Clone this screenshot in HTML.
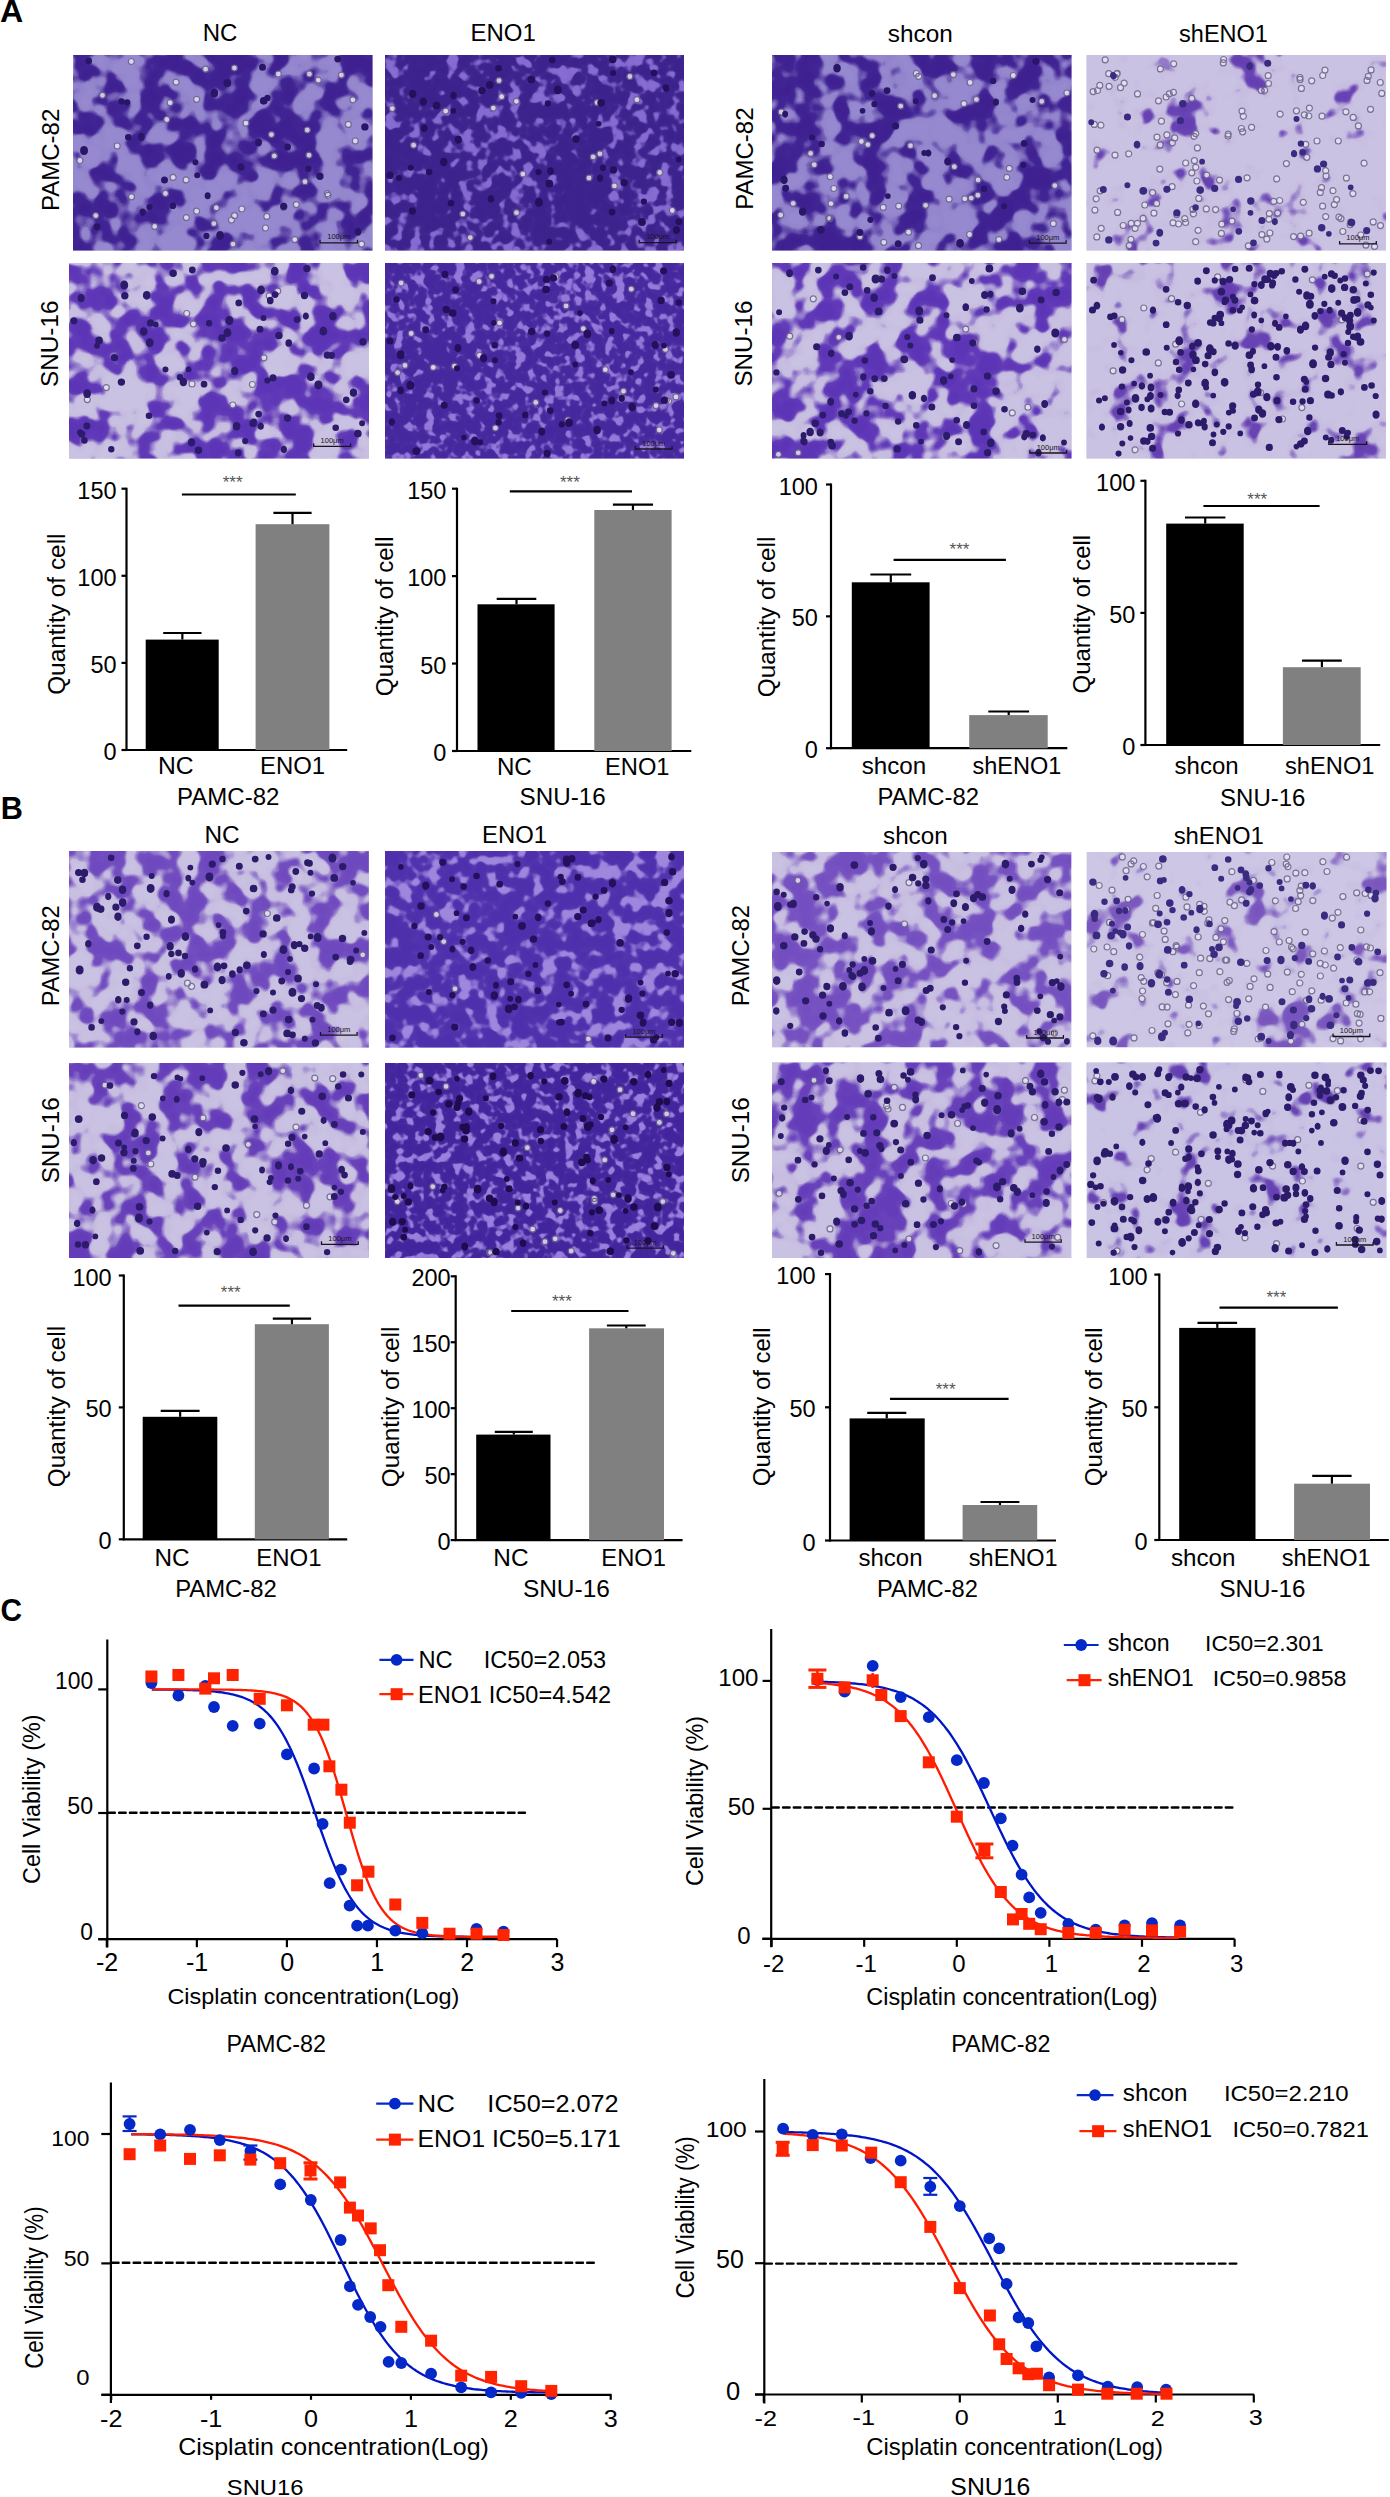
<!DOCTYPE html>
<html><head><meta charset="utf-8"><style>
html,body{margin:0;padding:0;background:#fff;}
svg{display:block;font-family:"Liberation Sans",sans-serif;}
</style></head><body>
<svg width="1390" height="2497" viewBox="0 0 1390 2497">
<rect width="1390" height="2497" fill="#fff"/>
<text transform="translate(-0.10,22.01) scale(1.0061,1)" font-size="32.00" font-weight="bold" fill="#000">A</text>
<text transform="translate(0.65,818.56) scale(0.9582,1)" font-size="32.00" font-weight="bold" fill="#000">B</text>
<text transform="translate(0.48,1620.77) scale(0.9320,1)" font-size="32.00" font-weight="bold" fill="#000">C</text>
<text transform="translate(202.72,40.86)" font-size="24.00" fill="#000">NC</text>
<text transform="translate(470.53,40.86)" font-size="24.00" fill="#000">ENO1</text>
<text transform="translate(887.82,41.53) scale(1.0143,1)" font-size="24.00" fill="#000">shcon</text>
<text transform="translate(1179.05,41.53) scale(0.9802,1)" font-size="24.00" fill="#000">shENO1</text>
<text transform="translate(204.50,843.11) scale(1.0163,1)" font-size="24.00" fill="#000">NC</text>
<text transform="translate(482.04,843.11) scale(0.9933,1)" font-size="24.00" fill="#000">ENO1</text>
<text transform="translate(883.03,844.13) scale(1.0094,1)" font-size="24.00" fill="#000">shcon</text>
<text transform="translate(1173.64,844.13) scale(0.9948,1)" font-size="24.00" fill="#000">shENO1</text>
<text transform="translate(58.81,210.97) rotate(-90)" font-size="24.00" fill="#000">PAMC-82</text>
<text transform="translate(58.41,386.90) rotate(-90) scale(1.0118,1)" font-size="24.00" fill="#000">SNU-16</text>
<text transform="translate(752.51,209.76) rotate(-90)" font-size="24.00" fill="#000">PAMC-82</text>
<text transform="translate(752.36,386.50) rotate(-90) scale(1.0070,1)" font-size="24.00" fill="#000">SNU-16</text>
<text transform="translate(58.81,1006.35) rotate(-90) scale(0.9886,1)" font-size="24.00" fill="#000">PAMC-82</text>
<text transform="translate(58.81,1183.30) rotate(-90) scale(1.0082,1)" font-size="24.00" fill="#000">SNU-16</text>
<text transform="translate(748.66,1006.35) rotate(-90) scale(0.9916,1)" font-size="24.00" fill="#000">PAMC-82</text>
<text transform="translate(748.56,1183.30) rotate(-90) scale(1.0082,1)" font-size="24.00" fill="#000">SNU-16</text>
<defs><filter id="bl" x="0" y="0" width="100%" height="100%" color-interpolation-filters="sRGB"><feGaussianBlur stdDeviation="7" edgeMode="duplicate"/></filter></defs>
<svg x="73.00" y="55.00" width="299.50" height="195.50" viewBox="0 0 299.50 195.50" preserveAspectRatio="none"><rect width="299.50" height="195.50" fill="#6b56b1"/><filter id="oA1" filterUnits="userSpaceOnUse" x="-30" y="-30" width="359.5" height="255.5" color-interpolation-filters="sRGB"><feGaussianBlur in="SourceGraphic" stdDeviation="7" edgeMode="duplicate" result="c"/><feTurbulence type="fractalNoise" baseFrequency="0.045" numOctaves="2" seed="114"/><feColorMatrix type="matrix" values="-1.600 0 0 0 1.300 -1.600 0 0 0 1.300 -1.600 0 0 0 1.300 0 0 0 0 1" result="n"/><feComposite in="c" in2="n" operator="arithmetic" k2="1" k3="1" k4="-0.5" result="s"/><feComponentTransfer in="s"><feFuncR type="table" tableValues="0 0 0.05 0.95 1 1"/><feFuncG type="table" tableValues="0 0 0.05 0.95 1 1"/><feFuncB type="table" tableValues="0 0 0.05 0.95 1 1"/></feComponentTransfer><feColorMatrix type="matrix" values="-0.3451 0 0 0 0.5882 -0.4118 0 0 0 0.5373 -0.2431 0 0 0 0.8118 0 0 0 0 1"/></filter><g filter="url(#oA1)"><rect x="-30.3" y="-30.3" width="55.6" height="55.0" fill="#808080"/><rect x="24.7" y="-30.3" width="25.6" height="55.0" fill="#808080"/><rect x="49.6" y="-30.3" width="25.6" height="55.0" fill="#808080"/><rect x="74.6" y="-30.3" width="25.6" height="55.0" fill="#808080"/><rect x="99.5" y="-30.3" width="25.6" height="55.0" fill="#808080"/><rect x="124.5" y="-30.3" width="25.6" height="55.0" fill="#b2b2b2"/><rect x="149.4" y="-30.3" width="25.6" height="55.0" fill="#b2b2b2"/><rect x="174.4" y="-30.3" width="25.6" height="55.0" fill="#808080"/><rect x="199.4" y="-30.3" width="25.6" height="55.0" fill="#808080"/><rect x="224.3" y="-30.3" width="25.6" height="55.0" fill="#808080"/><rect x="249.3" y="-30.3" width="25.6" height="55.0" fill="#808080"/><rect x="274.2" y="-30.3" width="55.6" height="55.0" fill="#b2b2b2"/><rect x="-30.3" y="24.1" width="55.6" height="25.0" fill="#808080"/><rect x="24.7" y="24.1" width="25.6" height="25.0" fill="#808080"/><rect x="49.6" y="24.1" width="25.6" height="25.0" fill="#414141"/><rect x="74.6" y="24.1" width="25.6" height="25.0" fill="#b2b2b2"/><rect x="99.5" y="24.1" width="25.6" height="25.0" fill="#414141"/><rect x="124.5" y="24.1" width="25.6" height="25.0" fill="#b2b2b2"/><rect x="149.4" y="24.1" width="25.6" height="25.0" fill="#b2b2b2"/><rect x="174.4" y="24.1" width="25.6" height="25.0" fill="#808080"/><rect x="199.4" y="24.1" width="25.6" height="25.0" fill="#808080"/><rect x="224.3" y="24.1" width="25.6" height="25.0" fill="#414141"/><rect x="249.3" y="24.1" width="25.6" height="25.0" fill="#808080"/><rect x="274.2" y="24.1" width="55.6" height="25.0" fill="#414141"/><rect x="-30.3" y="48.6" width="55.6" height="25.0" fill="#b2b2b2"/><rect x="24.7" y="48.6" width="25.6" height="25.0" fill="#b2b2b2"/><rect x="49.6" y="48.6" width="25.6" height="25.0" fill="#b2b2b2"/><rect x="74.6" y="48.6" width="25.6" height="25.0" fill="#808080"/><rect x="99.5" y="48.6" width="25.6" height="25.0" fill="#b2b2b2"/><rect x="124.5" y="48.6" width="25.6" height="25.0" fill="#808080"/><rect x="149.4" y="48.6" width="25.6" height="25.0" fill="#808080"/><rect x="174.4" y="48.6" width="25.6" height="25.0" fill="#b2b2b2"/><rect x="199.4" y="48.6" width="25.6" height="25.0" fill="#b2b2b2"/><rect x="224.3" y="48.6" width="25.6" height="25.0" fill="#b2b2b2"/><rect x="249.3" y="48.6" width="25.6" height="25.0" fill="#808080"/><rect x="274.2" y="48.6" width="55.6" height="25.0" fill="#414141"/><rect x="-30.3" y="73.0" width="55.6" height="25.0" fill="#414141"/><rect x="24.7" y="73.0" width="25.6" height="25.0" fill="#414141"/><rect x="49.6" y="73.0" width="25.6" height="25.0" fill="#b2b2b2"/><rect x="74.6" y="73.0" width="25.6" height="25.0" fill="#808080"/><rect x="99.5" y="73.0" width="25.6" height="25.0" fill="#b2b2b2"/><rect x="124.5" y="73.0" width="25.6" height="25.0" fill="#808080"/><rect x="149.4" y="73.0" width="25.6" height="25.0" fill="#808080"/><rect x="174.4" y="73.0" width="25.6" height="25.0" fill="#b2b2b2"/><rect x="199.4" y="73.0" width="25.6" height="25.0" fill="#b2b2b2"/><rect x="224.3" y="73.0" width="25.6" height="25.0" fill="#808080"/><rect x="249.3" y="73.0" width="25.6" height="25.0" fill="#414141"/><rect x="274.2" y="73.0" width="55.6" height="25.0" fill="#414141"/><rect x="-30.3" y="97.5" width="55.6" height="25.0" fill="#414141"/><rect x="24.7" y="97.5" width="25.6" height="25.0" fill="#808080"/><rect x="49.6" y="97.5" width="25.6" height="25.0" fill="#414141"/><rect x="74.6" y="97.5" width="25.6" height="25.0" fill="#414141"/><rect x="99.5" y="97.5" width="25.6" height="25.0" fill="#b2b2b2"/><rect x="124.5" y="97.5" width="25.6" height="25.0" fill="#b2b2b2"/><rect x="149.4" y="97.5" width="25.6" height="25.0" fill="#808080"/><rect x="174.4" y="97.5" width="25.6" height="25.0" fill="#b2b2b2"/><rect x="199.4" y="97.5" width="25.6" height="25.0" fill="#b2b2b2"/><rect x="224.3" y="97.5" width="25.6" height="25.0" fill="#b2b2b2"/><rect x="249.3" y="97.5" width="25.6" height="25.0" fill="#808080"/><rect x="274.2" y="97.5" width="55.6" height="25.0" fill="#808080"/><rect x="-30.3" y="121.9" width="55.6" height="25.0" fill="#414141"/><rect x="24.7" y="121.9" width="25.6" height="25.0" fill="#808080"/><rect x="49.6" y="121.9" width="25.6" height="25.0" fill="#414141"/><rect x="74.6" y="121.9" width="25.6" height="25.0" fill="#808080"/><rect x="99.5" y="121.9" width="25.6" height="25.0" fill="#414141"/><rect x="124.5" y="121.9" width="25.6" height="25.0" fill="#414141"/><rect x="149.4" y="121.9" width="25.6" height="25.0" fill="#414141"/><rect x="174.4" y="121.9" width="25.6" height="25.0" fill="#414141"/><rect x="199.4" y="121.9" width="25.6" height="25.0" fill="#808080"/><rect x="224.3" y="121.9" width="25.6" height="25.0" fill="#808080"/><rect x="249.3" y="121.9" width="25.6" height="25.0" fill="#414141"/><rect x="274.2" y="121.9" width="55.6" height="25.0" fill="#808080"/><rect x="-30.3" y="146.3" width="55.6" height="25.0" fill="#b2b2b2"/><rect x="24.7" y="146.3" width="25.6" height="25.0" fill="#b2b2b2"/><rect x="49.6" y="146.3" width="25.6" height="25.0" fill="#808080"/><rect x="74.6" y="146.3" width="25.6" height="25.0" fill="#b2b2b2"/><rect x="99.5" y="146.3" width="25.6" height="25.0" fill="#414141"/><rect x="124.5" y="146.3" width="25.6" height="25.0" fill="#414141"/><rect x="149.4" y="146.3" width="25.6" height="25.0" fill="#414141"/><rect x="174.4" y="146.3" width="25.6" height="25.0" fill="#414141"/><rect x="199.4" y="146.3" width="25.6" height="25.0" fill="#414141"/><rect x="224.3" y="146.3" width="25.6" height="25.0" fill="#808080"/><rect x="249.3" y="146.3" width="25.6" height="25.0" fill="#808080"/><rect x="274.2" y="146.3" width="55.6" height="25.0" fill="#808080"/><rect x="-30.3" y="170.8" width="55.6" height="55.0" fill="#b2b2b2"/><rect x="24.7" y="170.8" width="25.6" height="55.0" fill="#808080"/><rect x="49.6" y="170.8" width="25.6" height="55.0" fill="#414141"/><rect x="74.6" y="170.8" width="25.6" height="55.0" fill="#808080"/><rect x="99.5" y="170.8" width="25.6" height="55.0" fill="#414141"/><rect x="124.5" y="170.8" width="25.6" height="55.0" fill="#808080"/><rect x="149.4" y="170.8" width="25.6" height="55.0" fill="#808080"/><rect x="174.4" y="170.8" width="25.6" height="55.0" fill="#414141"/><rect x="199.4" y="170.8" width="25.6" height="55.0" fill="#414141"/><rect x="224.3" y="170.8" width="25.6" height="55.0" fill="#808080"/><rect x="249.3" y="170.8" width="25.6" height="55.0" fill="#808080"/><rect x="274.2" y="170.8" width="55.6" height="55.0" fill="#808080"/></g><path d="M22.8 160.6m-3.0 0a3.0 3.0 0 1 0 6.0 0a3.0 3.0 0 1 0 -6.0 0M205.3 19.0m-3.0 0a3.0 3.0 0 1 0 6.0 0a3.0 3.0 0 1 0 -6.0 0M44.2 91.0m-3.0 0a3.0 3.0 0 1 0 6.0 0a3.0 3.0 0 1 0 -6.0 0M245.3 25.1m-3.0 0a3.0 3.0 0 1 0 6.0 0a3.0 3.0 0 1 0 -6.0 0M123.6 44.3m-3.0 0a3.0 3.0 0 1 0 6.0 0a3.0 3.0 0 1 0 -6.0 0M279.9 44.8m-3.0 0a3.0 3.0 0 1 0 6.0 0a3.0 3.0 0 1 0 -6.0 0M234.3 75.0m-3.0 0a3.0 3.0 0 1 0 6.0 0a3.0 3.0 0 1 0 -6.0 0M254.4 138.7m-3.0 0a3.0 3.0 0 1 0 6.0 0a3.0 3.0 0 1 0 -6.0 0M140.9 168.6m-3.0 0a3.0 3.0 0 1 0 6.0 0a3.0 3.0 0 1 0 -6.0 0M161.4 13.0m-3.0 0a3.0 3.0 0 1 0 6.0 0a3.0 3.0 0 1 0 -6.0 0M198.4 79.6m-3.0 0a3.0 3.0 0 1 0 6.0 0a3.0 3.0 0 1 0 -6.0 0M100.1 122.4m-3.0 0a3.0 3.0 0 1 0 6.0 0a3.0 3.0 0 1 0 -6.0 0M282.3 86.0m-3.0 0a3.0 3.0 0 1 0 6.0 0a3.0 3.0 0 1 0 -6.0 0M58.3 6.5m-3.0 0a3.0 3.0 0 1 0 6.0 0a3.0 3.0 0 1 0 -6.0 0M221.8 184.6m-3.0 0a3.0 3.0 0 1 0 6.0 0a3.0 3.0 0 1 0 -6.0 0M29.5 40.3m-3.0 0a3.0 3.0 0 1 0 6.0 0a3.0 3.0 0 1 0 -6.0 0M236.4 19.0m-3.0 0a3.0 3.0 0 1 0 6.0 0a3.0 3.0 0 1 0 -6.0 0M143.3 152.7m-3.0 0a3.0 3.0 0 1 0 6.0 0a3.0 3.0 0 1 0 -6.0 0M123.6 156.2m-3.0 0a3.0 3.0 0 1 0 6.0 0a3.0 3.0 0 1 0 -6.0 0M161.5 160.7m-3.0 0a3.0 3.0 0 1 0 6.0 0a3.0 3.0 0 1 0 -6.0 0M232.0 126.7m-3.0 0a3.0 3.0 0 1 0 6.0 0a3.0 3.0 0 1 0 -6.0 0M288.6 189.1m-3.0 0a3.0 3.0 0 1 0 6.0 0a3.0 3.0 0 1 0 -6.0 0M113.3 162.6m-3.0 0a3.0 3.0 0 1 0 6.0 0a3.0 3.0 0 1 0 -6.0 0M210.8 152.4m-3.0 0a3.0 3.0 0 1 0 6.0 0a3.0 3.0 0 1 0 -6.0 0M193.8 161.4m-3.0 0a3.0 3.0 0 1 0 6.0 0a3.0 3.0 0 1 0 -6.0 0M160.0 189.1m-3.0 0a3.0 3.0 0 1 0 6.0 0a3.0 3.0 0 1 0 -6.0 0M103.1 27.1m-3.0 0a3.0 3.0 0 1 0 6.0 0a3.0 3.0 0 1 0 -6.0 0M168.8 154.0m-3.0 0a3.0 3.0 0 1 0 6.0 0a3.0 3.0 0 1 0 -6.0 0M92.5 138.5m-3.0 0a3.0 3.0 0 1 0 6.0 0a3.0 3.0 0 1 0 -6.0 0M113.1 124.9m-3.0 0a3.0 3.0 0 1 0 6.0 0a3.0 3.0 0 1 0 -6.0 0M192.5 173.0m-3.0 0a3.0 3.0 0 1 0 6.0 0a3.0 3.0 0 1 0 -6.0 0M97.1 47.7m-3.0 0a3.0 3.0 0 1 0 6.0 0a3.0 3.0 0 1 0 -6.0 0M93.8 64.5m-3.0 0a3.0 3.0 0 1 0 6.0 0a3.0 3.0 0 1 0 -6.0 0M6.9 105.5m-3.0 0a3.0 3.0 0 1 0 6.0 0a3.0 3.0 0 1 0 -6.0 0M223.3 149.6m-3.0 0a3.0 3.0 0 1 0 6.0 0a3.0 3.0 0 1 0 -6.0 0M236.0 100.2m-3.0 0a3.0 3.0 0 1 0 6.0 0a3.0 3.0 0 1 0 -6.0 0M158.5 165.0m-3.0 0a3.0 3.0 0 1 0 6.0 0a3.0 3.0 0 1 0 -6.0 0M81.7 171.4m-3.0 0a3.0 3.0 0 1 0 6.0 0a3.0 3.0 0 1 0 -6.0 0M275.3 69.4m-3.0 0a3.0 3.0 0 1 0 6.0 0a3.0 3.0 0 1 0 -6.0 0M255.1 140.3m-3.0 0a3.0 3.0 0 1 0 6.0 0a3.0 3.0 0 1 0 -6.0 0M58.5 141.8m-3.0 0a3.0 3.0 0 1 0 6.0 0a3.0 3.0 0 1 0 -6.0 0M132.6 14.2m-3.0 0a3.0 3.0 0 1 0 6.0 0a3.0 3.0 0 1 0 -6.0 0M268.4 20.1m-3.0 0a3.0 3.0 0 1 0 6.0 0a3.0 3.0 0 1 0 -6.0 0M173.0 68.2m-3.0 0a3.0 3.0 0 1 0 6.0 0a3.0 3.0 0 1 0 -6.0 0M201.3 100.9m-3.0 0a3.0 3.0 0 1 0 6.0 0a3.0 3.0 0 1 0 -6.0 0" fill="#e8e2f4" stroke="#6a6488" stroke-width="1.2" opacity="0.85"/><path d="M11.1 95.5m-3.9 0a3.9 3.9 0 1 0 7.7 0a3.9 3.9 0 1 0 -7.7 0M68.4 81.9m-3.4 0a3.4 3.4 0 1 0 6.7 0a3.4 3.4 0 1 0 -6.7 0M285.1 176.8m-3.3 0a3.3 3.3 0 1 0 6.5 0a3.3 3.3 0 1 0 -6.5 0M91.5 125.1m-3.5 0a3.5 3.5 0 1 0 7.0 0a3.5 3.5 0 1 0 -7.0 0M194.5 42.9m-3.2 0a3.2 3.2 0 1 0 6.4 0a3.2 3.2 0 1 0 -6.4 0M55.3 82.2m-3.3 0a3.3 3.3 0 1 0 6.6 0a3.3 3.3 0 1 0 -6.6 0M15.7 5.9m-3.3 0a3.3 3.3 0 1 0 6.6 0a3.3 3.3 0 1 0 -6.6 0M210.7 151.3m-3.6 0a3.6 3.6 0 1 0 7.2 0a3.6 3.6 0 1 0 -7.2 0M69.7 157.2m-3.2 0a3.2 3.2 0 1 0 6.3 0a3.2 3.2 0 1 0 -6.3 0M190.7 45.8m-3.8 0a3.8 3.8 0 1 0 7.7 0a3.8 3.8 0 1 0 -7.7 0M24.0 171.8m-3.5 0a3.5 3.5 0 1 0 7.0 0a3.5 3.5 0 1 0 -7.0 0M264.7 4.1m-3.4 0a3.4 3.4 0 1 0 6.9 0a3.4 3.4 0 1 0 -6.9 0M76.5 152.1m-3.1 0a3.1 3.1 0 1 0 6.2 0a3.1 3.1 0 1 0 -6.2 0M147.1 180.4m-3.8 0a3.8 3.8 0 1 0 7.5 0a3.8 3.8 0 1 0 -7.5 0M122.4 107.2m-3.0 0a3.0 3.0 0 1 0 6.0 0a3.0 3.0 0 1 0 -6.0 0M141.3 38.1m-3.9 0a3.9 3.9 0 1 0 7.7 0a3.9 3.9 0 1 0 -7.7 0M134.7 140.7m-3.0 0a3.0 3.0 0 1 0 5.9 0a3.0 3.0 0 1 0 -5.9 0M291.9 71.9m-3.7 0a3.7 3.7 0 1 0 7.4 0a3.7 3.7 0 1 0 -7.4 0M99.8 150.7m-3.3 0a3.3 3.3 0 1 0 6.7 0a3.3 3.3 0 1 0 -6.7 0M167.8 111.9m-3.5 0a3.5 3.5 0 1 0 7.1 0a3.5 3.5 0 1 0 -7.1 0M133.4 180.9m-3.1 0a3.1 3.1 0 1 0 6.2 0a3.1 3.1 0 1 0 -6.2 0M185.6 87.4m-3.4 0a3.4 3.4 0 1 0 6.7 0a3.4 3.4 0 1 0 -6.7 0M246.9 121.2m-3.7 0a3.7 3.7 0 1 0 7.4 0a3.7 3.7 0 1 0 -7.4 0M54.2 47.3m-3.1 0a3.1 3.1 0 1 0 6.3 0a3.1 3.1 0 1 0 -6.3 0M124.2 120.2m-3.0 0a3.0 3.0 0 1 0 6.1 0a3.0 3.0 0 1 0 -6.1 0M214.6 92.0m-3.4 0a3.4 3.4 0 1 0 6.8 0a3.4 3.4 0 1 0 -6.8 0M189.5 12.2m-3.5 0a3.5 3.5 0 1 0 7.0 0a3.5 3.5 0 1 0 -7.0 0M154.3 28.0m-3.9 0a3.9 3.9 0 1 0 7.8 0a3.9 3.9 0 1 0 -7.8 0M235.4 113.7m-3.1 0a3.1 3.1 0 1 0 6.2 0a3.1 3.1 0 1 0 -6.2 0M48.4 46.4m-3.1 0a3.1 3.1 0 1 0 6.3 0a3.1 3.1 0 1 0 -6.3 0" fill="#2a1668"/></svg>
<svg x="385.00" y="55.00" width="299.00" height="195.50" viewBox="0 0 299.00 195.50" preserveAspectRatio="none"><rect width="299.00" height="195.50" fill="#4a3298"/><filter id="oA2" filterUnits="userSpaceOnUse" x="-30" y="-30" width="359.0" height="255.5" color-interpolation-filters="sRGB"><feGaussianBlur in="SourceGraphic" stdDeviation="7" edgeMode="duplicate" result="c"/><feTurbulence type="fractalNoise" baseFrequency="0.080" numOctaves="2" seed="115"/><feColorMatrix type="matrix" values="-1.600 0 0 0 1.300 -1.600 0 0 0 1.300 -1.600 0 0 0 1.300 0 0 0 0 1" result="n"/><feComposite in="c" in2="n" operator="arithmetic" k2="1" k3="1" k4="-0.5" result="s"/><feComponentTransfer in="s"><feFuncR type="table" tableValues="0 0 0.05 0.95 1 1"/><feFuncG type="table" tableValues="0 0 0.05 0.95 1 1"/><feFuncB type="table" tableValues="0 0 0.05 0.95 1 1"/></feComponentTransfer><feColorMatrix type="matrix" values="-0.2941 0 0 0 0.5294 -0.2902 0 0 0 0.4235 -0.2745 0 0 0 0.8235 0 0 0 0 1"/></filter><g filter="url(#oA2)"><rect x="-30.3" y="-30.3" width="55.5" height="55.0" fill="#888888"/><rect x="24.6" y="-30.3" width="25.5" height="55.0" fill="#dbdbdb"/><rect x="49.5" y="-30.3" width="25.5" height="55.0" fill="#a3a3a3"/><rect x="74.5" y="-30.3" width="25.5" height="55.0" fill="#a3a3a3"/><rect x="99.4" y="-30.3" width="25.5" height="55.0" fill="#dbdbdb"/><rect x="124.3" y="-30.3" width="25.5" height="55.0" fill="#a3a3a3"/><rect x="149.2" y="-30.3" width="25.5" height="55.0" fill="#a3a3a3"/><rect x="174.1" y="-30.3" width="25.5" height="55.0" fill="#888888"/><rect x="199.0" y="-30.3" width="25.5" height="55.0" fill="#a3a3a3"/><rect x="223.9" y="-30.3" width="25.5" height="55.0" fill="#888888"/><rect x="248.9" y="-30.3" width="25.5" height="55.0" fill="#a3a3a3"/><rect x="273.8" y="-30.3" width="55.5" height="55.0" fill="#a3a3a3"/><rect x="-30.3" y="24.1" width="55.5" height="25.0" fill="#dbdbdb"/><rect x="24.6" y="24.1" width="25.5" height="25.0" fill="#dbdbdb"/><rect x="49.5" y="24.1" width="25.5" height="25.0" fill="#dbdbdb"/><rect x="74.5" y="24.1" width="25.5" height="25.0" fill="#dbdbdb"/><rect x="99.4" y="24.1" width="25.5" height="25.0" fill="#a3a3a3"/><rect x="124.3" y="24.1" width="25.5" height="25.0" fill="#888888"/><rect x="149.2" y="24.1" width="25.5" height="25.0" fill="#a3a3a3"/><rect x="174.1" y="24.1" width="25.5" height="25.0" fill="#888888"/><rect x="199.0" y="24.1" width="25.5" height="25.0" fill="#dbdbdb"/><rect x="223.9" y="24.1" width="25.5" height="25.0" fill="#a3a3a3"/><rect x="248.9" y="24.1" width="25.5" height="25.0" fill="#a3a3a3"/><rect x="273.8" y="24.1" width="55.5" height="25.0" fill="#a3a3a3"/><rect x="-30.3" y="48.6" width="55.5" height="25.0" fill="#a3a3a3"/><rect x="24.6" y="48.6" width="25.5" height="25.0" fill="#a3a3a3"/><rect x="49.5" y="48.6" width="25.5" height="25.0" fill="#a3a3a3"/><rect x="74.5" y="48.6" width="25.5" height="25.0" fill="#a3a3a3"/><rect x="99.4" y="48.6" width="25.5" height="25.0" fill="#888888"/><rect x="124.3" y="48.6" width="25.5" height="25.0" fill="#dbdbdb"/><rect x="149.2" y="48.6" width="25.5" height="25.0" fill="#dbdbdb"/><rect x="174.1" y="48.6" width="25.5" height="25.0" fill="#a3a3a3"/><rect x="199.0" y="48.6" width="25.5" height="25.0" fill="#a3a3a3"/><rect x="223.9" y="48.6" width="25.5" height="25.0" fill="#a3a3a3"/><rect x="248.9" y="48.6" width="25.5" height="25.0" fill="#888888"/><rect x="273.8" y="48.6" width="55.5" height="25.0" fill="#a3a3a3"/><rect x="-30.3" y="73.0" width="55.5" height="25.0" fill="#dbdbdb"/><rect x="24.6" y="73.0" width="25.5" height="25.0" fill="#a3a3a3"/><rect x="49.5" y="73.0" width="25.5" height="25.0" fill="#a3a3a3"/><rect x="74.5" y="73.0" width="25.5" height="25.0" fill="#888888"/><rect x="99.4" y="73.0" width="25.5" height="25.0" fill="#a3a3a3"/><rect x="124.3" y="73.0" width="25.5" height="25.0" fill="#a3a3a3"/><rect x="149.2" y="73.0" width="25.5" height="25.0" fill="#a3a3a3"/><rect x="174.1" y="73.0" width="25.5" height="25.0" fill="#a3a3a3"/><rect x="199.0" y="73.0" width="25.5" height="25.0" fill="#dbdbdb"/><rect x="223.9" y="73.0" width="25.5" height="25.0" fill="#a3a3a3"/><rect x="248.9" y="73.0" width="25.5" height="25.0" fill="#a3a3a3"/><rect x="273.8" y="73.0" width="55.5" height="25.0" fill="#a3a3a3"/><rect x="-30.3" y="97.5" width="55.5" height="25.0" fill="#dbdbdb"/><rect x="24.6" y="97.5" width="25.5" height="25.0" fill="#a3a3a3"/><rect x="49.5" y="97.5" width="25.5" height="25.0" fill="#dbdbdb"/><rect x="74.5" y="97.5" width="25.5" height="25.0" fill="#888888"/><rect x="99.4" y="97.5" width="25.5" height="25.0" fill="#a3a3a3"/><rect x="124.3" y="97.5" width="25.5" height="25.0" fill="#a3a3a3"/><rect x="149.2" y="97.5" width="25.5" height="25.0" fill="#a3a3a3"/><rect x="174.1" y="97.5" width="25.5" height="25.0" fill="#dbdbdb"/><rect x="199.0" y="97.5" width="25.5" height="25.0" fill="#dbdbdb"/><rect x="223.9" y="97.5" width="25.5" height="25.0" fill="#a3a3a3"/><rect x="248.9" y="97.5" width="25.5" height="25.0" fill="#a3a3a3"/><rect x="273.8" y="97.5" width="55.5" height="25.0" fill="#a3a3a3"/><rect x="-30.3" y="121.9" width="55.5" height="25.0" fill="#a3a3a3"/><rect x="24.6" y="121.9" width="25.5" height="25.0" fill="#dbdbdb"/><rect x="49.5" y="121.9" width="25.5" height="25.0" fill="#dbdbdb"/><rect x="74.5" y="121.9" width="25.5" height="25.0" fill="#888888"/><rect x="99.4" y="121.9" width="25.5" height="25.0" fill="#dbdbdb"/><rect x="124.3" y="121.9" width="25.5" height="25.0" fill="#888888"/><rect x="149.2" y="121.9" width="25.5" height="25.0" fill="#a3a3a3"/><rect x="174.1" y="121.9" width="25.5" height="25.0" fill="#dbdbdb"/><rect x="199.0" y="121.9" width="25.5" height="25.0" fill="#dbdbdb"/><rect x="223.9" y="121.9" width="25.5" height="25.0" fill="#a3a3a3"/><rect x="248.9" y="121.9" width="25.5" height="25.0" fill="#888888"/><rect x="273.8" y="121.9" width="55.5" height="25.0" fill="#888888"/><rect x="-30.3" y="146.3" width="55.5" height="25.0" fill="#a3a3a3"/><rect x="24.6" y="146.3" width="25.5" height="25.0" fill="#dbdbdb"/><rect x="49.5" y="146.3" width="25.5" height="25.0" fill="#dbdbdb"/><rect x="74.5" y="146.3" width="25.5" height="25.0" fill="#a3a3a3"/><rect x="99.4" y="146.3" width="25.5" height="25.0" fill="#dbdbdb"/><rect x="124.3" y="146.3" width="25.5" height="25.0" fill="#888888"/><rect x="149.2" y="146.3" width="25.5" height="25.0" fill="#dbdbdb"/><rect x="174.1" y="146.3" width="25.5" height="25.0" fill="#dbdbdb"/><rect x="199.0" y="146.3" width="25.5" height="25.0" fill="#dbdbdb"/><rect x="223.9" y="146.3" width="25.5" height="25.0" fill="#a3a3a3"/><rect x="248.9" y="146.3" width="25.5" height="25.0" fill="#a3a3a3"/><rect x="273.8" y="146.3" width="55.5" height="25.0" fill="#a3a3a3"/><rect x="-30.3" y="170.8" width="55.5" height="55.0" fill="#a3a3a3"/><rect x="24.6" y="170.8" width="25.5" height="55.0" fill="#a3a3a3"/><rect x="49.5" y="170.8" width="25.5" height="55.0" fill="#a3a3a3"/><rect x="74.5" y="170.8" width="25.5" height="55.0" fill="#a3a3a3"/><rect x="99.4" y="170.8" width="25.5" height="55.0" fill="#888888"/><rect x="124.3" y="170.8" width="25.5" height="55.0" fill="#a3a3a3"/><rect x="149.2" y="170.8" width="25.5" height="55.0" fill="#dbdbdb"/><rect x="174.1" y="170.8" width="25.5" height="55.0" fill="#a3a3a3"/><rect x="199.0" y="170.8" width="25.5" height="55.0" fill="#a3a3a3"/><rect x="223.9" y="170.8" width="25.5" height="55.0" fill="#a3a3a3"/><rect x="248.9" y="170.8" width="25.5" height="55.0" fill="#a3a3a3"/><rect x="273.8" y="170.8" width="55.5" height="55.0" fill="#a3a3a3"/></g><path d="M208.2 101.9m-3.0 0a3.0 3.0 0 1 0 6.0 0a3.0 3.0 0 1 0 -6.0 0M116.6 41.7m-3.0 0a3.0 3.0 0 1 0 6.0 0a3.0 3.0 0 1 0 -6.0 0M244.9 21.5m-3.0 0a3.0 3.0 0 1 0 6.0 0a3.0 3.0 0 1 0 -6.0 0M287.3 155.5m-3.0 0a3.0 3.0 0 1 0 6.0 0a3.0 3.0 0 1 0 -6.0 0M229.4 130.9m-3.0 0a3.0 3.0 0 1 0 6.0 0a3.0 3.0 0 1 0 -6.0 0M251.9 44.7m-3.0 0a3.0 3.0 0 1 0 6.0 0a3.0 3.0 0 1 0 -6.0 0M7.3 53.6m-3.0 0a3.0 3.0 0 1 0 6.0 0a3.0 3.0 0 1 0 -6.0 0M131.5 157.7m-3.0 0a3.0 3.0 0 1 0 6.0 0a3.0 3.0 0 1 0 -6.0 0M212.1 47.6m-3.0 0a3.0 3.0 0 1 0 6.0 0a3.0 3.0 0 1 0 -6.0 0M108.3 53.1m-3.0 0a3.0 3.0 0 1 0 6.0 0a3.0 3.0 0 1 0 -6.0 0M114.0 25.6m-3.0 0a3.0 3.0 0 1 0 6.0 0a3.0 3.0 0 1 0 -6.0 0M204.0 123.0m-3.0 0a3.0 3.0 0 1 0 6.0 0a3.0 3.0 0 1 0 -6.0 0M274.7 117.5m-3.0 0a3.0 3.0 0 1 0 6.0 0a3.0 3.0 0 1 0 -6.0 0M28.6 90.2m-3.0 0a3.0 3.0 0 1 0 6.0 0a3.0 3.0 0 1 0 -6.0 0M214.9 98.8m-3.0 0a3.0 3.0 0 1 0 6.0 0a3.0 3.0 0 1 0 -6.0 0M85.3 182.6m-3.0 0a3.0 3.0 0 1 0 6.0 0a3.0 3.0 0 1 0 -6.0 0M131.4 46.3m-3.0 0a3.0 3.0 0 1 0 6.0 0a3.0 3.0 0 1 0 -6.0 0M137.8 119.0m-3.0 0a3.0 3.0 0 1 0 6.0 0a3.0 3.0 0 1 0 -6.0 0M60.7 56.1m-3.0 0a3.0 3.0 0 1 0 6.0 0a3.0 3.0 0 1 0 -6.0 0M77.8 159.0m-3.0 0a3.0 3.0 0 1 0 6.0 0a3.0 3.0 0 1 0 -6.0 0" fill="#e8e2f4" stroke="#6a6488" stroke-width="1.2" opacity="0.85"/><path d="M44.1 117.1m-3.2 0a3.2 3.2 0 1 0 6.5 0a3.2 3.2 0 1 0 -6.5 0M39.2 73.2m-3.3 0a3.3 3.3 0 1 0 6.5 0a3.3 3.3 0 1 0 -6.5 0M164.1 186.7m-3.0 0a3.0 3.0 0 1 0 6.1 0a3.0 3.0 0 1 0 -6.1 0M154.0 147.3m-3.9 0a3.9 3.9 0 1 0 7.7 0a3.9 3.9 0 1 0 -7.7 0M293.6 104.6m-2.8 0a2.8 2.8 0 1 0 5.6 0a2.8 2.8 0 1 0 -5.6 0M172.9 34.9m-3.8 0a3.8 3.8 0 1 0 7.5 0a3.8 3.8 0 1 0 -7.5 0M162.8 48.4m-3.0 0a3.0 3.0 0 1 0 6.1 0a3.0 3.0 0 1 0 -6.1 0M191.0 84.0m-3.7 0a3.7 3.7 0 1 0 7.4 0a3.7 3.7 0 1 0 -7.4 0M27.7 38.9m-3.6 0a3.6 3.6 0 1 0 7.1 0a3.6 3.6 0 1 0 -7.1 0M281.3 33.8m-3.0 0a3.0 3.0 0 1 0 6.0 0a3.0 3.0 0 1 0 -6.0 0M228.5 114.9m-3.6 0a3.6 3.6 0 1 0 7.2 0a3.6 3.6 0 1 0 -7.2 0M25.8 112.7m-3.0 0a3.0 3.0 0 1 0 6.0 0a3.0 3.0 0 1 0 -6.0 0M38.3 46.7m-3.5 0a3.5 3.5 0 1 0 6.9 0a3.5 3.5 0 1 0 -6.9 0M291.5 175.0m-3.5 0a3.5 3.5 0 1 0 6.9 0a3.5 3.5 0 1 0 -6.9 0M228.1 18.0m-3.0 0a3.0 3.0 0 1 0 6.0 0a3.0 3.0 0 1 0 -6.0 0M165.6 116.0m-3.3 0a3.3 3.3 0 1 0 6.5 0a3.3 3.3 0 1 0 -6.5 0M66.0 148.2m-3.3 0a3.3 3.3 0 1 0 6.6 0a3.3 3.3 0 1 0 -6.6 0M73.4 84.6m-3.5 0a3.5 3.5 0 1 0 6.9 0a3.5 3.5 0 1 0 -6.9 0M14.0 122.9m-3.0 0a3.0 3.0 0 1 0 6.0 0a3.0 3.0 0 1 0 -6.0 0M167.3 5.1m-3.3 0a3.3 3.3 0 1 0 6.6 0a3.3 3.3 0 1 0 -6.6 0M218.0 112.8m-3.1 0a3.1 3.1 0 1 0 6.2 0a3.1 3.1 0 1 0 -6.2 0M27.4 156.1m-3.6 0a3.6 3.6 0 1 0 7.2 0a3.6 3.6 0 1 0 -7.2 0M68.3 55.9m-2.8 0a2.8 2.8 0 1 0 5.6 0a2.8 2.8 0 1 0 -5.6 0M227.6 4.3m-3.9 0a3.9 3.9 0 1 0 7.8 0a3.9 3.9 0 1 0 -7.8 0M216.1 47.8m-3.8 0a3.8 3.8 0 1 0 7.6 0a3.8 3.8 0 1 0 -7.6 0M257.0 167.0m-3.9 0a3.9 3.9 0 1 0 7.8 0a3.9 3.9 0 1 0 -7.8 0M164.3 128.7m-3.8 0a3.8 3.8 0 1 0 7.7 0a3.8 3.8 0 1 0 -7.7 0M215.1 123.2m-3.1 0a3.1 3.1 0 1 0 6.1 0a3.1 3.1 0 1 0 -6.1 0M68.6 40.5m-3.2 0a3.2 3.2 0 1 0 6.3 0a3.2 3.2 0 1 0 -6.3 0M227.1 157.1m-3.4 0a3.4 3.4 0 1 0 6.8 0a3.4 3.4 0 1 0 -6.8 0M96.9 35.6m-3.7 0a3.7 3.7 0 1 0 7.4 0a3.7 3.7 0 1 0 -7.4 0M51.5 50.6m-3.9 0a3.9 3.9 0 1 0 7.8 0a3.9 3.9 0 1 0 -7.8 0M213.7 68.8m-2.8 0a2.8 2.8 0 1 0 5.6 0a2.8 2.8 0 1 0 -5.6 0M106.0 143.9m-3.2 0a3.2 3.2 0 1 0 6.3 0a3.2 3.2 0 1 0 -6.3 0M58.8 107.0m-3.6 0a3.6 3.6 0 1 0 7.1 0a3.6 3.6 0 1 0 -7.1 0M113.5 13.2m-3.3 0a3.3 3.3 0 1 0 6.6 0a3.3 3.3 0 1 0 -6.6 0M5.0 120.2m-3.7 0a3.7 3.7 0 1 0 7.5 0a3.7 3.7 0 1 0 -7.5 0M280.8 32.4m-3.1 0a3.1 3.1 0 1 0 6.2 0a3.1 3.1 0 1 0 -6.2 0M146.1 24.5m-3.8 0a3.8 3.8 0 1 0 7.7 0a3.8 3.8 0 1 0 -7.7 0M239.1 127.8m-3.7 0a3.7 3.7 0 1 0 7.4 0a3.7 3.7 0 1 0 -7.4 0M153.5 117.1m-3.1 0a3.1 3.1 0 1 0 6.2 0a3.1 3.1 0 1 0 -6.2 0M268.9 17.8m-3.4 0a3.4 3.4 0 1 0 6.8 0a3.4 3.4 0 1 0 -6.8 0M104.8 29.9m-3.8 0a3.8 3.8 0 1 0 7.6 0a3.8 3.8 0 1 0 -7.6 0M258.9 146.6m-3.1 0a3.1 3.1 0 1 0 6.2 0a3.1 3.1 0 1 0 -6.2 0M293.9 166.7m-3.4 0a3.4 3.4 0 1 0 6.8 0a3.4 3.4 0 1 0 -6.8 0" fill="#24105c"/></svg>
<svg x="69.00" y="263.00" width="300.00" height="195.50" viewBox="0 0 300.00 195.50" preserveAspectRatio="none"><rect width="300.00" height="195.50" fill="#9078cb"/><filter id="oA3" filterUnits="userSpaceOnUse" x="-30" y="-30" width="360.0" height="255.5" color-interpolation-filters="sRGB"><feGaussianBlur in="SourceGraphic" stdDeviation="7" edgeMode="duplicate" result="c"/><feTurbulence type="fractalNoise" baseFrequency="0.045" numOctaves="2" seed="116"/><feColorMatrix type="matrix" values="-1.600 0 0 0 1.300 -1.600 0 0 0 1.300 -1.600 0 0 0 1.300 0 0 0 0 1" result="n"/><feComposite in="c" in2="n" operator="arithmetic" k2="1" k3="1" k4="-0.5" result="s"/><feComponentTransfer in="s"><feFuncR type="table" tableValues="0 0 0.05 0.95 1 1"/><feFuncG type="table" tableValues="0 0 0.05 0.95 1 1"/><feFuncB type="table" tableValues="0 0 0.05 0.95 1 1"/></feComponentTransfer><feColorMatrix type="matrix" values="-0.4314 0 0 0 0.7922 -0.5569 0 0 0 0.7608 -0.1725 0 0 0 0.8863 0 0 0 0 1"/></filter><g filter="url(#oA3)"><rect x="-30.3" y="-30.3" width="55.6" height="55.0" fill="#5a5a5a"/><rect x="24.7" y="-30.3" width="25.6" height="55.0" fill="#868686"/><rect x="49.7" y="-30.3" width="25.6" height="55.0" fill="#5a5a5a"/><rect x="74.7" y="-30.3" width="25.6" height="55.0" fill="#868686"/><rect x="99.7" y="-30.3" width="25.6" height="55.0" fill="#868686"/><rect x="124.7" y="-30.3" width="25.6" height="55.0" fill="#868686"/><rect x="149.7" y="-30.3" width="25.6" height="55.0" fill="#b2b2b2"/><rect x="174.7" y="-30.3" width="25.6" height="55.0" fill="#868686"/><rect x="199.7" y="-30.3" width="25.6" height="55.0" fill="#868686"/><rect x="224.7" y="-30.3" width="25.6" height="55.0" fill="#b2b2b2"/><rect x="249.7" y="-30.3" width="25.6" height="55.0" fill="#020202"/><rect x="274.7" y="-30.3" width="55.6" height="55.0" fill="#868686"/><rect x="-30.3" y="24.1" width="55.6" height="25.0" fill="#868686"/><rect x="24.7" y="24.1" width="25.6" height="25.0" fill="#b2b2b2"/><rect x="49.7" y="24.1" width="25.6" height="25.0" fill="#5a5a5a"/><rect x="74.7" y="24.1" width="25.6" height="25.0" fill="#b2b2b2"/><rect x="99.7" y="24.1" width="25.6" height="25.0" fill="#5a5a5a"/><rect x="124.7" y="24.1" width="25.6" height="25.0" fill="#5a5a5a"/><rect x="149.7" y="24.1" width="25.6" height="25.0" fill="#868686"/><rect x="174.7" y="24.1" width="25.6" height="25.0" fill="#868686"/><rect x="199.7" y="24.1" width="25.6" height="25.0" fill="#5a5a5a"/><rect x="224.7" y="24.1" width="25.6" height="25.0" fill="#5a5a5a"/><rect x="249.7" y="24.1" width="25.6" height="25.0" fill="#5a5a5a"/><rect x="274.7" y="24.1" width="55.6" height="25.0" fill="#868686"/><rect x="-30.3" y="48.6" width="55.6" height="25.0" fill="#868686"/><rect x="24.7" y="48.6" width="25.6" height="25.0" fill="#868686"/><rect x="49.7" y="48.6" width="25.6" height="25.0" fill="#868686"/><rect x="74.7" y="48.6" width="25.6" height="25.0" fill="#b2b2b2"/><rect x="99.7" y="48.6" width="25.6" height="25.0" fill="#5a5a5a"/><rect x="124.7" y="48.6" width="25.6" height="25.0" fill="#b2b2b2"/><rect x="149.7" y="48.6" width="25.6" height="25.0" fill="#b2b2b2"/><rect x="174.7" y="48.6" width="25.6" height="25.0" fill="#b2b2b2"/><rect x="199.7" y="48.6" width="25.6" height="25.0" fill="#5a5a5a"/><rect x="224.7" y="48.6" width="25.6" height="25.0" fill="#b2b2b2"/><rect x="249.7" y="48.6" width="25.6" height="25.0" fill="#b2b2b2"/><rect x="274.7" y="48.6" width="55.6" height="25.0" fill="#868686"/><rect x="-30.3" y="73.0" width="55.6" height="25.0" fill="#b2b2b2"/><rect x="24.7" y="73.0" width="25.6" height="25.0" fill="#b2b2b2"/><rect x="49.7" y="73.0" width="25.6" height="25.0" fill="#5a5a5a"/><rect x="74.7" y="73.0" width="25.6" height="25.0" fill="#b2b2b2"/><rect x="99.7" y="73.0" width="25.6" height="25.0" fill="#868686"/><rect x="124.7" y="73.0" width="25.6" height="25.0" fill="#868686"/><rect x="149.7" y="73.0" width="25.6" height="25.0" fill="#b2b2b2"/><rect x="174.7" y="73.0" width="25.6" height="25.0" fill="#868686"/><rect x="199.7" y="73.0" width="25.6" height="25.0" fill="#868686"/><rect x="224.7" y="73.0" width="25.6" height="25.0" fill="#868686"/><rect x="249.7" y="73.0" width="25.6" height="25.0" fill="#b2b2b2"/><rect x="274.7" y="73.0" width="55.6" height="25.0" fill="#5a5a5a"/><rect x="-30.3" y="97.5" width="55.6" height="25.0" fill="#5a5a5a"/><rect x="24.7" y="97.5" width="25.6" height="25.0" fill="#868686"/><rect x="49.7" y="97.5" width="25.6" height="25.0" fill="#5a5a5a"/><rect x="74.7" y="97.5" width="25.6" height="25.0" fill="#b2b2b2"/><rect x="99.7" y="97.5" width="25.6" height="25.0" fill="#868686"/><rect x="124.7" y="97.5" width="25.6" height="25.0" fill="#868686"/><rect x="149.7" y="97.5" width="25.6" height="25.0" fill="#868686"/><rect x="174.7" y="97.5" width="25.6" height="25.0" fill="#868686"/><rect x="199.7" y="97.5" width="25.6" height="25.0" fill="#5a5a5a"/><rect x="224.7" y="97.5" width="25.6" height="25.0" fill="#868686"/><rect x="249.7" y="97.5" width="25.6" height="25.0" fill="#868686"/><rect x="274.7" y="97.5" width="55.6" height="25.0" fill="#5a5a5a"/><rect x="-30.3" y="121.9" width="55.6" height="25.0" fill="#868686"/><rect x="24.7" y="121.9" width="25.6" height="25.0" fill="#020202"/><rect x="49.7" y="121.9" width="25.6" height="25.0" fill="#020202"/><rect x="74.7" y="121.9" width="25.6" height="25.0" fill="#868686"/><rect x="99.7" y="121.9" width="25.6" height="25.0" fill="#020202"/><rect x="124.7" y="121.9" width="25.6" height="25.0" fill="#868686"/><rect x="149.7" y="121.9" width="25.6" height="25.0" fill="#868686"/><rect x="174.7" y="121.9" width="25.6" height="25.0" fill="#868686"/><rect x="199.7" y="121.9" width="25.6" height="25.0" fill="#b2b2b2"/><rect x="224.7" y="121.9" width="25.6" height="25.0" fill="#b2b2b2"/><rect x="249.7" y="121.9" width="25.6" height="25.0" fill="#868686"/><rect x="274.7" y="121.9" width="55.6" height="25.0" fill="#868686"/><rect x="-30.3" y="146.3" width="55.6" height="25.0" fill="#868686"/><rect x="24.7" y="146.3" width="25.6" height="25.0" fill="#5a5a5a"/><rect x="49.7" y="146.3" width="25.6" height="25.0" fill="#5a5a5a"/><rect x="74.7" y="146.3" width="25.6" height="25.0" fill="#868686"/><rect x="99.7" y="146.3" width="25.6" height="25.0" fill="#868686"/><rect x="124.7" y="146.3" width="25.6" height="25.0" fill="#b2b2b2"/><rect x="149.7" y="146.3" width="25.6" height="25.0" fill="#868686"/><rect x="174.7" y="146.3" width="25.6" height="25.0" fill="#868686"/><rect x="199.7" y="146.3" width="25.6" height="25.0" fill="#b2b2b2"/><rect x="224.7" y="146.3" width="25.6" height="25.0" fill="#868686"/><rect x="249.7" y="146.3" width="25.6" height="25.0" fill="#5a5a5a"/><rect x="274.7" y="146.3" width="55.6" height="25.0" fill="#868686"/><rect x="-30.3" y="170.8" width="55.6" height="55.0" fill="#868686"/><rect x="24.7" y="170.8" width="25.6" height="55.0" fill="#868686"/><rect x="49.7" y="170.8" width="25.6" height="55.0" fill="#868686"/><rect x="74.7" y="170.8" width="25.6" height="55.0" fill="#868686"/><rect x="99.7" y="170.8" width="25.6" height="55.0" fill="#5a5a5a"/><rect x="124.7" y="170.8" width="25.6" height="55.0" fill="#868686"/><rect x="149.7" y="170.8" width="25.6" height="55.0" fill="#868686"/><rect x="174.7" y="170.8" width="25.6" height="55.0" fill="#b2b2b2"/><rect x="199.7" y="170.8" width="25.6" height="55.0" fill="#868686"/><rect x="224.7" y="170.8" width="25.6" height="55.0" fill="#868686"/><rect x="249.7" y="170.8" width="25.6" height="55.0" fill="#5a5a5a"/><rect x="274.7" y="170.8" width="55.6" height="55.0" fill="#868686"/></g><path d="M124.4 61.0m-3.0 0a3.0 3.0 0 1 0 6.0 0a3.0 3.0 0 1 0 -6.0 0M200.2 32.8m-3.0 0a3.0 3.0 0 1 0 6.0 0a3.0 3.0 0 1 0 -6.0 0M123.0 121.0m-3.0 0a3.0 3.0 0 1 0 6.0 0a3.0 3.0 0 1 0 -6.0 0M183.4 121.5m-3.0 0a3.0 3.0 0 1 0 6.0 0a3.0 3.0 0 1 0 -6.0 0M37.3 124.6m-3.0 0a3.0 3.0 0 1 0 6.0 0a3.0 3.0 0 1 0 -6.0 0M208.7 28.1m-3.0 0a3.0 3.0 0 1 0 6.0 0a3.0 3.0 0 1 0 -6.0 0M117.7 50.5m-3.0 0a3.0 3.0 0 1 0 6.0 0a3.0 3.0 0 1 0 -6.0 0M163.8 142.0m-3.0 0a3.0 3.0 0 1 0 6.0 0a3.0 3.0 0 1 0 -6.0 0M194.9 94.8m-3.0 0a3.0 3.0 0 1 0 6.0 0a3.0 3.0 0 1 0 -6.0 0M18.3 136.6m-3.0 0a3.0 3.0 0 1 0 6.0 0a3.0 3.0 0 1 0 -6.0 0" fill="#e8e2f4" stroke="#6a6488" stroke-width="1.2" opacity="0.85"/><path d="M11.0 169.2m-3.0 0a3.0 3.0 0 1 0 6.0 0a3.0 3.0 0 1 0 -6.0 0M55.8 32.7m-3.7 0a3.7 3.7 0 1 0 7.4 0a3.7 3.7 0 1 0 -7.4 0M123.3 7.0m-3.4 0a3.4 3.4 0 1 0 6.8 0a3.4 3.4 0 1 0 -6.8 0M284.5 129.6m-3.6 0a3.6 3.6 0 1 0 7.1 0a3.6 3.6 0 1 0 -7.1 0M12.7 171.0m-3.5 0a3.5 3.5 0 1 0 7.1 0a3.5 3.5 0 1 0 -7.1 0M236.9 53.1m-3.0 0a3.0 3.0 0 1 0 5.9 0a3.0 3.0 0 1 0 -5.9 0M152.9 74.9m-3.7 0a3.7 3.7 0 1 0 7.5 0a3.7 3.7 0 1 0 -7.5 0M140.1 60.3m-3.2 0a3.2 3.2 0 1 0 6.4 0a3.2 3.2 0 1 0 -6.4 0M218.6 155.1m-3.7 0a3.7 3.7 0 1 0 7.4 0a3.7 3.7 0 1 0 -7.4 0M293.1 160.3m-3.0 0a3.0 3.0 0 1 0 6.0 0a3.0 3.0 0 1 0 -6.0 0M294.0 78.8m-3.7 0a3.7 3.7 0 1 0 7.4 0a3.7 3.7 0 1 0 -7.4 0M219.8 80.0m-3.3 0a3.3 3.3 0 1 0 6.5 0a3.3 3.3 0 1 0 -6.5 0M74.8 68.5m-3.7 0a3.7 3.7 0 1 0 7.3 0a3.7 3.7 0 1 0 -7.3 0M169.7 39.9m-3.3 0a3.3 3.3 0 1 0 6.7 0a3.3 3.3 0 1 0 -6.7 0M45.5 94.6m-3.7 0a3.7 3.7 0 1 0 7.4 0a3.7 3.7 0 1 0 -7.4 0M18.2 130.6m-3.8 0a3.8 3.8 0 1 0 7.5 0a3.8 3.8 0 1 0 -7.5 0M12.2 35.1m-3.5 0a3.5 3.5 0 1 0 6.9 0a3.5 3.5 0 1 0 -6.9 0M206.1 31.6m-3.3 0a3.3 3.3 0 1 0 6.7 0a3.3 3.3 0 1 0 -6.7 0M258.3 92.2m-3.6 0a3.6 3.6 0 1 0 7.2 0a3.6 3.6 0 1 0 -7.2 0M228.1 56.6m-3.4 0a3.4 3.4 0 1 0 6.9 0a3.4 3.4 0 1 0 -6.9 0M80.8 79.6m-3.8 0a3.8 3.8 0 1 0 7.5 0a3.8 3.8 0 1 0 -7.5 0M17.8 163.0m-3.4 0a3.4 3.4 0 1 0 6.9 0a3.4 3.4 0 1 0 -6.9 0M205.8 8.2m-3.8 0a3.8 3.8 0 1 0 7.5 0a3.8 3.8 0 1 0 -7.5 0M184.9 158.5m-3.1 0a3.1 3.1 0 1 0 6.2 0a3.1 3.1 0 1 0 -6.2 0M288.8 170.6m-3.8 0a3.8 3.8 0 1 0 7.7 0a3.8 3.8 0 1 0 -7.7 0M167.7 163.2m-3.7 0a3.7 3.7 0 1 0 7.3 0a3.7 3.7 0 1 0 -7.3 0M135.0 121.2m-3.3 0a3.3 3.3 0 1 0 6.7 0a3.3 3.3 0 1 0 -6.7 0M96.4 106.5m-3.0 0a3.0 3.0 0 1 0 6.1 0a3.0 3.0 0 1 0 -6.1 0M28.0 82.8m-2.9 0a2.9 2.9 0 1 0 5.9 0a2.9 2.9 0 1 0 -5.9 0M264.0 53.2m-3.7 0a3.7 3.7 0 1 0 7.3 0a3.7 3.7 0 1 0 -7.3 0M158.5 69.7m-3.8 0a3.8 3.8 0 1 0 7.5 0a3.8 3.8 0 1 0 -7.5 0M266.7 164.8m-3.3 0a3.3 3.3 0 1 0 6.6 0a3.3 3.3 0 1 0 -6.6 0M204.0 114.9m-3.5 0a3.5 3.5 0 1 0 7.1 0a3.5 3.5 0 1 0 -7.1 0M160.4 57.5m-3.9 0a3.9 3.9 0 1 0 7.7 0a3.9 3.9 0 1 0 -7.7 0M55.3 22.1m-3.9 0a3.9 3.9 0 1 0 7.7 0a3.9 3.9 0 1 0 -7.7 0M277.2 136.8m-3.3 0a3.3 3.3 0 1 0 6.7 0a3.3 3.3 0 1 0 -6.7 0M86.8 61.4m-2.9 0a2.9 2.9 0 1 0 5.8 0a2.9 2.9 0 1 0 -5.8 0M52.4 119.1m-3.7 0a3.7 3.7 0 1 0 7.4 0a3.7 3.7 0 1 0 -7.4 0M184.1 160.3m-3.8 0a3.8 3.8 0 1 0 7.6 0a3.8 3.8 0 1 0 -7.6 0M194.5 54.9m-3.0 0a3.0 3.0 0 1 0 6.0 0a3.0 3.0 0 1 0 -6.0 0M122.6 179.4m-3.6 0a3.6 3.6 0 1 0 7.1 0a3.6 3.6 0 1 0 -7.1 0M77.8 32.3m-3.8 0a3.8 3.8 0 1 0 7.5 0a3.8 3.8 0 1 0 -7.5 0M191.8 163.2m-3.1 0a3.1 3.1 0 1 0 6.1 0a3.1 3.1 0 1 0 -6.1 0M15.4 177.4m-3.3 0a3.3 3.3 0 1 0 6.6 0a3.3 3.3 0 1 0 -6.6 0M237.9 5.6m-3.7 0a3.7 3.7 0 1 0 7.4 0a3.7 3.7 0 1 0 -7.4 0M201.3 37.5m-3.3 0a3.3 3.3 0 1 0 6.5 0a3.3 3.3 0 1 0 -6.5 0M114.4 118.9m-3.7 0a3.7 3.7 0 1 0 7.3 0a3.7 3.7 0 1 0 -7.3 0M241.9 113.7m-3.8 0a3.8 3.8 0 1 0 7.5 0a3.8 3.8 0 1 0 -7.5 0M30.1 77.4m-3.8 0a3.8 3.8 0 1 0 7.6 0a3.8 3.8 0 1 0 -7.6 0M189.7 151.1m-3.4 0a3.4 3.4 0 1 0 6.8 0a3.4 3.4 0 1 0 -6.8 0M129.4 187.3m-3.7 0a3.7 3.7 0 1 0 7.5 0a3.7 3.7 0 1 0 -7.5 0M119.6 106.4m-2.9 0a2.9 2.9 0 1 0 5.8 0a2.9 2.9 0 1 0 -5.8 0M209.9 72.5m-3.8 0a3.8 3.8 0 1 0 7.6 0a3.8 3.8 0 1 0 -7.6 0M81.4 59.9m-3.6 0a3.6 3.6 0 1 0 7.3 0a3.6 3.6 0 1 0 -7.3 0M214.9 186.5m-3.1 0a3.1 3.1 0 1 0 6.1 0a3.1 3.1 0 1 0 -6.1 0M249.4 121.9m-3.9 0a3.9 3.9 0 1 0 7.7 0a3.9 3.9 0 1 0 -7.7 0M192.1 27.0m-3.8 0a3.8 3.8 0 1 0 7.5 0a3.8 3.8 0 1 0 -7.5 0M111.0 114.2m-3.3 0a3.3 3.3 0 1 0 6.6 0a3.3 3.3 0 1 0 -6.6 0M254.4 68.2m-3.8 0a3.8 3.8 0 1 0 7.5 0a3.8 3.8 0 1 0 -7.5 0M198.4 117.5m-3.1 0a3.1 3.1 0 1 0 6.2 0a3.1 3.1 0 1 0 -6.2 0M104.1 10.3m-3.7 0a3.7 3.7 0 1 0 7.5 0a3.7 3.7 0 1 0 -7.5 0M191.0 66.2m-3.5 0a3.5 3.5 0 1 0 7.0 0a3.5 3.5 0 1 0 -7.0 0M4.8 57.8m-3.6 0a3.6 3.6 0 1 0 7.2 0a3.6 3.6 0 1 0 -7.2 0M80.0 152.7m-3.3 0a3.3 3.3 0 1 0 6.6 0a3.3 3.3 0 1 0 -6.6 0M176.2 178.1m-3.1 0a3.1 3.1 0 1 0 6.2 0a3.1 3.1 0 1 0 -6.2 0M235.4 32.5m-3.6 0a3.6 3.6 0 1 0 7.3 0a3.6 3.6 0 1 0 -7.3 0M169.2 190.0m-3.4 0a3.4 3.4 0 1 0 6.8 0a3.4 3.4 0 1 0 -6.8 0M165.8 108.0m-3.6 0a3.6 3.6 0 1 0 7.1 0a3.6 3.6 0 1 0 -7.1 0M262.6 92.5m-3.4 0a3.4 3.4 0 1 0 6.8 0a3.4 3.4 0 1 0 -6.8 0M42.3 186.3m-3.2 0a3.2 3.2 0 1 0 6.4 0a3.2 3.2 0 1 0 -6.4 0" fill="#2c1a6a"/></svg>
<svg x="385.00" y="263.00" width="299.00" height="195.50" viewBox="0 0 299.00 195.50" preserveAspectRatio="none"><rect width="299.00" height="195.50" fill="#5236a7"/><filter id="oA4" filterUnits="userSpaceOnUse" x="-30" y="-30" width="359.0" height="255.5" color-interpolation-filters="sRGB"><feGaussianBlur in="SourceGraphic" stdDeviation="7" edgeMode="duplicate" result="c"/><feTurbulence type="fractalNoise" baseFrequency="0.100" numOctaves="2" seed="117"/><feColorMatrix type="matrix" values="-1.600 0 0 0 1.300 -1.600 0 0 0 1.300 -1.600 0 0 0 1.300 0 0 0 0 1" result="n"/><feComposite in="c" in2="n" operator="arithmetic" k2="1" k3="1" k4="-0.5" result="s"/><feComponentTransfer in="s"><feFuncR type="table" tableValues="0 0 0.05 0.95 1 1"/><feFuncG type="table" tableValues="0 0 0.05 0.95 1 1"/><feFuncB type="table" tableValues="0 0 0.05 0.95 1 1"/></feComponentTransfer><feColorMatrix type="matrix" values="-0.3137 0 0 0 0.5882 -0.3216 0 0 0 0.4784 -0.2353 0 0 0 0.8549 0 0 0 0 1"/></filter><g filter="url(#oA4)"><rect x="-30.3" y="-30.3" width="55.5" height="55.0" fill="#a7a7a7"/><rect x="24.6" y="-30.3" width="25.5" height="55.0" fill="#a7a7a7"/><rect x="49.5" y="-30.3" width="25.5" height="55.0" fill="#a7a7a7"/><rect x="74.5" y="-30.3" width="25.5" height="55.0" fill="#8b8b8b"/><rect x="99.4" y="-30.3" width="25.5" height="55.0" fill="#a7a7a7"/><rect x="124.3" y="-30.3" width="25.5" height="55.0" fill="#a7a7a7"/><rect x="149.2" y="-30.3" width="25.5" height="55.0" fill="#a7a7a7"/><rect x="174.1" y="-30.3" width="25.5" height="55.0" fill="#8b8b8b"/><rect x="199.0" y="-30.3" width="25.5" height="55.0" fill="#8b8b8b"/><rect x="223.9" y="-30.3" width="25.5" height="55.0" fill="#a7a7a7"/><rect x="248.9" y="-30.3" width="25.5" height="55.0" fill="#a7a7a7"/><rect x="273.8" y="-30.3" width="55.5" height="55.0" fill="#a7a7a7"/><rect x="-30.3" y="24.1" width="55.5" height="25.0" fill="#a7a7a7"/><rect x="24.6" y="24.1" width="25.5" height="25.0" fill="#a7a7a7"/><rect x="49.5" y="24.1" width="25.5" height="25.0" fill="#dadada"/><rect x="74.5" y="24.1" width="25.5" height="25.0" fill="#dadada"/><rect x="99.4" y="24.1" width="25.5" height="25.0" fill="#a7a7a7"/><rect x="124.3" y="24.1" width="25.5" height="25.0" fill="#a7a7a7"/><rect x="149.2" y="24.1" width="25.5" height="25.0" fill="#a7a7a7"/><rect x="174.1" y="24.1" width="25.5" height="25.0" fill="#8b8b8b"/><rect x="199.0" y="24.1" width="25.5" height="25.0" fill="#a7a7a7"/><rect x="223.9" y="24.1" width="25.5" height="25.0" fill="#a7a7a7"/><rect x="248.9" y="24.1" width="25.5" height="25.0" fill="#a7a7a7"/><rect x="273.8" y="24.1" width="55.5" height="25.0" fill="#a7a7a7"/><rect x="-30.3" y="48.6" width="55.5" height="25.0" fill="#a7a7a7"/><rect x="24.6" y="48.6" width="25.5" height="25.0" fill="#a7a7a7"/><rect x="49.5" y="48.6" width="25.5" height="25.0" fill="#a7a7a7"/><rect x="74.5" y="48.6" width="25.5" height="25.0" fill="#a7a7a7"/><rect x="99.4" y="48.6" width="25.5" height="25.0" fill="#a7a7a7"/><rect x="124.3" y="48.6" width="25.5" height="25.0" fill="#a7a7a7"/><rect x="149.2" y="48.6" width="25.5" height="25.0" fill="#a7a7a7"/><rect x="174.1" y="48.6" width="25.5" height="25.0" fill="#a7a7a7"/><rect x="199.0" y="48.6" width="25.5" height="25.0" fill="#a7a7a7"/><rect x="223.9" y="48.6" width="25.5" height="25.0" fill="#a7a7a7"/><rect x="248.9" y="48.6" width="25.5" height="25.0" fill="#a7a7a7"/><rect x="273.8" y="48.6" width="55.5" height="25.0" fill="#a7a7a7"/><rect x="-30.3" y="73.0" width="55.5" height="25.0" fill="#a7a7a7"/><rect x="24.6" y="73.0" width="25.5" height="25.0" fill="#dadada"/><rect x="49.5" y="73.0" width="25.5" height="25.0" fill="#dadada"/><rect x="74.5" y="73.0" width="25.5" height="25.0" fill="#a7a7a7"/><rect x="99.4" y="73.0" width="25.5" height="25.0" fill="#a7a7a7"/><rect x="124.3" y="73.0" width="25.5" height="25.0" fill="#a7a7a7"/><rect x="149.2" y="73.0" width="25.5" height="25.0" fill="#a7a7a7"/><rect x="174.1" y="73.0" width="25.5" height="25.0" fill="#a7a7a7"/><rect x="199.0" y="73.0" width="25.5" height="25.0" fill="#a7a7a7"/><rect x="223.9" y="73.0" width="25.5" height="25.0" fill="#a7a7a7"/><rect x="248.9" y="73.0" width="25.5" height="25.0" fill="#a7a7a7"/><rect x="273.8" y="73.0" width="55.5" height="25.0" fill="#a7a7a7"/><rect x="-30.3" y="97.5" width="55.5" height="25.0" fill="#a7a7a7"/><rect x="24.6" y="97.5" width="25.5" height="25.0" fill="#a7a7a7"/><rect x="49.5" y="97.5" width="25.5" height="25.0" fill="#dadada"/><rect x="74.5" y="97.5" width="25.5" height="25.0" fill="#dadada"/><rect x="99.4" y="97.5" width="25.5" height="25.0" fill="#a7a7a7"/><rect x="124.3" y="97.5" width="25.5" height="25.0" fill="#a7a7a7"/><rect x="149.2" y="97.5" width="25.5" height="25.0" fill="#a7a7a7"/><rect x="174.1" y="97.5" width="25.5" height="25.0" fill="#a7a7a7"/><rect x="199.0" y="97.5" width="25.5" height="25.0" fill="#a7a7a7"/><rect x="223.9" y="97.5" width="25.5" height="25.0" fill="#a7a7a7"/><rect x="248.9" y="97.5" width="25.5" height="25.0" fill="#a7a7a7"/><rect x="273.8" y="97.5" width="55.5" height="25.0" fill="#a7a7a7"/><rect x="-30.3" y="121.9" width="55.5" height="25.0" fill="#a7a7a7"/><rect x="24.6" y="121.9" width="25.5" height="25.0" fill="#dadada"/><rect x="49.5" y="121.9" width="25.5" height="25.0" fill="#a7a7a7"/><rect x="74.5" y="121.9" width="25.5" height="25.0" fill="#8b8b8b"/><rect x="99.4" y="121.9" width="25.5" height="25.0" fill="#a7a7a7"/><rect x="124.3" y="121.9" width="25.5" height="25.0" fill="#a7a7a7"/><rect x="149.2" y="121.9" width="25.5" height="25.0" fill="#a7a7a7"/><rect x="174.1" y="121.9" width="25.5" height="25.0" fill="#a7a7a7"/><rect x="199.0" y="121.9" width="25.5" height="25.0" fill="#a7a7a7"/><rect x="223.9" y="121.9" width="25.5" height="25.0" fill="#a7a7a7"/><rect x="248.9" y="121.9" width="25.5" height="25.0" fill="#a7a7a7"/><rect x="273.8" y="121.9" width="55.5" height="25.0" fill="#8b8b8b"/><rect x="-30.3" y="146.3" width="55.5" height="25.0" fill="#dadada"/><rect x="24.6" y="146.3" width="25.5" height="25.0" fill="#a7a7a7"/><rect x="49.5" y="146.3" width="25.5" height="25.0" fill="#a7a7a7"/><rect x="74.5" y="146.3" width="25.5" height="25.0" fill="#dadada"/><rect x="99.4" y="146.3" width="25.5" height="25.0" fill="#dadada"/><rect x="124.3" y="146.3" width="25.5" height="25.0" fill="#a7a7a7"/><rect x="149.2" y="146.3" width="25.5" height="25.0" fill="#a7a7a7"/><rect x="174.1" y="146.3" width="25.5" height="25.0" fill="#dadada"/><rect x="199.0" y="146.3" width="25.5" height="25.0" fill="#a7a7a7"/><rect x="223.9" y="146.3" width="25.5" height="25.0" fill="#a7a7a7"/><rect x="248.9" y="146.3" width="25.5" height="25.0" fill="#a7a7a7"/><rect x="273.8" y="146.3" width="55.5" height="25.0" fill="#a7a7a7"/><rect x="-30.3" y="170.8" width="55.5" height="55.0" fill="#a7a7a7"/><rect x="24.6" y="170.8" width="25.5" height="55.0" fill="#a7a7a7"/><rect x="49.5" y="170.8" width="25.5" height="55.0" fill="#a7a7a7"/><rect x="74.5" y="170.8" width="25.5" height="55.0" fill="#a7a7a7"/><rect x="99.4" y="170.8" width="25.5" height="55.0" fill="#a7a7a7"/><rect x="124.3" y="170.8" width="25.5" height="55.0" fill="#a7a7a7"/><rect x="149.2" y="170.8" width="25.5" height="55.0" fill="#a7a7a7"/><rect x="174.1" y="170.8" width="25.5" height="55.0" fill="#a7a7a7"/><rect x="199.0" y="170.8" width="25.5" height="55.0" fill="#a7a7a7"/><rect x="223.9" y="170.8" width="25.5" height="55.0" fill="#a7a7a7"/><rect x="248.9" y="170.8" width="25.5" height="55.0" fill="#a7a7a7"/><rect x="273.8" y="170.8" width="55.5" height="55.0" fill="#a7a7a7"/></g><path d="M26.2 70.5m-3.0 0a3.0 3.0 0 1 0 6.0 0a3.0 3.0 0 1 0 -6.0 0M20.0 102.4m-3.0 0a3.0 3.0 0 1 0 6.0 0a3.0 3.0 0 1 0 -6.0 0M283.6 138.2m-3.0 0a3.0 3.0 0 1 0 6.0 0a3.0 3.0 0 1 0 -6.0 0M12.6 109.6m-3.0 0a3.0 3.0 0 1 0 6.0 0a3.0 3.0 0 1 0 -6.0 0M110.4 165.0m-3.0 0a3.0 3.0 0 1 0 6.0 0a3.0 3.0 0 1 0 -6.0 0M238.5 128.2m-3.0 0a3.0 3.0 0 1 0 6.0 0a3.0 3.0 0 1 0 -6.0 0M94.5 92.4m-3.0 0a3.0 3.0 0 1 0 6.0 0a3.0 3.0 0 1 0 -6.0 0M246.3 26.1m-3.0 0a3.0 3.0 0 1 0 6.0 0a3.0 3.0 0 1 0 -6.0 0M281.2 137.3m-3.0 0a3.0 3.0 0 1 0 6.0 0a3.0 3.0 0 1 0 -6.0 0M181.1 42.9m-3.0 0a3.0 3.0 0 1 0 6.0 0a3.0 3.0 0 1 0 -6.0 0M150.8 139.4m-3.0 0a3.0 3.0 0 1 0 6.0 0a3.0 3.0 0 1 0 -6.0 0M198.3 65.7m-3.0 0a3.0 3.0 0 1 0 6.0 0a3.0 3.0 0 1 0 -6.0 0M16.2 20.0m-3.0 0a3.0 3.0 0 1 0 6.0 0a3.0 3.0 0 1 0 -6.0 0M220.3 106.7m-3.0 0a3.0 3.0 0 1 0 6.0 0a3.0 3.0 0 1 0 -6.0 0M274.2 167.0m-3.0 0a3.0 3.0 0 1 0 6.0 0a3.0 3.0 0 1 0 -6.0 0M114.6 59.9m-3.0 0a3.0 3.0 0 1 0 6.0 0a3.0 3.0 0 1 0 -6.0 0M271.0 142.6m-3.0 0a3.0 3.0 0 1 0 6.0 0a3.0 3.0 0 1 0 -6.0 0M183.0 157.0m-3.0 0a3.0 3.0 0 1 0 6.0 0a3.0 3.0 0 1 0 -6.0 0M106.6 13.3m-3.0 0a3.0 3.0 0 1 0 6.0 0a3.0 3.0 0 1 0 -6.0 0M69.5 103.2m-3.0 0a3.0 3.0 0 1 0 6.0 0a3.0 3.0 0 1 0 -6.0 0M48.3 104.4m-3.0 0a3.0 3.0 0 1 0 6.0 0a3.0 3.0 0 1 0 -6.0 0M291.0 133.9m-3.0 0a3.0 3.0 0 1 0 6.0 0a3.0 3.0 0 1 0 -6.0 0M280.4 86.4m-3.0 0a3.0 3.0 0 1 0 6.0 0a3.0 3.0 0 1 0 -6.0 0M170.5 13.7m-3.0 0a3.0 3.0 0 1 0 6.0 0a3.0 3.0 0 1 0 -6.0 0M94.1 18.5m-3.0 0a3.0 3.0 0 1 0 6.0 0a3.0 3.0 0 1 0 -6.0 0" fill="#e8e2f4" stroke="#6a6488" stroke-width="1.2" opacity="0.85"/><path d="M161.3 16.4m-3.5 0a3.5 3.5 0 1 0 7.1 0a3.5 3.5 0 1 0 -7.1 0M194.9 50.1m-2.8 0a2.8 2.8 0 1 0 5.6 0a2.8 2.8 0 1 0 -5.6 0M162.2 190.4m-3.6 0a3.6 3.6 0 1 0 7.2 0a3.6 3.6 0 1 0 -7.2 0M89.9 178.0m-3.8 0a3.8 3.8 0 1 0 7.5 0a3.8 3.8 0 1 0 -7.5 0M278.9 82.6m-2.9 0a2.9 2.9 0 1 0 5.8 0a2.9 2.9 0 1 0 -5.8 0M190.3 81.9m-3.9 0a3.9 3.9 0 1 0 7.8 0a3.9 3.9 0 1 0 -7.8 0M168.5 14.9m-3.6 0a3.6 3.6 0 1 0 7.2 0a3.6 3.6 0 1 0 -7.2 0M165.2 147.6m-3.3 0a3.3 3.3 0 1 0 6.7 0a3.3 3.3 0 1 0 -6.7 0M226.8 68.2m-2.9 0a2.9 2.9 0 1 0 5.7 0a2.9 2.9 0 1 0 -5.7 0M108.7 59.8m-2.8 0a2.8 2.8 0 1 0 5.7 0a2.8 2.8 0 1 0 -5.7 0M247.3 144.1m-3.7 0a3.7 3.7 0 1 0 7.3 0a3.7 3.7 0 1 0 -7.3 0M278.5 7.9m-3.5 0a3.5 3.5 0 1 0 7.1 0a3.5 3.5 0 1 0 -7.1 0M73.0 85.0m-3.5 0a3.5 3.5 0 1 0 6.9 0a3.5 3.5 0 1 0 -6.9 0M236.8 135.4m-3.1 0a3.1 3.1 0 1 0 6.1 0a3.1 3.1 0 1 0 -6.1 0M78.9 174.6m-2.8 0a2.8 2.8 0 1 0 5.6 0a2.8 2.8 0 1 0 -5.6 0M190.2 101.5m-2.9 0a2.9 2.9 0 1 0 5.8 0a2.9 2.9 0 1 0 -5.8 0M184.2 159.7m-3.8 0a3.8 3.8 0 1 0 7.5 0a3.8 3.8 0 1 0 -7.5 0M70.5 26.8m-3.4 0a3.4 3.4 0 1 0 6.9 0a3.4 3.4 0 1 0 -6.9 0M161.0 26.6m-3.9 0a3.9 3.9 0 1 0 7.8 0a3.9 3.9 0 1 0 -7.8 0M146.7 68.4m-3.7 0a3.7 3.7 0 1 0 7.5 0a3.7 3.7 0 1 0 -7.5 0M67.6 50.1m-3.8 0a3.8 3.8 0 1 0 7.7 0a3.8 3.8 0 1 0 -7.7 0M114.1 152.6m-3.4 0a3.4 3.4 0 1 0 6.8 0a3.4 3.4 0 1 0 -6.8 0M72.0 105.2m-3.0 0a3.0 3.0 0 1 0 6.1 0a3.0 3.0 0 1 0 -6.1 0M60.0 11.3m-3.6 0a3.6 3.6 0 1 0 7.2 0a3.6 3.6 0 1 0 -7.2 0M6.9 159.0m-3.1 0a3.1 3.1 0 1 0 6.1 0a3.1 3.1 0 1 0 -6.1 0M224.3 20.1m-3.5 0a3.5 3.5 0 1 0 7.1 0a3.5 3.5 0 1 0 -7.1 0M61.2 46.5m-3.7 0a3.7 3.7 0 1 0 7.4 0a3.7 3.7 0 1 0 -7.4 0M270.8 126.6m-3.1 0a3.1 3.1 0 1 0 6.2 0a3.1 3.1 0 1 0 -6.2 0M4.9 77.9m-3.5 0a3.5 3.5 0 1 0 7.0 0a3.5 3.5 0 1 0 -7.0 0M245.9 109.1m-2.9 0a2.9 2.9 0 1 0 5.8 0a2.9 2.9 0 1 0 -5.8 0M156.8 168.6m-3.5 0a3.5 3.5 0 1 0 6.9 0a3.5 3.5 0 1 0 -6.9 0M219.3 140.5m-2.9 0a2.9 2.9 0 1 0 5.9 0a2.9 2.9 0 1 0 -5.9 0M31.3 188.1m-3.9 0a3.9 3.9 0 1 0 7.8 0a3.9 3.9 0 1 0 -7.8 0M226.9 137.4m-3.4 0a3.4 3.4 0 1 0 6.7 0a3.4 3.4 0 1 0 -6.7 0M286.2 111.9m-3.8 0a3.8 3.8 0 1 0 7.6 0a3.8 3.8 0 1 0 -7.6 0M276.1 37.5m-3.7 0a3.7 3.7 0 1 0 7.4 0a3.7 3.7 0 1 0 -7.4 0M159.9 129.6m-3.1 0a3.1 3.1 0 1 0 6.3 0a3.1 3.1 0 1 0 -6.3 0M162.2 70.7m-3.1 0a3.1 3.1 0 1 0 6.2 0a3.1 3.1 0 1 0 -6.2 0M98.7 95.2m-3.6 0a3.6 3.6 0 1 0 7.1 0a3.6 3.6 0 1 0 -7.1 0M95.2 179.3m-2.9 0a2.9 2.9 0 1 0 5.9 0a2.9 2.9 0 1 0 -5.9 0M15.7 127.4m-3.3 0a3.3 3.3 0 1 0 6.5 0a3.3 3.3 0 1 0 -6.5 0M15.8 91.8m-3.9 0a3.9 3.9 0 1 0 7.7 0a3.9 3.9 0 1 0 -7.7 0M227.9 6.2m-3.3 0a3.3 3.3 0 1 0 6.5 0a3.3 3.3 0 1 0 -6.5 0M291.3 69.5m-3.7 0a3.7 3.7 0 1 0 7.3 0a3.7 3.7 0 1 0 -7.3 0M25.4 122.3m-3.9 0a3.9 3.9 0 1 0 7.7 0a3.9 3.9 0 1 0 -7.7 0M109.6 82.2m-3.2 0a3.2 3.2 0 1 0 6.5 0a3.2 3.2 0 1 0 -6.5 0M202.4 70.9m-3.8 0a3.8 3.8 0 1 0 7.5 0a3.8 3.8 0 1 0 -7.5 0M91.7 137.5m-3.2 0a3.2 3.2 0 1 0 6.4 0a3.2 3.2 0 1 0 -6.4 0M176.7 161.4m-3.0 0a3.0 3.0 0 1 0 6.1 0a3.0 3.0 0 1 0 -6.1 0M11.5 36.6m-3.2 0a3.2 3.2 0 1 0 6.5 0a3.2 3.2 0 1 0 -6.5 0M108.5 38.3m-3.0 0a3.0 3.0 0 1 0 6.0 0a3.0 3.0 0 1 0 -6.0 0M212.2 167.0m-3.7 0a3.7 3.7 0 1 0 7.3 0a3.7 3.7 0 1 0 -7.3 0M113.6 159.2m-3.2 0a3.2 3.2 0 1 0 6.5 0a3.2 3.2 0 1 0 -6.5 0M279.3 137.2m-3.6 0a3.6 3.6 0 1 0 7.3 0a3.6 3.6 0 1 0 -7.3 0M40.6 66.8m-3.4 0a3.4 3.4 0 1 0 6.9 0a3.4 3.4 0 1 0 -6.9 0M59.2 142.3m-3.5 0a3.5 3.5 0 1 0 7.0 0a3.5 3.5 0 1 0 -7.0 0M270.2 82.2m-3.5 0a3.5 3.5 0 1 0 6.9 0a3.5 3.5 0 1 0 -6.9 0M109.9 97.3m-3.0 0a3.0 3.0 0 1 0 6.1 0a3.0 3.0 0 1 0 -6.1 0M293.8 39.5m-3.3 0a3.3 3.3 0 1 0 6.6 0a3.3 3.3 0 1 0 -6.6 0M140.3 151.9m-3.3 0a3.3 3.3 0 1 0 6.6 0a3.3 3.3 0 1 0 -6.6 0" fill="#24105c"/></svg>
<svg x="772.00" y="55.00" width="299.50" height="195.50" viewBox="0 0 299.50 195.50" preserveAspectRatio="none"><rect width="299.50" height="195.50" fill="#6b55b0"/><filter id="oA5" filterUnits="userSpaceOnUse" x="-30" y="-30" width="359.5" height="255.5" color-interpolation-filters="sRGB"><feGaussianBlur in="SourceGraphic" stdDeviation="7" edgeMode="duplicate" result="c"/><feTurbulence type="fractalNoise" baseFrequency="0.045" numOctaves="2" seed="118"/><feColorMatrix type="matrix" values="-1.600 0 0 0 1.300 -1.600 0 0 0 1.300 -1.600 0 0 0 1.300 0 0 0 0 1" result="n"/><feComposite in="c" in2="n" operator="arithmetic" k2="1" k3="1" k4="-0.5" result="s"/><feComponentTransfer in="s"><feFuncR type="table" tableValues="0 0 0.05 0.95 1 1"/><feFuncG type="table" tableValues="0 0 0.05 0.95 1 1"/><feFuncB type="table" tableValues="0 0 0.05 0.95 1 1"/></feComponentTransfer><feColorMatrix type="matrix" values="-0.3451 0 0 0 0.5882 -0.4118 0 0 0 0.5373 -0.2431 0 0 0 0.8118 0 0 0 0 1"/></filter><g filter="url(#oA5)"><rect x="-30.3" y="-30.3" width="55.6" height="55.0" fill="#808080"/><rect x="24.7" y="-30.3" width="25.6" height="55.0" fill="#b2b2b2"/><rect x="49.6" y="-30.3" width="25.6" height="55.0" fill="#808080"/><rect x="74.6" y="-30.3" width="25.6" height="55.0" fill="#808080"/><rect x="99.5" y="-30.3" width="25.6" height="55.0" fill="#414141"/><rect x="124.5" y="-30.3" width="25.6" height="55.0" fill="#414141"/><rect x="149.4" y="-30.3" width="25.6" height="55.0" fill="#b2b2b2"/><rect x="174.4" y="-30.3" width="25.6" height="55.0" fill="#808080"/><rect x="199.4" y="-30.3" width="25.6" height="55.0" fill="#b2b2b2"/><rect x="224.3" y="-30.3" width="25.6" height="55.0" fill="#808080"/><rect x="249.3" y="-30.3" width="25.6" height="55.0" fill="#b2b2b2"/><rect x="274.2" y="-30.3" width="55.6" height="55.0" fill="#808080"/><rect x="-30.3" y="24.1" width="55.6" height="25.0" fill="#b2b2b2"/><rect x="24.7" y="24.1" width="25.6" height="25.0" fill="#808080"/><rect x="49.6" y="24.1" width="25.6" height="25.0" fill="#b2b2b2"/><rect x="74.6" y="24.1" width="25.6" height="25.0" fill="#808080"/><rect x="99.5" y="24.1" width="25.6" height="25.0" fill="#b2b2b2"/><rect x="124.5" y="24.1" width="25.6" height="25.0" fill="#808080"/><rect x="149.4" y="24.1" width="25.6" height="25.0" fill="#808080"/><rect x="174.4" y="24.1" width="25.6" height="25.0" fill="#414141"/><rect x="199.4" y="24.1" width="25.6" height="25.0" fill="#808080"/><rect x="224.3" y="24.1" width="25.6" height="25.0" fill="#808080"/><rect x="249.3" y="24.1" width="25.6" height="25.0" fill="#808080"/><rect x="274.2" y="24.1" width="55.6" height="25.0" fill="#808080"/><rect x="-30.3" y="48.6" width="55.6" height="25.0" fill="#808080"/><rect x="24.7" y="48.6" width="25.6" height="25.0" fill="#808080"/><rect x="49.6" y="48.6" width="25.6" height="25.0" fill="#808080"/><rect x="74.6" y="48.6" width="25.6" height="25.0" fill="#808080"/><rect x="99.5" y="48.6" width="25.6" height="25.0" fill="#b2b2b2"/><rect x="124.5" y="48.6" width="25.6" height="25.0" fill="#414141"/><rect x="149.4" y="48.6" width="25.6" height="25.0" fill="#414141"/><rect x="174.4" y="48.6" width="25.6" height="25.0" fill="#808080"/><rect x="199.4" y="48.6" width="25.6" height="25.0" fill="#b2b2b2"/><rect x="224.3" y="48.6" width="25.6" height="25.0" fill="#808080"/><rect x="249.3" y="48.6" width="25.6" height="25.0" fill="#808080"/><rect x="274.2" y="48.6" width="55.6" height="25.0" fill="#808080"/><rect x="-30.3" y="73.0" width="55.6" height="25.0" fill="#808080"/><rect x="24.7" y="73.0" width="25.6" height="25.0" fill="#b2b2b2"/><rect x="49.6" y="73.0" width="25.6" height="25.0" fill="#808080"/><rect x="74.6" y="73.0" width="25.6" height="25.0" fill="#808080"/><rect x="99.5" y="73.0" width="25.6" height="25.0" fill="#808080"/><rect x="124.5" y="73.0" width="25.6" height="25.0" fill="#808080"/><rect x="149.4" y="73.0" width="25.6" height="25.0" fill="#414141"/><rect x="174.4" y="73.0" width="25.6" height="25.0" fill="#414141"/><rect x="199.4" y="73.0" width="25.6" height="25.0" fill="#414141"/><rect x="224.3" y="73.0" width="25.6" height="25.0" fill="#808080"/><rect x="249.3" y="73.0" width="25.6" height="25.0" fill="#808080"/><rect x="274.2" y="73.0" width="55.6" height="25.0" fill="#808080"/><rect x="-30.3" y="97.5" width="55.6" height="25.0" fill="#b2b2b2"/><rect x="24.7" y="97.5" width="25.6" height="25.0" fill="#b2b2b2"/><rect x="49.6" y="97.5" width="25.6" height="25.0" fill="#414141"/><rect x="74.6" y="97.5" width="25.6" height="25.0" fill="#808080"/><rect x="99.5" y="97.5" width="25.6" height="25.0" fill="#b2b2b2"/><rect x="124.5" y="97.5" width="25.6" height="25.0" fill="#414141"/><rect x="149.4" y="97.5" width="25.6" height="25.0" fill="#808080"/><rect x="174.4" y="97.5" width="25.6" height="25.0" fill="#808080"/><rect x="199.4" y="97.5" width="25.6" height="25.0" fill="#808080"/><rect x="224.3" y="97.5" width="25.6" height="25.0" fill="#414141"/><rect x="249.3" y="97.5" width="25.6" height="25.0" fill="#b2b2b2"/><rect x="274.2" y="97.5" width="55.6" height="25.0" fill="#808080"/><rect x="-30.3" y="121.9" width="55.6" height="25.0" fill="#414141"/><rect x="24.7" y="121.9" width="25.6" height="25.0" fill="#808080"/><rect x="49.6" y="121.9" width="25.6" height="25.0" fill="#808080"/><rect x="74.6" y="121.9" width="25.6" height="25.0" fill="#414141"/><rect x="99.5" y="121.9" width="25.6" height="25.0" fill="#b2b2b2"/><rect x="124.5" y="121.9" width="25.6" height="25.0" fill="#808080"/><rect x="149.4" y="121.9" width="25.6" height="25.0" fill="#414141"/><rect x="174.4" y="121.9" width="25.6" height="25.0" fill="#414141"/><rect x="199.4" y="121.9" width="25.6" height="25.0" fill="#808080"/><rect x="224.3" y="121.9" width="25.6" height="25.0" fill="#414141"/><rect x="249.3" y="121.9" width="25.6" height="25.0" fill="#b2b2b2"/><rect x="274.2" y="121.9" width="55.6" height="25.0" fill="#808080"/><rect x="-30.3" y="146.3" width="55.6" height="25.0" fill="#414141"/><rect x="24.7" y="146.3" width="25.6" height="25.0" fill="#b2b2b2"/><rect x="49.6" y="146.3" width="25.6" height="25.0" fill="#414141"/><rect x="74.6" y="146.3" width="25.6" height="25.0" fill="#b2b2b2"/><rect x="99.5" y="146.3" width="25.6" height="25.0" fill="#414141"/><rect x="124.5" y="146.3" width="25.6" height="25.0" fill="#808080"/><rect x="149.4" y="146.3" width="25.6" height="25.0" fill="#808080"/><rect x="174.4" y="146.3" width="25.6" height="25.0" fill="#414141"/><rect x="199.4" y="146.3" width="25.6" height="25.0" fill="#808080"/><rect x="224.3" y="146.3" width="25.6" height="25.0" fill="#b2b2b2"/><rect x="249.3" y="146.3" width="25.6" height="25.0" fill="#808080"/><rect x="274.2" y="146.3" width="55.6" height="25.0" fill="#808080"/><rect x="-30.3" y="170.8" width="55.6" height="55.0" fill="#808080"/><rect x="24.7" y="170.8" width="25.6" height="55.0" fill="#b2b2b2"/><rect x="49.6" y="170.8" width="25.6" height="55.0" fill="#b2b2b2"/><rect x="74.6" y="170.8" width="25.6" height="55.0" fill="#808080"/><rect x="99.5" y="170.8" width="25.6" height="55.0" fill="#808080"/><rect x="124.5" y="170.8" width="25.6" height="55.0" fill="#808080"/><rect x="149.4" y="170.8" width="25.6" height="55.0" fill="#414141"/><rect x="174.4" y="170.8" width="25.6" height="55.0" fill="#808080"/><rect x="199.4" y="170.8" width="25.6" height="55.0" fill="#808080"/><rect x="224.3" y="170.8" width="25.6" height="55.0" fill="#808080"/><rect x="249.3" y="170.8" width="25.6" height="55.0" fill="#808080"/><rect x="274.2" y="170.8" width="55.6" height="55.0" fill="#414141"/></g><path d="M89.4 86.5m-3.0 0a3.0 3.0 0 1 0 6.0 0a3.0 3.0 0 1 0 -6.0 0M58.2 121.7m-3.0 0a3.0 3.0 0 1 0 6.0 0a3.0 3.0 0 1 0 -6.0 0M198.1 27.5m-3.0 0a3.0 3.0 0 1 0 6.0 0a3.0 3.0 0 1 0 -6.0 0M128.7 51.1m-3.0 0a3.0 3.0 0 1 0 6.0 0a3.0 3.0 0 1 0 -6.0 0M9.2 57.0m-3.0 0a3.0 3.0 0 1 0 6.0 0a3.0 3.0 0 1 0 -6.0 0M74.2 141.4m-3.0 0a3.0 3.0 0 1 0 6.0 0a3.0 3.0 0 1 0 -6.0 0M59.0 148.6m-3.0 0a3.0 3.0 0 1 0 6.0 0a3.0 3.0 0 1 0 -6.0 0M153.6 150.3m-3.0 0a3.0 3.0 0 1 0 6.0 0a3.0 3.0 0 1 0 -6.0 0M282.8 130.6m-3.0 0a3.0 3.0 0 1 0 6.0 0a3.0 3.0 0 1 0 -6.0 0M95.9 89.6m-3.0 0a3.0 3.0 0 1 0 6.0 0a3.0 3.0 0 1 0 -6.0 0M146.7 21.4m-3.0 0a3.0 3.0 0 1 0 6.0 0a3.0 3.0 0 1 0 -6.0 0M38.6 98.4m-3.0 0a3.0 3.0 0 1 0 6.0 0a3.0 3.0 0 1 0 -6.0 0M111.8 187.3m-3.0 0a3.0 3.0 0 1 0 6.0 0a3.0 3.0 0 1 0 -6.0 0M8.7 160.0m-3.0 0a3.0 3.0 0 1 0 6.0 0a3.0 3.0 0 1 0 -6.0 0M181.3 19.6m-3.0 0a3.0 3.0 0 1 0 6.0 0a3.0 3.0 0 1 0 -6.0 0M177.1 144.2m-3.0 0a3.0 3.0 0 1 0 6.0 0a3.0 3.0 0 1 0 -6.0 0M56.5 163.1m-3.0 0a3.0 3.0 0 1 0 6.0 0a3.0 3.0 0 1 0 -6.0 0M204.4 44.4m-3.0 0a3.0 3.0 0 1 0 6.0 0a3.0 3.0 0 1 0 -6.0 0M88.0 181.8m-3.0 0a3.0 3.0 0 1 0 6.0 0a3.0 3.0 0 1 0 -6.0 0M138.5 90.7m-3.0 0a3.0 3.0 0 1 0 6.0 0a3.0 3.0 0 1 0 -6.0 0M226.9 184.6m-3.0 0a3.0 3.0 0 1 0 6.0 0a3.0 3.0 0 1 0 -6.0 0M61.8 133.5m-3.0 0a3.0 3.0 0 1 0 6.0 0a3.0 3.0 0 1 0 -6.0 0M100.2 80.7m-3.0 0a3.0 3.0 0 1 0 6.0 0a3.0 3.0 0 1 0 -6.0 0M205.8 140.2m-3.0 0a3.0 3.0 0 1 0 6.0 0a3.0 3.0 0 1 0 -6.0 0M269.7 46.4m-3.0 0a3.0 3.0 0 1 0 6.0 0a3.0 3.0 0 1 0 -6.0 0M146.5 190.7m-3.0 0a3.0 3.0 0 1 0 6.0 0a3.0 3.0 0 1 0 -6.0 0M21.2 148.4m-3.0 0a3.0 3.0 0 1 0 6.0 0a3.0 3.0 0 1 0 -6.0 0M162.6 40.7m-3.0 0a3.0 3.0 0 1 0 6.0 0a3.0 3.0 0 1 0 -6.0 0M206.1 124.9m-3.0 0a3.0 3.0 0 1 0 6.0 0a3.0 3.0 0 1 0 -6.0 0M197.6 179.5m-3.0 0a3.0 3.0 0 1 0 6.0 0a3.0 3.0 0 1 0 -6.0 0M144.3 18.5m-3.0 0a3.0 3.0 0 1 0 6.0 0a3.0 3.0 0 1 0 -6.0 0M42.2 109.7m-3.0 0a3.0 3.0 0 1 0 6.0 0a3.0 3.0 0 1 0 -6.0 0M111.2 152.4m-3.0 0a3.0 3.0 0 1 0 6.0 0a3.0 3.0 0 1 0 -6.0 0M234.8 122.3m-3.0 0a3.0 3.0 0 1 0 6.0 0a3.0 3.0 0 1 0 -6.0 0M294.9 38.0m-3.0 0a3.0 3.0 0 1 0 6.0 0a3.0 3.0 0 1 0 -6.0 0M182.3 111.7m-3.0 0a3.0 3.0 0 1 0 6.0 0a3.0 3.0 0 1 0 -6.0 0M237.3 113.4m-3.0 0a3.0 3.0 0 1 0 6.0 0a3.0 3.0 0 1 0 -6.0 0M126.7 151.1m-3.0 0a3.0 3.0 0 1 0 6.0 0a3.0 3.0 0 1 0 -6.0 0M136.5 177.2m-3.0 0a3.0 3.0 0 1 0 6.0 0a3.0 3.0 0 1 0 -6.0 0M199.2 143.1m-3.0 0a3.0 3.0 0 1 0 6.0 0a3.0 3.0 0 1 0 -6.0 0M241.3 20.5m-3.0 0a3.0 3.0 0 1 0 6.0 0a3.0 3.0 0 1 0 -6.0 0M191.9 48.7m-3.0 0a3.0 3.0 0 1 0 6.0 0a3.0 3.0 0 1 0 -6.0 0M57.7 163.4m-3.0 0a3.0 3.0 0 1 0 6.0 0a3.0 3.0 0 1 0 -6.0 0M192.8 143.8m-3.0 0a3.0 3.0 0 1 0 6.0 0a3.0 3.0 0 1 0 -6.0 0M281.3 168.7m-3.0 0a3.0 3.0 0 1 0 6.0 0a3.0 3.0 0 1 0 -6.0 0" fill="#e8e2f4" stroke="#6a6488" stroke-width="1.2" opacity="0.85"/><path d="M232.1 151.3m-3.0 0a3.0 3.0 0 1 0 6.0 0a3.0 3.0 0 1 0 -6.0 0M100.0 38.5m-3.4 0a3.4 3.4 0 1 0 6.8 0a3.4 3.4 0 1 0 -6.8 0M212.1 133.8m-3.3 0a3.3 3.3 0 1 0 6.6 0a3.3 3.3 0 1 0 -6.6 0M252.2 88.4m-3.4 0a3.4 3.4 0 1 0 6.8 0a3.4 3.4 0 1 0 -6.8 0M123.6 71.0m-3.6 0a3.6 3.6 0 1 0 7.2 0a3.6 3.6 0 1 0 -7.2 0M143.8 46.2m-3.0 0a3.0 3.0 0 1 0 6.0 0a3.0 3.0 0 1 0 -6.0 0M13.6 133.3m-3.4 0a3.4 3.4 0 1 0 6.9 0a3.4 3.4 0 1 0 -6.9 0M13.2 59.2m-2.9 0a2.9 2.9 0 1 0 5.7 0a2.9 2.9 0 1 0 -5.7 0M152.2 98.0m-2.9 0a2.9 2.9 0 1 0 5.8 0a2.9 2.9 0 1 0 -5.8 0M223.9 47.1m-3.1 0a3.1 3.1 0 1 0 6.1 0a3.1 3.1 0 1 0 -6.1 0M49.6 89.0m-3.3 0a3.3 3.3 0 1 0 6.6 0a3.3 3.3 0 1 0 -6.6 0M90.5 55.8m-2.8 0a2.8 2.8 0 1 0 5.7 0a2.8 2.8 0 1 0 -5.7 0M115.8 141.1m-2.8 0a2.8 2.8 0 1 0 5.7 0a2.8 2.8 0 1 0 -5.7 0M188.1 188.3m-3.8 0a3.8 3.8 0 1 0 7.5 0a3.8 3.8 0 1 0 -7.5 0M40.0 82.5m-3.0 0a3.0 3.0 0 1 0 6.1 0a3.0 3.0 0 1 0 -6.1 0M260.5 45.0m-3.0 0a3.0 3.0 0 1 0 6.1 0a3.0 3.0 0 1 0 -6.1 0M175.8 106.5m-3.5 0a3.5 3.5 0 1 0 6.9 0a3.5 3.5 0 1 0 -6.9 0M115.1 35.6m-3.4 0a3.4 3.4 0 1 0 6.8 0a3.4 3.4 0 1 0 -6.8 0M88.0 177.5m-3.4 0a3.4 3.4 0 1 0 6.8 0a3.4 3.4 0 1 0 -6.8 0M126.2 188.8m-3.5 0a3.5 3.5 0 1 0 7.0 0a3.5 3.5 0 1 0 -7.0 0M251.3 109.8m-3.1 0a3.1 3.1 0 1 0 6.2 0a3.1 3.1 0 1 0 -6.2 0M263.9 6.3m-3.6 0a3.6 3.6 0 1 0 7.3 0a3.6 3.6 0 1 0 -7.3 0M30.6 156.6m-3.6 0a3.6 3.6 0 1 0 7.1 0a3.6 3.6 0 1 0 -7.1 0M48.8 174.8m-3.8 0a3.8 3.8 0 1 0 7.7 0a3.8 3.8 0 1 0 -7.7 0M102.4 49.2m-3.1 0a3.1 3.1 0 1 0 6.2 0a3.1 3.1 0 1 0 -6.2 0M221.1 25.9m-3.1 0a3.1 3.1 0 1 0 6.2 0a3.1 3.1 0 1 0 -6.2 0M65.1 13.3m-3.7 0a3.7 3.7 0 1 0 7.3 0a3.7 3.7 0 1 0 -7.3 0M98.4 164.8m-3.1 0a3.1 3.1 0 1 0 6.2 0a3.1 3.1 0 1 0 -6.2 0M156.4 98.1m-3.0 0a3.0 3.0 0 1 0 5.9 0a3.0 3.0 0 1 0 -5.9 0M12.1 124.8m-3.6 0a3.6 3.6 0 1 0 7.1 0a3.6 3.6 0 1 0 -7.1 0" fill="#2a1668"/></svg>
<svg x="1086.50" y="55.00" width="299.50" height="195.50" viewBox="0 0 299.50 195.50" preserveAspectRatio="none"><rect width="299.50" height="195.50" fill="#c0b5dd"/><filter id="oA6" filterUnits="userSpaceOnUse" x="-30" y="-30" width="359.5" height="255.5" color-interpolation-filters="sRGB"><feGaussianBlur in="SourceGraphic" stdDeviation="7" edgeMode="duplicate" result="c"/><feTurbulence type="fractalNoise" baseFrequency="0.045" numOctaves="2" seed="119"/><feColorMatrix type="matrix" values="-1.600 0 0 0 1.300 -1.600 0 0 0 1.300 -1.600 0 0 0 1.300 0 0 0 0 1" result="n"/><feComposite in="c" in2="n" operator="arithmetic" k2="1" k3="1" k4="-0.5" result="s"/><feComponentTransfer in="s"><feFuncR type="table" tableValues="0 0 0.05 0.95 1 1"/><feFuncG type="table" tableValues="0 0 0.05 0.95 1 1"/><feFuncB type="table" tableValues="0 0 0.05 0.95 1 1"/></feComponentTransfer><feColorMatrix type="matrix" values="-0.4000 0 0 0 0.7922 -0.5176 0 0 0 0.7608 -0.1882 0 0 0 0.8863 0 0 0 0 1"/></filter><g filter="url(#oA6)"><rect x="-30.3" y="-30.3" width="55.6" height="55.0" fill="#020202"/><rect x="24.7" y="-30.3" width="25.6" height="55.0" fill="#020202"/><rect x="49.6" y="-30.3" width="25.6" height="55.0" fill="#020202"/><rect x="74.6" y="-30.3" width="25.6" height="55.0" fill="#020202"/><rect x="99.5" y="-30.3" width="25.6" height="55.0" fill="#020202"/><rect x="124.5" y="-30.3" width="25.6" height="55.0" fill="#242424"/><rect x="149.4" y="-30.3" width="25.6" height="55.0" fill="#929292"/><rect x="174.4" y="-30.3" width="25.6" height="55.0" fill="#6d6d6d"/><rect x="199.4" y="-30.3" width="25.6" height="55.0" fill="#020202"/><rect x="224.3" y="-30.3" width="25.6" height="55.0" fill="#020202"/><rect x="249.3" y="-30.3" width="25.6" height="55.0" fill="#020202"/><rect x="274.2" y="-30.3" width="55.6" height="55.0" fill="#020202"/><rect x="-30.3" y="24.1" width="55.6" height="25.0" fill="#020202"/><rect x="24.7" y="24.1" width="25.6" height="25.0" fill="#020202"/><rect x="49.6" y="24.1" width="25.6" height="25.0" fill="#242424"/><rect x="74.6" y="24.1" width="25.6" height="25.0" fill="#6d6d6d"/><rect x="99.5" y="24.1" width="25.6" height="25.0" fill="#6d6d6d"/><rect x="124.5" y="24.1" width="25.6" height="25.0" fill="#242424"/><rect x="149.4" y="24.1" width="25.6" height="25.0" fill="#6d6d6d"/><rect x="174.4" y="24.1" width="25.6" height="25.0" fill="#242424"/><rect x="199.4" y="24.1" width="25.6" height="25.0" fill="#020202"/><rect x="224.3" y="24.1" width="25.6" height="25.0" fill="#242424"/><rect x="249.3" y="24.1" width="25.6" height="25.0" fill="#6d6d6d"/><rect x="274.2" y="24.1" width="55.6" height="25.0" fill="#020202"/><rect x="-30.3" y="48.6" width="55.6" height="25.0" fill="#020202"/><rect x="24.7" y="48.6" width="25.6" height="25.0" fill="#242424"/><rect x="49.6" y="48.6" width="25.6" height="25.0" fill="#6d6d6d"/><rect x="74.6" y="48.6" width="25.6" height="25.0" fill="#929292"/><rect x="99.5" y="48.6" width="25.6" height="25.0" fill="#6d6d6d"/><rect x="124.5" y="48.6" width="25.6" height="25.0" fill="#242424"/><rect x="149.4" y="48.6" width="25.6" height="25.0" fill="#020202"/><rect x="174.4" y="48.6" width="25.6" height="25.0" fill="#020202"/><rect x="199.4" y="48.6" width="25.6" height="25.0" fill="#020202"/><rect x="224.3" y="48.6" width="25.6" height="25.0" fill="#242424"/><rect x="249.3" y="48.6" width="25.6" height="25.0" fill="#6d6d6d"/><rect x="274.2" y="48.6" width="55.6" height="25.0" fill="#020202"/><rect x="-30.3" y="73.0" width="55.6" height="25.0" fill="#242424"/><rect x="24.7" y="73.0" width="25.6" height="25.0" fill="#020202"/><rect x="49.6" y="73.0" width="25.6" height="25.0" fill="#242424"/><rect x="74.6" y="73.0" width="25.6" height="25.0" fill="#6d6d6d"/><rect x="99.5" y="73.0" width="25.6" height="25.0" fill="#242424"/><rect x="124.5" y="73.0" width="25.6" height="25.0" fill="#242424"/><rect x="149.4" y="73.0" width="25.6" height="25.0" fill="#020202"/><rect x="174.4" y="73.0" width="25.6" height="25.0" fill="#242424"/><rect x="199.4" y="73.0" width="25.6" height="25.0" fill="#242424"/><rect x="224.3" y="73.0" width="25.6" height="25.0" fill="#242424"/><rect x="249.3" y="73.0" width="25.6" height="25.0" fill="#242424"/><rect x="274.2" y="73.0" width="55.6" height="25.0" fill="#020202"/><rect x="-30.3" y="97.5" width="55.6" height="25.0" fill="#242424"/><rect x="24.7" y="97.5" width="25.6" height="25.0" fill="#020202"/><rect x="49.6" y="97.5" width="25.6" height="25.0" fill="#020202"/><rect x="74.6" y="97.5" width="25.6" height="25.0" fill="#242424"/><rect x="99.5" y="97.5" width="25.6" height="25.0" fill="#242424"/><rect x="124.5" y="97.5" width="25.6" height="25.0" fill="#020202"/><rect x="149.4" y="97.5" width="25.6" height="25.0" fill="#020202"/><rect x="174.4" y="97.5" width="25.6" height="25.0" fill="#242424"/><rect x="199.4" y="97.5" width="25.6" height="25.0" fill="#242424"/><rect x="224.3" y="97.5" width="25.6" height="25.0" fill="#242424"/><rect x="249.3" y="97.5" width="25.6" height="25.0" fill="#020202"/><rect x="274.2" y="97.5" width="55.6" height="25.0" fill="#020202"/><rect x="-30.3" y="121.9" width="55.6" height="25.0" fill="#242424"/><rect x="24.7" y="121.9" width="25.6" height="25.0" fill="#242424"/><rect x="49.6" y="121.9" width="25.6" height="25.0" fill="#6d6d6d"/><rect x="74.6" y="121.9" width="25.6" height="25.0" fill="#242424"/><rect x="99.5" y="121.9" width="25.6" height="25.0" fill="#242424"/><rect x="124.5" y="121.9" width="25.6" height="25.0" fill="#6d6d6d"/><rect x="149.4" y="121.9" width="25.6" height="25.0" fill="#020202"/><rect x="174.4" y="121.9" width="25.6" height="25.0" fill="#242424"/><rect x="199.4" y="121.9" width="25.6" height="25.0" fill="#242424"/><rect x="224.3" y="121.9" width="25.6" height="25.0" fill="#242424"/><rect x="249.3" y="121.9" width="25.6" height="25.0" fill="#020202"/><rect x="274.2" y="121.9" width="55.6" height="25.0" fill="#020202"/><rect x="-30.3" y="146.3" width="55.6" height="25.0" fill="#020202"/><rect x="24.7" y="146.3" width="25.6" height="25.0" fill="#020202"/><rect x="49.6" y="146.3" width="25.6" height="25.0" fill="#242424"/><rect x="74.6" y="146.3" width="25.6" height="25.0" fill="#020202"/><rect x="99.5" y="146.3" width="25.6" height="25.0" fill="#6d6d6d"/><rect x="124.5" y="146.3" width="25.6" height="25.0" fill="#6d6d6d"/><rect x="149.4" y="146.3" width="25.6" height="25.0" fill="#6d6d6d"/><rect x="174.4" y="146.3" width="25.6" height="25.0" fill="#6d6d6d"/><rect x="199.4" y="146.3" width="25.6" height="25.0" fill="#6d6d6d"/><rect x="224.3" y="146.3" width="25.6" height="25.0" fill="#242424"/><rect x="249.3" y="146.3" width="25.6" height="25.0" fill="#020202"/><rect x="274.2" y="146.3" width="55.6" height="25.0" fill="#242424"/><rect x="-30.3" y="170.8" width="55.6" height="55.0" fill="#020202"/><rect x="24.7" y="170.8" width="25.6" height="55.0" fill="#6d6d6d"/><rect x="49.6" y="170.8" width="25.6" height="55.0" fill="#929292"/><rect x="74.6" y="170.8" width="25.6" height="55.0" fill="#020202"/><rect x="99.5" y="170.8" width="25.6" height="55.0" fill="#242424"/><rect x="124.5" y="170.8" width="25.6" height="55.0" fill="#242424"/><rect x="149.4" y="170.8" width="25.6" height="55.0" fill="#242424"/><rect x="174.4" y="170.8" width="25.6" height="55.0" fill="#242424"/><rect x="199.4" y="170.8" width="25.6" height="55.0" fill="#242424"/><rect x="224.3" y="170.8" width="25.6" height="55.0" fill="#242424"/><rect x="249.3" y="170.8" width="25.6" height="55.0" fill="#020202"/><rect x="274.2" y="170.8" width="55.6" height="55.0" fill="#242424"/></g><path d="M73.7 89.9m-3.0 0a3.0 3.0 0 1 0 6.0 0a3.0 3.0 0 1 0 -6.0 0M239.2 115.7m-3.0 0a3.0 3.0 0 1 0 6.0 0a3.0 3.0 0 1 0 -6.0 0M141.5 81.0m-3.0 0a3.0 3.0 0 1 0 6.0 0a3.0 3.0 0 1 0 -6.0 0M187.2 146.4m-3.0 0a3.0 3.0 0 1 0 6.0 0a3.0 3.0 0 1 0 -6.0 0M236.1 151.2m-3.0 0a3.0 3.0 0 1 0 6.0 0a3.0 3.0 0 1 0 -6.0 0M182.0 28.5m-3.0 0a3.0 3.0 0 1 0 6.0 0a3.0 3.0 0 1 0 -6.0 0M165.1 72.3m-3.0 0a3.0 3.0 0 1 0 6.0 0a3.0 3.0 0 1 0 -6.0 0M161.9 190.9m-3.0 0a3.0 3.0 0 1 0 6.0 0a3.0 3.0 0 1 0 -6.0 0M11.0 35.5m-3.0 0a3.0 3.0 0 1 0 6.0 0a3.0 3.0 0 1 0 -6.0 0M219.2 89.3m-3.0 0a3.0 3.0 0 1 0 6.0 0a3.0 3.0 0 1 0 -6.0 0M207.1 181.6m-3.0 0a3.0 3.0 0 1 0 6.0 0a3.0 3.0 0 1 0 -6.0 0M225.2 25.8m-3.0 0a3.0 3.0 0 1 0 6.0 0a3.0 3.0 0 1 0 -6.0 0M180.3 184.1m-3.0 0a3.0 3.0 0 1 0 6.0 0a3.0 3.0 0 1 0 -6.0 0M136.8 7.9m-3.0 0a3.0 3.0 0 1 0 6.0 0a3.0 3.0 0 1 0 -6.0 0M191.1 158.1m-3.0 0a3.0 3.0 0 1 0 6.0 0a3.0 3.0 0 1 0 -6.0 0M44.4 184.4m-3.0 0a3.0 3.0 0 1 0 6.0 0a3.0 3.0 0 1 0 -6.0 0M135.3 169.2m-3.0 0a3.0 3.0 0 1 0 6.0 0a3.0 3.0 0 1 0 -6.0 0M222.9 53.1m-3.0 0a3.0 3.0 0 1 0 6.0 0a3.0 3.0 0 1 0 -6.0 0M86.9 37.3m-3.0 0a3.0 3.0 0 1 0 6.0 0a3.0 3.0 0 1 0 -6.0 0M280.5 25.4m-3.0 0a3.0 3.0 0 1 0 6.0 0a3.0 3.0 0 1 0 -6.0 0M230.5 86.0m-3.0 0a3.0 3.0 0 1 0 6.0 0a3.0 3.0 0 1 0 -6.0 0M48.6 173.4m-3.0 0a3.0 3.0 0 1 0 6.0 0a3.0 3.0 0 1 0 -6.0 0M36.7 170.5m-3.0 0a3.0 3.0 0 1 0 6.0 0a3.0 3.0 0 1 0 -6.0 0M66.1 137.7m-3.0 0a3.0 3.0 0 1 0 6.0 0a3.0 3.0 0 1 0 -6.0 0M56.6 163.4m-3.0 0a3.0 3.0 0 1 0 6.0 0a3.0 3.0 0 1 0 -6.0 0M294.0 170.6m-3.0 0a3.0 3.0 0 1 0 6.0 0a3.0 3.0 0 1 0 -6.0 0M109.2 186.7m-3.0 0a3.0 3.0 0 1 0 6.0 0a3.0 3.0 0 1 0 -6.0 0M134.9 178.4m-3.0 0a3.0 3.0 0 1 0 6.0 0a3.0 3.0 0 1 0 -6.0 0M111.6 175.3m-3.0 0a3.0 3.0 0 1 0 6.0 0a3.0 3.0 0 1 0 -6.0 0M216.8 147.3m-3.0 0a3.0 3.0 0 1 0 6.0 0a3.0 3.0 0 1 0 -6.0 0M133.0 125.1m-3.0 0a3.0 3.0 0 1 0 6.0 0a3.0 3.0 0 1 0 -6.0 0M85.8 87.8m-3.0 0a3.0 3.0 0 1 0 6.0 0a3.0 3.0 0 1 0 -6.0 0M109.2 112.3m-3.0 0a3.0 3.0 0 1 0 6.0 0a3.0 3.0 0 1 0 -6.0 0M6.7 36.6m-3.0 0a3.0 3.0 0 1 0 6.0 0a3.0 3.0 0 1 0 -6.0 0M129.1 154.6m-3.0 0a3.0 3.0 0 1 0 6.0 0a3.0 3.0 0 1 0 -6.0 0M209.9 55.8m-3.0 0a3.0 3.0 0 1 0 6.0 0a3.0 3.0 0 1 0 -6.0 0M107.6 81.3m-3.0 0a3.0 3.0 0 1 0 6.0 0a3.0 3.0 0 1 0 -6.0 0M193.2 145.5m-3.0 0a3.0 3.0 0 1 0 6.0 0a3.0 3.0 0 1 0 -6.0 0M239.2 161.6m-3.0 0a3.0 3.0 0 1 0 6.0 0a3.0 3.0 0 1 0 -6.0 0M175.4 179.6m-3.0 0a3.0 3.0 0 1 0 6.0 0a3.0 3.0 0 1 0 -6.0 0M58.3 150.0m-3.0 0a3.0 3.0 0 1 0 6.0 0a3.0 3.0 0 1 0 -6.0 0M295.3 38.4m-3.0 0a3.0 3.0 0 1 0 6.0 0a3.0 3.0 0 1 0 -6.0 0M193.6 59.1m-3.0 0a3.0 3.0 0 1 0 6.0 0a3.0 3.0 0 1 0 -6.0 0M284.6 14.9m-3.0 0a3.0 3.0 0 1 0 6.0 0a3.0 3.0 0 1 0 -6.0 0M266.4 138.6m-3.0 0a3.0 3.0 0 1 0 6.0 0a3.0 3.0 0 1 0 -6.0 0M160.6 122.8m-3.0 0a3.0 3.0 0 1 0 6.0 0a3.0 3.0 0 1 0 -6.0 0M105.3 43.4m-3.0 0a3.0 3.0 0 1 0 6.0 0a3.0 3.0 0 1 0 -6.0 0M222.3 61.0m-3.0 0a3.0 3.0 0 1 0 6.0 0a3.0 3.0 0 1 0 -6.0 0M252.4 162.1m-3.0 0a3.0 3.0 0 1 0 6.0 0a3.0 3.0 0 1 0 -6.0 0M10.6 95.2m-3.0 0a3.0 3.0 0 1 0 6.0 0a3.0 3.0 0 1 0 -6.0 0M50.9 168.3m-3.0 0a3.0 3.0 0 1 0 6.0 0a3.0 3.0 0 1 0 -6.0 0M99.1 167.5m-3.0 0a3.0 3.0 0 1 0 6.0 0a3.0 3.0 0 1 0 -6.0 0M109.2 78.6m-3.0 0a3.0 3.0 0 1 0 6.0 0a3.0 3.0 0 1 0 -6.0 0M119.8 153.9m-3.0 0a3.0 3.0 0 1 0 6.0 0a3.0 3.0 0 1 0 -6.0 0M44.7 168.4m-3.0 0a3.0 3.0 0 1 0 6.0 0a3.0 3.0 0 1 0 -6.0 0M110.4 126.0m-3.0 0a3.0 3.0 0 1 0 6.0 0a3.0 3.0 0 1 0 -6.0 0M156.8 61.3m-3.0 0a3.0 3.0 0 1 0 6.0 0a3.0 3.0 0 1 0 -6.0 0M256.3 176.5m-3.0 0a3.0 3.0 0 1 0 6.0 0a3.0 3.0 0 1 0 -6.0 0M106.9 158.8m-3.0 0a3.0 3.0 0 1 0 6.0 0a3.0 3.0 0 1 0 -6.0 0M28.5 100.1m-3.0 0a3.0 3.0 0 1 0 6.0 0a3.0 3.0 0 1 0 -6.0 0M42.2 98.8m-3.0 0a3.0 3.0 0 1 0 6.0 0a3.0 3.0 0 1 0 -6.0 0M70.1 148.4m-3.0 0a3.0 3.0 0 1 0 6.0 0a3.0 3.0 0 1 0 -6.0 0M30.7 18.4m-3.0 0a3.0 3.0 0 1 0 6.0 0a3.0 3.0 0 1 0 -6.0 0M199.9 108.6m-3.0 0a3.0 3.0 0 1 0 6.0 0a3.0 3.0 0 1 0 -6.0 0M13.3 30.4m-3.0 0a3.0 3.0 0 1 0 6.0 0a3.0 3.0 0 1 0 -6.0 0M247.8 149.6m-3.0 0a3.0 3.0 0 1 0 6.0 0a3.0 3.0 0 1 0 -6.0 0M213.4 22.5m-3.0 0a3.0 3.0 0 1 0 6.0 0a3.0 3.0 0 1 0 -6.0 0M85.6 131.7m-3.0 0a3.0 3.0 0 1 0 6.0 0a3.0 3.0 0 1 0 -6.0 0M73.3 114.1m-3.0 0a3.0 3.0 0 1 0 6.0 0a3.0 3.0 0 1 0 -6.0 0M259.4 56.8m-3.0 0a3.0 3.0 0 1 0 6.0 0a3.0 3.0 0 1 0 -6.0 0M110.9 92.9m-3.0 0a3.0 3.0 0 1 0 6.0 0a3.0 3.0 0 1 0 -6.0 0M259.9 123.1m-3.0 0a3.0 3.0 0 1 0 6.0 0a3.0 3.0 0 1 0 -6.0 0M281.8 21.3m-3.0 0a3.0 3.0 0 1 0 6.0 0a3.0 3.0 0 1 0 -6.0 0M42.8 190.6m-3.0 0a3.0 3.0 0 1 0 6.0 0a3.0 3.0 0 1 0 -6.0 0M284.0 54.3m-3.0 0a3.0 3.0 0 1 0 6.0 0a3.0 3.0 0 1 0 -6.0 0M288.1 191.4m-3.0 0a3.0 3.0 0 1 0 6.0 0a3.0 3.0 0 1 0 -6.0 0M22.2 18.7m-3.0 0a3.0 3.0 0 1 0 6.0 0a3.0 3.0 0 1 0 -6.0 0M86.5 167.8m-3.0 0a3.0 3.0 0 1 0 6.0 0a3.0 3.0 0 1 0 -6.0 0M154.9 73.5m-3.0 0a3.0 3.0 0 1 0 6.0 0a3.0 3.0 0 1 0 -6.0 0M178.2 35.2m-3.0 0a3.0 3.0 0 1 0 6.0 0a3.0 3.0 0 1 0 -6.0 0M10.3 181.9m-3.0 0a3.0 3.0 0 1 0 6.0 0a3.0 3.0 0 1 0 -6.0 0M28.8 22.3m-3.0 0a3.0 3.0 0 1 0 6.0 0a3.0 3.0 0 1 0 -6.0 0M190.2 123.9m-3.0 0a3.0 3.0 0 1 0 6.0 0a3.0 3.0 0 1 0 -6.0 0M263.7 169.7m-3.0 0a3.0 3.0 0 1 0 6.0 0a3.0 3.0 0 1 0 -6.0 0M264.3 167.1m-3.0 0a3.0 3.0 0 1 0 6.0 0a3.0 3.0 0 1 0 -6.0 0M37.7 28.1m-3.0 0a3.0 3.0 0 1 0 6.0 0a3.0 3.0 0 1 0 -6.0 0M155.5 56.1m-3.0 0a3.0 3.0 0 1 0 6.0 0a3.0 3.0 0 1 0 -6.0 0M214.9 33.4m-3.0 0a3.0 3.0 0 1 0 6.0 0a3.0 3.0 0 1 0 -6.0 0M73.9 13.9m-3.0 0a3.0 3.0 0 1 0 6.0 0a3.0 3.0 0 1 0 -6.0 0M18.7 4.8m-3.0 0a3.0 3.0 0 1 0 6.0 0a3.0 3.0 0 1 0 -6.0 0M286.7 166.9m-3.0 0a3.0 3.0 0 1 0 6.0 0a3.0 3.0 0 1 0 -6.0 0M98.3 163.7m-3.0 0a3.0 3.0 0 1 0 6.0 0a3.0 3.0 0 1 0 -6.0 0M31.1 157.4m-3.0 0a3.0 3.0 0 1 0 6.0 0a3.0 3.0 0 1 0 -6.0 0M217.9 59.8m-3.0 0a3.0 3.0 0 1 0 6.0 0a3.0 3.0 0 1 0 -6.0 0M213.6 24.4m-3.0 0a3.0 3.0 0 1 0 6.0 0a3.0 3.0 0 1 0 -6.0 0M8.4 155.1m-3.0 0a3.0 3.0 0 1 0 6.0 0a3.0 3.0 0 1 0 -6.0 0M112.3 143.4m-3.0 0a3.0 3.0 0 1 0 6.0 0a3.0 3.0 0 1 0 -6.0 0M137.1 4.5m-3.0 0a3.0 3.0 0 1 0 6.0 0a3.0 3.0 0 1 0 -6.0 0M14.7 173.4m-3.0 0a3.0 3.0 0 1 0 6.0 0a3.0 3.0 0 1 0 -6.0 0M99.2 108.0m-3.0 0a3.0 3.0 0 1 0 6.0 0a3.0 3.0 0 1 0 -6.0 0M174.7 35.5m-3.0 0a3.0 3.0 0 1 0 6.0 0a3.0 3.0 0 1 0 -6.0 0M30.3 19.0m-3.0 0a3.0 3.0 0 1 0 6.0 0a3.0 3.0 0 1 0 -6.0 0M233.8 137.4m-3.0 0a3.0 3.0 0 1 0 6.0 0a3.0 3.0 0 1 0 -6.0 0M141.8 79.1m-3.0 0a3.0 3.0 0 1 0 6.0 0a3.0 3.0 0 1 0 -6.0 0M293.8 27.5m-3.0 0a3.0 3.0 0 1 0 6.0 0a3.0 3.0 0 1 0 -6.0 0M90.2 159.6m-3.0 0a3.0 3.0 0 1 0 6.0 0a3.0 3.0 0 1 0 -6.0 0M9.7 143.8m-3.0 0a3.0 3.0 0 1 0 6.0 0a3.0 3.0 0 1 0 -6.0 0M181.7 20.7m-3.0 0a3.0 3.0 0 1 0 6.0 0a3.0 3.0 0 1 0 -6.0 0M74.9 66.2m-3.0 0a3.0 3.0 0 1 0 6.0 0a3.0 3.0 0 1 0 -6.0 0M251.8 86.0m-3.0 0a3.0 3.0 0 1 0 6.0 0a3.0 3.0 0 1 0 -6.0 0M107.9 105.7m-3.0 0a3.0 3.0 0 1 0 6.0 0a3.0 3.0 0 1 0 -6.0 0M13.7 135.8m-3.0 0a3.0 3.0 0 1 0 6.0 0a3.0 3.0 0 1 0 -6.0 0M182.8 158.6m-3.0 0a3.0 3.0 0 1 0 6.0 0a3.0 3.0 0 1 0 -6.0 0M80.4 79.9m-3.0 0a3.0 3.0 0 1 0 6.0 0a3.0 3.0 0 1 0 -6.0 0M182.5 164.2m-3.0 0a3.0 3.0 0 1 0 6.0 0a3.0 3.0 0 1 0 -6.0 0M92.1 169.0m-3.0 0a3.0 3.0 0 1 0 6.0 0a3.0 3.0 0 1 0 -6.0 0M235.0 132.7m-3.0 0a3.0 3.0 0 1 0 6.0 0a3.0 3.0 0 1 0 -6.0 0M145.5 166.2m-3.0 0a3.0 3.0 0 1 0 6.0 0a3.0 3.0 0 1 0 -6.0 0M279.4 190.1m-3.0 0a3.0 3.0 0 1 0 6.0 0a3.0 3.0 0 1 0 -6.0 0M67.4 158.2m-3.0 0a3.0 3.0 0 1 0 6.0 0a3.0 3.0 0 1 0 -6.0 0M14.4 70.2m-3.0 0a3.0 3.0 0 1 0 6.0 0a3.0 3.0 0 1 0 -6.0 0M250.1 144.6m-3.0 0a3.0 3.0 0 1 0 6.0 0a3.0 3.0 0 1 0 -6.0 0M7.8 69.4m-3.0 0a3.0 3.0 0 1 0 6.0 0a3.0 3.0 0 1 0 -6.0 0M51.0 38.9m-3.0 0a3.0 3.0 0 1 0 6.0 0a3.0 3.0 0 1 0 -6.0 0M88.2 82.9m-3.0 0a3.0 3.0 0 1 0 6.0 0a3.0 3.0 0 1 0 -6.0 0M236.2 20.5m-3.0 0a3.0 3.0 0 1 0 6.0 0a3.0 3.0 0 1 0 -6.0 0M222.6 178.2m-3.0 0a3.0 3.0 0 1 0 6.0 0a3.0 3.0 0 1 0 -6.0 0M120.2 120.1m-3.0 0a3.0 3.0 0 1 0 6.0 0a3.0 3.0 0 1 0 -6.0 0M156.1 76.8m-3.0 0a3.0 3.0 0 1 0 6.0 0a3.0 3.0 0 1 0 -6.0 0M106.4 154.3m-3.0 0a3.0 3.0 0 1 0 6.0 0a3.0 3.0 0 1 0 -6.0 0M70.5 82.2m-3.0 0a3.0 3.0 0 1 0 6.0 0a3.0 3.0 0 1 0 -6.0 0M22.6 31.4m-3.0 0a3.0 3.0 0 1 0 6.0 0a3.0 3.0 0 1 0 -6.0 0M79.7 42.0m-3.0 0a3.0 3.0 0 1 0 6.0 0a3.0 3.0 0 1 0 -6.0 0M72.0 45.8m-3.0 0a3.0 3.0 0 1 0 6.0 0a3.0 3.0 0 1 0 -6.0 0M82.8 38.8m-3.0 0a3.0 3.0 0 1 0 6.0 0a3.0 3.0 0 1 0 -6.0 0M271.9 70.9m-3.0 0a3.0 3.0 0 1 0 6.0 0a3.0 3.0 0 1 0 -6.0 0M239.6 121.0m-3.0 0a3.0 3.0 0 1 0 6.0 0a3.0 3.0 0 1 0 -6.0 0M235.5 61.2m-3.0 0a3.0 3.0 0 1 0 6.0 0a3.0 3.0 0 1 0 -6.0 0M274.3 180.0m-3.0 0a3.0 3.0 0 1 0 6.0 0a3.0 3.0 0 1 0 -6.0 0M105.3 117.8m-3.0 0a3.0 3.0 0 1 0 6.0 0a3.0 3.0 0 1 0 -6.0 0M254.5 163.6m-3.0 0a3.0 3.0 0 1 0 6.0 0a3.0 3.0 0 1 0 -6.0 0M277.6 108.2m-3.0 0a3.0 3.0 0 1 0 6.0 0a3.0 3.0 0 1 0 -6.0 0M220.3 102.3m-3.0 0a3.0 3.0 0 1 0 6.0 0a3.0 3.0 0 1 0 -6.0 0M183.4 178.0m-3.0 0a3.0 3.0 0 1 0 6.0 0a3.0 3.0 0 1 0 -6.0 0M87.2 8.8m-3.0 0a3.0 3.0 0 1 0 6.0 0a3.0 3.0 0 1 0 -6.0 0M266.7 62.4m-3.0 0a3.0 3.0 0 1 0 6.0 0a3.0 3.0 0 1 0 -6.0 0M214.1 181.2m-3.0 0a3.0 3.0 0 1 0 6.0 0a3.0 3.0 0 1 0 -6.0 0M246.5 135.7m-3.0 0a3.0 3.0 0 1 0 6.0 0a3.0 3.0 0 1 0 -6.0 0M238.5 15.1m-3.0 0a3.0 3.0 0 1 0 6.0 0a3.0 3.0 0 1 0 -6.0 0M34.0 32.7m-3.0 0a3.0 3.0 0 1 0 6.0 0a3.0 3.0 0 1 0 -6.0 0" fill="#e8e2f4" stroke="#6a6488" stroke-width="1.2" opacity="0.85"/><path d="M4.7 67.3m-2.9 0a2.9 2.9 0 1 0 5.9 0a2.9 2.9 0 1 0 -5.9 0M280.2 175.6m-3.6 0a3.6 3.6 0 1 0 7.2 0a3.6 3.6 0 1 0 -7.2 0M264.9 167.6m-3.8 0a3.8 3.8 0 1 0 7.7 0a3.8 3.8 0 1 0 -7.7 0M90.4 157.8m-3.6 0a3.6 3.6 0 1 0 7.2 0a3.6 3.6 0 1 0 -7.2 0M26.6 20.4m-2.9 0a2.9 2.9 0 1 0 5.7 0a2.9 2.9 0 1 0 -5.7 0M235.2 172.7m-3.7 0a3.7 3.7 0 1 0 7.4 0a3.7 3.7 0 1 0 -7.4 0M69.5 188.1m-3.4 0a3.4 3.4 0 1 0 6.9 0a3.4 3.4 0 1 0 -6.9 0M22.3 184.9m-3.7 0a3.7 3.7 0 1 0 7.4 0a3.7 3.7 0 1 0 -7.4 0M164.3 146.0m-3.7 0a3.7 3.7 0 1 0 7.4 0a3.7 3.7 0 1 0 -7.4 0M152.3 176.3m-3.4 0a3.4 3.4 0 1 0 6.8 0a3.4 3.4 0 1 0 -6.8 0M113.7 135.1m-3.8 0a3.8 3.8 0 1 0 7.6 0a3.8 3.8 0 1 0 -7.6 0M50.6 89.6m-3.3 0a3.3 3.3 0 1 0 6.5 0a3.3 3.3 0 1 0 -6.5 0M73.3 177.8m-3.4 0a3.4 3.4 0 1 0 6.7 0a3.4 3.4 0 1 0 -6.7 0M93.9 65.7m-3.6 0a3.6 3.6 0 1 0 7.2 0a3.6 3.6 0 1 0 -7.2 0M146.6 154.3m-2.8 0a2.8 2.8 0 1 0 5.6 0a2.8 2.8 0 1 0 -5.6 0M188.4 166.6m-3.0 0a3.0 3.0 0 1 0 5.9 0a3.0 3.0 0 1 0 -5.9 0M230.9 113.9m-3.6 0a3.6 3.6 0 1 0 7.3 0a3.6 3.6 0 1 0 -7.3 0M163.3 11.1m-3.3 0a3.3 3.3 0 1 0 6.5 0a3.3 3.3 0 1 0 -6.5 0M80.4 134.3m-3.6 0a3.6 3.6 0 1 0 7.2 0a3.6 3.6 0 1 0 -7.2 0M181.2 8.3m-3.5 0a3.5 3.5 0 1 0 7.1 0a3.5 3.5 0 1 0 -7.1 0M207.6 98.7m-3.1 0a3.1 3.1 0 1 0 6.1 0a3.1 3.1 0 1 0 -6.1 0M237.1 109.0m-3.6 0a3.6 3.6 0 1 0 7.2 0a3.6 3.6 0 1 0 -7.2 0M164.0 157.8m-2.9 0a2.9 2.9 0 1 0 5.8 0a2.9 2.9 0 1 0 -5.8 0M214.4 88.6m-3.2 0a3.2 3.2 0 1 0 6.4 0a3.2 3.2 0 1 0 -6.4 0M109.0 152.4m-3.2 0a3.2 3.2 0 1 0 6.5 0a3.2 3.2 0 1 0 -6.5 0M40.9 62.0m-3.5 0a3.5 3.5 0 1 0 7.1 0a3.5 3.5 0 1 0 -7.1 0M264.2 132.3m-2.9 0a2.9 2.9 0 1 0 5.8 0a2.9 2.9 0 1 0 -5.8 0M56.8 135.8m-3.9 0a3.9 3.9 0 1 0 7.8 0a3.9 3.9 0 1 0 -7.8 0M167.0 187.9m-3.3 0a3.3 3.3 0 1 0 6.6 0a3.3 3.3 0 1 0 -6.6 0M210.0 64.0m-3.0 0a3.0 3.0 0 1 0 6.0 0a3.0 3.0 0 1 0 -6.0 0M40.9 130.2m-3.0 0a3.0 3.0 0 1 0 6.0 0a3.0 3.0 0 1 0 -6.0 0M96.3 48.8m-3.7 0a3.7 3.7 0 1 0 7.5 0a3.7 3.7 0 1 0 -7.5 0M16.8 134.5m-3.5 0a3.5 3.5 0 1 0 7.0 0a3.5 3.5 0 1 0 -7.0 0M216.1 97.3m-3.3 0a3.3 3.3 0 1 0 6.6 0a3.3 3.3 0 1 0 -6.6 0M115.6 106.7m-2.9 0a2.9 2.9 0 1 0 5.8 0a2.9 2.9 0 1 0 -5.8 0M242.3 178.8m-2.8 0a2.8 2.8 0 1 0 5.7 0a2.8 2.8 0 1 0 -5.7 0M128.2 133.4m-3.6 0a3.6 3.6 0 1 0 7.2 0a3.6 3.6 0 1 0 -7.2 0M175.4 165.5m-3.5 0a3.5 3.5 0 1 0 7.1 0a3.5 3.5 0 1 0 -7.1 0M27.1 21.2m-3.0 0a3.0 3.0 0 1 0 6.0 0a3.0 3.0 0 1 0 -6.0 0M152.0 124.4m-3.5 0a3.5 3.5 0 1 0 7.1 0a3.5 3.5 0 1 0 -7.1 0" fill="#3a2a80"/></svg>
<svg x="772.00" y="263.00" width="299.50" height="195.50" viewBox="0 0 299.50 195.50" preserveAspectRatio="none"><rect width="299.50" height="195.50" fill="#9982ce"/><filter id="oA7" filterUnits="userSpaceOnUse" x="-30" y="-30" width="359.5" height="255.5" color-interpolation-filters="sRGB"><feGaussianBlur in="SourceGraphic" stdDeviation="7" edgeMode="duplicate" result="c"/><feTurbulence type="fractalNoise" baseFrequency="0.045" numOctaves="2" seed="120"/><feColorMatrix type="matrix" values="-1.600 0 0 0 1.300 -1.600 0 0 0 1.300 -1.600 0 0 0 1.300 0 0 0 0 1" result="n"/><feComposite in="c" in2="n" operator="arithmetic" k2="1" k3="1" k4="-0.5" result="s"/><feComponentTransfer in="s"><feFuncR type="table" tableValues="0 0 0.05 0.95 1 1"/><feFuncG type="table" tableValues="0 0 0.05 0.95 1 1"/><feFuncB type="table" tableValues="0 0 0.05 0.95 1 1"/></feComponentTransfer><feColorMatrix type="matrix" values="-0.4314 0 0 0 0.7922 -0.5569 0 0 0 0.7608 -0.1725 0 0 0 0.8863 0 0 0 0 1"/></filter><g filter="url(#oA7)"><rect x="-30.3" y="-30.3" width="55.6" height="55.0" fill="#828282"/><rect x="24.7" y="-30.3" width="25.6" height="55.0" fill="#4d4d4d"/><rect x="49.6" y="-30.3" width="25.6" height="55.0" fill="#828282"/><rect x="74.6" y="-30.3" width="25.6" height="55.0" fill="#acacac"/><rect x="99.5" y="-30.3" width="25.6" height="55.0" fill="#828282"/><rect x="124.5" y="-30.3" width="25.6" height="55.0" fill="#4d4d4d"/><rect x="149.4" y="-30.3" width="25.6" height="55.0" fill="#828282"/><rect x="174.4" y="-30.3" width="25.6" height="55.0" fill="#4d4d4d"/><rect x="199.4" y="-30.3" width="25.6" height="55.0" fill="#828282"/><rect x="224.3" y="-30.3" width="25.6" height="55.0" fill="#828282"/><rect x="249.3" y="-30.3" width="25.6" height="55.0" fill="#828282"/><rect x="274.2" y="-30.3" width="55.6" height="55.0" fill="#828282"/><rect x="-30.3" y="24.1" width="55.6" height="25.0" fill="#4d4d4d"/><rect x="24.7" y="24.1" width="25.6" height="25.0" fill="#828282"/><rect x="49.6" y="24.1" width="25.6" height="25.0" fill="#acacac"/><rect x="74.6" y="24.1" width="25.6" height="25.0" fill="#828282"/><rect x="99.5" y="24.1" width="25.6" height="25.0" fill="#acacac"/><rect x="124.5" y="24.1" width="25.6" height="25.0" fill="#4d4d4d"/><rect x="149.4" y="24.1" width="25.6" height="25.0" fill="#acacac"/><rect x="174.4" y="24.1" width="25.6" height="25.0" fill="#4d4d4d"/><rect x="199.4" y="24.1" width="25.6" height="25.0" fill="#828282"/><rect x="224.3" y="24.1" width="25.6" height="25.0" fill="#828282"/><rect x="249.3" y="24.1" width="25.6" height="25.0" fill="#acacac"/><rect x="274.2" y="24.1" width="55.6" height="25.0" fill="#828282"/><rect x="-30.3" y="48.6" width="55.6" height="25.0" fill="#828282"/><rect x="24.7" y="48.6" width="25.6" height="25.0" fill="#4d4d4d"/><rect x="49.6" y="48.6" width="25.6" height="25.0" fill="#acacac"/><rect x="74.6" y="48.6" width="25.6" height="25.0" fill="#4d4d4d"/><rect x="99.5" y="48.6" width="25.6" height="25.0" fill="#4d4d4d"/><rect x="124.5" y="48.6" width="25.6" height="25.0" fill="#828282"/><rect x="149.4" y="48.6" width="25.6" height="25.0" fill="#4d4d4d"/><rect x="174.4" y="48.6" width="25.6" height="25.0" fill="#4d4d4d"/><rect x="199.4" y="48.6" width="25.6" height="25.0" fill="#4d4d4d"/><rect x="224.3" y="48.6" width="25.6" height="25.0" fill="#4d4d4d"/><rect x="249.3" y="48.6" width="25.6" height="25.0" fill="#acacac"/><rect x="274.2" y="48.6" width="55.6" height="25.0" fill="#828282"/><rect x="-30.3" y="73.0" width="55.6" height="25.0" fill="#828282"/><rect x="24.7" y="73.0" width="25.6" height="25.0" fill="#4d4d4d"/><rect x="49.6" y="73.0" width="25.6" height="25.0" fill="#828282"/><rect x="74.6" y="73.0" width="25.6" height="25.0" fill="#4d4d4d"/><rect x="99.5" y="73.0" width="25.6" height="25.0" fill="#828282"/><rect x="124.5" y="73.0" width="25.6" height="25.0" fill="#acacac"/><rect x="149.4" y="73.0" width="25.6" height="25.0" fill="#acacac"/><rect x="174.4" y="73.0" width="25.6" height="25.0" fill="#acacac"/><rect x="199.4" y="73.0" width="25.6" height="25.0" fill="#828282"/><rect x="224.3" y="73.0" width="25.6" height="25.0" fill="#4d4d4d"/><rect x="249.3" y="73.0" width="25.6" height="25.0" fill="#4d4d4d"/><rect x="274.2" y="73.0" width="55.6" height="25.0" fill="#4d4d4d"/><rect x="-30.3" y="97.5" width="55.6" height="25.0" fill="#828282"/><rect x="24.7" y="97.5" width="25.6" height="25.0" fill="#828282"/><rect x="49.6" y="97.5" width="25.6" height="25.0" fill="#828282"/><rect x="74.6" y="97.5" width="25.6" height="25.0" fill="#828282"/><rect x="99.5" y="97.5" width="25.6" height="25.0" fill="#acacac"/><rect x="124.5" y="97.5" width="25.6" height="25.0" fill="#4d4d4d"/><rect x="149.4" y="97.5" width="25.6" height="25.0" fill="#828282"/><rect x="174.4" y="97.5" width="25.6" height="25.0" fill="#acacac"/><rect x="199.4" y="97.5" width="25.6" height="25.0" fill="#acacac"/><rect x="224.3" y="97.5" width="25.6" height="25.0" fill="#828282"/><rect x="249.3" y="97.5" width="25.6" height="25.0" fill="#4d4d4d"/><rect x="274.2" y="97.5" width="55.6" height="25.0" fill="#4d4d4d"/><rect x="-30.3" y="121.9" width="55.6" height="25.0" fill="#828282"/><rect x="24.7" y="121.9" width="25.6" height="25.0" fill="#4d4d4d"/><rect x="49.6" y="121.9" width="25.6" height="25.0" fill="#acacac"/><rect x="74.6" y="121.9" width="25.6" height="25.0" fill="#acacac"/><rect x="99.5" y="121.9" width="25.6" height="25.0" fill="#4d4d4d"/><rect x="124.5" y="121.9" width="25.6" height="25.0" fill="#4d4d4d"/><rect x="149.4" y="121.9" width="25.6" height="25.0" fill="#828282"/><rect x="174.4" y="121.9" width="25.6" height="25.0" fill="#acacac"/><rect x="199.4" y="121.9" width="25.6" height="25.0" fill="#acacac"/><rect x="224.3" y="121.9" width="25.6" height="25.0" fill="#4d4d4d"/><rect x="249.3" y="121.9" width="25.6" height="25.0" fill="#4d4d4d"/><rect x="274.2" y="121.9" width="55.6" height="25.0" fill="#4d4d4d"/><rect x="-30.3" y="146.3" width="55.6" height="25.0" fill="#828282"/><rect x="24.7" y="146.3" width="25.6" height="25.0" fill="#acacac"/><rect x="49.6" y="146.3" width="25.6" height="25.0" fill="#828282"/><rect x="74.6" y="146.3" width="25.6" height="25.0" fill="#acacac"/><rect x="99.5" y="146.3" width="25.6" height="25.0" fill="#828282"/><rect x="124.5" y="146.3" width="25.6" height="25.0" fill="#828282"/><rect x="149.4" y="146.3" width="25.6" height="25.0" fill="#4d4d4d"/><rect x="174.4" y="146.3" width="25.6" height="25.0" fill="#828282"/><rect x="199.4" y="146.3" width="25.6" height="25.0" fill="#acacac"/><rect x="224.3" y="146.3" width="25.6" height="25.0" fill="#4d4d4d"/><rect x="249.3" y="146.3" width="25.6" height="25.0" fill="#4d4d4d"/><rect x="274.2" y="146.3" width="55.6" height="25.0" fill="#4d4d4d"/><rect x="-30.3" y="170.8" width="55.6" height="55.0" fill="#828282"/><rect x="24.7" y="170.8" width="25.6" height="55.0" fill="#828282"/><rect x="49.6" y="170.8" width="25.6" height="55.0" fill="#828282"/><rect x="74.6" y="170.8" width="25.6" height="55.0" fill="#4d4d4d"/><rect x="99.5" y="170.8" width="25.6" height="55.0" fill="#828282"/><rect x="124.5" y="170.8" width="25.6" height="55.0" fill="#828282"/><rect x="149.4" y="170.8" width="25.6" height="55.0" fill="#828282"/><rect x="174.4" y="170.8" width="25.6" height="55.0" fill="#4d4d4d"/><rect x="199.4" y="170.8" width="25.6" height="55.0" fill="#acacac"/><rect x="224.3" y="170.8" width="25.6" height="55.0" fill="#4d4d4d"/><rect x="249.3" y="170.8" width="25.6" height="55.0" fill="#4d4d4d"/><rect x="274.2" y="170.8" width="55.6" height="55.0" fill="#4d4d4d"/></g><path d="M193.7 66.2m-3.0 0a3.0 3.0 0 1 0 6.0 0a3.0 3.0 0 1 0 -6.0 0M41.3 35.8m-3.0 0a3.0 3.0 0 1 0 6.0 0a3.0 3.0 0 1 0 -6.0 0M66.8 74.3m-3.0 0a3.0 3.0 0 1 0 6.0 0a3.0 3.0 0 1 0 -6.0 0M26.2 189.8m-3.0 0a3.0 3.0 0 1 0 6.0 0a3.0 3.0 0 1 0 -6.0 0M202.6 79.5m-3.0 0a3.0 3.0 0 1 0 6.0 0a3.0 3.0 0 1 0 -6.0 0M255.9 144.2m-3.0 0a3.0 3.0 0 1 0 6.0 0a3.0 3.0 0 1 0 -6.0 0M292.4 76.4m-3.0 0a3.0 3.0 0 1 0 6.0 0a3.0 3.0 0 1 0 -6.0 0M6.4 191.4m-3.0 0a3.0 3.0 0 1 0 6.0 0a3.0 3.0 0 1 0 -6.0 0M240.3 149.9m-3.0 0a3.0 3.0 0 1 0 6.0 0a3.0 3.0 0 1 0 -6.0 0M107.7 15.0m-3.0 0a3.0 3.0 0 1 0 6.0 0a3.0 3.0 0 1 0 -6.0 0M173.1 173.7m-3.0 0a3.0 3.0 0 1 0 6.0 0a3.0 3.0 0 1 0 -6.0 0M17.7 73.2m-3.0 0a3.0 3.0 0 1 0 6.0 0a3.0 3.0 0 1 0 -6.0 0" fill="#e8e2f4" stroke="#6a6488" stroke-width="1.2" opacity="0.85"/><path d="M92.8 97.5m-3.3 0a3.3 3.3 0 1 0 6.6 0a3.3 3.3 0 1 0 -6.6 0M254.4 170.7m-3.7 0a3.7 3.7 0 1 0 7.4 0a3.7 3.7 0 1 0 -7.4 0M43.3 160.2m-3.8 0a3.8 3.8 0 1 0 7.6 0a3.8 3.8 0 1 0 -7.6 0M103.6 16.0m-3.9 0a3.9 3.9 0 1 0 7.7 0a3.9 3.9 0 1 0 -7.7 0M69.5 150.6m-3.4 0a3.4 3.4 0 1 0 6.8 0a3.4 3.4 0 1 0 -6.8 0M95.2 27.4m-3.3 0a3.3 3.3 0 1 0 6.6 0a3.3 3.3 0 1 0 -6.6 0M200.9 79.8m-3.6 0a3.6 3.6 0 1 0 7.2 0a3.6 3.6 0 1 0 -7.2 0M17.6 10.3m-3.4 0a3.4 3.4 0 1 0 6.7 0a3.4 3.4 0 1 0 -6.7 0M266.5 189.8m-3.2 0a3.2 3.2 0 1 0 6.3 0a3.2 3.2 0 1 0 -6.3 0M224.0 128.2m-3.7 0a3.7 3.7 0 1 0 7.5 0a3.7 3.7 0 1 0 -7.5 0M232.5 146.3m-3.3 0a3.3 3.3 0 1 0 6.6 0a3.3 3.3 0 1 0 -6.6 0M270.9 174.9m-3.0 0a3.0 3.0 0 1 0 5.9 0a3.0 3.0 0 1 0 -5.9 0M72.9 29.6m-3.4 0a3.4 3.4 0 1 0 6.8 0a3.4 3.4 0 1 0 -6.8 0M212.7 32.0m-3.5 0a3.5 3.5 0 1 0 6.9 0a3.5 3.5 0 1 0 -6.9 0M109.5 16.1m-3.7 0a3.7 3.7 0 1 0 7.4 0a3.7 3.7 0 1 0 -7.4 0M184.7 157.2m-3.3 0a3.3 3.3 0 1 0 6.6 0a3.3 3.3 0 1 0 -6.6 0M60.1 182.8m-3.7 0a3.7 3.7 0 1 0 7.5 0a3.7 3.7 0 1 0 -7.5 0M159.8 144.0m-3.5 0a3.5 3.5 0 1 0 7.0 0a3.5 3.5 0 1 0 -7.0 0M115.4 7.2m-3.2 0a3.2 3.2 0 1 0 6.3 0a3.2 3.2 0 1 0 -6.3 0M211.7 168.9m-3.3 0a3.3 3.3 0 1 0 6.6 0a3.3 3.3 0 1 0 -6.6 0M48.2 169.5m-3.5 0a3.5 3.5 0 1 0 6.9 0a3.5 3.5 0 1 0 -6.9 0M160.5 14.7m-3.4 0a3.4 3.4 0 1 0 6.8 0a3.4 3.4 0 1 0 -6.8 0M135.3 74.0m-3.1 0a3.1 3.1 0 1 0 6.2 0a3.1 3.1 0 1 0 -6.2 0M174.5 52.3m-2.9 0a2.9 2.9 0 1 0 5.9 0a2.9 2.9 0 1 0 -5.9 0M194.6 162.0m-3.5 0a3.5 3.5 0 1 0 6.9 0a3.5 3.5 0 1 0 -6.9 0M202.0 142.7m-3.3 0a3.3 3.3 0 1 0 6.6 0a3.3 3.3 0 1 0 -6.6 0M102.2 34.7m-3.7 0a3.7 3.7 0 1 0 7.3 0a3.7 3.7 0 1 0 -7.3 0M73.9 152.8m-2.9 0a2.9 2.9 0 1 0 5.8 0a2.9 2.9 0 1 0 -5.8 0M147.9 57.2m-3.5 0a3.5 3.5 0 1 0 7.1 0a3.5 3.5 0 1 0 -7.1 0M132.2 96.3m-3.9 0a3.9 3.9 0 1 0 7.8 0a3.9 3.9 0 1 0 -7.8 0M265.4 86.2m-3.2 0a3.2 3.2 0 1 0 6.3 0a3.2 3.2 0 1 0 -6.3 0M98.3 128.2m-3.3 0a3.3 3.3 0 1 0 6.6 0a3.3 3.3 0 1 0 -6.6 0M126.2 158.5m-3.2 0a3.2 3.2 0 1 0 6.4 0a3.2 3.2 0 1 0 -6.4 0M171.7 117.6m-3.7 0a3.7 3.7 0 1 0 7.3 0a3.7 3.7 0 1 0 -7.3 0M64.1 13.6m-3.0 0a3.0 3.0 0 1 0 6.0 0a3.0 3.0 0 1 0 -6.0 0M38.2 169.0m-3.7 0a3.7 3.7 0 1 0 7.3 0a3.7 3.7 0 1 0 -7.3 0M193.8 44.2m-3.3 0a3.3 3.3 0 1 0 6.5 0a3.3 3.3 0 1 0 -6.5 0M140.4 132.3m-3.7 0a3.7 3.7 0 1 0 7.3 0a3.7 3.7 0 1 0 -7.3 0M112.3 115.6m-3.4 0a3.4 3.4 0 1 0 6.8 0a3.4 3.4 0 1 0 -6.8 0M91.4 113.9m-3.2 0a3.2 3.2 0 1 0 6.3 0a3.2 3.2 0 1 0 -6.3 0M178.8 113.3m-2.9 0a2.9 2.9 0 1 0 5.8 0a2.9 2.9 0 1 0 -5.8 0M77.8 23.7m-3.5 0a3.5 3.5 0 1 0 7.0 0a3.5 3.5 0 1 0 -7.0 0M94.5 150.4m-3.1 0a3.1 3.1 0 1 0 6.2 0a3.1 3.1 0 1 0 -6.2 0M113.5 143.0m-3.2 0a3.2 3.2 0 1 0 6.4 0a3.2 3.2 0 1 0 -6.4 0M283.3 70.0m-3.9 0a3.9 3.9 0 1 0 7.7 0a3.9 3.9 0 1 0 -7.7 0M77.1 73.1m-3.8 0a3.8 3.8 0 1 0 7.5 0a3.8 3.8 0 1 0 -7.5 0M106.6 48.4m-3.8 0a3.8 3.8 0 1 0 7.7 0a3.8 3.8 0 1 0 -7.7 0M217.4 5.5m-3.9 0a3.9 3.9 0 1 0 7.8 0a3.9 3.9 0 1 0 -7.8 0M58.8 138.7m-3.4 0a3.4 3.4 0 1 0 6.7 0a3.4 3.4 0 1 0 -6.7 0M250.3 28.3m-3.8 0a3.8 3.8 0 1 0 7.7 0a3.8 3.8 0 1 0 -7.7 0M152.0 135.5m-3.1 0a3.1 3.1 0 1 0 6.1 0a3.1 3.1 0 1 0 -6.1 0M76.6 148.8m-3.4 0a3.4 3.4 0 1 0 6.8 0a3.4 3.4 0 1 0 -6.8 0M83.8 131.6m-2.9 0a2.9 2.9 0 1 0 5.8 0a2.9 2.9 0 1 0 -5.8 0M50.8 152.1m-3.4 0a3.4 3.4 0 1 0 6.8 0a3.4 3.4 0 1 0 -6.8 0M260.9 172.0m-3.3 0a3.3 3.3 0 1 0 6.6 0a3.3 3.3 0 1 0 -6.6 0M4.4 109.4m-3.2 0a3.2 3.2 0 1 0 6.4 0a3.2 3.2 0 1 0 -6.4 0M252.3 173.9m-3.0 0a3.0 3.0 0 1 0 5.9 0a3.0 3.0 0 1 0 -5.9 0M138.3 82.5m-3.0 0a3.0 3.0 0 1 0 6.0 0a3.0 3.0 0 1 0 -6.0 0M272.7 140.9m-3.4 0a3.4 3.4 0 1 0 6.7 0a3.4 3.4 0 1 0 -6.7 0M199.8 18.0m-2.9 0a2.9 2.9 0 1 0 5.8 0a2.9 2.9 0 1 0 -5.8 0M174.6 172.9m-3.5 0a3.5 3.5 0 1 0 6.9 0a3.5 3.5 0 1 0 -6.9 0M218.6 31.2m-2.9 0a2.9 2.9 0 1 0 5.7 0a2.9 2.9 0 1 0 -5.7 0M58.7 179.1m-3.2 0a3.2 3.2 0 1 0 6.5 0a3.2 3.2 0 1 0 -6.5 0M284.1 29.5m-3.8 0a3.8 3.8 0 1 0 7.6 0a3.8 3.8 0 1 0 -7.6 0M215.5 113.1m-3.7 0a3.7 3.7 0 1 0 7.4 0a3.7 3.7 0 1 0 -7.4 0M292.0 179.5m-2.9 0a2.9 2.9 0 1 0 5.8 0a2.9 2.9 0 1 0 -5.8 0M214.6 46.5m-3.2 0a3.2 3.2 0 1 0 6.4 0a3.2 3.2 0 1 0 -6.4 0M144.3 162.4m-3.3 0a3.3 3.3 0 1 0 6.6 0a3.3 3.3 0 1 0 -6.6 0M44.6 83.7m-3.5 0a3.5 3.5 0 1 0 7.1 0a3.5 3.5 0 1 0 -7.1 0M269.1 36.9m-3.4 0a3.4 3.4 0 1 0 6.9 0a3.4 3.4 0 1 0 -6.9 0M186.6 178.8m-3.5 0a3.5 3.5 0 1 0 7.0 0a3.5 3.5 0 1 0 -7.0 0M184.8 74.5m-3.8 0a3.8 3.8 0 1 0 7.7 0a3.8 3.8 0 1 0 -7.7 0M147.3 47.9m-3.9 0a3.9 3.9 0 1 0 7.7 0a3.9 3.9 0 1 0 -7.7 0M82.5 157.7m-3.1 0a3.1 3.1 0 1 0 6.3 0a3.1 3.1 0 1 0 -6.3 0M7.1 49.3m-3.0 0a3.0 3.0 0 1 0 6.0 0a3.0 3.0 0 1 0 -6.0 0M125.2 185.9m-3.7 0a3.7 3.7 0 1 0 7.4 0a3.7 3.7 0 1 0 -7.4 0M91.2 4.5m-3.3 0a3.3 3.3 0 1 0 6.6 0a3.3 3.3 0 1 0 -6.6 0M32.5 178.9m-3.1 0a3.1 3.1 0 1 0 6.1 0a3.1 3.1 0 1 0 -6.1 0M59.2 90.4m-3.2 0a3.2 3.2 0 1 0 6.3 0a3.2 3.2 0 1 0 -6.3 0M215.6 189.7m-3.6 0a3.6 3.6 0 1 0 7.2 0a3.6 3.6 0 1 0 -7.2 0M180.1 97.1m-2.8 0a2.8 2.8 0 1 0 5.6 0a2.8 2.8 0 1 0 -5.6 0M46.3 7.1m-3.3 0a3.3 3.3 0 1 0 6.7 0a3.3 3.3 0 1 0 -6.7 0M247.9 45.1m-3.8 0a3.8 3.8 0 1 0 7.5 0a3.8 3.8 0 1 0 -7.5 0M201.9 125.9m-3.5 0a3.5 3.5 0 1 0 7.1 0a3.5 3.5 0 1 0 -7.1 0M31.5 178.1m-3.1 0a3.1 3.1 0 1 0 6.1 0a3.1 3.1 0 1 0 -6.1 0M31.6 172.5m-2.9 0a2.9 2.9 0 1 0 5.7 0a2.9 2.9 0 1 0 -5.7 0M122.4 13.0m-3.0 0a3.0 3.0 0 1 0 6.0 0a3.0 3.0 0 1 0 -6.0 0M218.8 179.9m-3.7 0a3.7 3.7 0 1 0 7.3 0a3.7 3.7 0 1 0 -7.3 0M102.6 115.7m-3.4 0a3.4 3.4 0 1 0 6.9 0a3.4 3.4 0 1 0 -6.9 0M149.0 178.5m-2.8 0a2.8 2.8 0 1 0 5.7 0a2.8 2.8 0 1 0 -5.7 0" fill="#2c1a6a"/></svg>
<svg x="1086.50" y="263.00" width="299.50" height="195.50" viewBox="0 0 299.50 195.50" preserveAspectRatio="none"><rect width="299.50" height="195.50" fill="#baaedb"/><filter id="oA8" filterUnits="userSpaceOnUse" x="-30" y="-30" width="359.5" height="255.5" color-interpolation-filters="sRGB"><feGaussianBlur in="SourceGraphic" stdDeviation="7" edgeMode="duplicate" result="c"/><feTurbulence type="fractalNoise" baseFrequency="0.045" numOctaves="2" seed="121"/><feColorMatrix type="matrix" values="-1.600 0 0 0 1.300 -1.600 0 0 0 1.300 -1.600 0 0 0 1.300 0 0 0 0 1" result="n"/><feComposite in="c" in2="n" operator="arithmetic" k2="1" k3="1" k4="-0.5" result="s"/><feComponentTransfer in="s"><feFuncR type="table" tableValues="0 0 0.05 0.95 1 1"/><feFuncG type="table" tableValues="0 0 0.05 0.95 1 1"/><feFuncB type="table" tableValues="0 0 0.05 0.95 1 1"/></feComponentTransfer><feColorMatrix type="matrix" values="-0.4000 0 0 0 0.7922 -0.5176 0 0 0 0.7608 -0.1882 0 0 0 0.8863 0 0 0 0 1"/></filter><g filter="url(#oA8)"><rect x="-30.3" y="-30.3" width="55.6" height="55.0" fill="#6d6d6d"/><rect x="24.7" y="-30.3" width="25.6" height="55.0" fill="#242424"/><rect x="49.6" y="-30.3" width="25.6" height="55.0" fill="#6d6d6d"/><rect x="74.6" y="-30.3" width="25.6" height="55.0" fill="#6d6d6d"/><rect x="99.5" y="-30.3" width="25.6" height="55.0" fill="#242424"/><rect x="124.5" y="-30.3" width="25.6" height="55.0" fill="#6d6d6d"/><rect x="149.4" y="-30.3" width="25.6" height="55.0" fill="#6d6d6d"/><rect x="174.4" y="-30.3" width="25.6" height="55.0" fill="#6d6d6d"/><rect x="199.4" y="-30.3" width="25.6" height="55.0" fill="#242424"/><rect x="224.3" y="-30.3" width="25.6" height="55.0" fill="#6d6d6d"/><rect x="249.3" y="-30.3" width="25.6" height="55.0" fill="#6d6d6d"/><rect x="274.2" y="-30.3" width="55.6" height="55.0" fill="#242424"/><rect x="-30.3" y="24.1" width="55.6" height="25.0" fill="#242424"/><rect x="24.7" y="24.1" width="25.6" height="25.0" fill="#242424"/><rect x="49.6" y="24.1" width="25.6" height="25.0" fill="#242424"/><rect x="74.6" y="24.1" width="25.6" height="25.0" fill="#242424"/><rect x="99.5" y="24.1" width="25.6" height="25.0" fill="#242424"/><rect x="124.5" y="24.1" width="25.6" height="25.0" fill="#8c8c8c"/><rect x="149.4" y="24.1" width="25.6" height="25.0" fill="#6d6d6d"/><rect x="174.4" y="24.1" width="25.6" height="25.0" fill="#242424"/><rect x="199.4" y="24.1" width="25.6" height="25.0" fill="#242424"/><rect x="224.3" y="24.1" width="25.6" height="25.0" fill="#242424"/><rect x="249.3" y="24.1" width="25.6" height="25.0" fill="#6d6d6d"/><rect x="274.2" y="24.1" width="55.6" height="25.0" fill="#242424"/><rect x="-30.3" y="48.6" width="55.6" height="25.0" fill="#242424"/><rect x="24.7" y="48.6" width="25.6" height="25.0" fill="#242424"/><rect x="49.6" y="48.6" width="25.6" height="25.0" fill="#242424"/><rect x="74.6" y="48.6" width="25.6" height="25.0" fill="#242424"/><rect x="99.5" y="48.6" width="25.6" height="25.0" fill="#242424"/><rect x="124.5" y="48.6" width="25.6" height="25.0" fill="#242424"/><rect x="149.4" y="48.6" width="25.6" height="25.0" fill="#242424"/><rect x="174.4" y="48.6" width="25.6" height="25.0" fill="#8c8c8c"/><rect x="199.4" y="48.6" width="25.6" height="25.0" fill="#242424"/><rect x="224.3" y="48.6" width="25.6" height="25.0" fill="#6d6d6d"/><rect x="249.3" y="48.6" width="25.6" height="25.0" fill="#6d6d6d"/><rect x="274.2" y="48.6" width="55.6" height="25.0" fill="#242424"/><rect x="-30.3" y="73.0" width="55.6" height="25.0" fill="#242424"/><rect x="24.7" y="73.0" width="25.6" height="25.0" fill="#6d6d6d"/><rect x="49.6" y="73.0" width="25.6" height="25.0" fill="#242424"/><rect x="74.6" y="73.0" width="25.6" height="25.0" fill="#6d6d6d"/><rect x="99.5" y="73.0" width="25.6" height="25.0" fill="#6d6d6d"/><rect x="124.5" y="73.0" width="25.6" height="25.0" fill="#242424"/><rect x="149.4" y="73.0" width="25.6" height="25.0" fill="#242424"/><rect x="174.4" y="73.0" width="25.6" height="25.0" fill="#6d6d6d"/><rect x="199.4" y="73.0" width="25.6" height="25.0" fill="#242424"/><rect x="224.3" y="73.0" width="25.6" height="25.0" fill="#6d6d6d"/><rect x="249.3" y="73.0" width="25.6" height="25.0" fill="#8c8c8c"/><rect x="274.2" y="73.0" width="55.6" height="25.0" fill="#242424"/><rect x="-30.3" y="97.5" width="55.6" height="25.0" fill="#242424"/><rect x="24.7" y="97.5" width="25.6" height="25.0" fill="#242424"/><rect x="49.6" y="97.5" width="25.6" height="25.0" fill="#242424"/><rect x="74.6" y="97.5" width="25.6" height="25.0" fill="#6d6d6d"/><rect x="99.5" y="97.5" width="25.6" height="25.0" fill="#6d6d6d"/><rect x="124.5" y="97.5" width="25.6" height="25.0" fill="#242424"/><rect x="149.4" y="97.5" width="25.6" height="25.0" fill="#242424"/><rect x="174.4" y="97.5" width="25.6" height="25.0" fill="#242424"/><rect x="199.4" y="97.5" width="25.6" height="25.0" fill="#242424"/><rect x="224.3" y="97.5" width="25.6" height="25.0" fill="#242424"/><rect x="249.3" y="97.5" width="25.6" height="25.0" fill="#6d6d6d"/><rect x="274.2" y="97.5" width="55.6" height="25.0" fill="#242424"/><rect x="-30.3" y="121.9" width="55.6" height="25.0" fill="#242424"/><rect x="24.7" y="121.9" width="25.6" height="25.0" fill="#6d6d6d"/><rect x="49.6" y="121.9" width="25.6" height="25.0" fill="#6d6d6d"/><rect x="74.6" y="121.9" width="25.6" height="25.0" fill="#242424"/><rect x="99.5" y="121.9" width="25.6" height="25.0" fill="#242424"/><rect x="124.5" y="121.9" width="25.6" height="25.0" fill="#242424"/><rect x="149.4" y="121.9" width="25.6" height="25.0" fill="#242424"/><rect x="174.4" y="121.9" width="25.6" height="25.0" fill="#6d6d6d"/><rect x="199.4" y="121.9" width="25.6" height="25.0" fill="#6d6d6d"/><rect x="224.3" y="121.9" width="25.6" height="25.0" fill="#242424"/><rect x="249.3" y="121.9" width="25.6" height="25.0" fill="#242424"/><rect x="274.2" y="121.9" width="55.6" height="25.0" fill="#242424"/><rect x="-30.3" y="146.3" width="55.6" height="25.0" fill="#242424"/><rect x="24.7" y="146.3" width="25.6" height="25.0" fill="#6d6d6d"/><rect x="49.6" y="146.3" width="25.6" height="25.0" fill="#242424"/><rect x="74.6" y="146.3" width="25.6" height="25.0" fill="#6d6d6d"/><rect x="99.5" y="146.3" width="25.6" height="25.0" fill="#242424"/><rect x="124.5" y="146.3" width="25.6" height="25.0" fill="#6d6d6d"/><rect x="149.4" y="146.3" width="25.6" height="25.0" fill="#242424"/><rect x="174.4" y="146.3" width="25.6" height="25.0" fill="#242424"/><rect x="199.4" y="146.3" width="25.6" height="25.0" fill="#242424"/><rect x="224.3" y="146.3" width="25.6" height="25.0" fill="#242424"/><rect x="249.3" y="146.3" width="25.6" height="25.0" fill="#242424"/><rect x="274.2" y="146.3" width="55.6" height="25.0" fill="#242424"/><rect x="-30.3" y="170.8" width="55.6" height="55.0" fill="#242424"/><rect x="24.7" y="170.8" width="25.6" height="55.0" fill="#242424"/><rect x="49.6" y="170.8" width="25.6" height="55.0" fill="#6d6d6d"/><rect x="74.6" y="170.8" width="25.6" height="55.0" fill="#242424"/><rect x="99.5" y="170.8" width="25.6" height="55.0" fill="#242424"/><rect x="124.5" y="170.8" width="25.6" height="55.0" fill="#242424"/><rect x="149.4" y="170.8" width="25.6" height="55.0" fill="#242424"/><rect x="174.4" y="170.8" width="25.6" height="55.0" fill="#242424"/><rect x="199.4" y="170.8" width="25.6" height="55.0" fill="#242424"/><rect x="224.3" y="170.8" width="25.6" height="55.0" fill="#242424"/><rect x="249.3" y="170.8" width="25.6" height="55.0" fill="#6d6d6d"/><rect x="274.2" y="170.8" width="55.6" height="55.0" fill="#6d6d6d"/></g><path d="M35.5 56.7m-3.0 0a3.0 3.0 0 1 0 6.0 0a3.0 3.0 0 1 0 -6.0 0M26.6 107.8m-3.0 0a3.0 3.0 0 1 0 6.0 0a3.0 3.0 0 1 0 -6.0 0M255.3 56.9m-3.0 0a3.0 3.0 0 1 0 6.0 0a3.0 3.0 0 1 0 -6.0 0M95.1 141.0m-3.0 0a3.0 3.0 0 1 0 6.0 0a3.0 3.0 0 1 0 -6.0 0M174.1 129.6m-3.0 0a3.0 3.0 0 1 0 6.0 0a3.0 3.0 0 1 0 -6.0 0M225.9 16.8m-3.0 0a3.0 3.0 0 1 0 6.0 0a3.0 3.0 0 1 0 -6.0 0M215.4 144.6m-3.0 0a3.0 3.0 0 1 0 6.0 0a3.0 3.0 0 1 0 -6.0 0M280.8 10.9m-3.0 0a3.0 3.0 0 1 0 6.0 0a3.0 3.0 0 1 0 -6.0 0M85.0 35.7m-3.0 0a3.0 3.0 0 1 0 6.0 0a3.0 3.0 0 1 0 -6.0 0M131.1 13.9m-3.0 0a3.0 3.0 0 1 0 6.0 0a3.0 3.0 0 1 0 -6.0 0M57.3 45.0m-3.0 0a3.0 3.0 0 1 0 6.0 0a3.0 3.0 0 1 0 -6.0 0M71.8 99.9m-3.0 0a3.0 3.0 0 1 0 6.0 0a3.0 3.0 0 1 0 -6.0 0M48.6 186.8m-3.0 0a3.0 3.0 0 1 0 6.0 0a3.0 3.0 0 1 0 -6.0 0M89.2 81.2m-3.0 0a3.0 3.0 0 1 0 6.0 0a3.0 3.0 0 1 0 -6.0 0M196.0 156.0m-3.0 0a3.0 3.0 0 1 0 6.0 0a3.0 3.0 0 1 0 -6.0 0" fill="#e8e2f4" stroke="#6a6488" stroke-width="1.2" opacity="0.85"/><path d="M214.0 66.6m-3.5 0a3.5 3.5 0 1 0 6.9 0a3.5 3.5 0 1 0 -6.9 0M34.0 148.4m-3.7 0a3.7 3.7 0 1 0 7.5 0a3.7 3.7 0 1 0 -7.5 0M195.2 8.3m-3.3 0a3.3 3.3 0 1 0 6.6 0a3.3 3.3 0 1 0 -6.6 0M258.4 54.7m-3.1 0a3.1 3.1 0 1 0 6.1 0a3.1 3.1 0 1 0 -6.1 0M162.7 5.3m-3.5 0a3.5 3.5 0 1 0 7.0 0a3.5 3.5 0 1 0 -7.0 0M208.9 16.5m-3.2 0a3.2 3.2 0 1 0 6.4 0a3.2 3.2 0 1 0 -6.4 0M123.7 59.5m-3.3 0a3.3 3.3 0 1 0 6.7 0a3.3 3.3 0 1 0 -6.7 0M186.2 20.3m-3.4 0a3.4 3.4 0 1 0 6.7 0a3.4 3.4 0 1 0 -6.7 0M248.1 12.8m-3.2 0a3.2 3.2 0 1 0 6.5 0a3.2 3.2 0 1 0 -6.5 0M258.4 15.6m-3.2 0a3.2 3.2 0 1 0 6.5 0a3.2 3.2 0 1 0 -6.5 0M174.9 21.9m-3.4 0a3.4 3.4 0 1 0 6.7 0a3.4 3.4 0 1 0 -6.7 0M287.3 57.6m-3.0 0a3.0 3.0 0 1 0 6.0 0a3.0 3.0 0 1 0 -6.0 0M95.0 157.0m-3.3 0a3.3 3.3 0 1 0 6.5 0a3.3 3.3 0 1 0 -6.5 0M106.5 91.7m-3.7 0a3.7 3.7 0 1 0 7.3 0a3.7 3.7 0 1 0 -7.3 0M83.1 149.2m-3.5 0a3.5 3.5 0 1 0 7.0 0a3.5 3.5 0 1 0 -7.0 0M44.0 175.1m-2.8 0a2.8 2.8 0 1 0 5.6 0a2.8 2.8 0 1 0 -5.6 0M15.5 164.1m-3.0 0a3.0 3.0 0 1 0 5.9 0a3.0 3.0 0 1 0 -5.9 0M12.5 137.5m-3.0 0a3.0 3.0 0 1 0 6.1 0a3.0 3.0 0 1 0 -6.1 0M146.6 147.8m-2.9 0a2.9 2.9 0 1 0 5.8 0a2.9 2.9 0 1 0 -5.8 0M133.1 56.1m-3.2 0a3.2 3.2 0 1 0 6.5 0a3.2 3.2 0 1 0 -6.5 0M55.4 123.0m-3.2 0a3.2 3.2 0 1 0 6.3 0a3.2 3.2 0 1 0 -6.3 0M74.0 132.0m-3.0 0a3.0 3.0 0 1 0 6.0 0a3.0 3.0 0 1 0 -6.0 0M239.0 115.5m-3.7 0a3.7 3.7 0 1 0 7.5 0a3.7 3.7 0 1 0 -7.5 0M216.0 138.4m-3.1 0a3.1 3.1 0 1 0 6.3 0a3.1 3.1 0 1 0 -6.3 0M274.0 78.8m-3.9 0a3.9 3.9 0 1 0 7.8 0a3.9 3.9 0 1 0 -7.8 0M284.3 44.5m-2.8 0a2.8 2.8 0 1 0 5.7 0a2.8 2.8 0 1 0 -5.7 0M228.5 84.6m-3.1 0a3.1 3.1 0 1 0 6.3 0a3.1 3.1 0 1 0 -6.3 0M237.8 40.9m-3.0 0a3.0 3.0 0 1 0 6.1 0a3.0 3.0 0 1 0 -6.1 0M59.7 89.0m-3.8 0a3.8 3.8 0 1 0 7.7 0a3.8 3.8 0 1 0 -7.7 0M243.8 89.6m-3.7 0a3.7 3.7 0 1 0 7.3 0a3.7 3.7 0 1 0 -7.3 0M261.4 169.8m-3.1 0a3.1 3.1 0 1 0 6.2 0a3.1 3.1 0 1 0 -6.2 0M220.4 32.5m-3.6 0a3.6 3.6 0 1 0 7.1 0a3.6 3.6 0 1 0 -7.1 0M7.1 17.2m-3.4 0a3.4 3.4 0 1 0 6.8 0a3.4 3.4 0 1 0 -6.8 0M146.2 142.8m-3.6 0a3.6 3.6 0 1 0 7.2 0a3.6 3.6 0 1 0 -7.2 0M209.9 183.6m-2.8 0a2.8 2.8 0 1 0 5.6 0a2.8 2.8 0 1 0 -5.6 0M24.0 53.8m-3.4 0a3.4 3.4 0 1 0 6.8 0a3.4 3.4 0 1 0 -6.8 0M212.6 28.8m-3.0 0a3.0 3.0 0 1 0 6.1 0a3.0 3.0 0 1 0 -6.1 0M223.4 41.3m-3.9 0a3.9 3.9 0 1 0 7.7 0a3.9 3.9 0 1 0 -7.7 0M153.3 47.5m-3.1 0a3.1 3.1 0 1 0 6.2 0a3.1 3.1 0 1 0 -6.2 0M244.4 101.4m-3.6 0a3.6 3.6 0 1 0 7.2 0a3.6 3.6 0 1 0 -7.2 0M174.8 57.4m-2.8 0a2.8 2.8 0 1 0 5.6 0a2.8 2.8 0 1 0 -5.6 0M60.9 136.2m-3.0 0a3.0 3.0 0 1 0 6.0 0a3.0 3.0 0 1 0 -6.0 0M199.4 53.4m-2.8 0a2.8 2.8 0 1 0 5.6 0a2.8 2.8 0 1 0 -5.6 0M172.3 146.7m-3.6 0a3.6 3.6 0 1 0 7.1 0a3.6 3.6 0 1 0 -7.1 0M171.3 128.8m-3.9 0a3.9 3.9 0 1 0 7.7 0a3.9 3.9 0 1 0 -7.7 0M127.0 171.5m-2.9 0a2.9 2.9 0 1 0 5.8 0a2.9 2.9 0 1 0 -5.8 0M254.4 128.8m-3.1 0a3.1 3.1 0 1 0 6.1 0a3.1 3.1 0 1 0 -6.1 0M271.2 49.4m-3.8 0a3.8 3.8 0 1 0 7.5 0a3.8 3.8 0 1 0 -7.5 0M91.5 170.5m-3.1 0a3.1 3.1 0 1 0 6.2 0a3.1 3.1 0 1 0 -6.2 0M188.3 11.0m-2.8 0a2.8 2.8 0 1 0 5.7 0a2.8 2.8 0 1 0 -5.7 0M49.0 135.4m-3.8 0a3.8 3.8 0 1 0 7.5 0a3.8 3.8 0 1 0 -7.5 0M66.5 47.2m-3.1 0a3.1 3.1 0 1 0 6.1 0a3.1 3.1 0 1 0 -6.1 0M217.8 178.1m-3.5 0a3.5 3.5 0 1 0 7.1 0a3.5 3.5 0 1 0 -7.1 0M138.1 39.0m-3.1 0a3.1 3.1 0 1 0 6.2 0a3.1 3.1 0 1 0 -6.2 0M218.3 6.2m-3.4 0a3.4 3.4 0 1 0 6.9 0a3.4 3.4 0 1 0 -6.9 0M119.6 124.6m-3.0 0a3.0 3.0 0 1 0 6.0 0a3.0 3.0 0 1 0 -6.0 0M148.7 82.6m-3.6 0a3.6 3.6 0 1 0 7.1 0a3.6 3.6 0 1 0 -7.1 0M192.4 156.6m-3.6 0a3.6 3.6 0 1 0 7.3 0a3.6 3.6 0 1 0 -7.3 0M127.2 88.7m-3.0 0a3.0 3.0 0 1 0 5.9 0a3.0 3.0 0 1 0 -5.9 0M164.1 101.9m-3.4 0a3.4 3.4 0 1 0 6.8 0a3.4 3.4 0 1 0 -6.8 0M226.6 100.8m-3.9 0a3.9 3.9 0 1 0 7.7 0a3.9 3.9 0 1 0 -7.7 0M165.2 106.5m-3.3 0a3.3 3.3 0 1 0 6.5 0a3.3 3.3 0 1 0 -6.5 0M167.9 21.2m-3.1 0a3.1 3.1 0 1 0 6.2 0a3.1 3.1 0 1 0 -6.2 0M287.2 9.6m-3.1 0a3.1 3.1 0 1 0 6.2 0a3.1 3.1 0 1 0 -6.2 0M258.1 24.4m-3.7 0a3.7 3.7 0 1 0 7.4 0a3.7 3.7 0 1 0 -7.4 0M177.9 103.2m-2.9 0a2.9 2.9 0 1 0 5.8 0a2.9 2.9 0 1 0 -5.8 0M111.2 18.3m-3.4 0a3.4 3.4 0 1 0 6.8 0a3.4 3.4 0 1 0 -6.8 0M138.2 119.3m-3.8 0a3.8 3.8 0 1 0 7.5 0a3.8 3.8 0 1 0 -7.5 0M221.3 168.0m-3.7 0a3.7 3.7 0 1 0 7.3 0a3.7 3.7 0 1 0 -7.3 0M185.6 22.5m-3.1 0a3.1 3.1 0 1 0 6.2 0a3.1 3.1 0 1 0 -6.2 0M92.3 126.9m-3.3 0a3.3 3.3 0 1 0 6.6 0a3.3 3.3 0 1 0 -6.6 0M64.7 145.5m-3.4 0a3.4 3.4 0 1 0 6.7 0a3.4 3.4 0 1 0 -6.7 0M6.0 47.0m-3.6 0a3.6 3.6 0 1 0 7.2 0a3.6 3.6 0 1 0 -7.2 0M91.2 132.6m-3.0 0a3.0 3.0 0 1 0 5.9 0a3.0 3.0 0 1 0 -5.9 0M128.4 55.1m-3.4 0a3.4 3.4 0 1 0 6.8 0a3.4 3.4 0 1 0 -6.8 0M134.9 28.7m-3.8 0a3.8 3.8 0 1 0 7.6 0a3.8 3.8 0 1 0 -7.6 0M271.2 73.7m-3.5 0a3.5 3.5 0 1 0 6.9 0a3.5 3.5 0 1 0 -6.9 0M32.0 190.6m-3.0 0a3.0 3.0 0 1 0 6.1 0a3.0 3.0 0 1 0 -6.1 0M243.3 47.3m-3.0 0a3.0 3.0 0 1 0 5.9 0a3.0 3.0 0 1 0 -5.9 0M255.8 167.4m-3.5 0a3.5 3.5 0 1 0 7.0 0a3.5 3.5 0 1 0 -7.0 0M289.2 133.0m-3.1 0a3.1 3.1 0 1 0 6.2 0a3.1 3.1 0 1 0 -6.2 0M167.7 52.0m-2.9 0a2.9 2.9 0 1 0 5.7 0a2.9 2.9 0 1 0 -5.7 0M244.8 177.2m-3.0 0a3.0 3.0 0 1 0 5.9 0a3.0 3.0 0 1 0 -5.9 0M277.9 124.4m-3.4 0a3.4 3.4 0 1 0 6.8 0a3.4 3.4 0 1 0 -6.8 0M55.1 144.4m-3.2 0a3.2 3.2 0 1 0 6.3 0a3.2 3.2 0 1 0 -6.3 0M102.4 161.8m-3.8 0a3.8 3.8 0 1 0 7.6 0a3.8 3.8 0 1 0 -7.6 0M267.6 36.9m-3.9 0a3.9 3.9 0 1 0 7.8 0a3.9 3.9 0 1 0 -7.8 0M92.7 106.7m-3.3 0a3.3 3.3 0 1 0 6.6 0a3.3 3.3 0 1 0 -6.6 0M241.5 131.5m-3.9 0a3.9 3.9 0 1 0 7.8 0a3.9 3.9 0 1 0 -7.8 0M111.5 159.8m-3.1 0a3.1 3.1 0 1 0 6.1 0a3.1 3.1 0 1 0 -6.1 0M266.8 73.7m-3.3 0a3.3 3.3 0 1 0 6.6 0a3.3 3.3 0 1 0 -6.6 0M153.7 170.4m-2.8 0a2.8 2.8 0 1 0 5.7 0a2.8 2.8 0 1 0 -5.7 0M180.7 16.2m-3.8 0a3.8 3.8 0 1 0 7.6 0a3.8 3.8 0 1 0 -7.6 0M64.0 132.9m-3.4 0a3.4 3.4 0 1 0 6.7 0a3.4 3.4 0 1 0 -6.7 0M34.1 163.7m-3.7 0a3.7 3.7 0 1 0 7.4 0a3.7 3.7 0 1 0 -7.4 0M166.9 131.2m-3.5 0a3.5 3.5 0 1 0 7.1 0a3.5 3.5 0 1 0 -7.1 0M261.7 68.9m-3.0 0a3.0 3.0 0 1 0 6.0 0a3.0 3.0 0 1 0 -6.0 0M168.0 37.6m-3.8 0a3.8 3.8 0 1 0 7.7 0a3.8 3.8 0 1 0 -7.7 0M105.8 83.5m-3.1 0a3.1 3.1 0 1 0 6.1 0a3.1 3.1 0 1 0 -6.1 0M121.6 92.7m-3.6 0a3.6 3.6 0 1 0 7.2 0a3.6 3.6 0 1 0 -7.2 0M117.5 158.2m-2.9 0a2.9 2.9 0 1 0 5.7 0a2.9 2.9 0 1 0 -5.7 0M148.6 6.0m-3.3 0a3.3 3.3 0 1 0 6.6 0a3.3 3.3 0 1 0 -6.6 0M263.3 56.4m-2.9 0a2.9 2.9 0 1 0 5.8 0a2.9 2.9 0 1 0 -5.8 0M178.6 16.2m-3.9 0a3.9 3.9 0 1 0 7.8 0a3.9 3.9 0 1 0 -7.8 0M57.2 178.0m-3.6 0a3.6 3.6 0 1 0 7.3 0a3.6 3.6 0 1 0 -7.3 0M281.4 41.9m-3.6 0a3.6 3.6 0 1 0 7.3 0a3.6 3.6 0 1 0 -7.3 0M109.4 97.2m-3.9 0a3.9 3.9 0 1 0 7.8 0a3.9 3.9 0 1 0 -7.8 0M164.0 31.4m-2.9 0a2.9 2.9 0 1 0 5.8 0a2.9 2.9 0 1 0 -5.8 0M119.8 7.8m-3.4 0a3.4 3.4 0 1 0 6.9 0a3.4 3.4 0 1 0 -6.9 0M79.6 26.3m-3.4 0a3.4 3.4 0 1 0 6.8 0a3.4 3.4 0 1 0 -6.8 0M91.6 39.2m-3.3 0a3.3 3.3 0 1 0 6.6 0a3.3 3.3 0 1 0 -6.6 0M10.5 42.6m-3.3 0a3.3 3.3 0 1 0 6.5 0a3.3 3.3 0 1 0 -6.5 0M79.7 61.7m-3.4 0a3.4 3.4 0 1 0 6.8 0a3.4 3.4 0 1 0 -6.8 0M257.2 91.1m-3.2 0a3.2 3.2 0 1 0 6.4 0a3.2 3.2 0 1 0 -6.4 0M148.4 37.3m-3.5 0a3.5 3.5 0 1 0 7.0 0a3.5 3.5 0 1 0 -7.0 0M171.5 121.6m-3.2 0a3.2 3.2 0 1 0 6.4 0a3.2 3.2 0 1 0 -6.4 0M242.1 94.3m-3.5 0a3.5 3.5 0 1 0 7.0 0a3.5 3.5 0 1 0 -7.0 0M200.4 87.8m-3.3 0a3.3 3.3 0 1 0 6.5 0a3.3 3.3 0 1 0 -6.5 0M187.6 12.6m-3.4 0a3.4 3.4 0 1 0 6.8 0a3.4 3.4 0 1 0 -6.8 0M279.3 20.4m-3.0 0a3.0 3.0 0 1 0 6.0 0a3.0 3.0 0 1 0 -6.0 0M168.0 154.9m-3.4 0a3.4 3.4 0 1 0 6.9 0a3.4 3.4 0 1 0 -6.9 0M43.2 160.5m-3.0 0a3.0 3.0 0 1 0 5.9 0a3.0 3.0 0 1 0 -5.9 0M118.7 120.2m-3.8 0a3.8 3.8 0 1 0 7.5 0a3.8 3.8 0 1 0 -7.5 0M44.9 97.3m-3.0 0a3.0 3.0 0 1 0 6.1 0a3.0 3.0 0 1 0 -6.1 0M214.2 180.9m-3.7 0a3.7 3.7 0 1 0 7.4 0a3.7 3.7 0 1 0 -7.4 0M184.4 83.3m-3.7 0a3.7 3.7 0 1 0 7.3 0a3.7 3.7 0 1 0 -7.3 0M189.5 94.3m-3.5 0a3.5 3.5 0 1 0 7.0 0a3.5 3.5 0 1 0 -7.0 0M245.3 25.6m-3.7 0a3.7 3.7 0 1 0 7.3 0a3.7 3.7 0 1 0 -7.3 0M228.4 52.8m-3.3 0a3.3 3.3 0 1 0 6.5 0a3.3 3.3 0 1 0 -6.5 0M245.1 132.5m-3.3 0a3.3 3.3 0 1 0 6.6 0a3.3 3.3 0 1 0 -6.6 0M142.3 149.6m-2.9 0a2.9 2.9 0 1 0 5.9 0a2.9 2.9 0 1 0 -5.9 0M270.7 36.4m-3.3 0a3.3 3.3 0 1 0 6.6 0a3.3 3.3 0 1 0 -6.6 0M118.7 101.1m-3.3 0a3.3 3.3 0 1 0 6.6 0a3.3 3.3 0 1 0 -6.6 0M136.8 168.8m-3.1 0a3.1 3.1 0 1 0 6.2 0a3.1 3.1 0 1 0 -6.2 0M139.0 37.1m-3.6 0a3.6 3.6 0 1 0 7.2 0a3.6 3.6 0 1 0 -7.2 0M218.7 126.3m-3.5 0a3.5 3.5 0 1 0 7.0 0a3.5 3.5 0 1 0 -7.0 0M251.7 39.8m-2.9 0a2.9 2.9 0 1 0 5.9 0a2.9 2.9 0 1 0 -5.9 0M233.9 48.1m-3.2 0a3.2 3.2 0 1 0 6.4 0a3.2 3.2 0 1 0 -6.4 0M94.1 89.4m-3.4 0a3.4 3.4 0 1 0 6.8 0a3.4 3.4 0 1 0 -6.8 0M134.9 60.2m-2.9 0a2.9 2.9 0 1 0 5.8 0a2.9 2.9 0 1 0 -5.8 0M142.0 80.5m-3.2 0a3.2 3.2 0 1 0 6.5 0a3.2 3.2 0 1 0 -6.5 0M183.8 10.4m-3.7 0a3.7 3.7 0 1 0 7.4 0a3.7 3.7 0 1 0 -7.4 0M64.5 124.4m-3.4 0a3.4 3.4 0 1 0 6.7 0a3.4 3.4 0 1 0 -6.7 0M289.6 151.6m-3.5 0a3.5 3.5 0 1 0 6.9 0a3.5 3.5 0 1 0 -6.9 0M219.8 118.9m-2.8 0a2.8 2.8 0 1 0 5.6 0a2.8 2.8 0 1 0 -5.6 0M126.0 179.7m-3.5 0a3.5 3.5 0 1 0 7.0 0a3.5 3.5 0 1 0 -7.0 0M217.8 116.2m-3.5 0a3.5 3.5 0 1 0 7.1 0a3.5 3.5 0 1 0 -7.1 0M143.1 16.5m-3.6 0a3.6 3.6 0 1 0 7.2 0a3.6 3.6 0 1 0 -7.2 0M255.1 50.2m-3.6 0a3.6 3.6 0 1 0 7.2 0a3.6 3.6 0 1 0 -7.2 0M224.3 33.2m-3.5 0a3.5 3.5 0 1 0 7.0 0a3.5 3.5 0 1 0 -7.0 0M65.1 173.4m-3.7 0a3.7 3.7 0 1 0 7.4 0a3.7 3.7 0 1 0 -7.4 0M106.9 106.4m-2.8 0a2.8 2.8 0 1 0 5.6 0a2.8 2.8 0 1 0 -5.6 0M263.9 52.2m-3.4 0a3.4 3.4 0 1 0 6.8 0a3.4 3.4 0 1 0 -6.8 0M18.4 135.2m-3.0 0a3.0 3.0 0 1 0 6.0 0a3.0 3.0 0 1 0 -6.0 0M260.3 173.3m-3.1 0a3.1 3.1 0 1 0 6.1 0a3.1 3.1 0 1 0 -6.1 0M146.4 33.8m-3.0 0a3.0 3.0 0 1 0 6.0 0a3.0 3.0 0 1 0 -6.0 0M188.6 60.4m-3.0 0a3.0 3.0 0 1 0 5.9 0a3.0 3.0 0 1 0 -5.9 0M113.2 160.1m-3.1 0a3.1 3.1 0 1 0 6.2 0a3.1 3.1 0 1 0 -6.2 0M27.7 52.8m-3.3 0a3.3 3.3 0 1 0 6.6 0a3.3 3.3 0 1 0 -6.6 0M191.2 83.8m-3.3 0a3.3 3.3 0 1 0 6.5 0a3.3 3.3 0 1 0 -6.5 0M89.5 99.0m-3.2 0a3.2 3.2 0 1 0 6.4 0a3.2 3.2 0 1 0 -6.4 0M128.4 109.3m-3.3 0a3.3 3.3 0 1 0 6.5 0a3.3 3.3 0 1 0 -6.5 0M78.3 149.0m-3.2 0a3.2 3.2 0 1 0 6.4 0a3.2 3.2 0 1 0 -6.4 0M166.5 88.3m-3.0 0a3.0 3.0 0 1 0 5.9 0a3.0 3.0 0 1 0 -5.9 0M35.8 180.6m-3.0 0a3.0 3.0 0 1 0 6.0 0a3.0 3.0 0 1 0 -6.0 0M284.3 31.8m-3.3 0a3.3 3.3 0 1 0 6.6 0a3.3 3.3 0 1 0 -6.6 0M263.1 57.6m-3.6 0a3.6 3.6 0 1 0 7.2 0a3.6 3.6 0 1 0 -7.2 0M101.8 120.0m-3.4 0a3.4 3.4 0 1 0 6.8 0a3.4 3.4 0 1 0 -6.8 0M189.5 10.3m-3.4 0a3.4 3.4 0 1 0 6.8 0a3.4 3.4 0 1 0 -6.8 0M126.7 60.2m-3.4 0a3.4 3.4 0 1 0 6.8 0a3.4 3.4 0 1 0 -6.8 0M244.9 10.9m-3.5 0a3.5 3.5 0 1 0 7.1 0a3.5 3.5 0 1 0 -7.1 0M42.2 147.0m-2.9 0a2.9 2.9 0 1 0 5.7 0a2.9 2.9 0 1 0 -5.7 0M222.9 154.5m-3.2 0a3.2 3.2 0 1 0 6.4 0a3.2 3.2 0 1 0 -6.4 0M61.0 178.3m-3.1 0a3.1 3.1 0 1 0 6.1 0a3.1 3.1 0 1 0 -6.1 0M111.6 79.9m-3.8 0a3.8 3.8 0 1 0 7.6 0a3.8 3.8 0 1 0 -7.6 0M266.7 26.8m-3.7 0a3.7 3.7 0 1 0 7.5 0a3.7 3.7 0 1 0 -7.5 0M109.2 140.8m-3.6 0a3.6 3.6 0 1 0 7.1 0a3.6 3.6 0 1 0 -7.1 0M136.5 18.4m-3.6 0a3.6 3.6 0 1 0 7.3 0a3.6 3.6 0 1 0 -7.3 0M34.3 89.7m-2.8 0a2.8 2.8 0 1 0 5.6 0a2.8 2.8 0 1 0 -5.6 0M190.0 114.2m-3.3 0a3.3 3.3 0 1 0 6.6 0a3.3 3.3 0 1 0 -6.6 0M223.9 137.7m-3.6 0a3.6 3.6 0 1 0 7.2 0a3.6 3.6 0 1 0 -7.2 0M238.2 13.7m-2.9 0a2.9 2.9 0 1 0 5.8 0a2.9 2.9 0 1 0 -5.8 0M253.8 17.5m-3.0 0a3.0 3.0 0 1 0 6.0 0a3.0 3.0 0 1 0 -6.0 0M80.2 84.8m-3.0 0a3.0 3.0 0 1 0 6.0 0a3.0 3.0 0 1 0 -6.0 0M133.7 51.6m-3.9 0a3.9 3.9 0 1 0 7.8 0a3.9 3.9 0 1 0 -7.8 0M285.1 122.5m-3.3 0a3.3 3.3 0 1 0 6.6 0a3.3 3.3 0 1 0 -6.6 0M63.6 112.7m-2.9 0a2.9 2.9 0 1 0 5.8 0a2.9 2.9 0 1 0 -5.8 0M126.7 132.5m-2.8 0a2.8 2.8 0 1 0 5.7 0a2.8 2.8 0 1 0 -5.7 0M190.5 137.7m-3.6 0a3.6 3.6 0 1 0 7.2 0a3.6 3.6 0 1 0 -7.2 0M40.4 139.4m-3.0 0a3.0 3.0 0 1 0 6.0 0a3.0 3.0 0 1 0 -6.0 0M263.7 63.3m-3.9 0a3.9 3.9 0 1 0 7.7 0a3.9 3.9 0 1 0 -7.7 0M123.4 85.7m-3.8 0a3.8 3.8 0 1 0 7.5 0a3.8 3.8 0 1 0 -7.5 0M27.5 81.9m-2.8 0a2.8 2.8 0 1 0 5.7 0a2.8 2.8 0 1 0 -5.7 0M100.8 42.5m-3.7 0a3.7 3.7 0 1 0 7.4 0a3.7 3.7 0 1 0 -7.4 0M118.2 163.9m-3.1 0a3.1 3.1 0 1 0 6.1 0a3.1 3.1 0 1 0 -6.1 0M269.7 74.3m-2.9 0a2.9 2.9 0 1 0 5.7 0a2.9 2.9 0 1 0 -5.7 0M146.4 47.2m-3.3 0a3.3 3.3 0 1 0 6.6 0a3.3 3.3 0 1 0 -6.6 0M130.3 161.6m-3.0 0a3.0 3.0 0 1 0 6.0 0a3.0 3.0 0 1 0 -6.0 0M145.5 144.6m-2.8 0a2.8 2.8 0 1 0 5.7 0a2.8 2.8 0 1 0 -5.7 0M92.8 77.8m-3.9 0a3.9 3.9 0 1 0 7.7 0a3.9 3.9 0 1 0 -7.7 0M182.8 184.4m-3.6 0a3.6 3.6 0 1 0 7.2 0a3.6 3.6 0 1 0 -7.2 0M142.2 163.4m-3.1 0a3.1 3.1 0 1 0 6.2 0a3.1 3.1 0 1 0 -6.2 0M111.1 17.8m-3.3 0a3.3 3.3 0 1 0 6.6 0a3.3 3.3 0 1 0 -6.6 0M63.8 164.9m-3.8 0a3.8 3.8 0 1 0 7.6 0a3.8 3.8 0 1 0 -7.6 0M165.3 66.5m-3.1 0a3.1 3.1 0 1 0 6.3 0a3.1 3.1 0 1 0 -6.3 0M192.6 64.4m-3.3 0a3.3 3.3 0 1 0 6.7 0a3.3 3.3 0 1 0 -6.7 0M66.1 185.3m-3.5 0a3.5 3.5 0 1 0 7.0 0a3.5 3.5 0 1 0 -7.0 0M180.4 134.1m-3.6 0a3.6 3.6 0 1 0 7.1 0a3.6 3.6 0 1 0 -7.1 0M258.4 99.7m-2.9 0a2.9 2.9 0 1 0 5.9 0a2.9 2.9 0 1 0 -5.9 0M128.3 17.4m-3.1 0a3.1 3.1 0 1 0 6.2 0a3.1 3.1 0 1 0 -6.2 0M219.1 62.9m-3.7 0a3.7 3.7 0 1 0 7.3 0a3.7 3.7 0 1 0 -7.3 0M261.5 79.9m-3.2 0a3.2 3.2 0 1 0 6.4 0a3.2 3.2 0 1 0 -6.4 0M206.5 138.8m-3.2 0a3.2 3.2 0 1 0 6.5 0a3.2 3.2 0 1 0 -6.5 0M176.0 150.5m-3.7 0a3.7 3.7 0 1 0 7.3 0a3.7 3.7 0 1 0 -7.3 0M36.1 107.0m-3.7 0a3.7 3.7 0 1 0 7.4 0a3.7 3.7 0 1 0 -7.4 0M239.3 174.6m-3.0 0a3.0 3.0 0 1 0 6.0 0a3.0 3.0 0 1 0 -6.0 0M35.4 123.6m-3.2 0a3.2 3.2 0 1 0 6.4 0a3.2 3.2 0 1 0 -6.4 0M162.9 92.1m-3.9 0a3.9 3.9 0 1 0 7.8 0a3.9 3.9 0 1 0 -7.8 0M47.6 120.5m-2.8 0a2.8 2.8 0 1 0 5.7 0a2.8 2.8 0 1 0 -5.7 0M155.6 44.3m-2.9 0a2.9 2.9 0 1 0 5.8 0a2.9 2.9 0 1 0 -5.8 0" fill="#2c1a6a"/></svg>
<svg x="69.00" y="851.00" width="299.80" height="196.50" viewBox="0 0 299.80 196.50" preserveAspectRatio="none"><rect width="299.80" height="196.50" fill="#a18cd2"/><filter id="oB1" filterUnits="userSpaceOnUse" x="-30" y="-30" width="359.8" height="256.5" color-interpolation-filters="sRGB"><feGaussianBlur in="SourceGraphic" stdDeviation="7" edgeMode="duplicate" result="c"/><feTurbulence type="fractalNoise" baseFrequency="0.045" numOctaves="2" seed="115"/><feColorMatrix type="matrix" values="-1.600 0 0 0 1.300 -1.600 0 0 0 1.300 -1.600 0 0 0 1.300 0 0 0 0 1" result="n"/><feComposite in="c" in2="n" operator="arithmetic" k2="1" k3="1" k4="-0.5" result="s"/><feComponentTransfer in="s"><feFuncR type="table" tableValues="0 0 0.05 0.95 1 1"/><feFuncG type="table" tableValues="0 0 0.05 0.95 1 1"/><feFuncB type="table" tableValues="0 0 0.05 0.95 1 1"/></feComponentTransfer><feColorMatrix type="matrix" values="-0.3608 0 0 0 0.7922 -0.4784 0 0 0 0.7608 -0.1412 0 0 0 0.8863 0 0 0 0 1"/></filter><g filter="url(#oB1)"><rect x="-30.3" y="-30.3" width="55.6" height="55.2" fill="#828282"/><rect x="24.7" y="-30.3" width="25.6" height="55.2" fill="#a8a8a8"/><rect x="49.7" y="-30.3" width="25.6" height="55.2" fill="#575757"/><rect x="74.7" y="-30.3" width="25.6" height="55.2" fill="#828282"/><rect x="99.6" y="-30.3" width="25.6" height="55.2" fill="#828282"/><rect x="124.6" y="-30.3" width="25.6" height="55.2" fill="#a8a8a8"/><rect x="149.6" y="-30.3" width="25.6" height="55.2" fill="#828282"/><rect x="174.6" y="-30.3" width="25.6" height="55.2" fill="#575757"/><rect x="199.6" y="-30.3" width="25.6" height="55.2" fill="#575757"/><rect x="224.6" y="-30.3" width="25.6" height="55.2" fill="#828282"/><rect x="249.5" y="-30.3" width="25.6" height="55.2" fill="#a8a8a8"/><rect x="274.5" y="-30.3" width="55.6" height="55.2" fill="#828282"/><rect x="-30.3" y="24.3" width="55.6" height="25.2" fill="#575757"/><rect x="24.7" y="24.3" width="25.6" height="25.2" fill="#828282"/><rect x="49.7" y="24.3" width="25.6" height="25.2" fill="#575757"/><rect x="74.7" y="24.3" width="25.6" height="25.2" fill="#828282"/><rect x="99.6" y="24.3" width="25.6" height="25.2" fill="#a8a8a8"/><rect x="124.6" y="24.3" width="25.6" height="25.2" fill="#a8a8a8"/><rect x="149.6" y="24.3" width="25.6" height="25.2" fill="#828282"/><rect x="174.6" y="24.3" width="25.6" height="25.2" fill="#575757"/><rect x="199.6" y="24.3" width="25.6" height="25.2" fill="#575757"/><rect x="224.6" y="24.3" width="25.6" height="25.2" fill="#575757"/><rect x="249.5" y="24.3" width="25.6" height="25.2" fill="#828282"/><rect x="274.5" y="24.3" width="55.6" height="25.2" fill="#828282"/><rect x="-30.3" y="48.8" width="55.6" height="25.2" fill="#a8a8a8"/><rect x="24.7" y="48.8" width="25.6" height="25.2" fill="#575757"/><rect x="49.7" y="48.8" width="25.6" height="25.2" fill="#575757"/><rect x="74.7" y="48.8" width="25.6" height="25.2" fill="#575757"/><rect x="99.6" y="48.8" width="25.6" height="25.2" fill="#828282"/><rect x="124.6" y="48.8" width="25.6" height="25.2" fill="#828282"/><rect x="149.6" y="48.8" width="25.6" height="25.2" fill="#828282"/><rect x="174.6" y="48.8" width="25.6" height="25.2" fill="#575757"/><rect x="199.6" y="48.8" width="25.6" height="25.2" fill="#575757"/><rect x="224.6" y="48.8" width="25.6" height="25.2" fill="#828282"/><rect x="249.5" y="48.8" width="25.6" height="25.2" fill="#575757"/><rect x="274.5" y="48.8" width="55.6" height="25.2" fill="#828282"/><rect x="-30.3" y="73.4" width="55.6" height="25.2" fill="#a8a8a8"/><rect x="24.7" y="73.4" width="25.6" height="25.2" fill="#828282"/><rect x="49.7" y="73.4" width="25.6" height="25.2" fill="#575757"/><rect x="74.7" y="73.4" width="25.6" height="25.2" fill="#575757"/><rect x="99.6" y="73.4" width="25.6" height="25.2" fill="#828282"/><rect x="124.6" y="73.4" width="25.6" height="25.2" fill="#a8a8a8"/><rect x="149.6" y="73.4" width="25.6" height="25.2" fill="#a8a8a8"/><rect x="174.6" y="73.4" width="25.6" height="25.2" fill="#575757"/><rect x="199.6" y="73.4" width="25.6" height="25.2" fill="#828282"/><rect x="224.6" y="73.4" width="25.6" height="25.2" fill="#828282"/><rect x="249.5" y="73.4" width="25.6" height="25.2" fill="#828282"/><rect x="274.5" y="73.4" width="55.6" height="25.2" fill="#828282"/><rect x="-30.3" y="98.0" width="55.6" height="25.2" fill="#575757"/><rect x="24.7" y="98.0" width="25.6" height="25.2" fill="#828282"/><rect x="49.7" y="98.0" width="25.6" height="25.2" fill="#575757"/><rect x="74.7" y="98.0" width="25.6" height="25.2" fill="#828282"/><rect x="99.6" y="98.0" width="25.6" height="25.2" fill="#a8a8a8"/><rect x="124.6" y="98.0" width="25.6" height="25.2" fill="#828282"/><rect x="149.6" y="98.0" width="25.6" height="25.2" fill="#575757"/><rect x="174.6" y="98.0" width="25.6" height="25.2" fill="#828282"/><rect x="199.6" y="98.0" width="25.6" height="25.2" fill="#828282"/><rect x="224.6" y="98.0" width="25.6" height="25.2" fill="#575757"/><rect x="249.5" y="98.0" width="25.6" height="25.2" fill="#828282"/><rect x="274.5" y="98.0" width="55.6" height="25.2" fill="#828282"/><rect x="-30.3" y="122.5" width="55.6" height="25.2" fill="#575757"/><rect x="24.7" y="122.5" width="25.6" height="25.2" fill="#575757"/><rect x="49.7" y="122.5" width="25.6" height="25.2" fill="#575757"/><rect x="74.7" y="122.5" width="25.6" height="25.2" fill="#828282"/><rect x="99.6" y="122.5" width="25.6" height="25.2" fill="#575757"/><rect x="124.6" y="122.5" width="25.6" height="25.2" fill="#575757"/><rect x="149.6" y="122.5" width="25.6" height="25.2" fill="#575757"/><rect x="174.6" y="122.5" width="25.6" height="25.2" fill="#a8a8a8"/><rect x="199.6" y="122.5" width="25.6" height="25.2" fill="#828282"/><rect x="224.6" y="122.5" width="25.6" height="25.2" fill="#828282"/><rect x="249.5" y="122.5" width="25.6" height="25.2" fill="#828282"/><rect x="274.5" y="122.5" width="55.6" height="25.2" fill="#828282"/><rect x="-30.3" y="147.1" width="55.6" height="25.2" fill="#575757"/><rect x="24.7" y="147.1" width="25.6" height="25.2" fill="#828282"/><rect x="49.7" y="147.1" width="25.6" height="25.2" fill="#a8a8a8"/><rect x="74.7" y="147.1" width="25.6" height="25.2" fill="#828282"/><rect x="99.6" y="147.1" width="25.6" height="25.2" fill="#575757"/><rect x="124.6" y="147.1" width="25.6" height="25.2" fill="#828282"/><rect x="149.6" y="147.1" width="25.6" height="25.2" fill="#828282"/><rect x="174.6" y="147.1" width="25.6" height="25.2" fill="#575757"/><rect x="199.6" y="147.1" width="25.6" height="25.2" fill="#575757"/><rect x="224.6" y="147.1" width="25.6" height="25.2" fill="#828282"/><rect x="249.5" y="147.1" width="25.6" height="25.2" fill="#a8a8a8"/><rect x="274.5" y="147.1" width="55.6" height="25.2" fill="#575757"/><rect x="-30.3" y="171.6" width="55.6" height="55.2" fill="#575757"/><rect x="24.7" y="171.6" width="25.6" height="55.2" fill="#828282"/><rect x="49.7" y="171.6" width="25.6" height="55.2" fill="#828282"/><rect x="74.7" y="171.6" width="25.6" height="55.2" fill="#828282"/><rect x="99.6" y="171.6" width="25.6" height="55.2" fill="#828282"/><rect x="124.6" y="171.6" width="25.6" height="55.2" fill="#575757"/><rect x="149.6" y="171.6" width="25.6" height="55.2" fill="#828282"/><rect x="174.6" y="171.6" width="25.6" height="55.2" fill="#575757"/><rect x="199.6" y="171.6" width="25.6" height="55.2" fill="#828282"/><rect x="224.6" y="171.6" width="25.6" height="55.2" fill="#a8a8a8"/><rect x="249.5" y="171.6" width="25.6" height="55.2" fill="#828282"/><rect x="274.5" y="171.6" width="55.6" height="55.2" fill="#575757"/></g><path d="M293.7 103.8m-3.0 0a3.0 3.0 0 1 0 6.0 0a3.0 3.0 0 1 0 -6.0 0M118.5 132.2m-3.0 0a3.0 3.0 0 1 0 6.0 0a3.0 3.0 0 1 0 -6.0 0M122.6 135.4m-3.0 0a3.0 3.0 0 1 0 6.0 0a3.0 3.0 0 1 0 -6.0 0M198.3 62.5m-3.0 0a3.0 3.0 0 1 0 6.0 0a3.0 3.0 0 1 0 -6.0 0" fill="#e8e2f4" stroke="#6a6488" stroke-width="1.2" opacity="0.85"/><path d="M153.5 8.0m-3.2 0a3.2 3.2 0 1 0 6.4 0a3.2 3.2 0 1 0 -6.4 0M148.5 116.0m-3.8 0a3.8 3.8 0 1 0 7.5 0a3.8 3.8 0 1 0 -7.5 0M204.0 141.5m-3.0 0a3.0 3.0 0 1 0 6.0 0a3.0 3.0 0 1 0 -6.0 0M68.4 180.8m-3.1 0a3.1 3.1 0 1 0 6.1 0a3.1 3.1 0 1 0 -6.1 0M123.3 31.6m-2.9 0a2.9 2.9 0 1 0 5.9 0a2.9 2.9 0 1 0 -5.9 0M242.9 42.6m-3.1 0a3.1 3.1 0 1 0 6.3 0a3.1 3.1 0 1 0 -6.3 0M53.6 38.7m-3.7 0a3.7 3.7 0 1 0 7.3 0a3.7 3.7 0 1 0 -7.3 0M9.5 21.6m-3.5 0a3.5 3.5 0 1 0 7.1 0a3.5 3.5 0 1 0 -7.1 0M223.5 183.8m-3.3 0a3.3 3.3 0 1 0 6.7 0a3.3 3.3 0 1 0 -6.7 0M207.7 67.0m-3.8 0a3.8 3.8 0 1 0 7.7 0a3.8 3.8 0 1 0 -7.7 0M57.7 149.1m-3.0 0a3.0 3.0 0 1 0 6.0 0a3.0 3.0 0 1 0 -6.0 0M229.0 127.5m-3.9 0a3.9 3.9 0 1 0 7.8 0a3.9 3.9 0 1 0 -7.8 0M238.5 11.7m-3.4 0a3.4 3.4 0 1 0 6.8 0a3.4 3.4 0 1 0 -6.8 0M186.2 8.1m-3.4 0a3.4 3.4 0 1 0 6.8 0a3.4 3.4 0 1 0 -6.8 0M13.4 28.8m-3.2 0a3.2 3.2 0 1 0 6.5 0a3.2 3.2 0 1 0 -6.5 0M281.6 108.6m-3.9 0a3.9 3.9 0 1 0 7.8 0a3.9 3.9 0 1 0 -7.8 0M112.3 122.4m-3.7 0a3.7 3.7 0 1 0 7.3 0a3.7 3.7 0 1 0 -7.3 0M194.9 103.5m-3.0 0a3.0 3.0 0 1 0 5.9 0a3.0 3.0 0 1 0 -5.9 0M53.7 51.6m-3.7 0a3.7 3.7 0 1 0 7.3 0a3.7 3.7 0 1 0 -7.3 0M81.2 154.2m-3.2 0a3.2 3.2 0 1 0 6.3 0a3.2 3.2 0 1 0 -6.3 0M265.2 26.9m-3.9 0a3.9 3.9 0 1 0 7.8 0a3.9 3.9 0 1 0 -7.8 0M166.4 181.5m-3.6 0a3.6 3.6 0 1 0 7.3 0a3.6 3.6 0 1 0 -7.3 0M184.5 37.5m-3.8 0a3.8 3.8 0 1 0 7.7 0a3.8 3.8 0 1 0 -7.7 0M109.5 101.9m-3.3 0a3.3 3.3 0 1 0 6.6 0a3.3 3.3 0 1 0 -6.6 0M287.2 99.4m-3.0 0a3.0 3.0 0 1 0 6.0 0a3.0 3.0 0 1 0 -6.0 0M10.7 119.0m-3.9 0a3.9 3.9 0 1 0 7.7 0a3.9 3.9 0 1 0 -7.7 0M219.0 121.1m-3.0 0a3.0 3.0 0 1 0 6.1 0a3.0 3.0 0 1 0 -6.1 0M225.3 94.2m-3.5 0a3.5 3.5 0 1 0 6.9 0a3.5 3.5 0 1 0 -6.9 0M295.3 81.9m-2.9 0a2.9 2.9 0 1 0 5.9 0a2.9 2.9 0 1 0 -5.9 0M240.4 12.2m-3.5 0a3.5 3.5 0 1 0 7.0 0a3.5 3.5 0 1 0 -7.0 0M246.4 192.0m-3.7 0a3.7 3.7 0 1 0 7.4 0a3.7 3.7 0 1 0 -7.4 0M99.8 125.4m-2.9 0a2.9 2.9 0 1 0 5.7 0a2.9 2.9 0 1 0 -5.7 0M84.3 185.0m-3.7 0a3.7 3.7 0 1 0 7.3 0a3.7 3.7 0 1 0 -7.3 0M241.4 21.7m-2.9 0a2.9 2.9 0 1 0 5.9 0a2.9 2.9 0 1 0 -5.9 0M135.4 133.7m-3.9 0a3.9 3.9 0 1 0 7.8 0a3.9 3.9 0 1 0 -7.8 0M248.7 86.6m-3.9 0a3.9 3.9 0 1 0 7.7 0a3.9 3.9 0 1 0 -7.7 0M232.5 147.6m-3.6 0a3.6 3.6 0 1 0 7.2 0a3.6 3.6 0 1 0 -7.2 0M42.1 6.7m-3.2 0a3.2 3.2 0 1 0 6.5 0a3.2 3.2 0 1 0 -6.5 0M273.5 87.4m-3.7 0a3.7 3.7 0 1 0 7.4 0a3.7 3.7 0 1 0 -7.4 0M149.5 74.1m-2.8 0a2.8 2.8 0 1 0 5.7 0a2.8 2.8 0 1 0 -5.7 0M199.5 6.0m-2.9 0a2.9 2.9 0 1 0 5.9 0a2.9 2.9 0 1 0 -5.9 0M235.7 97.3m-3.7 0a3.7 3.7 0 1 0 7.4 0a3.7 3.7 0 1 0 -7.4 0M226.8 20.5m-3.4 0a3.4 3.4 0 1 0 6.8 0a3.4 3.4 0 1 0 -6.8 0M126.1 118.2m-3.1 0a3.1 3.1 0 1 0 6.1 0a3.1 3.1 0 1 0 -6.1 0M252.4 156.8m-3.4 0a3.4 3.4 0 1 0 6.7 0a3.4 3.4 0 1 0 -6.7 0M48.8 29.1m-3.8 0a3.8 3.8 0 1 0 7.6 0a3.8 3.8 0 1 0 -7.6 0M56.7 131.2m-3.7 0a3.7 3.7 0 1 0 7.4 0a3.7 3.7 0 1 0 -7.4 0M143.3 13.2m-3.6 0a3.6 3.6 0 1 0 7.2 0a3.6 3.6 0 1 0 -7.2 0M177.8 114.3m-3.8 0a3.8 3.8 0 1 0 7.7 0a3.8 3.8 0 1 0 -7.7 0M102.3 103.0m-3.1 0a3.1 3.1 0 1 0 6.3 0a3.1 3.1 0 1 0 -6.3 0M174.9 191.7m-3.8 0a3.8 3.8 0 1 0 7.6 0a3.8 3.8 0 1 0 -7.6 0M121.3 16.6m-2.9 0a2.9 2.9 0 1 0 5.9 0a2.9 2.9 0 1 0 -5.9 0M19.4 92.8m-3.2 0a3.2 3.2 0 1 0 6.3 0a3.2 3.2 0 1 0 -6.3 0M116.0 105.0m-3.2 0a3.2 3.2 0 1 0 6.4 0a3.2 3.2 0 1 0 -6.4 0M218.1 182.4m-3.8 0a3.8 3.8 0 1 0 7.7 0a3.8 3.8 0 1 0 -7.7 0M31.6 58.1m-3.8 0a3.8 3.8 0 1 0 7.7 0a3.8 3.8 0 1 0 -7.7 0M28.1 56.2m-3.9 0a3.9 3.9 0 1 0 7.7 0a3.9 3.9 0 1 0 -7.7 0M204.0 159.1m-3.6 0a3.6 3.6 0 1 0 7.2 0a3.6 3.6 0 1 0 -7.2 0M281.0 110.8m-3.2 0a3.2 3.2 0 1 0 6.5 0a3.2 3.2 0 1 0 -6.5 0M222.2 39.0m-3.3 0a3.3 3.3 0 1 0 6.7 0a3.3 3.3 0 1 0 -6.7 0M187.5 140.1m-3.1 0a3.1 3.1 0 1 0 6.2 0a3.1 3.1 0 1 0 -6.2 0M77.6 85.8m-3.2 0a3.2 3.2 0 1 0 6.4 0a3.2 3.2 0 1 0 -6.4 0M81.8 37.7m-3.5 0a3.5 3.5 0 1 0 7.1 0a3.5 3.5 0 1 0 -7.1 0M153.1 129.1m-3.5 0a3.5 3.5 0 1 0 6.9 0a3.5 3.5 0 1 0 -6.9 0M194.1 82.9m-3.7 0a3.7 3.7 0 1 0 7.4 0a3.7 3.7 0 1 0 -7.4 0M82.7 25.0m-3.0 0a3.0 3.0 0 1 0 6.0 0a3.0 3.0 0 1 0 -6.0 0M119.4 27.1m-2.9 0a2.9 2.9 0 1 0 5.7 0a2.9 2.9 0 1 0 -5.7 0M60.9 117.3m-3.2 0a3.2 3.2 0 1 0 6.4 0a3.2 3.2 0 1 0 -6.4 0M116.5 85.6m-3.7 0a3.7 3.7 0 1 0 7.3 0a3.7 3.7 0 1 0 -7.3 0M170.7 118.9m-3.1 0a3.1 3.1 0 1 0 6.1 0a3.1 3.1 0 1 0 -6.1 0M53.3 160.6m-3.1 0a3.1 3.1 0 1 0 6.2 0a3.1 3.1 0 1 0 -6.2 0M49.3 148.8m-3.2 0a3.2 3.2 0 1 0 6.3 0a3.2 3.2 0 1 0 -6.3 0M141.2 159.4m-2.9 0a2.9 2.9 0 1 0 5.8 0a2.9 2.9 0 1 0 -5.8 0M284.0 31.7m-2.8 0a2.8 2.8 0 1 0 5.6 0a2.8 2.8 0 1 0 -5.6 0M247.1 133.2m-3.0 0a3.0 3.0 0 1 0 6.0 0a3.0 3.0 0 1 0 -6.0 0M219.6 168.6m-3.8 0a3.8 3.8 0 1 0 7.7 0a3.8 3.8 0 1 0 -7.7 0M212.7 130.0m-3.4 0a3.4 3.4 0 1 0 6.9 0a3.4 3.4 0 1 0 -6.9 0M223.2 35.7m-3.5 0a3.5 3.5 0 1 0 7.0 0a3.5 3.5 0 1 0 -7.0 0M235.8 187.8m-3.0 0a3.0 3.0 0 1 0 6.0 0a3.0 3.0 0 1 0 -6.0 0M15.5 22.0m-3.7 0a3.7 3.7 0 1 0 7.3 0a3.7 3.7 0 1 0 -7.3 0M154.0 84.8m-2.9 0a2.9 2.9 0 1 0 5.7 0a2.9 2.9 0 1 0 -5.7 0M102.5 68.6m-3.5 0a3.5 3.5 0 1 0 6.9 0a3.5 3.5 0 1 0 -6.9 0M223.5 141.3m-3.9 0a3.9 3.9 0 1 0 7.7 0a3.9 3.9 0 1 0 -7.7 0M221.0 108.0m-2.9 0a2.9 2.9 0 1 0 5.8 0a2.9 2.9 0 1 0 -5.8 0M177.2 60.1m-3.3 0a3.3 3.3 0 1 0 6.7 0a3.3 3.3 0 1 0 -6.7 0M68.3 94.8m-3.4 0a3.4 3.4 0 1 0 6.8 0a3.4 3.4 0 1 0 -6.8 0M248.2 154.5m-3.5 0a3.5 3.5 0 1 0 7.1 0a3.5 3.5 0 1 0 -7.1 0M153.9 81.3m-3.4 0a3.4 3.4 0 1 0 6.8 0a3.4 3.4 0 1 0 -6.8 0M273.7 15.6m-3.7 0a3.7 3.7 0 1 0 7.4 0a3.7 3.7 0 1 0 -7.4 0M230.4 93.1m-3.1 0a3.1 3.1 0 1 0 6.2 0a3.1 3.1 0 1 0 -6.2 0M101.2 95.3m-3.6 0a3.6 3.6 0 1 0 7.1 0a3.6 3.6 0 1 0 -7.1 0M243.5 168.8m-3.0 0a3.0 3.0 0 1 0 6.0 0a3.0 3.0 0 1 0 -6.0 0M241.6 85.4m-2.9 0a2.9 2.9 0 1 0 5.8 0a2.9 2.9 0 1 0 -5.8 0M140.5 25.9m-3.9 0a3.9 3.9 0 1 0 7.7 0a3.9 3.9 0 1 0 -7.7 0M194.4 162.9m-3.4 0a3.4 3.4 0 1 0 6.8 0a3.4 3.4 0 1 0 -6.8 0M163.4 123.0m-3.3 0a3.3 3.3 0 1 0 6.5 0a3.3 3.3 0 1 0 -6.5 0M22.6 176.4m-3.3 0a3.3 3.3 0 1 0 6.6 0a3.3 3.3 0 1 0 -6.6 0M32.3 170.1m-2.9 0a2.9 2.9 0 1 0 5.9 0a2.9 2.9 0 1 0 -5.9 0M155.0 114.8m-3.4 0a3.4 3.4 0 1 0 6.8 0a3.4 3.4 0 1 0 -6.8 0M65.0 170.9m-3.6 0a3.6 3.6 0 1 0 7.2 0a3.6 3.6 0 1 0 -7.2 0M170.3 15.2m-3.5 0a3.5 3.5 0 1 0 7.0 0a3.5 3.5 0 1 0 -7.0 0M214.5 98.7m-3.8 0a3.8 3.8 0 1 0 7.5 0a3.8 3.8 0 1 0 -7.5 0M72.5 141.4m-3.5 0a3.5 3.5 0 1 0 7.0 0a3.5 3.5 0 1 0 -7.0 0M49.0 65.7m-3.6 0a3.6 3.6 0 1 0 7.1 0a3.6 3.6 0 1 0 -7.1 0M39.3 45.5m-3.1 0a3.1 3.1 0 1 0 6.1 0a3.1 3.1 0 1 0 -6.1 0M266.6 106.1m-3.3 0a3.3 3.3 0 1 0 6.7 0a3.3 3.3 0 1 0 -6.7 0M81.7 37.4m-3.9 0a3.9 3.9 0 1 0 7.7 0a3.9 3.9 0 1 0 -7.7 0M46.9 56.2m-3.6 0a3.6 3.6 0 1 0 7.2 0a3.6 3.6 0 1 0 -7.2 0M263.5 7.1m-3.9 0a3.9 3.9 0 1 0 7.7 0a3.9 3.9 0 1 0 -7.7 0M97.6 42.6m-3.1 0a3.1 3.1 0 1 0 6.1 0a3.1 3.1 0 1 0 -6.1 0" fill="#2c1a6a"/></svg>
<svg x="385.00" y="851.00" width="299.00" height="196.50" viewBox="0 0 299.00 196.50" preserveAspectRatio="none"><rect width="299.00" height="196.50" fill="#6044b7"/><filter id="oB2" filterUnits="userSpaceOnUse" x="-30" y="-30" width="359.0" height="256.5" color-interpolation-filters="sRGB"><feGaussianBlur in="SourceGraphic" stdDeviation="7" edgeMode="duplicate" result="c"/><feTurbulence type="fractalNoise" baseFrequency="0.070" numOctaves="2" seed="116"/><feColorMatrix type="matrix" values="-1.600 0 0 0 1.300 -1.600 0 0 0 1.300 -1.600 0 0 0 1.300 0 0 0 0 1" result="n"/><feComposite in="c" in2="n" operator="arithmetic" k2="1" k3="1" k4="-0.5" result="s"/><feComponentTransfer in="s"><feFuncR type="table" tableValues="0 0 0.05 0.95 1 1"/><feFuncG type="table" tableValues="0 0 0.05 0.95 1 1"/><feFuncB type="table" tableValues="0 0 0.05 0.95 1 1"/></feComponentTransfer><feColorMatrix type="matrix" values="-0.3216 0 0 0 0.6275 -0.3412 0 0 0 0.5294 -0.1961 0 0 0 0.8706 0 0 0 0 1"/></filter><g filter="url(#oB2)"><rect x="-30.3" y="-30.3" width="55.5" height="55.2" fill="#aaaaaa"/><rect x="24.6" y="-30.3" width="25.5" height="55.2" fill="#929292"/><rect x="49.5" y="-30.3" width="25.5" height="55.2" fill="#aaaaaa"/><rect x="74.5" y="-30.3" width="25.5" height="55.2" fill="#aaaaaa"/><rect x="99.4" y="-30.3" width="25.5" height="55.2" fill="#aaaaaa"/><rect x="124.3" y="-30.3" width="25.5" height="55.2" fill="#aaaaaa"/><rect x="149.2" y="-30.3" width="25.5" height="55.2" fill="#aaaaaa"/><rect x="174.1" y="-30.3" width="25.5" height="55.2" fill="#aaaaaa"/><rect x="199.0" y="-30.3" width="25.5" height="55.2" fill="#929292"/><rect x="223.9" y="-30.3" width="25.5" height="55.2" fill="#929292"/><rect x="248.9" y="-30.3" width="25.5" height="55.2" fill="#929292"/><rect x="273.8" y="-30.3" width="55.5" height="55.2" fill="#929292"/><rect x="-30.3" y="24.3" width="55.5" height="25.2" fill="#929292"/><rect x="24.6" y="24.3" width="25.5" height="25.2" fill="#929292"/><rect x="49.5" y="24.3" width="25.5" height="25.2" fill="#aaaaaa"/><rect x="74.5" y="24.3" width="25.5" height="25.2" fill="#aaaaaa"/><rect x="99.4" y="24.3" width="25.5" height="25.2" fill="#aaaaaa"/><rect x="124.3" y="24.3" width="25.5" height="25.2" fill="#aaaaaa"/><rect x="149.2" y="24.3" width="25.5" height="25.2" fill="#aaaaaa"/><rect x="174.1" y="24.3" width="25.5" height="25.2" fill="#aaaaaa"/><rect x="199.0" y="24.3" width="25.5" height="25.2" fill="#aaaaaa"/><rect x="223.9" y="24.3" width="25.5" height="25.2" fill="#aaaaaa"/><rect x="248.9" y="24.3" width="25.5" height="25.2" fill="#929292"/><rect x="273.8" y="24.3" width="55.5" height="25.2" fill="#929292"/><rect x="-30.3" y="48.8" width="55.5" height="25.2" fill="#aaaaaa"/><rect x="24.6" y="48.8" width="25.5" height="25.2" fill="#aaaaaa"/><rect x="49.5" y="48.8" width="25.5" height="25.2" fill="#aaaaaa"/><rect x="74.5" y="48.8" width="25.5" height="25.2" fill="#aaaaaa"/><rect x="99.4" y="48.8" width="25.5" height="25.2" fill="#aaaaaa"/><rect x="124.3" y="48.8" width="25.5" height="25.2" fill="#dbdbdb"/><rect x="149.2" y="48.8" width="25.5" height="25.2" fill="#aaaaaa"/><rect x="174.1" y="48.8" width="25.5" height="25.2" fill="#aaaaaa"/><rect x="199.0" y="48.8" width="25.5" height="25.2" fill="#aaaaaa"/><rect x="223.9" y="48.8" width="25.5" height="25.2" fill="#aaaaaa"/><rect x="248.9" y="48.8" width="25.5" height="25.2" fill="#929292"/><rect x="273.8" y="48.8" width="55.5" height="25.2" fill="#929292"/><rect x="-30.3" y="73.4" width="55.5" height="25.2" fill="#dbdbdb"/><rect x="24.6" y="73.4" width="25.5" height="25.2" fill="#aaaaaa"/><rect x="49.5" y="73.4" width="25.5" height="25.2" fill="#aaaaaa"/><rect x="74.5" y="73.4" width="25.5" height="25.2" fill="#aaaaaa"/><rect x="99.4" y="73.4" width="25.5" height="25.2" fill="#aaaaaa"/><rect x="124.3" y="73.4" width="25.5" height="25.2" fill="#dbdbdb"/><rect x="149.2" y="73.4" width="25.5" height="25.2" fill="#aaaaaa"/><rect x="174.1" y="73.4" width="25.5" height="25.2" fill="#aaaaaa"/><rect x="199.0" y="73.4" width="25.5" height="25.2" fill="#aaaaaa"/><rect x="223.9" y="73.4" width="25.5" height="25.2" fill="#929292"/><rect x="248.9" y="73.4" width="25.5" height="25.2" fill="#aaaaaa"/><rect x="273.8" y="73.4" width="55.5" height="25.2" fill="#aaaaaa"/><rect x="-30.3" y="98.0" width="55.5" height="25.2" fill="#aaaaaa"/><rect x="24.6" y="98.0" width="25.5" height="25.2" fill="#aaaaaa"/><rect x="49.5" y="98.0" width="25.5" height="25.2" fill="#aaaaaa"/><rect x="74.5" y="98.0" width="25.5" height="25.2" fill="#aaaaaa"/><rect x="99.4" y="98.0" width="25.5" height="25.2" fill="#aaaaaa"/><rect x="124.3" y="98.0" width="25.5" height="25.2" fill="#aaaaaa"/><rect x="149.2" y="98.0" width="25.5" height="25.2" fill="#929292"/><rect x="174.1" y="98.0" width="25.5" height="25.2" fill="#aaaaaa"/><rect x="199.0" y="98.0" width="25.5" height="25.2" fill="#aaaaaa"/><rect x="223.9" y="98.0" width="25.5" height="25.2" fill="#aaaaaa"/><rect x="248.9" y="98.0" width="25.5" height="25.2" fill="#929292"/><rect x="273.8" y="98.0" width="55.5" height="25.2" fill="#aaaaaa"/><rect x="-30.3" y="122.5" width="55.5" height="25.2" fill="#aaaaaa"/><rect x="24.6" y="122.5" width="25.5" height="25.2" fill="#aaaaaa"/><rect x="49.5" y="122.5" width="25.5" height="25.2" fill="#aaaaaa"/><rect x="74.5" y="122.5" width="25.5" height="25.2" fill="#929292"/><rect x="99.4" y="122.5" width="25.5" height="25.2" fill="#929292"/><rect x="124.3" y="122.5" width="25.5" height="25.2" fill="#aaaaaa"/><rect x="149.2" y="122.5" width="25.5" height="25.2" fill="#aaaaaa"/><rect x="174.1" y="122.5" width="25.5" height="25.2" fill="#aaaaaa"/><rect x="199.0" y="122.5" width="25.5" height="25.2" fill="#aaaaaa"/><rect x="223.9" y="122.5" width="25.5" height="25.2" fill="#aaaaaa"/><rect x="248.9" y="122.5" width="25.5" height="25.2" fill="#929292"/><rect x="273.8" y="122.5" width="55.5" height="25.2" fill="#aaaaaa"/><rect x="-30.3" y="147.1" width="55.5" height="25.2" fill="#aaaaaa"/><rect x="24.6" y="147.1" width="25.5" height="25.2" fill="#aaaaaa"/><rect x="49.5" y="147.1" width="25.5" height="25.2" fill="#aaaaaa"/><rect x="74.5" y="147.1" width="25.5" height="25.2" fill="#aaaaaa"/><rect x="99.4" y="147.1" width="25.5" height="25.2" fill="#929292"/><rect x="124.3" y="147.1" width="25.5" height="25.2" fill="#aaaaaa"/><rect x="149.2" y="147.1" width="25.5" height="25.2" fill="#aaaaaa"/><rect x="174.1" y="147.1" width="25.5" height="25.2" fill="#aaaaaa"/><rect x="199.0" y="147.1" width="25.5" height="25.2" fill="#aaaaaa"/><rect x="223.9" y="147.1" width="25.5" height="25.2" fill="#929292"/><rect x="248.9" y="147.1" width="25.5" height="25.2" fill="#aaaaaa"/><rect x="273.8" y="147.1" width="55.5" height="25.2" fill="#aaaaaa"/><rect x="-30.3" y="171.6" width="55.5" height="55.2" fill="#aaaaaa"/><rect x="24.6" y="171.6" width="25.5" height="55.2" fill="#aaaaaa"/><rect x="49.5" y="171.6" width="25.5" height="55.2" fill="#aaaaaa"/><rect x="74.5" y="171.6" width="25.5" height="55.2" fill="#aaaaaa"/><rect x="99.4" y="171.6" width="25.5" height="55.2" fill="#aaaaaa"/><rect x="124.3" y="171.6" width="25.5" height="55.2" fill="#aaaaaa"/><rect x="149.2" y="171.6" width="25.5" height="55.2" fill="#aaaaaa"/><rect x="174.1" y="171.6" width="25.5" height="55.2" fill="#aaaaaa"/><rect x="199.0" y="171.6" width="25.5" height="55.2" fill="#929292"/><rect x="223.9" y="171.6" width="25.5" height="55.2" fill="#929292"/><rect x="248.9" y="171.6" width="25.5" height="55.2" fill="#929292"/><rect x="273.8" y="171.6" width="55.5" height="55.2" fill="#aaaaaa"/></g><path d="M51.4 63.5m-3.0 0a3.0 3.0 0 1 0 6.0 0a3.0 3.0 0 1 0 -6.0 0M58.7 90.6m-3.0 0a3.0 3.0 0 1 0 6.0 0a3.0 3.0 0 1 0 -6.0 0M203.4 187.9m-3.0 0a3.0 3.0 0 1 0 6.0 0a3.0 3.0 0 1 0 -6.0 0M70.0 137.8m-3.0 0a3.0 3.0 0 1 0 6.0 0a3.0 3.0 0 1 0 -6.0 0" fill="#e8e2f4" stroke="#6a6488" stroke-width="1.2" opacity="0.85"/><path d="M125.1 147.8m-2.9 0a2.9 2.9 0 1 0 5.9 0a2.9 2.9 0 1 0 -5.9 0M71.5 62.2m-2.8 0a2.8 2.8 0 1 0 5.7 0a2.8 2.8 0 1 0 -5.7 0M15.9 15.9m-2.8 0a2.8 2.8 0 1 0 5.6 0a2.8 2.8 0 1 0 -5.6 0M153.3 66.4m-3.3 0a3.3 3.3 0 1 0 6.5 0a3.3 3.3 0 1 0 -6.5 0M55.0 86.2m-3.1 0a3.1 3.1 0 1 0 6.2 0a3.1 3.1 0 1 0 -6.2 0M210.6 45.6m-3.2 0a3.2 3.2 0 1 0 6.4 0a3.2 3.2 0 1 0 -6.4 0M206.4 72.3m-3.9 0a3.9 3.9 0 1 0 7.8 0a3.9 3.9 0 1 0 -7.8 0M78.6 35.6m-3.3 0a3.3 3.3 0 1 0 6.7 0a3.3 3.3 0 1 0 -6.7 0M111.0 134.2m-3.0 0a3.0 3.0 0 1 0 5.9 0a3.0 3.0 0 1 0 -5.9 0M102.8 109.5m-3.3 0a3.3 3.3 0 1 0 6.6 0a3.3 3.3 0 1 0 -6.6 0M109.4 144.5m-3.7 0a3.7 3.7 0 1 0 7.3 0a3.7 3.7 0 1 0 -7.3 0M287.6 20.8m-3.7 0a3.7 3.7 0 1 0 7.5 0a3.7 3.7 0 1 0 -7.5 0M279.6 31.4m-3.7 0a3.7 3.7 0 1 0 7.4 0a3.7 3.7 0 1 0 -7.4 0M152.7 139.7m-3.4 0a3.4 3.4 0 1 0 6.8 0a3.4 3.4 0 1 0 -6.8 0M268.6 189.0m-3.6 0a3.6 3.6 0 1 0 7.2 0a3.6 3.6 0 1 0 -7.2 0M174.1 171.3m-3.1 0a3.1 3.1 0 1 0 6.2 0a3.1 3.1 0 1 0 -6.2 0M257.4 142.6m-3.1 0a3.1 3.1 0 1 0 6.2 0a3.1 3.1 0 1 0 -6.2 0M125.7 130.8m-3.5 0a3.5 3.5 0 1 0 7.1 0a3.5 3.5 0 1 0 -7.1 0M227.5 32.2m-3.6 0a3.6 3.6 0 1 0 7.1 0a3.6 3.6 0 1 0 -7.1 0M150.4 113.9m-2.9 0a2.9 2.9 0 1 0 5.8 0a2.9 2.9 0 1 0 -5.8 0M235.1 91.9m-3.8 0a3.8 3.8 0 1 0 7.6 0a3.8 3.8 0 1 0 -7.6 0M181.6 133.8m-3.3 0a3.3 3.3 0 1 0 6.7 0a3.3 3.3 0 1 0 -6.7 0M192.8 65.6m-3.7 0a3.7 3.7 0 1 0 7.4 0a3.7 3.7 0 1 0 -7.4 0M271.4 186.2m-2.8 0a2.8 2.8 0 1 0 5.7 0a2.8 2.8 0 1 0 -5.7 0M173.8 153.6m-2.8 0a2.8 2.8 0 1 0 5.6 0a2.8 2.8 0 1 0 -5.6 0M137.0 74.9m-3.9 0a3.9 3.9 0 1 0 7.8 0a3.9 3.9 0 1 0 -7.8 0M207.7 71.6m-3.2 0a3.2 3.2 0 1 0 6.4 0a3.2 3.2 0 1 0 -6.4 0M175.7 25.8m-3.1 0a3.1 3.1 0 1 0 6.2 0a3.1 3.1 0 1 0 -6.2 0M283.0 122.5m-2.8 0a2.8 2.8 0 1 0 5.7 0a2.8 2.8 0 1 0 -5.7 0M181.4 8.7m-3.5 0a3.5 3.5 0 1 0 6.9 0a3.5 3.5 0 1 0 -6.9 0M148.5 88.2m-3.6 0a3.6 3.6 0 1 0 7.2 0a3.6 3.6 0 1 0 -7.2 0M43.8 141.0m-3.1 0a3.1 3.1 0 1 0 6.2 0a3.1 3.1 0 1 0 -6.2 0M181.7 11.4m-3.7 0a3.7 3.7 0 1 0 7.3 0a3.7 3.7 0 1 0 -7.3 0M255.6 131.6m-2.9 0a2.9 2.9 0 1 0 5.8 0a2.9 2.9 0 1 0 -5.8 0M176.4 171.1m-3.4 0a3.4 3.4 0 1 0 6.9 0a3.4 3.4 0 1 0 -6.9 0M143.4 122.9m-3.1 0a3.1 3.1 0 1 0 6.3 0a3.1 3.1 0 1 0 -6.3 0M186.7 7.8m-3.8 0a3.8 3.8 0 1 0 7.6 0a3.8 3.8 0 1 0 -7.6 0M87.9 116.1m-3.4 0a3.4 3.4 0 1 0 6.7 0a3.4 3.4 0 1 0 -6.7 0M284.0 62.0m-3.6 0a3.6 3.6 0 1 0 7.1 0a3.6 3.6 0 1 0 -7.1 0M7.5 186.9m-3.3 0a3.3 3.3 0 1 0 6.6 0a3.3 3.3 0 1 0 -6.6 0M286.5 5.8m-3.2 0a3.2 3.2 0 1 0 6.3 0a3.2 3.2 0 1 0 -6.3 0M198.2 59.1m-3.6 0a3.6 3.6 0 1 0 7.2 0a3.6 3.6 0 1 0 -7.2 0M91.5 24.9m-3.2 0a3.2 3.2 0 1 0 6.5 0a3.2 3.2 0 1 0 -6.5 0M67.5 98.1m-3.0 0a3.0 3.0 0 1 0 5.9 0a3.0 3.0 0 1 0 -5.9 0M129.5 155.8m-3.4 0a3.4 3.4 0 1 0 6.8 0a3.4 3.4 0 1 0 -6.8 0M35.6 104.7m-3.3 0a3.3 3.3 0 1 0 6.7 0a3.3 3.3 0 1 0 -6.7 0M77.6 90.8m-3.1 0a3.1 3.1 0 1 0 6.2 0a3.1 3.1 0 1 0 -6.2 0M186.1 142.7m-2.8 0a2.8 2.8 0 1 0 5.7 0a2.8 2.8 0 1 0 -5.7 0M86.2 99.4m-3.3 0a3.3 3.3 0 1 0 6.5 0a3.3 3.3 0 1 0 -6.5 0M294.5 171.9m-3.6 0a3.6 3.6 0 1 0 7.1 0a3.6 3.6 0 1 0 -7.1 0M255.4 164.3m-3.8 0a3.8 3.8 0 1 0 7.7 0a3.8 3.8 0 1 0 -7.7 0M114.7 33.2m-3.4 0a3.4 3.4 0 1 0 6.8 0a3.4 3.4 0 1 0 -6.8 0M162.9 52.5m-3.3 0a3.3 3.3 0 1 0 6.6 0a3.3 3.3 0 1 0 -6.6 0M81.4 66.8m-3.5 0a3.5 3.5 0 1 0 7.0 0a3.5 3.5 0 1 0 -7.0 0M67.1 28.2m-3.0 0a3.0 3.0 0 1 0 6.0 0a3.0 3.0 0 1 0 -6.0 0M284.0 49.7m-3.8 0a3.8 3.8 0 1 0 7.6 0a3.8 3.8 0 1 0 -7.6 0M219.1 39.4m-3.4 0a3.4 3.4 0 1 0 6.8 0a3.4 3.4 0 1 0 -6.8 0M243.6 147.5m-3.6 0a3.6 3.6 0 1 0 7.1 0a3.6 3.6 0 1 0 -7.1 0M192.9 26.4m-3.3 0a3.3 3.3 0 1 0 6.6 0a3.3 3.3 0 1 0 -6.6 0M213.7 68.6m-3.1 0a3.1 3.1 0 1 0 6.1 0a3.1 3.1 0 1 0 -6.1 0M133.5 148.6m-3.3 0a3.3 3.3 0 1 0 6.5 0a3.3 3.3 0 1 0 -6.5 0M222.9 187.1m-3.5 0a3.5 3.5 0 1 0 7.1 0a3.5 3.5 0 1 0 -7.1 0M57.7 11.3m-3.5 0a3.5 3.5 0 1 0 7.1 0a3.5 3.5 0 1 0 -7.1 0M46.2 96.0m-3.0 0a3.0 3.0 0 1 0 6.0 0a3.0 3.0 0 1 0 -6.0 0M132.5 13.1m-3.1 0a3.1 3.1 0 1 0 6.2 0a3.1 3.1 0 1 0 -6.2 0M36.0 54.9m-3.7 0a3.7 3.7 0 1 0 7.5 0a3.7 3.7 0 1 0 -7.5 0M281.8 81.6m-3.3 0a3.3 3.3 0 1 0 6.6 0a3.3 3.3 0 1 0 -6.6 0M200.9 153.1m-3.4 0a3.4 3.4 0 1 0 6.9 0a3.4 3.4 0 1 0 -6.9 0M69.7 176.1m-3.5 0a3.5 3.5 0 1 0 7.1 0a3.5 3.5 0 1 0 -7.1 0M286.7 171.3m-3.7 0a3.7 3.7 0 1 0 7.4 0a3.7 3.7 0 1 0 -7.4 0M123.7 157.9m-3.8 0a3.8 3.8 0 1 0 7.5 0a3.8 3.8 0 1 0 -7.5 0M130.3 65.7m-2.9 0a2.9 2.9 0 1 0 5.8 0a2.9 2.9 0 1 0 -5.8 0M177.3 30.6m-3.4 0a3.4 3.4 0 1 0 6.9 0a3.4 3.4 0 1 0 -6.9 0M40.8 34.7m-3.6 0a3.6 3.6 0 1 0 7.1 0a3.6 3.6 0 1 0 -7.1 0M290.2 122.8m-3.8 0a3.8 3.8 0 1 0 7.6 0a3.8 3.8 0 1 0 -7.6 0M258.1 171.7m-3.5 0a3.5 3.5 0 1 0 6.9 0a3.5 3.5 0 1 0 -6.9 0M67.4 144.2m-3.2 0a3.2 3.2 0 1 0 6.4 0a3.2 3.2 0 1 0 -6.4 0M43.2 86.0m-3.6 0a3.6 3.6 0 1 0 7.2 0a3.6 3.6 0 1 0 -7.2 0M29.4 74.9m-3.1 0a3.1 3.1 0 1 0 6.3 0a3.1 3.1 0 1 0 -6.3 0M236.6 158.8m-3.1 0a3.1 3.1 0 1 0 6.3 0a3.1 3.1 0 1 0 -6.3 0" fill="#24105c"/></svg>
<svg x="69.00" y="1063.00" width="299.80" height="195.00" viewBox="0 0 299.80 195.00" preserveAspectRatio="none"><rect width="299.80" height="195.00" fill="#9e88d0"/><filter id="oB3" filterUnits="userSpaceOnUse" x="-30" y="-30" width="359.8" height="255.0" color-interpolation-filters="sRGB"><feGaussianBlur in="SourceGraphic" stdDeviation="7" edgeMode="duplicate" result="c"/><feTurbulence type="fractalNoise" baseFrequency="0.045" numOctaves="2" seed="117"/><feColorMatrix type="matrix" values="-1.600 0 0 0 1.300 -1.600 0 0 0 1.300 -1.600 0 0 0 1.300 0 0 0 0 1" result="n"/><feComposite in="c" in2="n" operator="arithmetic" k2="1" k3="1" k4="-0.5" result="s"/><feComponentTransfer in="s"><feFuncR type="table" tableValues="0 0 0.05 0.95 1 1"/><feFuncG type="table" tableValues="0 0 0.05 0.95 1 1"/><feFuncB type="table" tableValues="0 0 0.05 0.95 1 1"/></feComponentTransfer><feColorMatrix type="matrix" values="-0.4000 0 0 0 0.7922 -0.5255 0 0 0 0.7608 -0.1608 0 0 0 0.8863 0 0 0 0 1"/></filter><g filter="url(#oB3)"><rect x="-30.3" y="-30.3" width="55.6" height="55.0" fill="#808080"/><rect x="24.7" y="-30.3" width="25.6" height="55.0" fill="#808080"/><rect x="49.7" y="-30.3" width="25.6" height="55.0" fill="#808080"/><rect x="74.7" y="-30.3" width="25.6" height="55.0" fill="#4d4d4d"/><rect x="99.6" y="-30.3" width="25.6" height="55.0" fill="#a8a8a8"/><rect x="124.6" y="-30.3" width="25.6" height="55.0" fill="#a8a8a8"/><rect x="149.6" y="-30.3" width="25.6" height="55.0" fill="#808080"/><rect x="174.6" y="-30.3" width="25.6" height="55.0" fill="#808080"/><rect x="199.6" y="-30.3" width="25.6" height="55.0" fill="#4d4d4d"/><rect x="224.6" y="-30.3" width="25.6" height="55.0" fill="#4d4d4d"/><rect x="249.5" y="-30.3" width="25.6" height="55.0" fill="#4d4d4d"/><rect x="274.5" y="-30.3" width="55.6" height="55.0" fill="#4d4d4d"/><rect x="-30.3" y="24.1" width="55.6" height="25.0" fill="#4d4d4d"/><rect x="24.7" y="24.1" width="25.6" height="25.0" fill="#4d4d4d"/><rect x="49.7" y="24.1" width="25.6" height="25.0" fill="#808080"/><rect x="74.7" y="24.1" width="25.6" height="25.0" fill="#4d4d4d"/><rect x="99.6" y="24.1" width="25.6" height="25.0" fill="#a8a8a8"/><rect x="124.6" y="24.1" width="25.6" height="25.0" fill="#808080"/><rect x="149.6" y="24.1" width="25.6" height="25.0" fill="#4d4d4d"/><rect x="174.6" y="24.1" width="25.6" height="25.0" fill="#a8a8a8"/><rect x="199.6" y="24.1" width="25.6" height="25.0" fill="#a8a8a8"/><rect x="224.6" y="24.1" width="25.6" height="25.0" fill="#808080"/><rect x="249.5" y="24.1" width="25.6" height="25.0" fill="#808080"/><rect x="274.5" y="24.1" width="55.6" height="25.0" fill="#808080"/><rect x="-30.3" y="48.5" width="55.6" height="25.0" fill="#4d4d4d"/><rect x="24.7" y="48.5" width="25.6" height="25.0" fill="#4d4d4d"/><rect x="49.7" y="48.5" width="25.6" height="25.0" fill="#808080"/><rect x="74.7" y="48.5" width="25.6" height="25.0" fill="#808080"/><rect x="99.6" y="48.5" width="25.6" height="25.0" fill="#808080"/><rect x="124.6" y="48.5" width="25.6" height="25.0" fill="#808080"/><rect x="149.6" y="48.5" width="25.6" height="25.0" fill="#808080"/><rect x="174.6" y="48.5" width="25.6" height="25.0" fill="#808080"/><rect x="199.6" y="48.5" width="25.6" height="25.0" fill="#4d4d4d"/><rect x="224.6" y="48.5" width="25.6" height="25.0" fill="#4d4d4d"/><rect x="249.5" y="48.5" width="25.6" height="25.0" fill="#808080"/><rect x="274.5" y="48.5" width="55.6" height="25.0" fill="#808080"/><rect x="-30.3" y="72.8" width="55.6" height="25.0" fill="#4d4d4d"/><rect x="24.7" y="72.8" width="25.6" height="25.0" fill="#808080"/><rect x="49.7" y="72.8" width="25.6" height="25.0" fill="#a8a8a8"/><rect x="74.7" y="72.8" width="25.6" height="25.0" fill="#808080"/><rect x="99.6" y="72.8" width="25.6" height="25.0" fill="#808080"/><rect x="124.6" y="72.8" width="25.6" height="25.0" fill="#4d4d4d"/><rect x="149.6" y="72.8" width="25.6" height="25.0" fill="#a8a8a8"/><rect x="174.6" y="72.8" width="25.6" height="25.0" fill="#4d4d4d"/><rect x="199.6" y="72.8" width="25.6" height="25.0" fill="#808080"/><rect x="224.6" y="72.8" width="25.6" height="25.0" fill="#808080"/><rect x="249.5" y="72.8" width="25.6" height="25.0" fill="#808080"/><rect x="274.5" y="72.8" width="55.6" height="25.0" fill="#4d4d4d"/><rect x="-30.3" y="97.2" width="55.6" height="25.0" fill="#808080"/><rect x="24.7" y="97.2" width="25.6" height="25.0" fill="#808080"/><rect x="49.7" y="97.2" width="25.6" height="25.0" fill="#a8a8a8"/><rect x="74.7" y="97.2" width="25.6" height="25.0" fill="#4d4d4d"/><rect x="99.6" y="97.2" width="25.6" height="25.0" fill="#808080"/><rect x="124.6" y="97.2" width="25.6" height="25.0" fill="#808080"/><rect x="149.6" y="97.2" width="25.6" height="25.0" fill="#4d4d4d"/><rect x="174.6" y="97.2" width="25.6" height="25.0" fill="#4d4d4d"/><rect x="199.6" y="97.2" width="25.6" height="25.0" fill="#a8a8a8"/><rect x="224.6" y="97.2" width="25.6" height="25.0" fill="#a8a8a8"/><rect x="249.5" y="97.2" width="25.6" height="25.0" fill="#a8a8a8"/><rect x="274.5" y="97.2" width="55.6" height="25.0" fill="#808080"/><rect x="-30.3" y="121.6" width="55.6" height="25.0" fill="#4d4d4d"/><rect x="24.7" y="121.6" width="25.6" height="25.0" fill="#808080"/><rect x="49.7" y="121.6" width="25.6" height="25.0" fill="#808080"/><rect x="74.7" y="121.6" width="25.6" height="25.0" fill="#808080"/><rect x="99.6" y="121.6" width="25.6" height="25.0" fill="#808080"/><rect x="124.6" y="121.6" width="25.6" height="25.0" fill="#808080"/><rect x="149.6" y="121.6" width="25.6" height="25.0" fill="#4d4d4d"/><rect x="174.6" y="121.6" width="25.6" height="25.0" fill="#4d4d4d"/><rect x="199.6" y="121.6" width="25.6" height="25.0" fill="#4d4d4d"/><rect x="224.6" y="121.6" width="25.6" height="25.0" fill="#4d4d4d"/><rect x="249.5" y="121.6" width="25.6" height="25.0" fill="#808080"/><rect x="274.5" y="121.6" width="55.6" height="25.0" fill="#4d4d4d"/><rect x="-30.3" y="145.9" width="55.6" height="25.0" fill="#808080"/><rect x="24.7" y="145.9" width="25.6" height="25.0" fill="#808080"/><rect x="49.7" y="145.9" width="25.6" height="25.0" fill="#808080"/><rect x="74.7" y="145.9" width="25.6" height="25.0" fill="#a8a8a8"/><rect x="99.6" y="145.9" width="25.6" height="25.0" fill="#4d4d4d"/><rect x="124.6" y="145.9" width="25.6" height="25.0" fill="#808080"/><rect x="149.6" y="145.9" width="25.6" height="25.0" fill="#808080"/><rect x="174.6" y="145.9" width="25.6" height="25.0" fill="#808080"/><rect x="199.6" y="145.9" width="25.6" height="25.0" fill="#4d4d4d"/><rect x="224.6" y="145.9" width="25.6" height="25.0" fill="#808080"/><rect x="249.5" y="145.9" width="25.6" height="25.0" fill="#808080"/><rect x="274.5" y="145.9" width="55.6" height="25.0" fill="#808080"/><rect x="-30.3" y="170.3" width="55.6" height="55.0" fill="#a8a8a8"/><rect x="24.7" y="170.3" width="25.6" height="55.0" fill="#808080"/><rect x="49.7" y="170.3" width="25.6" height="55.0" fill="#808080"/><rect x="74.7" y="170.3" width="25.6" height="55.0" fill="#808080"/><rect x="99.6" y="170.3" width="25.6" height="55.0" fill="#4d4d4d"/><rect x="124.6" y="170.3" width="25.6" height="55.0" fill="#808080"/><rect x="149.6" y="170.3" width="25.6" height="55.0" fill="#808080"/><rect x="174.6" y="170.3" width="25.6" height="55.0" fill="#808080"/><rect x="199.6" y="170.3" width="25.6" height="55.0" fill="#4d4d4d"/><rect x="224.6" y="170.3" width="25.6" height="55.0" fill="#808080"/><rect x="249.5" y="170.3" width="25.6" height="55.0" fill="#808080"/><rect x="274.5" y="170.3" width="55.6" height="55.0" fill="#808080"/></g><path d="M134.0 54.9m-3.0 0a3.0 3.0 0 1 0 6.0 0a3.0 3.0 0 1 0 -6.0 0M245.8 15.1m-3.0 0a3.0 3.0 0 1 0 6.0 0a3.0 3.0 0 1 0 -6.0 0M81.8 101.0m-3.0 0a3.0 3.0 0 1 0 6.0 0a3.0 3.0 0 1 0 -6.0 0M237.5 142.4m-3.0 0a3.0 3.0 0 1 0 6.0 0a3.0 3.0 0 1 0 -6.0 0M187.8 151.6m-3.0 0a3.0 3.0 0 1 0 6.0 0a3.0 3.0 0 1 0 -6.0 0M263.7 15.7m-3.0 0a3.0 3.0 0 1 0 6.0 0a3.0 3.0 0 1 0 -6.0 0M261.0 133.8m-3.0 0a3.0 3.0 0 1 0 6.0 0a3.0 3.0 0 1 0 -6.0 0M179.3 81.4m-3.0 0a3.0 3.0 0 1 0 6.0 0a3.0 3.0 0 1 0 -6.0 0M72.4 42.7m-3.0 0a3.0 3.0 0 1 0 6.0 0a3.0 3.0 0 1 0 -6.0 0M126.0 114.1m-3.0 0a3.0 3.0 0 1 0 6.0 0a3.0 3.0 0 1 0 -6.0 0M79.3 89.9m-3.0 0a3.0 3.0 0 1 0 6.0 0a3.0 3.0 0 1 0 -6.0 0M227.0 64.1m-3.0 0a3.0 3.0 0 1 0 6.0 0a3.0 3.0 0 1 0 -6.0 0M35.9 22.2m-3.0 0a3.0 3.0 0 1 0 6.0 0a3.0 3.0 0 1 0 -6.0 0M205.7 159.0m-3.0 0a3.0 3.0 0 1 0 6.0 0a3.0 3.0 0 1 0 -6.0 0M213.8 7.8m-3.0 0a3.0 3.0 0 1 0 6.0 0a3.0 3.0 0 1 0 -6.0 0" fill="#e8e2f4" stroke="#6a6488" stroke-width="1.2" opacity="0.85"/><path d="M129.9 69.1m-3.5 0a3.5 3.5 0 1 0 6.9 0a3.5 3.5 0 1 0 -6.9 0M275.5 112.1m-3.3 0a3.3 3.3 0 1 0 6.7 0a3.3 3.3 0 1 0 -6.7 0M8.2 160.5m-3.2 0a3.2 3.2 0 1 0 6.3 0a3.2 3.2 0 1 0 -6.3 0M9.7 56.1m-3.9 0a3.9 3.9 0 1 0 7.8 0a3.9 3.9 0 1 0 -7.8 0M186.1 63.5m-2.8 0a2.8 2.8 0 1 0 5.6 0a2.8 2.8 0 1 0 -5.6 0M108.2 112.5m-3.5 0a3.5 3.5 0 1 0 7.0 0a3.5 3.5 0 1 0 -7.0 0M191.7 11.2m-3.0 0a3.0 3.0 0 1 0 6.0 0a3.0 3.0 0 1 0 -6.0 0M222.9 74.4m-3.5 0a3.5 3.5 0 1 0 7.1 0a3.5 3.5 0 1 0 -7.1 0M64.3 105.4m-3.4 0a3.4 3.4 0 1 0 6.8 0a3.4 3.4 0 1 0 -6.8 0M274.1 11.5m-3.3 0a3.3 3.3 0 1 0 6.6 0a3.3 3.3 0 1 0 -6.6 0M125.8 95.8m-3.6 0a3.6 3.6 0 1 0 7.2 0a3.6 3.6 0 1 0 -7.2 0M55.5 52.4m-3.6 0a3.6 3.6 0 1 0 7.2 0a3.6 3.6 0 1 0 -7.2 0M186.2 167.3m-3.1 0a3.1 3.1 0 1 0 6.2 0a3.1 3.1 0 1 0 -6.2 0M258.1 189.1m-3.2 0a3.2 3.2 0 1 0 6.4 0a3.2 3.2 0 1 0 -6.4 0M198.0 174.9m-3.6 0a3.6 3.6 0 1 0 7.3 0a3.6 3.6 0 1 0 -7.3 0M157.0 85.1m-3.8 0a3.8 3.8 0 1 0 7.7 0a3.8 3.8 0 1 0 -7.7 0M199.6 8.2m-3.6 0a3.6 3.6 0 1 0 7.1 0a3.6 3.6 0 1 0 -7.1 0M237.4 163.7m-3.3 0a3.3 3.3 0 1 0 6.7 0a3.3 3.3 0 1 0 -6.7 0M137.8 169.6m-2.8 0a2.8 2.8 0 1 0 5.7 0a2.8 2.8 0 1 0 -5.7 0M193.1 107.0m-2.9 0a2.9 2.9 0 1 0 5.7 0a2.9 2.9 0 1 0 -5.7 0M55.1 84.4m-2.9 0a2.9 2.9 0 1 0 5.9 0a2.9 2.9 0 1 0 -5.9 0M231.2 108.1m-3.3 0a3.3 3.3 0 1 0 6.7 0a3.3 3.3 0 1 0 -6.7 0M70.5 143.8m-3.8 0a3.8 3.8 0 1 0 7.7 0a3.8 3.8 0 1 0 -7.7 0M108.3 14.4m-2.8 0a2.8 2.8 0 1 0 5.7 0a2.8 2.8 0 1 0 -5.7 0M83.3 54.1m-3.8 0a3.8 3.8 0 1 0 7.6 0a3.8 3.8 0 1 0 -7.6 0M222.0 27.5m-3.2 0a3.2 3.2 0 1 0 6.3 0a3.2 3.2 0 1 0 -6.3 0M145.8 124.1m-3.2 0a3.2 3.2 0 1 0 6.4 0a3.2 3.2 0 1 0 -6.4 0M254.7 57.4m-3.0 0a3.0 3.0 0 1 0 5.9 0a3.0 3.0 0 1 0 -5.9 0M103.1 110.9m-3.8 0a3.8 3.8 0 1 0 7.6 0a3.8 3.8 0 1 0 -7.6 0M66.4 88.2m-3.1 0a3.1 3.1 0 1 0 6.2 0a3.1 3.1 0 1 0 -6.2 0M133.9 98.9m-3.8 0a3.8 3.8 0 1 0 7.6 0a3.8 3.8 0 1 0 -7.6 0M27.3 118.7m-3.3 0a3.3 3.3 0 1 0 6.7 0a3.3 3.3 0 1 0 -6.7 0M106.1 188.1m-3.2 0a3.2 3.2 0 1 0 6.5 0a3.2 3.2 0 1 0 -6.5 0M184.1 188.8m-3.8 0a3.8 3.8 0 1 0 7.5 0a3.8 3.8 0 1 0 -7.5 0M232.7 48.3m-3.5 0a3.5 3.5 0 1 0 7.1 0a3.5 3.5 0 1 0 -7.1 0M279.4 35.0m-3.5 0a3.5 3.5 0 1 0 7.1 0a3.5 3.5 0 1 0 -7.1 0M218.9 117.6m-3.2 0a3.2 3.2 0 1 0 6.5 0a3.2 3.2 0 1 0 -6.5 0M70.0 155.0m-3.9 0a3.9 3.9 0 1 0 7.7 0a3.9 3.9 0 1 0 -7.7 0M85.0 13.1m-3.2 0a3.2 3.2 0 1 0 6.4 0a3.2 3.2 0 1 0 -6.4 0M185.4 56.0m-3.8 0a3.8 3.8 0 1 0 7.7 0a3.8 3.8 0 1 0 -7.7 0M4.9 79.7m-3.1 0a3.1 3.1 0 1 0 6.1 0a3.1 3.1 0 1 0 -6.1 0M93.6 75.6m-3.0 0a3.0 3.0 0 1 0 6.0 0a3.0 3.0 0 1 0 -6.0 0M222.0 103.9m-3.0 0a3.0 3.0 0 1 0 5.9 0a3.0 3.0 0 1 0 -5.9 0M24.2 97.2m-3.6 0a3.6 3.6 0 1 0 7.1 0a3.6 3.6 0 1 0 -7.1 0M107.8 36.3m-2.9 0a2.9 2.9 0 1 0 5.7 0a2.9 2.9 0 1 0 -5.7 0M166.2 21.9m-3.7 0a3.7 3.7 0 1 0 7.5 0a3.7 3.7 0 1 0 -7.5 0M235.7 73.6m-2.8 0a2.8 2.8 0 1 0 5.6 0a2.8 2.8 0 1 0 -5.6 0M158.1 147.4m-2.9 0a2.9 2.9 0 1 0 5.9 0a2.9 2.9 0 1 0 -5.9 0M201.9 115.1m-3.0 0a3.0 3.0 0 1 0 6.0 0a3.0 3.0 0 1 0 -6.0 0M23.5 147.1m-3.0 0a3.0 3.0 0 1 0 5.9 0a3.0 3.0 0 1 0 -5.9 0M133.3 15.2m-2.9 0a2.9 2.9 0 1 0 5.8 0a2.9 2.9 0 1 0 -5.8 0M272.7 106.6m-3.3 0a3.3 3.3 0 1 0 6.5 0a3.3 3.3 0 1 0 -6.5 0M265.3 133.5m-3.5 0a3.5 3.5 0 1 0 7.0 0a3.5 3.5 0 1 0 -7.0 0M65.9 70.8m-3.8 0a3.8 3.8 0 1 0 7.6 0a3.8 3.8 0 1 0 -7.6 0M292.3 11.4m-3.0 0a3.0 3.0 0 1 0 6.0 0a3.0 3.0 0 1 0 -6.0 0M9.0 181.5m-3.2 0a3.2 3.2 0 1 0 6.4 0a3.2 3.2 0 1 0 -6.4 0M128.6 143.2m-3.7 0a3.7 3.7 0 1 0 7.5 0a3.7 3.7 0 1 0 -7.5 0M80.5 158.5m-3.1 0a3.1 3.1 0 1 0 6.2 0a3.1 3.1 0 1 0 -6.2 0M64.7 97.7m-2.9 0a2.9 2.9 0 1 0 5.9 0a2.9 2.9 0 1 0 -5.9 0M148.9 107.8m-3.2 0a3.2 3.2 0 1 0 6.5 0a3.2 3.2 0 1 0 -6.5 0M148.2 188.7m-3.6 0a3.6 3.6 0 1 0 7.2 0a3.6 3.6 0 1 0 -7.2 0M293.8 69.1m-3.0 0a3.0 3.0 0 1 0 6.0 0a3.0 3.0 0 1 0 -6.0 0M119.4 86.3m-3.2 0a3.2 3.2 0 1 0 6.3 0a3.2 3.2 0 1 0 -6.3 0M66.2 69.8m-3.6 0a3.6 3.6 0 1 0 7.1 0a3.6 3.6 0 1 0 -7.1 0M54.9 89.7m-3.7 0a3.7 3.7 0 1 0 7.4 0a3.7 3.7 0 1 0 -7.4 0M16.4 181.7m-3.7 0a3.7 3.7 0 1 0 7.4 0a3.7 3.7 0 1 0 -7.4 0M219.1 80.7m-3.2 0a3.2 3.2 0 1 0 6.5 0a3.2 3.2 0 1 0 -6.5 0M93.8 35.4m-2.8 0a2.8 2.8 0 1 0 5.6 0a2.8 2.8 0 1 0 -5.6 0M71.2 187.8m-3.9 0a3.9 3.9 0 1 0 7.8 0a3.9 3.9 0 1 0 -7.8 0M209.5 102.4m-3.5 0a3.5 3.5 0 1 0 6.9 0a3.5 3.5 0 1 0 -6.9 0M40.9 22.5m-3.3 0a3.3 3.3 0 1 0 6.7 0a3.3 3.3 0 1 0 -6.7 0M253.2 33.3m-3.8 0a3.8 3.8 0 1 0 7.7 0a3.8 3.8 0 1 0 -7.7 0M229.2 115.8m-3.0 0a3.0 3.0 0 1 0 6.1 0a3.0 3.0 0 1 0 -6.1 0M111.5 15.7m-2.8 0a2.8 2.8 0 1 0 5.6 0a2.8 2.8 0 1 0 -5.6 0M256.3 80.2m-2.9 0a2.9 2.9 0 1 0 5.8 0a2.9 2.9 0 1 0 -5.8 0M133.7 101.5m-3.1 0a3.1 3.1 0 1 0 6.3 0a3.1 3.1 0 1 0 -6.3 0M32.6 95.0m-3.7 0a3.7 3.7 0 1 0 7.4 0a3.7 3.7 0 1 0 -7.4 0M206.4 152.6m-3.0 0a3.0 3.0 0 1 0 6.1 0a3.0 3.0 0 1 0 -6.1 0M26.3 173.4m-2.9 0a2.9 2.9 0 1 0 5.8 0a2.9 2.9 0 1 0 -5.8 0M250.2 90.9m-3.6 0a3.6 3.6 0 1 0 7.3 0a3.6 3.6 0 1 0 -7.3 0M265.3 61.4m-3.3 0a3.3 3.3 0 1 0 6.7 0a3.3 3.3 0 1 0 -6.7 0M173.4 9.8m-3.1 0a3.1 3.1 0 1 0 6.2 0a3.1 3.1 0 1 0 -6.2 0M217.1 175.7m-2.9 0a2.9 2.9 0 1 0 5.7 0a2.9 2.9 0 1 0 -5.7 0M271.9 128.8m-3.1 0a3.1 3.1 0 1 0 6.3 0a3.1 3.1 0 1 0 -6.3 0M171.7 156.9m-3.2 0a3.2 3.2 0 1 0 6.4 0a3.2 3.2 0 1 0 -6.4 0M200.6 119.1m-3.0 0a3.0 3.0 0 1 0 6.1 0a3.0 3.0 0 1 0 -6.1 0M49.5 79.9m-3.5 0a3.5 3.5 0 1 0 7.0 0a3.5 3.5 0 1 0 -7.0 0M265.4 124.6m-2.8 0a2.8 2.8 0 1 0 5.6 0a2.8 2.8 0 1 0 -5.6 0M77.2 77.6m-3.7 0a3.7 3.7 0 1 0 7.4 0a3.7 3.7 0 1 0 -7.4 0M269.2 23.4m-3.2 0a3.2 3.2 0 1 0 6.4 0a3.2 3.2 0 1 0 -6.4 0" fill="#2c1a6a"/></svg>
<svg x="385.00" y="1063.00" width="299.00" height="195.00" viewBox="0 0 299.00 195.00" preserveAspectRatio="none"><rect width="299.00" height="195.00" fill="#4e32a7"/><filter id="oB4" filterUnits="userSpaceOnUse" x="-30" y="-30" width="359.0" height="255.0" color-interpolation-filters="sRGB"><feGaussianBlur in="SourceGraphic" stdDeviation="7" edgeMode="duplicate" result="c"/><feTurbulence type="fractalNoise" baseFrequency="0.100" numOctaves="2" seed="118"/><feColorMatrix type="matrix" values="-1.600 0 0 0 1.300 -1.600 0 0 0 1.300 -1.600 0 0 0 1.300 0 0 0 0 1" result="n"/><feComposite in="c" in2="n" operator="arithmetic" k2="1" k3="1" k4="-0.5" result="s"/><feComponentTransfer in="s"><feFuncR type="table" tableValues="0 0 0.05 0.95 1 1"/><feFuncG type="table" tableValues="0 0 0.05 0.95 1 1"/><feFuncB type="table" tableValues="0 0 0.05 0.95 1 1"/></feComponentTransfer><feColorMatrix type="matrix" values="-0.3490 0 0 0 0.6078 -0.3608 0 0 0 0.5020 -0.2588 0 0 0 0.8706 0 0 0 0 1"/></filter><g filter="url(#oB4)"><rect x="-30.3" y="-30.3" width="55.5" height="55.0" fill="#a8a8a8"/><rect x="24.6" y="-30.3" width="25.5" height="55.0" fill="#a8a8a8"/><rect x="49.5" y="-30.3" width="25.5" height="55.0" fill="#a8a8a8"/><rect x="74.5" y="-30.3" width="25.5" height="55.0" fill="#a8a8a8"/><rect x="99.4" y="-30.3" width="25.5" height="55.0" fill="#a8a8a8"/><rect x="124.3" y="-30.3" width="25.5" height="55.0" fill="#a8a8a8"/><rect x="149.2" y="-30.3" width="25.5" height="55.0" fill="#a8a8a8"/><rect x="174.1" y="-30.3" width="25.5" height="55.0" fill="#a8a8a8"/><rect x="199.0" y="-30.3" width="25.5" height="55.0" fill="#a8a8a8"/><rect x="223.9" y="-30.3" width="25.5" height="55.0" fill="#a8a8a8"/><rect x="248.9" y="-30.3" width="25.5" height="55.0" fill="#a8a8a8"/><rect x="273.8" y="-30.3" width="55.5" height="55.0" fill="#a8a8a8"/><rect x="-30.3" y="24.1" width="55.5" height="25.0" fill="#a8a8a8"/><rect x="24.6" y="24.1" width="25.5" height="25.0" fill="#a8a8a8"/><rect x="49.5" y="24.1" width="25.5" height="25.0" fill="#c1c1c1"/><rect x="74.5" y="24.1" width="25.5" height="25.0" fill="#a8a8a8"/><rect x="99.4" y="24.1" width="25.5" height="25.0" fill="#a8a8a8"/><rect x="124.3" y="24.1" width="25.5" height="25.0" fill="#a8a8a8"/><rect x="149.2" y="24.1" width="25.5" height="25.0" fill="#a8a8a8"/><rect x="174.1" y="24.1" width="25.5" height="25.0" fill="#a8a8a8"/><rect x="199.0" y="24.1" width="25.5" height="25.0" fill="#c1c1c1"/><rect x="223.9" y="24.1" width="25.5" height="25.0" fill="#a8a8a8"/><rect x="248.9" y="24.1" width="25.5" height="25.0" fill="#a8a8a8"/><rect x="273.8" y="24.1" width="55.5" height="25.0" fill="#a8a8a8"/><rect x="-30.3" y="48.5" width="55.5" height="25.0" fill="#a8a8a8"/><rect x="24.6" y="48.5" width="25.5" height="25.0" fill="#a8a8a8"/><rect x="49.5" y="48.5" width="25.5" height="25.0" fill="#a8a8a8"/><rect x="74.5" y="48.5" width="25.5" height="25.0" fill="#a8a8a8"/><rect x="99.4" y="48.5" width="25.5" height="25.0" fill="#929292"/><rect x="124.3" y="48.5" width="25.5" height="25.0" fill="#c1c1c1"/><rect x="149.2" y="48.5" width="25.5" height="25.0" fill="#a8a8a8"/><rect x="174.1" y="48.5" width="25.5" height="25.0" fill="#a8a8a8"/><rect x="199.0" y="48.5" width="25.5" height="25.0" fill="#a8a8a8"/><rect x="223.9" y="48.5" width="25.5" height="25.0" fill="#a8a8a8"/><rect x="248.9" y="48.5" width="25.5" height="25.0" fill="#a8a8a8"/><rect x="273.8" y="48.5" width="55.5" height="25.0" fill="#c1c1c1"/><rect x="-30.3" y="72.8" width="55.5" height="25.0" fill="#a8a8a8"/><rect x="24.6" y="72.8" width="25.5" height="25.0" fill="#a8a8a8"/><rect x="49.5" y="72.8" width="25.5" height="25.0" fill="#a8a8a8"/><rect x="74.5" y="72.8" width="25.5" height="25.0" fill="#a8a8a8"/><rect x="99.4" y="72.8" width="25.5" height="25.0" fill="#a8a8a8"/><rect x="124.3" y="72.8" width="25.5" height="25.0" fill="#a8a8a8"/><rect x="149.2" y="72.8" width="25.5" height="25.0" fill="#a8a8a8"/><rect x="174.1" y="72.8" width="25.5" height="25.0" fill="#a8a8a8"/><rect x="199.0" y="72.8" width="25.5" height="25.0" fill="#a8a8a8"/><rect x="223.9" y="72.8" width="25.5" height="25.0" fill="#a8a8a8"/><rect x="248.9" y="72.8" width="25.5" height="25.0" fill="#c1c1c1"/><rect x="273.8" y="72.8" width="55.5" height="25.0" fill="#929292"/><rect x="-30.3" y="97.2" width="55.5" height="25.0" fill="#a8a8a8"/><rect x="24.6" y="97.2" width="25.5" height="25.0" fill="#a8a8a8"/><rect x="49.5" y="97.2" width="25.5" height="25.0" fill="#929292"/><rect x="74.5" y="97.2" width="25.5" height="25.0" fill="#a8a8a8"/><rect x="99.4" y="97.2" width="25.5" height="25.0" fill="#a8a8a8"/><rect x="124.3" y="97.2" width="25.5" height="25.0" fill="#a8a8a8"/><rect x="149.2" y="97.2" width="25.5" height="25.0" fill="#a8a8a8"/><rect x="174.1" y="97.2" width="25.5" height="25.0" fill="#a8a8a8"/><rect x="199.0" y="97.2" width="25.5" height="25.0" fill="#a8a8a8"/><rect x="223.9" y="97.2" width="25.5" height="25.0" fill="#a8a8a8"/><rect x="248.9" y="97.2" width="25.5" height="25.0" fill="#a8a8a8"/><rect x="273.8" y="97.2" width="55.5" height="25.0" fill="#a8a8a8"/><rect x="-30.3" y="121.6" width="55.5" height="25.0" fill="#a8a8a8"/><rect x="24.6" y="121.6" width="25.5" height="25.0" fill="#a8a8a8"/><rect x="49.5" y="121.6" width="25.5" height="25.0" fill="#a8a8a8"/><rect x="74.5" y="121.6" width="25.5" height="25.0" fill="#a8a8a8"/><rect x="99.4" y="121.6" width="25.5" height="25.0" fill="#a8a8a8"/><rect x="124.3" y="121.6" width="25.5" height="25.0" fill="#a8a8a8"/><rect x="149.2" y="121.6" width="25.5" height="25.0" fill="#a8a8a8"/><rect x="174.1" y="121.6" width="25.5" height="25.0" fill="#a8a8a8"/><rect x="199.0" y="121.6" width="25.5" height="25.0" fill="#a8a8a8"/><rect x="223.9" y="121.6" width="25.5" height="25.0" fill="#c1c1c1"/><rect x="248.9" y="121.6" width="25.5" height="25.0" fill="#a8a8a8"/><rect x="273.8" y="121.6" width="55.5" height="25.0" fill="#a8a8a8"/><rect x="-30.3" y="145.9" width="55.5" height="25.0" fill="#a8a8a8"/><rect x="24.6" y="145.9" width="25.5" height="25.0" fill="#a8a8a8"/><rect x="49.5" y="145.9" width="25.5" height="25.0" fill="#a8a8a8"/><rect x="74.5" y="145.9" width="25.5" height="25.0" fill="#a8a8a8"/><rect x="99.4" y="145.9" width="25.5" height="25.0" fill="#a8a8a8"/><rect x="124.3" y="145.9" width="25.5" height="25.0" fill="#a8a8a8"/><rect x="149.2" y="145.9" width="25.5" height="25.0" fill="#a8a8a8"/><rect x="174.1" y="145.9" width="25.5" height="25.0" fill="#a8a8a8"/><rect x="199.0" y="145.9" width="25.5" height="25.0" fill="#a8a8a8"/><rect x="223.9" y="145.9" width="25.5" height="25.0" fill="#a8a8a8"/><rect x="248.9" y="145.9" width="25.5" height="25.0" fill="#929292"/><rect x="273.8" y="145.9" width="55.5" height="25.0" fill="#a8a8a8"/><rect x="-30.3" y="170.3" width="55.5" height="55.0" fill="#a8a8a8"/><rect x="24.6" y="170.3" width="25.5" height="55.0" fill="#a8a8a8"/><rect x="49.5" y="170.3" width="25.5" height="55.0" fill="#a8a8a8"/><rect x="74.5" y="170.3" width="25.5" height="55.0" fill="#a8a8a8"/><rect x="99.4" y="170.3" width="25.5" height="55.0" fill="#a8a8a8"/><rect x="124.3" y="170.3" width="25.5" height="55.0" fill="#a8a8a8"/><rect x="149.2" y="170.3" width="25.5" height="55.0" fill="#a8a8a8"/><rect x="174.1" y="170.3" width="25.5" height="55.0" fill="#a8a8a8"/><rect x="199.0" y="170.3" width="25.5" height="55.0" fill="#a8a8a8"/><rect x="223.9" y="170.3" width="25.5" height="55.0" fill="#a8a8a8"/><rect x="248.9" y="170.3" width="25.5" height="55.0" fill="#a8a8a8"/><rect x="273.8" y="170.3" width="55.5" height="55.0" fill="#a8a8a8"/></g><path d="M277.8 138.6m-3.0 0a3.0 3.0 0 1 0 6.0 0a3.0 3.0 0 1 0 -6.0 0M209.6 138.4m-3.0 0a3.0 3.0 0 1 0 6.0 0a3.0 3.0 0 1 0 -6.0 0M175.2 147.5m-3.0 0a3.0 3.0 0 1 0 6.0 0a3.0 3.0 0 1 0 -6.0 0M248.0 50.7m-3.0 0a3.0 3.0 0 1 0 6.0 0a3.0 3.0 0 1 0 -6.0 0M227.0 66.8m-3.0 0a3.0 3.0 0 1 0 6.0 0a3.0 3.0 0 1 0 -6.0 0M133.1 145.1m-3.0 0a3.0 3.0 0 1 0 6.0 0a3.0 3.0 0 1 0 -6.0 0M281.6 50.9m-3.0 0a3.0 3.0 0 1 0 6.0 0a3.0 3.0 0 1 0 -6.0 0M288.3 190.3m-3.0 0a3.0 3.0 0 1 0 6.0 0a3.0 3.0 0 1 0 -6.0 0M147.7 166.2m-3.0 0a3.0 3.0 0 1 0 6.0 0a3.0 3.0 0 1 0 -6.0 0M209.4 135.5m-3.0 0a3.0 3.0 0 1 0 6.0 0a3.0 3.0 0 1 0 -6.0 0M35.9 12.4m-3.0 0a3.0 3.0 0 1 0 6.0 0a3.0 3.0 0 1 0 -6.0 0M61.1 23.4m-3.0 0a3.0 3.0 0 1 0 6.0 0a3.0 3.0 0 1 0 -6.0 0M186.2 188.0m-3.0 0a3.0 3.0 0 1 0 6.0 0a3.0 3.0 0 1 0 -6.0 0M47.8 123.6m-3.0 0a3.0 3.0 0 1 0 6.0 0a3.0 3.0 0 1 0 -6.0 0M160.0 178.7m-3.0 0a3.0 3.0 0 1 0 6.0 0a3.0 3.0 0 1 0 -6.0 0M219.8 96.9m-3.0 0a3.0 3.0 0 1 0 6.0 0a3.0 3.0 0 1 0 -6.0 0M208.6 18.5m-3.0 0a3.0 3.0 0 1 0 6.0 0a3.0 3.0 0 1 0 -6.0 0M170.1 175.8m-3.0 0a3.0 3.0 0 1 0 6.0 0a3.0 3.0 0 1 0 -6.0 0M104.6 189.4m-3.0 0a3.0 3.0 0 1 0 6.0 0a3.0 3.0 0 1 0 -6.0 0M274.4 59.4m-3.0 0a3.0 3.0 0 1 0 6.0 0a3.0 3.0 0 1 0 -6.0 0M12.3 138.6m-3.0 0a3.0 3.0 0 1 0 6.0 0a3.0 3.0 0 1 0 -6.0 0M235.1 26.7m-3.0 0a3.0 3.0 0 1 0 6.0 0a3.0 3.0 0 1 0 -6.0 0M228.2 131.8m-3.0 0a3.0 3.0 0 1 0 6.0 0a3.0 3.0 0 1 0 -6.0 0M105.6 189.5m-3.0 0a3.0 3.0 0 1 0 6.0 0a3.0 3.0 0 1 0 -6.0 0M142.3 84.7m-3.0 0a3.0 3.0 0 1 0 6.0 0a3.0 3.0 0 1 0 -6.0 0" fill="#e8e2f4" stroke="#6a6488" stroke-width="1.2" opacity="0.85"/><path d="M248.9 144.0m-3.7 0a3.7 3.7 0 1 0 7.5 0a3.7 3.7 0 1 0 -7.5 0M130.3 79.9m-3.6 0a3.6 3.6 0 1 0 7.3 0a3.6 3.6 0 1 0 -7.3 0M233.8 132.1m-2.8 0a2.8 2.8 0 1 0 5.7 0a2.8 2.8 0 1 0 -5.7 0M18.7 174.1m-3.4 0a3.4 3.4 0 1 0 6.9 0a3.4 3.4 0 1 0 -6.9 0M74.6 35.6m-3.5 0a3.5 3.5 0 1 0 7.1 0a3.5 3.5 0 1 0 -7.1 0M272.8 144.1m-3.8 0a3.8 3.8 0 1 0 7.5 0a3.8 3.8 0 1 0 -7.5 0M159.1 18.5m-2.9 0a2.9 2.9 0 1 0 5.9 0a2.9 2.9 0 1 0 -5.9 0M272.0 44.7m-3.6 0a3.6 3.6 0 1 0 7.1 0a3.6 3.6 0 1 0 -7.1 0M248.8 18.7m-3.7 0a3.7 3.7 0 1 0 7.4 0a3.7 3.7 0 1 0 -7.4 0M223.3 116.9m-2.8 0a2.8 2.8 0 1 0 5.6 0a2.8 2.8 0 1 0 -5.6 0M57.8 127.3m-2.9 0a2.9 2.9 0 1 0 5.8 0a2.9 2.9 0 1 0 -5.8 0M155.7 77.9m-3.2 0a3.2 3.2 0 1 0 6.5 0a3.2 3.2 0 1 0 -6.5 0M263.1 11.6m-3.3 0a3.3 3.3 0 1 0 6.5 0a3.3 3.3 0 1 0 -6.5 0M243.1 135.6m-3.7 0a3.7 3.7 0 1 0 7.3 0a3.7 3.7 0 1 0 -7.3 0M26.8 31.9m-3.6 0a3.6 3.6 0 1 0 7.2 0a3.6 3.6 0 1 0 -7.2 0M7.7 158.9m-3.6 0a3.6 3.6 0 1 0 7.1 0a3.6 3.6 0 1 0 -7.1 0M121.8 115.9m-2.8 0a2.8 2.8 0 1 0 5.7 0a2.8 2.8 0 1 0 -5.7 0M179.8 17.9m-3.8 0a3.8 3.8 0 1 0 7.6 0a3.8 3.8 0 1 0 -7.6 0M20.1 166.7m-2.9 0a2.9 2.9 0 1 0 5.8 0a2.9 2.9 0 1 0 -5.8 0M278.8 7.1m-3.0 0a3.0 3.0 0 1 0 6.0 0a3.0 3.0 0 1 0 -6.0 0M201.5 94.1m-3.4 0a3.4 3.4 0 1 0 6.8 0a3.4 3.4 0 1 0 -6.8 0M6.5 125.6m-3.8 0a3.8 3.8 0 1 0 7.5 0a3.8 3.8 0 1 0 -7.5 0M18.6 133.0m-3.0 0a3.0 3.0 0 1 0 6.0 0a3.0 3.0 0 1 0 -6.0 0M141.1 143.1m-3.1 0a3.1 3.1 0 1 0 6.1 0a3.1 3.1 0 1 0 -6.1 0M71.9 15.7m-2.8 0a2.8 2.8 0 1 0 5.6 0a2.8 2.8 0 1 0 -5.6 0M81.5 64.1m-3.5 0a3.5 3.5 0 1 0 6.9 0a3.5 3.5 0 1 0 -6.9 0M200.4 32.8m-3.5 0a3.5 3.5 0 1 0 7.0 0a3.5 3.5 0 1 0 -7.0 0M241.5 177.3m-3.1 0a3.1 3.1 0 1 0 6.3 0a3.1 3.1 0 1 0 -6.3 0M283.6 111.2m-2.9 0a2.9 2.9 0 1 0 5.9 0a2.9 2.9 0 1 0 -5.9 0M207.8 117.9m-3.0 0a3.0 3.0 0 1 0 5.9 0a3.0 3.0 0 1 0 -5.9 0M63.8 40.9m-3.7 0a3.7 3.7 0 1 0 7.5 0a3.7 3.7 0 1 0 -7.5 0M108.1 13.3m-3.3 0a3.3 3.3 0 1 0 6.5 0a3.3 3.3 0 1 0 -6.5 0M216.0 53.9m-3.1 0a3.1 3.1 0 1 0 6.2 0a3.1 3.1 0 1 0 -6.2 0M116.2 62.9m-3.1 0a3.1 3.1 0 1 0 6.2 0a3.1 3.1 0 1 0 -6.2 0M178.9 63.6m-3.5 0a3.5 3.5 0 1 0 7.0 0a3.5 3.5 0 1 0 -7.0 0M44.5 17.6m-3.9 0a3.9 3.9 0 1 0 7.8 0a3.9 3.9 0 1 0 -7.8 0M205.3 170.2m-3.1 0a3.1 3.1 0 1 0 6.3 0a3.1 3.1 0 1 0 -6.3 0M281.9 38.5m-3.3 0a3.3 3.3 0 1 0 6.5 0a3.3 3.3 0 1 0 -6.5 0M132.7 139.4m-2.9 0a2.9 2.9 0 1 0 5.9 0a2.9 2.9 0 1 0 -5.9 0M118.4 89.0m-3.8 0a3.8 3.8 0 1 0 7.5 0a3.8 3.8 0 1 0 -7.5 0M109.2 139.0m-3.6 0a3.6 3.6 0 1 0 7.1 0a3.6 3.6 0 1 0 -7.1 0M55.6 73.9m-3.8 0a3.8 3.8 0 1 0 7.5 0a3.8 3.8 0 1 0 -7.5 0M81.0 67.6m-3.8 0a3.8 3.8 0 1 0 7.6 0a3.8 3.8 0 1 0 -7.6 0M10.1 134.0m-3.0 0a3.0 3.0 0 1 0 6.0 0a3.0 3.0 0 1 0 -6.0 0M263.0 177.6m-3.4 0a3.4 3.4 0 1 0 6.9 0a3.4 3.4 0 1 0 -6.9 0M79.5 76.1m-3.7 0a3.7 3.7 0 1 0 7.5 0a3.7 3.7 0 1 0 -7.5 0M100.8 35.3m-3.0 0a3.0 3.0 0 1 0 6.0 0a3.0 3.0 0 1 0 -6.0 0M50.1 74.6m-3.3 0a3.3 3.3 0 1 0 6.7 0a3.3 3.3 0 1 0 -6.7 0M218.8 16.1m-3.7 0a3.7 3.7 0 1 0 7.4 0a3.7 3.7 0 1 0 -7.4 0M240.6 64.3m-2.8 0a2.8 2.8 0 1 0 5.7 0a2.8 2.8 0 1 0 -5.7 0M196.8 99.4m-3.8 0a3.8 3.8 0 1 0 7.6 0a3.8 3.8 0 1 0 -7.6 0M281.8 104.5m-3.7 0a3.7 3.7 0 1 0 7.5 0a3.7 3.7 0 1 0 -7.5 0M202.7 97.1m-3.3 0a3.3 3.3 0 1 0 6.6 0a3.3 3.3 0 1 0 -6.6 0M284.1 20.3m-3.6 0a3.6 3.6 0 1 0 7.2 0a3.6 3.6 0 1 0 -7.2 0M269.6 163.1m-3.9 0a3.9 3.9 0 1 0 7.8 0a3.9 3.9 0 1 0 -7.8 0M197.9 55.4m-3.5 0a3.5 3.5 0 1 0 7.0 0a3.5 3.5 0 1 0 -7.0 0M193.2 30.1m-3.8 0a3.8 3.8 0 1 0 7.5 0a3.8 3.8 0 1 0 -7.5 0M23.3 139.0m-3.7 0a3.7 3.7 0 1 0 7.4 0a3.7 3.7 0 1 0 -7.4 0M204.3 33.9m-3.2 0a3.2 3.2 0 1 0 6.5 0a3.2 3.2 0 1 0 -6.5 0M138.1 180.1m-3.3 0a3.3 3.3 0 1 0 6.5 0a3.3 3.3 0 1 0 -6.5 0M274.5 38.7m-3.8 0a3.8 3.8 0 1 0 7.6 0a3.8 3.8 0 1 0 -7.6 0M48.2 49.5m-3.2 0a3.2 3.2 0 1 0 6.4 0a3.2 3.2 0 1 0 -6.4 0M25.6 123.0m-2.9 0a2.9 2.9 0 1 0 5.7 0a2.9 2.9 0 1 0 -5.7 0M229.1 76.5m-3.8 0a3.8 3.8 0 1 0 7.5 0a3.8 3.8 0 1 0 -7.5 0M79.7 183.4m-3.4 0a3.4 3.4 0 1 0 6.7 0a3.4 3.4 0 1 0 -6.7 0M53.7 29.0m-3.3 0a3.3 3.3 0 1 0 6.6 0a3.3 3.3 0 1 0 -6.6 0M73.2 40.1m-3.2 0a3.2 3.2 0 1 0 6.5 0a3.2 3.2 0 1 0 -6.5 0M72.0 44.4m-3.6 0a3.6 3.6 0 1 0 7.2 0a3.6 3.6 0 1 0 -7.2 0M92.6 126.2m-3.8 0a3.8 3.8 0 1 0 7.5 0a3.8 3.8 0 1 0 -7.5 0M214.2 147.2m-3.8 0a3.8 3.8 0 1 0 7.6 0a3.8 3.8 0 1 0 -7.6 0M124.1 125.8m-3.4 0a3.4 3.4 0 1 0 6.9 0a3.4 3.4 0 1 0 -6.9 0M240.6 147.9m-2.9 0a2.9 2.9 0 1 0 5.8 0a2.9 2.9 0 1 0 -5.8 0M111.1 188.7m-3.6 0a3.6 3.6 0 1 0 7.3 0a3.6 3.6 0 1 0 -7.3 0M155.5 66.7m-3.7 0a3.7 3.7 0 1 0 7.4 0a3.7 3.7 0 1 0 -7.4 0M104.6 135.3m-3.8 0a3.8 3.8 0 1 0 7.6 0a3.8 3.8 0 1 0 -7.6 0M205.4 61.6m-3.2 0a3.2 3.2 0 1 0 6.5 0a3.2 3.2 0 1 0 -6.5 0M134.5 95.2m-3.6 0a3.6 3.6 0 1 0 7.2 0a3.6 3.6 0 1 0 -7.2 0M225.3 188.2m-3.8 0a3.8 3.8 0 1 0 7.6 0a3.8 3.8 0 1 0 -7.6 0M43.2 68.7m-3.6 0a3.6 3.6 0 1 0 7.2 0a3.6 3.6 0 1 0 -7.2 0M206.9 149.3m-3.1 0a3.1 3.1 0 1 0 6.2 0a3.1 3.1 0 1 0 -6.2 0M169.9 139.5m-3.1 0a3.1 3.1 0 1 0 6.2 0a3.1 3.1 0 1 0 -6.2 0M83.8 48.6m-3.6 0a3.6 3.6 0 1 0 7.1 0a3.6 3.6 0 1 0 -7.1 0M182.0 49.2m-3.3 0a3.3 3.3 0 1 0 6.5 0a3.3 3.3 0 1 0 -6.5 0M77.4 64.0m-2.9 0a2.9 2.9 0 1 0 5.7 0a2.9 2.9 0 1 0 -5.7 0M174.1 33.9m-3.5 0a3.5 3.5 0 1 0 7.1 0a3.5 3.5 0 1 0 -7.1 0M145.7 12.7m-3.2 0a3.2 3.2 0 1 0 6.3 0a3.2 3.2 0 1 0 -6.3 0M17.3 158.6m-3.7 0a3.7 3.7 0 1 0 7.4 0a3.7 3.7 0 1 0 -7.4 0M59.3 124.0m-3.2 0a3.2 3.2 0 1 0 6.4 0a3.2 3.2 0 1 0 -6.4 0M130.3 164.1m-3.0 0a3.0 3.0 0 1 0 6.0 0a3.0 3.0 0 1 0 -6.0 0M202.9 63.7m-3.9 0a3.9 3.9 0 1 0 7.7 0a3.9 3.9 0 1 0 -7.7 0" fill="#1e0c50"/></svg>
<svg x="772.00" y="852.00" width="299.30" height="195.30" viewBox="0 0 299.30 195.30" preserveAspectRatio="none"><rect width="299.30" height="195.30" fill="#a18cd2"/><filter id="oB5" filterUnits="userSpaceOnUse" x="-30" y="-30" width="359.3" height="255.3" color-interpolation-filters="sRGB"><feGaussianBlur in="SourceGraphic" stdDeviation="7" edgeMode="duplicate" result="c"/><feTurbulence type="fractalNoise" baseFrequency="0.045" numOctaves="2" seed="119"/><feColorMatrix type="matrix" values="-1.600 0 0 0 1.300 -1.600 0 0 0 1.300 -1.600 0 0 0 1.300 0 0 0 0 1" result="n"/><feComposite in="c" in2="n" operator="arithmetic" k2="1" k3="1" k4="-0.5" result="s"/><feComponentTransfer in="s"><feFuncR type="table" tableValues="0 0 0.05 0.95 1 1"/><feFuncG type="table" tableValues="0 0 0.05 0.95 1 1"/><feFuncB type="table" tableValues="0 0 0.05 0.95 1 1"/></feComponentTransfer><feColorMatrix type="matrix" values="-0.3412 0 0 0 0.7922 -0.4549 0 0 0 0.7608 -0.1333 0 0 0 0.8863 0 0 0 0 1"/></filter><g filter="url(#oB5)"><rect x="-30.3" y="-30.3" width="55.5" height="55.0" fill="#808080"/><rect x="24.6" y="-30.3" width="25.5" height="55.0" fill="#535353"/><rect x="49.6" y="-30.3" width="25.5" height="55.0" fill="#808080"/><rect x="74.5" y="-30.3" width="25.5" height="55.0" fill="#a5a5a5"/><rect x="99.5" y="-30.3" width="25.5" height="55.0" fill="#a5a5a5"/><rect x="124.4" y="-30.3" width="25.5" height="55.0" fill="#535353"/><rect x="149.3" y="-30.3" width="25.5" height="55.0" fill="#808080"/><rect x="174.3" y="-30.3" width="25.5" height="55.0" fill="#535353"/><rect x="199.2" y="-30.3" width="25.5" height="55.0" fill="#808080"/><rect x="224.2" y="-30.3" width="25.5" height="55.0" fill="#a5a5a5"/><rect x="249.1" y="-30.3" width="25.5" height="55.0" fill="#808080"/><rect x="274.1" y="-30.3" width="55.5" height="55.0" fill="#535353"/><rect x="-30.3" y="24.1" width="55.5" height="25.0" fill="#808080"/><rect x="24.6" y="24.1" width="25.5" height="25.0" fill="#808080"/><rect x="49.6" y="24.1" width="25.5" height="25.0" fill="#a5a5a5"/><rect x="74.5" y="24.1" width="25.5" height="25.0" fill="#808080"/><rect x="99.5" y="24.1" width="25.5" height="25.0" fill="#535353"/><rect x="124.4" y="24.1" width="25.5" height="25.0" fill="#535353"/><rect x="149.3" y="24.1" width="25.5" height="25.0" fill="#a5a5a5"/><rect x="174.3" y="24.1" width="25.5" height="25.0" fill="#808080"/><rect x="199.2" y="24.1" width="25.5" height="25.0" fill="#808080"/><rect x="224.2" y="24.1" width="25.5" height="25.0" fill="#808080"/><rect x="249.1" y="24.1" width="25.5" height="25.0" fill="#808080"/><rect x="274.1" y="24.1" width="55.5" height="25.0" fill="#808080"/><rect x="-30.3" y="48.5" width="55.5" height="25.0" fill="#a5a5a5"/><rect x="24.6" y="48.5" width="25.5" height="25.0" fill="#a5a5a5"/><rect x="49.6" y="48.5" width="25.5" height="25.0" fill="#535353"/><rect x="74.5" y="48.5" width="25.5" height="25.0" fill="#535353"/><rect x="99.5" y="48.5" width="25.5" height="25.0" fill="#808080"/><rect x="124.4" y="48.5" width="25.5" height="25.0" fill="#535353"/><rect x="149.3" y="48.5" width="25.5" height="25.0" fill="#808080"/><rect x="174.3" y="48.5" width="25.5" height="25.0" fill="#a5a5a5"/><rect x="199.2" y="48.5" width="25.5" height="25.0" fill="#a5a5a5"/><rect x="224.2" y="48.5" width="25.5" height="25.0" fill="#808080"/><rect x="249.1" y="48.5" width="25.5" height="25.0" fill="#535353"/><rect x="274.1" y="48.5" width="55.5" height="25.0" fill="#808080"/><rect x="-30.3" y="72.9" width="55.5" height="25.0" fill="#a5a5a5"/><rect x="24.6" y="72.9" width="25.5" height="25.0" fill="#808080"/><rect x="49.6" y="72.9" width="25.5" height="25.0" fill="#808080"/><rect x="74.5" y="72.9" width="25.5" height="25.0" fill="#535353"/><rect x="99.5" y="72.9" width="25.5" height="25.0" fill="#a5a5a5"/><rect x="124.4" y="72.9" width="25.5" height="25.0" fill="#808080"/><rect x="149.3" y="72.9" width="25.5" height="25.0" fill="#808080"/><rect x="174.3" y="72.9" width="25.5" height="25.0" fill="#a5a5a5"/><rect x="199.2" y="72.9" width="25.5" height="25.0" fill="#808080"/><rect x="224.2" y="72.9" width="25.5" height="25.0" fill="#535353"/><rect x="249.1" y="72.9" width="25.5" height="25.0" fill="#808080"/><rect x="274.1" y="72.9" width="55.5" height="25.0" fill="#808080"/><rect x="-30.3" y="97.3" width="55.5" height="25.0" fill="#808080"/><rect x="24.6" y="97.3" width="25.5" height="25.0" fill="#a5a5a5"/><rect x="49.6" y="97.3" width="25.5" height="25.0" fill="#a5a5a5"/><rect x="74.5" y="97.3" width="25.5" height="25.0" fill="#808080"/><rect x="99.5" y="97.3" width="25.5" height="25.0" fill="#535353"/><rect x="124.4" y="97.3" width="25.5" height="25.0" fill="#808080"/><rect x="149.3" y="97.3" width="25.5" height="25.0" fill="#808080"/><rect x="174.3" y="97.3" width="25.5" height="25.0" fill="#808080"/><rect x="199.2" y="97.3" width="25.5" height="25.0" fill="#535353"/><rect x="224.2" y="97.3" width="25.5" height="25.0" fill="#535353"/><rect x="249.1" y="97.3" width="25.5" height="25.0" fill="#808080"/><rect x="274.1" y="97.3" width="55.5" height="25.0" fill="#808080"/><rect x="-30.3" y="121.8" width="55.5" height="25.0" fill="#808080"/><rect x="24.6" y="121.8" width="25.5" height="25.0" fill="#a5a5a5"/><rect x="49.6" y="121.8" width="25.5" height="25.0" fill="#808080"/><rect x="74.5" y="121.8" width="25.5" height="25.0" fill="#808080"/><rect x="99.5" y="121.8" width="25.5" height="25.0" fill="#808080"/><rect x="124.4" y="121.8" width="25.5" height="25.0" fill="#808080"/><rect x="149.3" y="121.8" width="25.5" height="25.0" fill="#535353"/><rect x="174.3" y="121.8" width="25.5" height="25.0" fill="#535353"/><rect x="199.2" y="121.8" width="25.5" height="25.0" fill="#535353"/><rect x="224.2" y="121.8" width="25.5" height="25.0" fill="#808080"/><rect x="249.1" y="121.8" width="25.5" height="25.0" fill="#a5a5a5"/><rect x="274.1" y="121.8" width="55.5" height="25.0" fill="#808080"/><rect x="-30.3" y="146.2" width="55.5" height="25.0" fill="#808080"/><rect x="24.6" y="146.2" width="25.5" height="25.0" fill="#a5a5a5"/><rect x="49.6" y="146.2" width="25.5" height="25.0" fill="#a5a5a5"/><rect x="74.5" y="146.2" width="25.5" height="25.0" fill="#808080"/><rect x="99.5" y="146.2" width="25.5" height="25.0" fill="#808080"/><rect x="124.4" y="146.2" width="25.5" height="25.0" fill="#808080"/><rect x="149.3" y="146.2" width="25.5" height="25.0" fill="#535353"/><rect x="174.3" y="146.2" width="25.5" height="25.0" fill="#535353"/><rect x="199.2" y="146.2" width="25.5" height="25.0" fill="#535353"/><rect x="224.2" y="146.2" width="25.5" height="25.0" fill="#808080"/><rect x="249.1" y="146.2" width="25.5" height="25.0" fill="#808080"/><rect x="274.1" y="146.2" width="55.5" height="25.0" fill="#808080"/><rect x="-30.3" y="170.6" width="55.5" height="55.0" fill="#808080"/><rect x="24.6" y="170.6" width="25.5" height="55.0" fill="#808080"/><rect x="49.6" y="170.6" width="25.5" height="55.0" fill="#808080"/><rect x="74.5" y="170.6" width="25.5" height="55.0" fill="#808080"/><rect x="99.5" y="170.6" width="25.5" height="55.0" fill="#808080"/><rect x="124.4" y="170.6" width="25.5" height="55.0" fill="#808080"/><rect x="149.3" y="170.6" width="25.5" height="55.0" fill="#535353"/><rect x="174.3" y="170.6" width="25.5" height="55.0" fill="#535353"/><rect x="199.2" y="170.6" width="25.5" height="55.0" fill="#535353"/><rect x="224.2" y="170.6" width="25.5" height="55.0" fill="#535353"/><rect x="249.1" y="170.6" width="25.5" height="55.0" fill="#808080"/><rect x="274.1" y="170.6" width="55.5" height="55.0" fill="#535353"/></g><path d="M282.5 181.1m-3.0 0a3.0 3.0 0 1 0 6.0 0a3.0 3.0 0 1 0 -6.0 0M25.9 28.5m-3.0 0a3.0 3.0 0 1 0 6.0 0a3.0 3.0 0 1 0 -6.0 0M137.0 30.6m-3.0 0a3.0 3.0 0 1 0 6.0 0a3.0 3.0 0 1 0 -6.0 0M132.5 72.0m-3.0 0a3.0 3.0 0 1 0 6.0 0a3.0 3.0 0 1 0 -6.0 0" fill="#e8e2f4" stroke="#6a6488" stroke-width="1.2" opacity="0.85"/><path d="M72.8 83.8m-3.0 0a3.0 3.0 0 1 0 5.9 0a3.0 3.0 0 1 0 -5.9 0M123.1 37.6m-3.0 0a3.0 3.0 0 1 0 5.9 0a3.0 3.0 0 1 0 -5.9 0M184.5 41.8m-3.4 0a3.4 3.4 0 1 0 6.8 0a3.4 3.4 0 1 0 -6.8 0M184.1 175.1m-3.2 0a3.2 3.2 0 1 0 6.4 0a3.2 3.2 0 1 0 -6.4 0M295.0 189.4m-2.9 0a2.9 2.9 0 1 0 5.7 0a2.9 2.9 0 1 0 -5.7 0M92.2 106.9m-2.8 0a2.8 2.8 0 1 0 5.7 0a2.8 2.8 0 1 0 -5.7 0M194.1 108.8m-2.9 0a2.9 2.9 0 1 0 5.9 0a2.9 2.9 0 1 0 -5.9 0M158.2 136.2m-3.5 0a3.5 3.5 0 1 0 7.0 0a3.5 3.5 0 1 0 -7.0 0M267.3 179.3m-3.0 0a3.0 3.0 0 1 0 6.0 0a3.0 3.0 0 1 0 -6.0 0M275.6 27.6m-3.6 0a3.6 3.6 0 1 0 7.2 0a3.6 3.6 0 1 0 -7.2 0M54.7 134.1m-3.3 0a3.3 3.3 0 1 0 6.6 0a3.3 3.3 0 1 0 -6.6 0M18.1 52.6m-3.1 0a3.1 3.1 0 1 0 6.2 0a3.1 3.1 0 1 0 -6.2 0M4.7 128.6m-3.7 0a3.7 3.7 0 1 0 7.3 0a3.7 3.7 0 1 0 -7.3 0M181.8 51.2m-3.4 0a3.4 3.4 0 1 0 6.7 0a3.4 3.4 0 1 0 -6.7 0M284.7 129.0m-2.8 0a2.8 2.8 0 1 0 5.7 0a2.8 2.8 0 1 0 -5.7 0M215.1 89.5m-3.4 0a3.4 3.4 0 1 0 6.9 0a3.4 3.4 0 1 0 -6.9 0M233.5 12.1m-3.7 0a3.7 3.7 0 1 0 7.3 0a3.7 3.7 0 1 0 -7.3 0M50.6 143.2m-3.6 0a3.6 3.6 0 1 0 7.2 0a3.6 3.6 0 1 0 -7.2 0M5.9 54.4m-3.9 0a3.9 3.9 0 1 0 7.7 0a3.9 3.9 0 1 0 -7.7 0M280.4 130.6m-3.7 0a3.7 3.7 0 1 0 7.4 0a3.7 3.7 0 1 0 -7.4 0M77.3 118.1m-3.0 0a3.0 3.0 0 1 0 6.0 0a3.0 3.0 0 1 0 -6.0 0M210.3 45.0m-3.8 0a3.8 3.8 0 1 0 7.7 0a3.8 3.8 0 1 0 -7.7 0M249.2 76.5m-3.2 0a3.2 3.2 0 1 0 6.3 0a3.2 3.2 0 1 0 -6.3 0M117.0 160.7m-3.8 0a3.8 3.8 0 1 0 7.7 0a3.8 3.8 0 1 0 -7.7 0M31.9 91.4m-3.4 0a3.4 3.4 0 1 0 6.8 0a3.4 3.4 0 1 0 -6.8 0M268.3 144.3m-2.9 0a2.9 2.9 0 1 0 5.8 0a2.9 2.9 0 1 0 -5.8 0M237.7 26.7m-3.0 0a3.0 3.0 0 1 0 6.0 0a3.0 3.0 0 1 0 -6.0 0M146.2 31.4m-3.1 0a3.1 3.1 0 1 0 6.2 0a3.1 3.1 0 1 0 -6.2 0M44.0 87.0m-3.7 0a3.7 3.7 0 1 0 7.4 0a3.7 3.7 0 1 0 -7.4 0M244.7 126.1m-3.3 0a3.3 3.3 0 1 0 6.7 0a3.3 3.3 0 1 0 -6.7 0M92.4 118.5m-3.8 0a3.8 3.8 0 1 0 7.5 0a3.8 3.8 0 1 0 -7.5 0M55.1 51.6m-2.8 0a2.8 2.8 0 1 0 5.6 0a2.8 2.8 0 1 0 -5.6 0M226.4 169.5m-3.6 0a3.6 3.6 0 1 0 7.3 0a3.6 3.6 0 1 0 -7.3 0M149.6 169.9m-3.4 0a3.4 3.4 0 1 0 6.7 0a3.4 3.4 0 1 0 -6.7 0M21.3 51.9m-3.6 0a3.6 3.6 0 1 0 7.1 0a3.6 3.6 0 1 0 -7.1 0M98.0 71.0m-2.9 0a2.9 2.9 0 1 0 5.9 0a2.9 2.9 0 1 0 -5.9 0M245.0 130.4m-3.4 0a3.4 3.4 0 1 0 6.8 0a3.4 3.4 0 1 0 -6.8 0M79.7 123.5m-3.4 0a3.4 3.4 0 1 0 6.8 0a3.4 3.4 0 1 0 -6.8 0M80.9 124.6m-3.4 0a3.4 3.4 0 1 0 6.9 0a3.4 3.4 0 1 0 -6.9 0M130.4 112.4m-3.5 0a3.5 3.5 0 1 0 7.1 0a3.5 3.5 0 1 0 -7.1 0M170.8 155.3m-3.1 0a3.1 3.1 0 1 0 6.2 0a3.1 3.1 0 1 0 -6.2 0M111.5 136.1m-3.0 0a3.0 3.0 0 1 0 6.0 0a3.0 3.0 0 1 0 -6.0 0M90.1 134.9m-3.8 0a3.8 3.8 0 1 0 7.5 0a3.8 3.8 0 1 0 -7.5 0M32.6 79.6m-3.3 0a3.3 3.3 0 1 0 6.6 0a3.3 3.3 0 1 0 -6.6 0M4.6 39.9m-3.3 0a3.3 3.3 0 1 0 6.6 0a3.3 3.3 0 1 0 -6.6 0M103.7 175.5m-3.3 0a3.3 3.3 0 1 0 6.6 0a3.3 3.3 0 1 0 -6.6 0M71.0 134.3m-3.8 0a3.8 3.8 0 1 0 7.5 0a3.8 3.8 0 1 0 -7.5 0M193.5 55.0m-3.5 0a3.5 3.5 0 1 0 6.9 0a3.5 3.5 0 1 0 -6.9 0M153.8 27.2m-3.6 0a3.6 3.6 0 1 0 7.2 0a3.6 3.6 0 1 0 -7.2 0M140.5 25.4m-3.7 0a3.7 3.7 0 1 0 7.5 0a3.7 3.7 0 1 0 -7.5 0M232.9 159.0m-3.0 0a3.0 3.0 0 1 0 6.0 0a3.0 3.0 0 1 0 -6.0 0M123.5 116.9m-2.8 0a2.8 2.8 0 1 0 5.6 0a2.8 2.8 0 1 0 -5.6 0M265.3 158.6m-3.4 0a3.4 3.4 0 1 0 6.8 0a3.4 3.4 0 1 0 -6.8 0M288.2 104.6m-2.9 0a2.9 2.9 0 1 0 5.9 0a2.9 2.9 0 1 0 -5.9 0M151.8 12.1m-3.8 0a3.8 3.8 0 1 0 7.5 0a3.8 3.8 0 1 0 -7.5 0M201.6 46.1m-3.6 0a3.6 3.6 0 1 0 7.1 0a3.6 3.6 0 1 0 -7.1 0M11.7 93.8m-3.7 0a3.7 3.7 0 1 0 7.5 0a3.7 3.7 0 1 0 -7.5 0M253.3 62.2m-3.1 0a3.1 3.1 0 1 0 6.1 0a3.1 3.1 0 1 0 -6.1 0M146.1 168.2m-3.6 0a3.6 3.6 0 1 0 7.2 0a3.6 3.6 0 1 0 -7.2 0M287.9 164.9m-3.5 0a3.5 3.5 0 1 0 7.1 0a3.5 3.5 0 1 0 -7.1 0M121.0 15.3m-3.6 0a3.6 3.6 0 1 0 7.3 0a3.6 3.6 0 1 0 -7.3 0M159.2 98.0m-3.5 0a3.5 3.5 0 1 0 7.1 0a3.5 3.5 0 1 0 -7.1 0M153.9 33.4m-3.7 0a3.7 3.7 0 1 0 7.4 0a3.7 3.7 0 1 0 -7.4 0M232.2 154.5m-3.1 0a3.1 3.1 0 1 0 6.2 0a3.1 3.1 0 1 0 -6.2 0M116.5 54.2m-3.2 0a3.2 3.2 0 1 0 6.3 0a3.2 3.2 0 1 0 -6.3 0M278.3 162.7m-3.6 0a3.6 3.6 0 1 0 7.3 0a3.6 3.6 0 1 0 -7.3 0M51.0 164.0m-3.6 0a3.6 3.6 0 1 0 7.3 0a3.6 3.6 0 1 0 -7.3 0M72.9 181.0m-3.3 0a3.3 3.3 0 1 0 6.5 0a3.3 3.3 0 1 0 -6.5 0M282.1 168.5m-2.8 0a2.8 2.8 0 1 0 5.7 0a2.8 2.8 0 1 0 -5.7 0M259.4 12.1m-3.4 0a3.4 3.4 0 1 0 6.9 0a3.4 3.4 0 1 0 -6.9 0M80.6 112.5m-3.1 0a3.1 3.1 0 1 0 6.3 0a3.1 3.1 0 1 0 -6.3 0M18.2 173.8m-3.1 0a3.1 3.1 0 1 0 6.2 0a3.1 3.1 0 1 0 -6.2 0M276.0 189.7m-3.1 0a3.1 3.1 0 1 0 6.2 0a3.1 3.1 0 1 0 -6.2 0M106.3 186.3m-3.4 0a3.4 3.4 0 1 0 6.9 0a3.4 3.4 0 1 0 -6.9 0M205.7 42.5m-3.5 0a3.5 3.5 0 1 0 7.1 0a3.5 3.5 0 1 0 -7.1 0M54.9 134.6m-3.6 0a3.6 3.6 0 1 0 7.2 0a3.6 3.6 0 1 0 -7.2 0M180.1 70.4m-3.1 0a3.1 3.1 0 1 0 6.2 0a3.1 3.1 0 1 0 -6.2 0M240.1 37.9m-3.5 0a3.5 3.5 0 1 0 6.9 0a3.5 3.5 0 1 0 -6.9 0M100.5 108.9m-3.8 0a3.8 3.8 0 1 0 7.6 0a3.8 3.8 0 1 0 -7.6 0M269.8 5.1m-2.9 0a2.9 2.9 0 1 0 5.8 0a2.9 2.9 0 1 0 -5.8 0M22.8 84.9m-3.7 0a3.7 3.7 0 1 0 7.4 0a3.7 3.7 0 1 0 -7.4 0M99.5 79.4m-3.5 0a3.5 3.5 0 1 0 6.9 0a3.5 3.5 0 1 0 -6.9 0M48.1 97.3m-3.2 0a3.2 3.2 0 1 0 6.4 0a3.2 3.2 0 1 0 -6.4 0M133.7 158.8m-3.9 0a3.9 3.9 0 1 0 7.7 0a3.9 3.9 0 1 0 -7.7 0M57.3 151.8m-2.9 0a2.9 2.9 0 1 0 5.9 0a2.9 2.9 0 1 0 -5.9 0M58.5 76.4m-3.6 0a3.6 3.6 0 1 0 7.1 0a3.6 3.6 0 1 0 -7.1 0M40.8 82.9m-3.6 0a3.6 3.6 0 1 0 7.3 0a3.6 3.6 0 1 0 -7.3 0M234.4 142.9m-3.6 0a3.6 3.6 0 1 0 7.2 0a3.6 3.6 0 1 0 -7.2 0M67.2 169.0m-3.2 0a3.2 3.2 0 1 0 6.3 0a3.2 3.2 0 1 0 -6.3 0M268.4 7.9m-3.0 0a3.0 3.0 0 1 0 6.0 0a3.0 3.0 0 1 0 -6.0 0M68.1 35.3m-3.7 0a3.7 3.7 0 1 0 7.3 0a3.7 3.7 0 1 0 -7.3 0M191.5 69.0m-2.8 0a2.8 2.8 0 1 0 5.7 0a2.8 2.8 0 1 0 -5.7 0M287.7 40.7m-3.5 0a3.5 3.5 0 1 0 7.0 0a3.5 3.5 0 1 0 -7.0 0M33.6 148.8m-3.6 0a3.6 3.6 0 1 0 7.3 0a3.6 3.6 0 1 0 -7.3 0M44.2 45.3m-3.2 0a3.2 3.2 0 1 0 6.4 0a3.2 3.2 0 1 0 -6.4 0M145.8 6.0m-3.1 0a3.1 3.1 0 1 0 6.2 0a3.1 3.1 0 1 0 -6.2 0M187.4 184.2m-3.1 0a3.1 3.1 0 1 0 6.2 0a3.1 3.1 0 1 0 -6.2 0M27.2 120.0m-3.4 0a3.4 3.4 0 1 0 6.8 0a3.4 3.4 0 1 0 -6.8 0M126.1 128.8m-3.5 0a3.5 3.5 0 1 0 7.0 0a3.5 3.5 0 1 0 -7.0 0M192.9 130.7m-3.1 0a3.1 3.1 0 1 0 6.3 0a3.1 3.1 0 1 0 -6.3 0M271.4 185.6m-3.7 0a3.7 3.7 0 1 0 7.4 0a3.7 3.7 0 1 0 -7.4 0M4.3 158.9m-3.2 0a3.2 3.2 0 1 0 6.3 0a3.2 3.2 0 1 0 -6.3 0M288.9 134.6m-3.7 0a3.7 3.7 0 1 0 7.3 0a3.7 3.7 0 1 0 -7.3 0M154.2 138.5m-3.6 0a3.6 3.6 0 1 0 7.2 0a3.6 3.6 0 1 0 -7.2 0M82.3 13.1m-3.8 0a3.8 3.8 0 1 0 7.7 0a3.8 3.8 0 1 0 -7.7 0M156.4 49.0m-3.1 0a3.1 3.1 0 1 0 6.1 0a3.1 3.1 0 1 0 -6.1 0M171.8 67.5m-3.4 0a3.4 3.4 0 1 0 6.8 0a3.4 3.4 0 1 0 -6.8 0M11.7 42.7m-3.0 0a3.0 3.0 0 1 0 6.0 0a3.0 3.0 0 1 0 -6.0 0M175.7 77.4m-3.5 0a3.5 3.5 0 1 0 7.0 0a3.5 3.5 0 1 0 -7.0 0M88.0 121.2m-3.5 0a3.5 3.5 0 1 0 7.1 0a3.5 3.5 0 1 0 -7.1 0" fill="#2c1a6a"/></svg>
<svg x="1086.70" y="852.00" width="299.80" height="195.30" viewBox="0 0 299.80 195.30" preserveAspectRatio="none"><rect width="299.80" height="195.30" fill="#c1b7df"/><filter id="oB6" filterUnits="userSpaceOnUse" x="-30" y="-30" width="359.8" height="255.3" color-interpolation-filters="sRGB"><feGaussianBlur in="SourceGraphic" stdDeviation="7" edgeMode="duplicate" result="c"/><feTurbulence type="fractalNoise" baseFrequency="0.045" numOctaves="2" seed="120"/><feColorMatrix type="matrix" values="-1.600 0 0 0 1.300 -1.600 0 0 0 1.300 -1.600 0 0 0 1.300 0 0 0 0 1" result="n"/><feComposite in="c" in2="n" operator="arithmetic" k2="1" k3="1" k4="-0.5" result="s"/><feComponentTransfer in="s"><feFuncR type="table" tableValues="0 0 0.05 0.95 1 1"/><feFuncG type="table" tableValues="0 0 0.05 0.95 1 1"/><feFuncB type="table" tableValues="0 0 0.05 0.95 1 1"/></feComponentTransfer><feColorMatrix type="matrix" values="-0.3333 0 0 0 0.8039 -0.4431 0 0 0 0.7765 -0.1490 0 0 0 0.8941 0 0 0 0 1"/></filter><g filter="url(#oB6)"><rect x="-30.3" y="-30.3" width="55.6" height="55.0" fill="#242424"/><rect x="24.7" y="-30.3" width="25.6" height="55.0" fill="#242424"/><rect x="49.7" y="-30.3" width="25.6" height="55.0" fill="#020202"/><rect x="74.6" y="-30.3" width="25.6" height="55.0" fill="#242424"/><rect x="99.6" y="-30.3" width="25.6" height="55.0" fill="#020202"/><rect x="124.6" y="-30.3" width="25.6" height="55.0" fill="#020202"/><rect x="149.6" y="-30.3" width="25.6" height="55.0" fill="#666666"/><rect x="174.6" y="-30.3" width="25.6" height="55.0" fill="#242424"/><rect x="199.6" y="-30.3" width="25.6" height="55.0" fill="#242424"/><rect x="224.5" y="-30.3" width="25.6" height="55.0" fill="#242424"/><rect x="249.5" y="-30.3" width="25.6" height="55.0" fill="#242424"/><rect x="274.5" y="-30.3" width="55.6" height="55.0" fill="#666666"/><rect x="-30.3" y="24.1" width="55.6" height="25.0" fill="#242424"/><rect x="24.7" y="24.1" width="25.6" height="25.0" fill="#242424"/><rect x="49.7" y="24.1" width="25.6" height="25.0" fill="#020202"/><rect x="74.6" y="24.1" width="25.6" height="25.0" fill="#242424"/><rect x="99.6" y="24.1" width="25.6" height="25.0" fill="#020202"/><rect x="124.6" y="24.1" width="25.6" height="25.0" fill="#242424"/><rect x="149.6" y="24.1" width="25.6" height="25.0" fill="#8c8c8c"/><rect x="174.6" y="24.1" width="25.6" height="25.0" fill="#666666"/><rect x="199.6" y="24.1" width="25.6" height="25.0" fill="#666666"/><rect x="224.5" y="24.1" width="25.6" height="25.0" fill="#242424"/><rect x="249.5" y="24.1" width="25.6" height="25.0" fill="#242424"/><rect x="274.5" y="24.1" width="55.6" height="25.0" fill="#666666"/><rect x="-30.3" y="48.5" width="55.6" height="25.0" fill="#666666"/><rect x="24.7" y="48.5" width="25.6" height="25.0" fill="#8c8c8c"/><rect x="49.7" y="48.5" width="25.6" height="25.0" fill="#242424"/><rect x="74.6" y="48.5" width="25.6" height="25.0" fill="#242424"/><rect x="99.6" y="48.5" width="25.6" height="25.0" fill="#020202"/><rect x="124.6" y="48.5" width="25.6" height="25.0" fill="#020202"/><rect x="149.6" y="48.5" width="25.6" height="25.0" fill="#666666"/><rect x="174.6" y="48.5" width="25.6" height="25.0" fill="#666666"/><rect x="199.6" y="48.5" width="25.6" height="25.0" fill="#242424"/><rect x="224.5" y="48.5" width="25.6" height="25.0" fill="#242424"/><rect x="249.5" y="48.5" width="25.6" height="25.0" fill="#242424"/><rect x="274.5" y="48.5" width="55.6" height="25.0" fill="#242424"/><rect x="-30.3" y="72.9" width="55.6" height="25.0" fill="#666666"/><rect x="24.7" y="72.9" width="25.6" height="25.0" fill="#8c8c8c"/><rect x="49.7" y="72.9" width="25.6" height="25.0" fill="#242424"/><rect x="74.6" y="72.9" width="25.6" height="25.0" fill="#242424"/><rect x="99.6" y="72.9" width="25.6" height="25.0" fill="#242424"/><rect x="124.6" y="72.9" width="25.6" height="25.0" fill="#666666"/><rect x="149.6" y="72.9" width="25.6" height="25.0" fill="#242424"/><rect x="174.6" y="72.9" width="25.6" height="25.0" fill="#242424"/><rect x="199.6" y="72.9" width="25.6" height="25.0" fill="#242424"/><rect x="224.5" y="72.9" width="25.6" height="25.0" fill="#242424"/><rect x="249.5" y="72.9" width="25.6" height="25.0" fill="#242424"/><rect x="274.5" y="72.9" width="55.6" height="25.0" fill="#242424"/><rect x="-30.3" y="97.3" width="55.6" height="25.0" fill="#242424"/><rect x="24.7" y="97.3" width="25.6" height="25.0" fill="#242424"/><rect x="49.7" y="97.3" width="25.6" height="25.0" fill="#242424"/><rect x="74.6" y="97.3" width="25.6" height="25.0" fill="#242424"/><rect x="99.6" y="97.3" width="25.6" height="25.0" fill="#242424"/><rect x="124.6" y="97.3" width="25.6" height="25.0" fill="#666666"/><rect x="149.6" y="97.3" width="25.6" height="25.0" fill="#242424"/><rect x="174.6" y="97.3" width="25.6" height="25.0" fill="#666666"/><rect x="199.6" y="97.3" width="25.6" height="25.0" fill="#666666"/><rect x="224.5" y="97.3" width="25.6" height="25.0" fill="#242424"/><rect x="249.5" y="97.3" width="25.6" height="25.0" fill="#242424"/><rect x="274.5" y="97.3" width="55.6" height="25.0" fill="#666666"/><rect x="-30.3" y="121.8" width="55.6" height="25.0" fill="#242424"/><rect x="24.7" y="121.8" width="25.6" height="25.0" fill="#666666"/><rect x="49.7" y="121.8" width="25.6" height="25.0" fill="#242424"/><rect x="74.6" y="121.8" width="25.6" height="25.0" fill="#666666"/><rect x="99.6" y="121.8" width="25.6" height="25.0" fill="#242424"/><rect x="124.6" y="121.8" width="25.6" height="25.0" fill="#242424"/><rect x="149.6" y="121.8" width="25.6" height="25.0" fill="#242424"/><rect x="174.6" y="121.8" width="25.6" height="25.0" fill="#242424"/><rect x="199.6" y="121.8" width="25.6" height="25.0" fill="#242424"/><rect x="224.5" y="121.8" width="25.6" height="25.0" fill="#242424"/><rect x="249.5" y="121.8" width="25.6" height="25.0" fill="#666666"/><rect x="274.5" y="121.8" width="55.6" height="25.0" fill="#666666"/><rect x="-30.3" y="146.2" width="55.6" height="25.0" fill="#666666"/><rect x="24.7" y="146.2" width="25.6" height="25.0" fill="#242424"/><rect x="49.7" y="146.2" width="25.6" height="25.0" fill="#242424"/><rect x="74.6" y="146.2" width="25.6" height="25.0" fill="#242424"/><rect x="99.6" y="146.2" width="25.6" height="25.0" fill="#242424"/><rect x="124.6" y="146.2" width="25.6" height="25.0" fill="#666666"/><rect x="149.6" y="146.2" width="25.6" height="25.0" fill="#242424"/><rect x="174.6" y="146.2" width="25.6" height="25.0" fill="#8c8c8c"/><rect x="199.6" y="146.2" width="25.6" height="25.0" fill="#8c8c8c"/><rect x="224.5" y="146.2" width="25.6" height="25.0" fill="#8c8c8c"/><rect x="249.5" y="146.2" width="25.6" height="25.0" fill="#242424"/><rect x="274.5" y="146.2" width="55.6" height="25.0" fill="#242424"/><rect x="-30.3" y="170.6" width="55.6" height="55.0" fill="#242424"/><rect x="24.7" y="170.6" width="25.6" height="55.0" fill="#242424"/><rect x="49.7" y="170.6" width="25.6" height="55.0" fill="#242424"/><rect x="74.6" y="170.6" width="25.6" height="55.0" fill="#242424"/><rect x="99.6" y="170.6" width="25.6" height="55.0" fill="#242424"/><rect x="124.6" y="170.6" width="25.6" height="55.0" fill="#242424"/><rect x="149.6" y="170.6" width="25.6" height="55.0" fill="#242424"/><rect x="174.6" y="170.6" width="25.6" height="55.0" fill="#8c8c8c"/><rect x="199.6" y="170.6" width="25.6" height="55.0" fill="#8c8c8c"/><rect x="224.5" y="170.6" width="25.6" height="55.0" fill="#666666"/><rect x="249.5" y="170.6" width="25.6" height="55.0" fill="#242424"/><rect x="274.5" y="170.6" width="55.6" height="55.0" fill="#242424"/></g><path d="M214.6 122.3m-3.0 0a3.0 3.0 0 1 0 6.0 0a3.0 3.0 0 1 0 -6.0 0M56.7 14.5m-3.0 0a3.0 3.0 0 1 0 6.0 0a3.0 3.0 0 1 0 -6.0 0M270.7 161.7m-3.0 0a3.0 3.0 0 1 0 6.0 0a3.0 3.0 0 1 0 -6.0 0M55.3 146.7m-3.0 0a3.0 3.0 0 1 0 6.0 0a3.0 3.0 0 1 0 -6.0 0M121.8 161.8m-3.0 0a3.0 3.0 0 1 0 6.0 0a3.0 3.0 0 1 0 -6.0 0M53.0 105.1m-3.0 0a3.0 3.0 0 1 0 6.0 0a3.0 3.0 0 1 0 -6.0 0M138.1 68.6m-3.0 0a3.0 3.0 0 1 0 6.0 0a3.0 3.0 0 1 0 -6.0 0M41.4 47.3m-3.0 0a3.0 3.0 0 1 0 6.0 0a3.0 3.0 0 1 0 -6.0 0M136.7 89.8m-3.0 0a3.0 3.0 0 1 0 6.0 0a3.0 3.0 0 1 0 -6.0 0M138.7 108.1m-3.0 0a3.0 3.0 0 1 0 6.0 0a3.0 3.0 0 1 0 -6.0 0M35.6 4.9m-3.0 0a3.0 3.0 0 1 0 6.0 0a3.0 3.0 0 1 0 -6.0 0M71.2 120.7m-3.0 0a3.0 3.0 0 1 0 6.0 0a3.0 3.0 0 1 0 -6.0 0M282.1 130.3m-3.0 0a3.0 3.0 0 1 0 6.0 0a3.0 3.0 0 1 0 -6.0 0M205.6 139.7m-3.0 0a3.0 3.0 0 1 0 6.0 0a3.0 3.0 0 1 0 -6.0 0M246.9 116.2m-3.0 0a3.0 3.0 0 1 0 6.0 0a3.0 3.0 0 1 0 -6.0 0M200.6 120.1m-3.0 0a3.0 3.0 0 1 0 6.0 0a3.0 3.0 0 1 0 -6.0 0M272.4 171.1m-3.0 0a3.0 3.0 0 1 0 6.0 0a3.0 3.0 0 1 0 -6.0 0M65.7 70.9m-3.0 0a3.0 3.0 0 1 0 6.0 0a3.0 3.0 0 1 0 -6.0 0M140.0 108.2m-3.0 0a3.0 3.0 0 1 0 6.0 0a3.0 3.0 0 1 0 -6.0 0M111.5 85.0m-3.0 0a3.0 3.0 0 1 0 6.0 0a3.0 3.0 0 1 0 -6.0 0M39.9 57.5m-3.0 0a3.0 3.0 0 1 0 6.0 0a3.0 3.0 0 1 0 -6.0 0M283.7 96.0m-3.0 0a3.0 3.0 0 1 0 6.0 0a3.0 3.0 0 1 0 -6.0 0M121.1 71.2m-3.0 0a3.0 3.0 0 1 0 6.0 0a3.0 3.0 0 1 0 -6.0 0M214.5 34.2m-3.0 0a3.0 3.0 0 1 0 6.0 0a3.0 3.0 0 1 0 -6.0 0M179.3 98.5m-3.0 0a3.0 3.0 0 1 0 6.0 0a3.0 3.0 0 1 0 -6.0 0M86.2 99.7m-3.0 0a3.0 3.0 0 1 0 6.0 0a3.0 3.0 0 1 0 -6.0 0M72.1 14.1m-3.0 0a3.0 3.0 0 1 0 6.0 0a3.0 3.0 0 1 0 -6.0 0M102.4 172.3m-3.0 0a3.0 3.0 0 1 0 6.0 0a3.0 3.0 0 1 0 -6.0 0M236.2 9.7m-3.0 0a3.0 3.0 0 1 0 6.0 0a3.0 3.0 0 1 0 -6.0 0M140.4 130.3m-3.0 0a3.0 3.0 0 1 0 6.0 0a3.0 3.0 0 1 0 -6.0 0M259.5 151.0m-3.0 0a3.0 3.0 0 1 0 6.0 0a3.0 3.0 0 1 0 -6.0 0M44.4 11.9m-3.0 0a3.0 3.0 0 1 0 6.0 0a3.0 3.0 0 1 0 -6.0 0M259.9 5.2m-3.0 0a3.0 3.0 0 1 0 6.0 0a3.0 3.0 0 1 0 -6.0 0M7.1 97.0m-3.0 0a3.0 3.0 0 1 0 6.0 0a3.0 3.0 0 1 0 -6.0 0M200.5 26.9m-3.0 0a3.0 3.0 0 1 0 6.0 0a3.0 3.0 0 1 0 -6.0 0M218.5 80.1m-3.0 0a3.0 3.0 0 1 0 6.0 0a3.0 3.0 0 1 0 -6.0 0M25.3 38.2m-3.0 0a3.0 3.0 0 1 0 6.0 0a3.0 3.0 0 1 0 -6.0 0M22.8 70.4m-3.0 0a3.0 3.0 0 1 0 6.0 0a3.0 3.0 0 1 0 -6.0 0M116.7 154.1m-3.0 0a3.0 3.0 0 1 0 6.0 0a3.0 3.0 0 1 0 -6.0 0M74.7 122.9m-3.0 0a3.0 3.0 0 1 0 6.0 0a3.0 3.0 0 1 0 -6.0 0M113.0 52.3m-3.0 0a3.0 3.0 0 1 0 6.0 0a3.0 3.0 0 1 0 -6.0 0M123.1 106.6m-3.0 0a3.0 3.0 0 1 0 6.0 0a3.0 3.0 0 1 0 -6.0 0M80.0 130.7m-3.0 0a3.0 3.0 0 1 0 6.0 0a3.0 3.0 0 1 0 -6.0 0M133.2 119.7m-3.0 0a3.0 3.0 0 1 0 6.0 0a3.0 3.0 0 1 0 -6.0 0M282.9 139.8m-3.0 0a3.0 3.0 0 1 0 6.0 0a3.0 3.0 0 1 0 -6.0 0M294.2 166.4m-3.0 0a3.0 3.0 0 1 0 6.0 0a3.0 3.0 0 1 0 -6.0 0M55.8 82.5m-3.0 0a3.0 3.0 0 1 0 6.0 0a3.0 3.0 0 1 0 -6.0 0M100.3 54.9m-3.0 0a3.0 3.0 0 1 0 6.0 0a3.0 3.0 0 1 0 -6.0 0M122.2 67.9m-3.0 0a3.0 3.0 0 1 0 6.0 0a3.0 3.0 0 1 0 -6.0 0M150.2 161.5m-3.0 0a3.0 3.0 0 1 0 6.0 0a3.0 3.0 0 1 0 -6.0 0M219.8 148.3m-3.0 0a3.0 3.0 0 1 0 6.0 0a3.0 3.0 0 1 0 -6.0 0M270.0 40.8m-3.0 0a3.0 3.0 0 1 0 6.0 0a3.0 3.0 0 1 0 -6.0 0M225.1 138.9m-3.0 0a3.0 3.0 0 1 0 6.0 0a3.0 3.0 0 1 0 -6.0 0M226.0 101.8m-3.0 0a3.0 3.0 0 1 0 6.0 0a3.0 3.0 0 1 0 -6.0 0M214.0 43.6m-3.0 0a3.0 3.0 0 1 0 6.0 0a3.0 3.0 0 1 0 -6.0 0M141.9 147.6m-3.0 0a3.0 3.0 0 1 0 6.0 0a3.0 3.0 0 1 0 -6.0 0M145.2 19.7m-3.0 0a3.0 3.0 0 1 0 6.0 0a3.0 3.0 0 1 0 -6.0 0M69.0 56.3m-3.0 0a3.0 3.0 0 1 0 6.0 0a3.0 3.0 0 1 0 -6.0 0M274.1 78.0m-3.0 0a3.0 3.0 0 1 0 6.0 0a3.0 3.0 0 1 0 -6.0 0M204.1 189.2m-3.0 0a3.0 3.0 0 1 0 6.0 0a3.0 3.0 0 1 0 -6.0 0M171.5 187.0m-3.0 0a3.0 3.0 0 1 0 6.0 0a3.0 3.0 0 1 0 -6.0 0M112.5 173.5m-3.0 0a3.0 3.0 0 1 0 6.0 0a3.0 3.0 0 1 0 -6.0 0M20.4 95.0m-3.0 0a3.0 3.0 0 1 0 6.0 0a3.0 3.0 0 1 0 -6.0 0M147.6 177.0m-3.0 0a3.0 3.0 0 1 0 6.0 0a3.0 3.0 0 1 0 -6.0 0M199.5 12.1m-3.0 0a3.0 3.0 0 1 0 6.0 0a3.0 3.0 0 1 0 -6.0 0M206.4 96.8m-3.0 0a3.0 3.0 0 1 0 6.0 0a3.0 3.0 0 1 0 -6.0 0M178.8 155.2m-3.0 0a3.0 3.0 0 1 0 6.0 0a3.0 3.0 0 1 0 -6.0 0M240.3 19.5m-3.0 0a3.0 3.0 0 1 0 6.0 0a3.0 3.0 0 1 0 -6.0 0M209.1 21.1m-3.0 0a3.0 3.0 0 1 0 6.0 0a3.0 3.0 0 1 0 -6.0 0M200.1 5.0m-3.0 0a3.0 3.0 0 1 0 6.0 0a3.0 3.0 0 1 0 -6.0 0M81.3 171.8m-3.0 0a3.0 3.0 0 1 0 6.0 0a3.0 3.0 0 1 0 -6.0 0M273.4 162.4m-3.0 0a3.0 3.0 0 1 0 6.0 0a3.0 3.0 0 1 0 -6.0 0M253.9 188.9m-3.0 0a3.0 3.0 0 1 0 6.0 0a3.0 3.0 0 1 0 -6.0 0M70.5 43.5m-3.0 0a3.0 3.0 0 1 0 6.0 0a3.0 3.0 0 1 0 -6.0 0M80.4 155.1m-3.0 0a3.0 3.0 0 1 0 6.0 0a3.0 3.0 0 1 0 -6.0 0M57.0 129.3m-3.0 0a3.0 3.0 0 1 0 6.0 0a3.0 3.0 0 1 0 -6.0 0M293.3 120.7m-3.0 0a3.0 3.0 0 1 0 6.0 0a3.0 3.0 0 1 0 -6.0 0M211.5 49.7m-3.0 0a3.0 3.0 0 1 0 6.0 0a3.0 3.0 0 1 0 -6.0 0M269.2 152.2m-3.0 0a3.0 3.0 0 1 0 6.0 0a3.0 3.0 0 1 0 -6.0 0M106.9 133.7m-3.0 0a3.0 3.0 0 1 0 6.0 0a3.0 3.0 0 1 0 -6.0 0M55.9 139.0m-3.0 0a3.0 3.0 0 1 0 6.0 0a3.0 3.0 0 1 0 -6.0 0M215.2 172.3m-3.0 0a3.0 3.0 0 1 0 6.0 0a3.0 3.0 0 1 0 -6.0 0M60.5 24.8m-3.0 0a3.0 3.0 0 1 0 6.0 0a3.0 3.0 0 1 0 -6.0 0M167.3 126.8m-3.0 0a3.0 3.0 0 1 0 6.0 0a3.0 3.0 0 1 0 -6.0 0M233.5 111.3m-3.0 0a3.0 3.0 0 1 0 6.0 0a3.0 3.0 0 1 0 -6.0 0M279.8 94.8m-3.0 0a3.0 3.0 0 1 0 6.0 0a3.0 3.0 0 1 0 -6.0 0M147.0 179.4m-3.0 0a3.0 3.0 0 1 0 6.0 0a3.0 3.0 0 1 0 -6.0 0M234.4 148.2m-3.0 0a3.0 3.0 0 1 0 6.0 0a3.0 3.0 0 1 0 -6.0 0M88.7 142.6m-3.0 0a3.0 3.0 0 1 0 6.0 0a3.0 3.0 0 1 0 -6.0 0M101.8 153.2m-3.0 0a3.0 3.0 0 1 0 6.0 0a3.0 3.0 0 1 0 -6.0 0M278.0 140.0m-3.0 0a3.0 3.0 0 1 0 6.0 0a3.0 3.0 0 1 0 -6.0 0M192.6 90.0m-3.0 0a3.0 3.0 0 1 0 6.0 0a3.0 3.0 0 1 0 -6.0 0M238.6 113.0m-3.0 0a3.0 3.0 0 1 0 6.0 0a3.0 3.0 0 1 0 -6.0 0M134.3 76.9m-3.0 0a3.0 3.0 0 1 0 6.0 0a3.0 3.0 0 1 0 -6.0 0M218.2 20.7m-3.0 0a3.0 3.0 0 1 0 6.0 0a3.0 3.0 0 1 0 -6.0 0M47.0 8.9m-3.0 0a3.0 3.0 0 1 0 6.0 0a3.0 3.0 0 1 0 -6.0 0M143.3 50.2m-3.0 0a3.0 3.0 0 1 0 6.0 0a3.0 3.0 0 1 0 -6.0 0M183.4 135.4m-3.0 0a3.0 3.0 0 1 0 6.0 0a3.0 3.0 0 1 0 -6.0 0M65.3 178.5m-3.0 0a3.0 3.0 0 1 0 6.0 0a3.0 3.0 0 1 0 -6.0 0M6.1 183.9m-3.0 0a3.0 3.0 0 1 0 6.0 0a3.0 3.0 0 1 0 -6.0 0M181.0 122.1m-3.0 0a3.0 3.0 0 1 0 6.0 0a3.0 3.0 0 1 0 -6.0 0M251.3 60.3m-3.0 0a3.0 3.0 0 1 0 6.0 0a3.0 3.0 0 1 0 -6.0 0M77.4 79.1m-3.0 0a3.0 3.0 0 1 0 6.0 0a3.0 3.0 0 1 0 -6.0 0M208.9 56.5m-3.0 0a3.0 3.0 0 1 0 6.0 0a3.0 3.0 0 1 0 -6.0 0M185.2 10.5m-3.0 0a3.0 3.0 0 1 0 6.0 0a3.0 3.0 0 1 0 -6.0 0M246.3 186.6m-3.0 0a3.0 3.0 0 1 0 6.0 0a3.0 3.0 0 1 0 -6.0 0M142.6 128.6m-3.0 0a3.0 3.0 0 1 0 6.0 0a3.0 3.0 0 1 0 -6.0 0M78.5 87.4m-3.0 0a3.0 3.0 0 1 0 6.0 0a3.0 3.0 0 1 0 -6.0 0M147.7 53.7m-3.0 0a3.0 3.0 0 1 0 6.0 0a3.0 3.0 0 1 0 -6.0 0M256.2 44.6m-3.0 0a3.0 3.0 0 1 0 6.0 0a3.0 3.0 0 1 0 -6.0 0M101.1 180.9m-3.0 0a3.0 3.0 0 1 0 6.0 0a3.0 3.0 0 1 0 -6.0 0M129.2 85.4m-3.0 0a3.0 3.0 0 1 0 6.0 0a3.0 3.0 0 1 0 -6.0 0M187.4 79.7m-3.0 0a3.0 3.0 0 1 0 6.0 0a3.0 3.0 0 1 0 -6.0 0M166.7 28.5m-3.0 0a3.0 3.0 0 1 0 6.0 0a3.0 3.0 0 1 0 -6.0 0M117.3 54.3m-3.0 0a3.0 3.0 0 1 0 6.0 0a3.0 3.0 0 1 0 -6.0 0M201.3 14.7m-3.0 0a3.0 3.0 0 1 0 6.0 0a3.0 3.0 0 1 0 -6.0 0M237.7 99.0m-3.0 0a3.0 3.0 0 1 0 6.0 0a3.0 3.0 0 1 0 -6.0 0M188.7 48.8m-3.0 0a3.0 3.0 0 1 0 6.0 0a3.0 3.0 0 1 0 -6.0 0M12.5 33.5m-3.0 0a3.0 3.0 0 1 0 6.0 0a3.0 3.0 0 1 0 -6.0 0M39.4 18.7m-3.0 0a3.0 3.0 0 1 0 6.0 0a3.0 3.0 0 1 0 -6.0 0M160.2 111.4m-3.0 0a3.0 3.0 0 1 0 6.0 0a3.0 3.0 0 1 0 -6.0 0M162.0 146.8m-3.0 0a3.0 3.0 0 1 0 6.0 0a3.0 3.0 0 1 0 -6.0 0M284.5 43.4m-3.0 0a3.0 3.0 0 1 0 6.0 0a3.0 3.0 0 1 0 -6.0 0M112.6 120.7m-3.0 0a3.0 3.0 0 1 0 6.0 0a3.0 3.0 0 1 0 -6.0 0M117.6 59.3m-3.0 0a3.0 3.0 0 1 0 6.0 0a3.0 3.0 0 1 0 -6.0 0M163.4 134.4m-3.0 0a3.0 3.0 0 1 0 6.0 0a3.0 3.0 0 1 0 -6.0 0M90.1 95.2m-3.0 0a3.0 3.0 0 1 0 6.0 0a3.0 3.0 0 1 0 -6.0 0M213.2 38.4m-3.0 0a3.0 3.0 0 1 0 6.0 0a3.0 3.0 0 1 0 -6.0 0M233.7 124.0m-3.0 0a3.0 3.0 0 1 0 6.0 0a3.0 3.0 0 1 0 -6.0 0M278.5 41.5m-3.0 0a3.0 3.0 0 1 0 6.0 0a3.0 3.0 0 1 0 -6.0 0M27.0 99.7m-3.0 0a3.0 3.0 0 1 0 6.0 0a3.0 3.0 0 1 0 -6.0 0M75.5 154.9m-3.0 0a3.0 3.0 0 1 0 6.0 0a3.0 3.0 0 1 0 -6.0 0M154.9 47.8m-3.0 0a3.0 3.0 0 1 0 6.0 0a3.0 3.0 0 1 0 -6.0 0M89.5 93.7m-3.0 0a3.0 3.0 0 1 0 6.0 0a3.0 3.0 0 1 0 -6.0 0M245.6 66.1m-3.0 0a3.0 3.0 0 1 0 6.0 0a3.0 3.0 0 1 0 -6.0 0M202.4 88.5m-3.0 0a3.0 3.0 0 1 0 6.0 0a3.0 3.0 0 1 0 -6.0 0M113.9 106.2m-3.0 0a3.0 3.0 0 1 0 6.0 0a3.0 3.0 0 1 0 -6.0 0M47.3 185.9m-3.0 0a3.0 3.0 0 1 0 6.0 0a3.0 3.0 0 1 0 -6.0 0M253.6 95.6m-3.0 0a3.0 3.0 0 1 0 6.0 0a3.0 3.0 0 1 0 -6.0 0M99.2 45.2m-3.0 0a3.0 3.0 0 1 0 6.0 0a3.0 3.0 0 1 0 -6.0 0M273.9 186.8m-3.0 0a3.0 3.0 0 1 0 6.0 0a3.0 3.0 0 1 0 -6.0 0M174.4 186.2m-3.0 0a3.0 3.0 0 1 0 6.0 0a3.0 3.0 0 1 0 -6.0 0M270.2 108.0m-3.0 0a3.0 3.0 0 1 0 6.0 0a3.0 3.0 0 1 0 -6.0 0M90.3 129.4m-3.0 0a3.0 3.0 0 1 0 6.0 0a3.0 3.0 0 1 0 -6.0 0M213.1 131.0m-3.0 0a3.0 3.0 0 1 0 6.0 0a3.0 3.0 0 1 0 -6.0 0M226.1 48.6m-3.0 0a3.0 3.0 0 1 0 6.0 0a3.0 3.0 0 1 0 -6.0 0M21.0 123.7m-3.0 0a3.0 3.0 0 1 0 6.0 0a3.0 3.0 0 1 0 -6.0 0M54.5 125.6m-3.0 0a3.0 3.0 0 1 0 6.0 0a3.0 3.0 0 1 0 -6.0 0M204.9 95.2m-3.0 0a3.0 3.0 0 1 0 6.0 0a3.0 3.0 0 1 0 -6.0 0M66.8 70.6m-3.0 0a3.0 3.0 0 1 0 6.0 0a3.0 3.0 0 1 0 -6.0 0" fill="#e8e2f4" stroke="#6a6488" stroke-width="1.2" opacity="0.85"/><path d="M265.1 95.4m-3.3 0a3.3 3.3 0 1 0 6.6 0a3.3 3.3 0 1 0 -6.6 0M25.2 71.7m-3.0 0a3.0 3.0 0 1 0 6.1 0a3.0 3.0 0 1 0 -6.1 0M286.5 130.5m-3.4 0a3.4 3.4 0 1 0 6.9 0a3.4 3.4 0 1 0 -6.9 0M208.1 106.0m-3.1 0a3.1 3.1 0 1 0 6.2 0a3.1 3.1 0 1 0 -6.2 0M243.7 173.2m-3.8 0a3.8 3.8 0 1 0 7.6 0a3.8 3.8 0 1 0 -7.6 0M8.0 66.8m-3.2 0a3.2 3.2 0 1 0 6.4 0a3.2 3.2 0 1 0 -6.4 0M38.0 115.0m-3.3 0a3.3 3.3 0 1 0 6.5 0a3.3 3.3 0 1 0 -6.5 0M80.5 127.5m-3.2 0a3.2 3.2 0 1 0 6.4 0a3.2 3.2 0 1 0 -6.4 0M173.0 33.6m-3.4 0a3.4 3.4 0 1 0 6.8 0a3.4 3.4 0 1 0 -6.8 0M6.2 30.1m-3.7 0a3.7 3.7 0 1 0 7.4 0a3.7 3.7 0 1 0 -7.4 0M207.2 173.0m-3.7 0a3.7 3.7 0 1 0 7.3 0a3.7 3.7 0 1 0 -7.3 0M219.1 33.2m-3.4 0a3.4 3.4 0 1 0 6.9 0a3.4 3.4 0 1 0 -6.9 0M75.2 184.8m-3.9 0a3.9 3.9 0 1 0 7.7 0a3.9 3.9 0 1 0 -7.7 0M81.7 140.3m-3.5 0a3.5 3.5 0 1 0 7.0 0a3.5 3.5 0 1 0 -7.0 0M132.3 95.4m-3.8 0a3.8 3.8 0 1 0 7.6 0a3.8 3.8 0 1 0 -7.6 0M203.8 183.1m-3.5 0a3.5 3.5 0 1 0 6.9 0a3.5 3.5 0 1 0 -6.9 0M250.9 104.9m-3.4 0a3.4 3.4 0 1 0 6.8 0a3.4 3.4 0 1 0 -6.8 0M76.1 7.0m-3.8 0a3.8 3.8 0 1 0 7.7 0a3.8 3.8 0 1 0 -7.7 0M134.5 26.7m-3.0 0a3.0 3.0 0 1 0 6.0 0a3.0 3.0 0 1 0 -6.0 0M125.3 96.9m-3.0 0a3.0 3.0 0 1 0 6.0 0a3.0 3.0 0 1 0 -6.0 0M42.4 93.9m-3.2 0a3.2 3.2 0 1 0 6.3 0a3.2 3.2 0 1 0 -6.3 0M235.9 144.4m-3.0 0a3.0 3.0 0 1 0 5.9 0a3.0 3.0 0 1 0 -5.9 0M128.1 15.7m-3.4 0a3.4 3.4 0 1 0 6.8 0a3.4 3.4 0 1 0 -6.8 0M83.1 51.1m-3.8 0a3.8 3.8 0 1 0 7.6 0a3.8 3.8 0 1 0 -7.6 0M102.7 42.1m-3.2 0a3.2 3.2 0 1 0 6.4 0a3.2 3.2 0 1 0 -6.4 0M181.8 16.2m-3.2 0a3.2 3.2 0 1 0 6.4 0a3.2 3.2 0 1 0 -6.4 0M80.4 70.3m-3.3 0a3.3 3.3 0 1 0 6.6 0a3.3 3.3 0 1 0 -6.6 0M40.9 74.9m-3.5 0a3.5 3.5 0 1 0 7.0 0a3.5 3.5 0 1 0 -7.0 0M78.1 180.8m-3.1 0a3.1 3.1 0 1 0 6.3 0a3.1 3.1 0 1 0 -6.3 0M221.9 109.4m-3.4 0a3.4 3.4 0 1 0 6.9 0a3.4 3.4 0 1 0 -6.9 0M254.8 72.9m-3.5 0a3.5 3.5 0 1 0 7.1 0a3.5 3.5 0 1 0 -7.1 0M249.7 163.3m-3.1 0a3.1 3.1 0 1 0 6.3 0a3.1 3.1 0 1 0 -6.3 0M24.4 83.8m-3.8 0a3.8 3.8 0 1 0 7.6 0a3.8 3.8 0 1 0 -7.6 0M280.9 130.9m-3.6 0a3.6 3.6 0 1 0 7.2 0a3.6 3.6 0 1 0 -7.2 0M85.8 58.1m-3.2 0a3.2 3.2 0 1 0 6.4 0a3.2 3.2 0 1 0 -6.4 0M28.6 79.1m-2.9 0a2.9 2.9 0 1 0 5.8 0a2.9 2.9 0 1 0 -5.8 0M263.1 128.0m-3.5 0a3.5 3.5 0 1 0 7.0 0a3.5 3.5 0 1 0 -7.0 0M9.8 83.4m-3.9 0a3.9 3.9 0 1 0 7.8 0a3.9 3.9 0 1 0 -7.8 0M192.9 30.1m-3.0 0a3.0 3.0 0 1 0 6.0 0a3.0 3.0 0 1 0 -6.0 0M26.2 138.6m-2.9 0a2.9 2.9 0 1 0 5.8 0a2.9 2.9 0 1 0 -5.8 0M222.4 147.2m-3.3 0a3.3 3.3 0 1 0 6.5 0a3.3 3.3 0 1 0 -6.5 0M160.5 166.4m-3.2 0a3.2 3.2 0 1 0 6.5 0a3.2 3.2 0 1 0 -6.5 0M219.5 166.1m-3.1 0a3.1 3.1 0 1 0 6.3 0a3.1 3.1 0 1 0 -6.3 0M7.9 62.2m-3.8 0a3.8 3.8 0 1 0 7.5 0a3.8 3.8 0 1 0 -7.5 0M17.3 121.8m-3.7 0a3.7 3.7 0 1 0 7.4 0a3.7 3.7 0 1 0 -7.4 0M194.9 36.4m-2.9 0a2.9 2.9 0 1 0 5.8 0a2.9 2.9 0 1 0 -5.8 0M237.8 63.6m-3.5 0a3.5 3.5 0 1 0 6.9 0a3.5 3.5 0 1 0 -6.9 0M33.4 80.6m-3.1 0a3.1 3.1 0 1 0 6.2 0a3.1 3.1 0 1 0 -6.2 0M149.4 153.9m-3.0 0a3.0 3.0 0 1 0 6.1 0a3.0 3.0 0 1 0 -6.1 0M150.9 35.8m-2.8 0a2.8 2.8 0 1 0 5.7 0a2.8 2.8 0 1 0 -5.7 0M207.5 172.9m-3.0 0a3.0 3.0 0 1 0 6.0 0a3.0 3.0 0 1 0 -6.0 0M38.9 25.8m-2.9 0a2.9 2.9 0 1 0 5.8 0a2.9 2.9 0 1 0 -5.8 0M113.2 57.0m-3.6 0a3.6 3.6 0 1 0 7.1 0a3.6 3.6 0 1 0 -7.1 0M77.2 27.9m-2.9 0a2.9 2.9 0 1 0 5.8 0a2.9 2.9 0 1 0 -5.8 0M150.4 149.9m-3.9 0a3.9 3.9 0 1 0 7.8 0a3.9 3.9 0 1 0 -7.8 0M162.7 39.8m-3.2 0a3.2 3.2 0 1 0 6.3 0a3.2 3.2 0 1 0 -6.3 0M36.3 82.2m-3.7 0a3.7 3.7 0 1 0 7.3 0a3.7 3.7 0 1 0 -7.3 0M289.2 41.1m-3.3 0a3.3 3.3 0 1 0 6.6 0a3.3 3.3 0 1 0 -6.6 0M64.8 131.2m-3.7 0a3.7 3.7 0 1 0 7.3 0a3.7 3.7 0 1 0 -7.3 0M104.6 60.7m-2.9 0a2.9 2.9 0 1 0 5.8 0a2.9 2.9 0 1 0 -5.8 0M71.3 72.3m-3.8 0a3.8 3.8 0 1 0 7.7 0a3.8 3.8 0 1 0 -7.7 0M73.0 61.4m-3.0 0a3.0 3.0 0 1 0 6.0 0a3.0 3.0 0 1 0 -6.0 0M73.5 28.9m-3.4 0a3.4 3.4 0 1 0 6.8 0a3.4 3.4 0 1 0 -6.8 0M38.7 58.6m-3.0 0a3.0 3.0 0 1 0 5.9 0a3.0 3.0 0 1 0 -5.9 0M159.2 22.2m-3.3 0a3.3 3.3 0 1 0 6.5 0a3.3 3.3 0 1 0 -6.5 0M122.8 72.0m-3.3 0a3.3 3.3 0 1 0 6.6 0a3.3 3.3 0 1 0 -6.6 0M206.7 158.0m-3.6 0a3.6 3.6 0 1 0 7.2 0a3.6 3.6 0 1 0 -7.2 0M29.9 48.9m-3.3 0a3.3 3.3 0 1 0 6.7 0a3.3 3.3 0 1 0 -6.7 0M181.9 189.0m-2.9 0a2.9 2.9 0 1 0 5.9 0a2.9 2.9 0 1 0 -5.9 0M111.6 171.4m-2.8 0a2.8 2.8 0 1 0 5.7 0a2.8 2.8 0 1 0 -5.7 0M194.3 108.0m-3.6 0a3.6 3.6 0 1 0 7.1 0a3.6 3.6 0 1 0 -7.1 0M22.9 111.5m-3.8 0a3.8 3.8 0 1 0 7.6 0a3.8 3.8 0 1 0 -7.6 0M151.7 169.2m-3.7 0a3.7 3.7 0 1 0 7.4 0a3.7 3.7 0 1 0 -7.4 0M97.0 65.5m-3.3 0a3.3 3.3 0 1 0 6.6 0a3.3 3.3 0 1 0 -6.6 0M226.1 34.0m-3.2 0a3.2 3.2 0 1 0 6.3 0a3.2 3.2 0 1 0 -6.3 0M102.6 147.2m-3.8 0a3.8 3.8 0 1 0 7.6 0a3.8 3.8 0 1 0 -7.6 0M154.1 110.3m-3.8 0a3.8 3.8 0 1 0 7.6 0a3.8 3.8 0 1 0 -7.6 0M53.4 114.2m-3.5 0a3.5 3.5 0 1 0 6.9 0a3.5 3.5 0 1 0 -6.9 0M81.0 97.9m-3.8 0a3.8 3.8 0 1 0 7.7 0a3.8 3.8 0 1 0 -7.7 0M271.9 109.8m-3.8 0a3.8 3.8 0 1 0 7.6 0a3.8 3.8 0 1 0 -7.6 0M261.9 145.9m-2.8 0a2.8 2.8 0 1 0 5.6 0a2.8 2.8 0 1 0 -5.6 0M204.2 47.0m-2.8 0a2.8 2.8 0 1 0 5.7 0a2.8 2.8 0 1 0 -5.7 0M242.4 146.8m-3.9 0a3.9 3.9 0 1 0 7.8 0a3.9 3.9 0 1 0 -7.8 0M154.3 17.9m-3.4 0a3.4 3.4 0 1 0 6.8 0a3.4 3.4 0 1 0 -6.8 0M180.4 108.6m-3.5 0a3.5 3.5 0 1 0 7.1 0a3.5 3.5 0 1 0 -7.1 0M280.4 61.7m-3.1 0a3.1 3.1 0 1 0 6.2 0a3.1 3.1 0 1 0 -6.2 0M255.3 128.5m-2.8 0a2.8 2.8 0 1 0 5.7 0a2.8 2.8 0 1 0 -5.7 0M215.1 93.4m-3.6 0a3.6 3.6 0 1 0 7.2 0a3.6 3.6 0 1 0 -7.2 0M258.2 136.7m-3.5 0a3.5 3.5 0 1 0 7.1 0a3.5 3.5 0 1 0 -7.1 0M32.3 59.0m-3.1 0a3.1 3.1 0 1 0 6.3 0a3.1 3.1 0 1 0 -6.3 0M127.4 102.3m-3.8 0a3.8 3.8 0 1 0 7.6 0a3.8 3.8 0 1 0 -7.6 0M159.6 50.9m-3.2 0a3.2 3.2 0 1 0 6.5 0a3.2 3.2 0 1 0 -6.5 0M288.4 46.3m-3.6 0a3.6 3.6 0 1 0 7.1 0a3.6 3.6 0 1 0 -7.1 0M174.5 184.6m-3.9 0a3.9 3.9 0 1 0 7.8 0a3.9 3.9 0 1 0 -7.8 0M11.1 188.8m-3.6 0a3.6 3.6 0 1 0 7.1 0a3.6 3.6 0 1 0 -7.1 0M17.8 49.8m-3.2 0a3.2 3.2 0 1 0 6.4 0a3.2 3.2 0 1 0 -6.4 0M159.7 26.0m-3.3 0a3.3 3.3 0 1 0 6.6 0a3.3 3.3 0 1 0 -6.6 0M72.6 122.2m-3.8 0a3.8 3.8 0 1 0 7.5 0a3.8 3.8 0 1 0 -7.5 0M26.5 189.1m-3.9 0a3.9 3.9 0 1 0 7.7 0a3.9 3.9 0 1 0 -7.7 0M195.3 149.7m-3.5 0a3.5 3.5 0 1 0 7.0 0a3.5 3.5 0 1 0 -7.0 0M281.6 37.7m-3.2 0a3.2 3.2 0 1 0 6.5 0a3.2 3.2 0 1 0 -6.5 0M141.5 7.5m-3.3 0a3.3 3.3 0 1 0 6.6 0a3.3 3.3 0 1 0 -6.6 0M224.8 156.7m-3.8 0a3.8 3.8 0 1 0 7.6 0a3.8 3.8 0 1 0 -7.6 0M109.9 77.8m-3.1 0a3.1 3.1 0 1 0 6.1 0a3.1 3.1 0 1 0 -6.1 0M164.3 37.9m-3.3 0a3.3 3.3 0 1 0 6.5 0a3.3 3.3 0 1 0 -6.5 0M95.4 37.9m-3.3 0a3.3 3.3 0 1 0 6.5 0a3.3 3.3 0 1 0 -6.5 0M291.0 99.8m-3.4 0a3.4 3.4 0 1 0 6.8 0a3.4 3.4 0 1 0 -6.8 0M162.8 30.4m-3.0 0a3.0 3.0 0 1 0 6.0 0a3.0 3.0 0 1 0 -6.0 0M97.5 113.2m-3.4 0a3.4 3.4 0 1 0 6.8 0a3.4 3.4 0 1 0 -6.8 0M159.4 51.6m-3.3 0a3.3 3.3 0 1 0 6.6 0a3.3 3.3 0 1 0 -6.6 0" fill="#3a2a80"/></svg>
<svg x="772.00" y="1062.50" width="299.30" height="195.50" viewBox="0 0 299.30 195.50" preserveAspectRatio="none"><rect width="299.30" height="195.50" fill="#9780ce"/><filter id="oB7" filterUnits="userSpaceOnUse" x="-30" y="-30" width="359.3" height="255.5" color-interpolation-filters="sRGB"><feGaussianBlur in="SourceGraphic" stdDeviation="7" edgeMode="duplicate" result="c"/><feTurbulence type="fractalNoise" baseFrequency="0.045" numOctaves="2" seed="121"/><feColorMatrix type="matrix" values="-1.600 0 0 0 1.300 -1.600 0 0 0 1.300 -1.600 0 0 0 1.300 0 0 0 0 1" result="n"/><feComposite in="c" in2="n" operator="arithmetic" k2="1" k3="1" k4="-0.5" result="s"/><feComponentTransfer in="s"><feFuncR type="table" tableValues="0 0 0.05 0.95 1 1"/><feFuncG type="table" tableValues="0 0 0.05 0.95 1 1"/><feFuncB type="table" tableValues="0 0 0.05 0.95 1 1"/></feComponentTransfer><feColorMatrix type="matrix" values="-0.4000 0 0 0 0.7922 -0.5255 0 0 0 0.7608 -0.1608 0 0 0 0.8863 0 0 0 0 1"/></filter><g filter="url(#oB7)"><rect x="-30.3" y="-30.3" width="55.5" height="55.0" fill="#808080"/><rect x="24.6" y="-30.3" width="25.5" height="55.0" fill="#808080"/><rect x="49.6" y="-30.3" width="25.5" height="55.0" fill="#808080"/><rect x="74.5" y="-30.3" width="25.5" height="55.0" fill="#4d4d4d"/><rect x="99.5" y="-30.3" width="25.5" height="55.0" fill="#808080"/><rect x="124.4" y="-30.3" width="25.5" height="55.0" fill="#808080"/><rect x="149.3" y="-30.3" width="25.5" height="55.0" fill="#a8a8a8"/><rect x="174.3" y="-30.3" width="25.5" height="55.0" fill="#a8a8a8"/><rect x="199.2" y="-30.3" width="25.5" height="55.0" fill="#808080"/><rect x="224.2" y="-30.3" width="25.5" height="55.0" fill="#4d4d4d"/><rect x="249.1" y="-30.3" width="25.5" height="55.0" fill="#a8a8a8"/><rect x="274.1" y="-30.3" width="55.5" height="55.0" fill="#4d4d4d"/><rect x="-30.3" y="24.1" width="55.5" height="25.0" fill="#808080"/><rect x="24.6" y="24.1" width="25.5" height="25.0" fill="#a8a8a8"/><rect x="49.6" y="24.1" width="25.5" height="25.0" fill="#a8a8a8"/><rect x="74.5" y="24.1" width="25.5" height="25.0" fill="#a8a8a8"/><rect x="99.5" y="24.1" width="25.5" height="25.0" fill="#4d4d4d"/><rect x="124.4" y="24.1" width="25.5" height="25.0" fill="#4d4d4d"/><rect x="149.3" y="24.1" width="25.5" height="25.0" fill="#4d4d4d"/><rect x="174.3" y="24.1" width="25.5" height="25.0" fill="#a8a8a8"/><rect x="199.2" y="24.1" width="25.5" height="25.0" fill="#a8a8a8"/><rect x="224.2" y="24.1" width="25.5" height="25.0" fill="#a8a8a8"/><rect x="249.1" y="24.1" width="25.5" height="25.0" fill="#808080"/><rect x="274.1" y="24.1" width="55.5" height="25.0" fill="#808080"/><rect x="-30.3" y="48.6" width="55.5" height="25.0" fill="#a8a8a8"/><rect x="24.6" y="48.6" width="25.5" height="25.0" fill="#a8a8a8"/><rect x="49.6" y="48.6" width="25.5" height="25.0" fill="#808080"/><rect x="74.5" y="48.6" width="25.5" height="25.0" fill="#808080"/><rect x="99.5" y="48.6" width="25.5" height="25.0" fill="#a8a8a8"/><rect x="124.4" y="48.6" width="25.5" height="25.0" fill="#808080"/><rect x="149.3" y="48.6" width="25.5" height="25.0" fill="#4d4d4d"/><rect x="174.3" y="48.6" width="25.5" height="25.0" fill="#808080"/><rect x="199.2" y="48.6" width="25.5" height="25.0" fill="#a8a8a8"/><rect x="224.2" y="48.6" width="25.5" height="25.0" fill="#a8a8a8"/><rect x="249.1" y="48.6" width="25.5" height="25.0" fill="#4d4d4d"/><rect x="274.1" y="48.6" width="55.5" height="25.0" fill="#a8a8a8"/><rect x="-30.3" y="73.0" width="55.5" height="25.0" fill="#4d4d4d"/><rect x="24.6" y="73.0" width="25.5" height="25.0" fill="#808080"/><rect x="49.6" y="73.0" width="25.5" height="25.0" fill="#808080"/><rect x="74.5" y="73.0" width="25.5" height="25.0" fill="#a8a8a8"/><rect x="99.5" y="73.0" width="25.5" height="25.0" fill="#808080"/><rect x="124.4" y="73.0" width="25.5" height="25.0" fill="#808080"/><rect x="149.3" y="73.0" width="25.5" height="25.0" fill="#4d4d4d"/><rect x="174.3" y="73.0" width="25.5" height="25.0" fill="#4d4d4d"/><rect x="199.2" y="73.0" width="25.5" height="25.0" fill="#808080"/><rect x="224.2" y="73.0" width="25.5" height="25.0" fill="#808080"/><rect x="249.1" y="73.0" width="25.5" height="25.0" fill="#808080"/><rect x="274.1" y="73.0" width="55.5" height="25.0" fill="#4d4d4d"/><rect x="-30.3" y="97.5" width="55.5" height="25.0" fill="#808080"/><rect x="24.6" y="97.5" width="25.5" height="25.0" fill="#4d4d4d"/><rect x="49.6" y="97.5" width="25.5" height="25.0" fill="#4d4d4d"/><rect x="74.5" y="97.5" width="25.5" height="25.0" fill="#808080"/><rect x="99.5" y="97.5" width="25.5" height="25.0" fill="#a8a8a8"/><rect x="124.4" y="97.5" width="25.5" height="25.0" fill="#808080"/><rect x="149.3" y="97.5" width="25.5" height="25.0" fill="#a8a8a8"/><rect x="174.3" y="97.5" width="25.5" height="25.0" fill="#a8a8a8"/><rect x="199.2" y="97.5" width="25.5" height="25.0" fill="#808080"/><rect x="224.2" y="97.5" width="25.5" height="25.0" fill="#808080"/><rect x="249.1" y="97.5" width="25.5" height="25.0" fill="#808080"/><rect x="274.1" y="97.5" width="55.5" height="25.0" fill="#a8a8a8"/><rect x="-30.3" y="121.9" width="55.5" height="25.0" fill="#4d4d4d"/><rect x="24.6" y="121.9" width="25.5" height="25.0" fill="#808080"/><rect x="49.6" y="121.9" width="25.5" height="25.0" fill="#4d4d4d"/><rect x="74.5" y="121.9" width="25.5" height="25.0" fill="#a8a8a8"/><rect x="99.5" y="121.9" width="25.5" height="25.0" fill="#a8a8a8"/><rect x="124.4" y="121.9" width="25.5" height="25.0" fill="#808080"/><rect x="149.3" y="121.9" width="25.5" height="25.0" fill="#808080"/><rect x="174.3" y="121.9" width="25.5" height="25.0" fill="#808080"/><rect x="199.2" y="121.9" width="25.5" height="25.0" fill="#a8a8a8"/><rect x="224.2" y="121.9" width="25.5" height="25.0" fill="#a8a8a8"/><rect x="249.1" y="121.9" width="25.5" height="25.0" fill="#a8a8a8"/><rect x="274.1" y="121.9" width="55.5" height="25.0" fill="#808080"/><rect x="-30.3" y="146.3" width="55.5" height="25.0" fill="#4d4d4d"/><rect x="24.6" y="146.3" width="25.5" height="25.0" fill="#808080"/><rect x="49.6" y="146.3" width="25.5" height="25.0" fill="#4d4d4d"/><rect x="74.5" y="146.3" width="25.5" height="25.0" fill="#a8a8a8"/><rect x="99.5" y="146.3" width="25.5" height="25.0" fill="#a8a8a8"/><rect x="124.4" y="146.3" width="25.5" height="25.0" fill="#808080"/><rect x="149.3" y="146.3" width="25.5" height="25.0" fill="#4d4d4d"/><rect x="174.3" y="146.3" width="25.5" height="25.0" fill="#808080"/><rect x="199.2" y="146.3" width="25.5" height="25.0" fill="#4d4d4d"/><rect x="224.2" y="146.3" width="25.5" height="25.0" fill="#808080"/><rect x="249.1" y="146.3" width="25.5" height="25.0" fill="#4d4d4d"/><rect x="274.1" y="146.3" width="55.5" height="25.0" fill="#4d4d4d"/><rect x="-30.3" y="170.8" width="55.5" height="55.0" fill="#4d4d4d"/><rect x="24.6" y="170.8" width="25.5" height="55.0" fill="#808080"/><rect x="49.6" y="170.8" width="25.5" height="55.0" fill="#a8a8a8"/><rect x="74.5" y="170.8" width="25.5" height="55.0" fill="#a8a8a8"/><rect x="99.5" y="170.8" width="25.5" height="55.0" fill="#a8a8a8"/><rect x="124.4" y="170.8" width="25.5" height="55.0" fill="#808080"/><rect x="149.3" y="170.8" width="25.5" height="55.0" fill="#4d4d4d"/><rect x="174.3" y="170.8" width="25.5" height="55.0" fill="#808080"/><rect x="199.2" y="170.8" width="25.5" height="55.0" fill="#4d4d4d"/><rect x="224.2" y="170.8" width="25.5" height="55.0" fill="#4d4d4d"/><rect x="249.1" y="170.8" width="25.5" height="55.0" fill="#4d4d4d"/><rect x="274.1" y="170.8" width="55.5" height="55.0" fill="#4d4d4d"/></g><path d="M7.1 130.9m-3.0 0a3.0 3.0 0 1 0 6.0 0a3.0 3.0 0 1 0 -6.0 0M130.5 44.9m-3.0 0a3.0 3.0 0 1 0 6.0 0a3.0 3.0 0 1 0 -6.0 0M224.1 183.1m-3.0 0a3.0 3.0 0 1 0 6.0 0a3.0 3.0 0 1 0 -6.0 0M179.2 141.0m-3.0 0a3.0 3.0 0 1 0 6.0 0a3.0 3.0 0 1 0 -6.0 0M42.0 17.8m-3.0 0a3.0 3.0 0 1 0 6.0 0a3.0 3.0 0 1 0 -6.0 0M68.1 87.3m-3.0 0a3.0 3.0 0 1 0 6.0 0a3.0 3.0 0 1 0 -6.0 0M253.5 18.2m-3.0 0a3.0 3.0 0 1 0 6.0 0a3.0 3.0 0 1 0 -6.0 0M285.7 174.8m-3.0 0a3.0 3.0 0 1 0 6.0 0a3.0 3.0 0 1 0 -6.0 0M137.0 176.5m-3.0 0a3.0 3.0 0 1 0 6.0 0a3.0 3.0 0 1 0 -6.0 0M187.7 188.2m-3.0 0a3.0 3.0 0 1 0 6.0 0a3.0 3.0 0 1 0 -6.0 0M122.3 24.9m-3.0 0a3.0 3.0 0 1 0 6.0 0a3.0 3.0 0 1 0 -6.0 0M185.6 61.0m-3.0 0a3.0 3.0 0 1 0 6.0 0a3.0 3.0 0 1 0 -6.0 0M290.3 37.1m-3.0 0a3.0 3.0 0 1 0 6.0 0a3.0 3.0 0 1 0 -6.0 0M116.0 46.5m-3.0 0a3.0 3.0 0 1 0 6.0 0a3.0 3.0 0 1 0 -6.0 0M262.5 55.0m-3.0 0a3.0 3.0 0 1 0 6.0 0a3.0 3.0 0 1 0 -6.0 0M191.6 141.8m-3.0 0a3.0 3.0 0 1 0 6.0 0a3.0 3.0 0 1 0 -6.0 0M58.0 166.4m-3.0 0a3.0 3.0 0 1 0 6.0 0a3.0 3.0 0 1 0 -6.0 0M292.4 27.7m-3.0 0a3.0 3.0 0 1 0 6.0 0a3.0 3.0 0 1 0 -6.0 0M114.7 43.4m-3.0 0a3.0 3.0 0 1 0 6.0 0a3.0 3.0 0 1 0 -6.0 0M153.4 95.5m-3.0 0a3.0 3.0 0 1 0 6.0 0a3.0 3.0 0 1 0 -6.0 0" fill="#e8e2f4" stroke="#6a6488" stroke-width="1.2" opacity="0.85"/><path d="M85.8 127.2m-3.1 0a3.1 3.1 0 1 0 6.2 0a3.1 3.1 0 1 0 -6.2 0M122.2 61.1m-3.9 0a3.9 3.9 0 1 0 7.8 0a3.9 3.9 0 1 0 -7.8 0M71.5 131.8m-3.3 0a3.3 3.3 0 1 0 6.5 0a3.3 3.3 0 1 0 -6.5 0M190.8 7.9m-2.9 0a2.9 2.9 0 1 0 5.8 0a2.9 2.9 0 1 0 -5.8 0M99.7 138.6m-3.3 0a3.3 3.3 0 1 0 6.7 0a3.3 3.3 0 1 0 -6.7 0M190.0 139.7m-3.2 0a3.2 3.2 0 1 0 6.3 0a3.2 3.2 0 1 0 -6.3 0M88.5 16.1m-3.7 0a3.7 3.7 0 1 0 7.3 0a3.7 3.7 0 1 0 -7.3 0M190.1 47.5m-2.8 0a2.8 2.8 0 1 0 5.7 0a2.8 2.8 0 1 0 -5.7 0M93.2 90.4m-3.8 0a3.8 3.8 0 1 0 7.6 0a3.8 3.8 0 1 0 -7.6 0M192.5 43.8m-3.1 0a3.1 3.1 0 1 0 6.2 0a3.1 3.1 0 1 0 -6.2 0M201.0 65.6m-2.9 0a2.9 2.9 0 1 0 5.8 0a2.9 2.9 0 1 0 -5.8 0M91.4 70.9m-3.3 0a3.3 3.3 0 1 0 6.7 0a3.3 3.3 0 1 0 -6.7 0M286.9 39.8m-3.3 0a3.3 3.3 0 1 0 6.5 0a3.3 3.3 0 1 0 -6.5 0M107.8 83.1m-3.6 0a3.6 3.6 0 1 0 7.3 0a3.6 3.6 0 1 0 -7.3 0M87.8 88.5m-2.9 0a2.9 2.9 0 1 0 5.9 0a2.9 2.9 0 1 0 -5.9 0M258.0 23.7m-3.5 0a3.5 3.5 0 1 0 7.0 0a3.5 3.5 0 1 0 -7.0 0M39.5 35.1m-3.0 0a3.0 3.0 0 1 0 6.0 0a3.0 3.0 0 1 0 -6.0 0M10.2 55.5m-3.2 0a3.2 3.2 0 1 0 6.3 0a3.2 3.2 0 1 0 -6.3 0M294.8 39.4m-3.5 0a3.5 3.5 0 1 0 7.0 0a3.5 3.5 0 1 0 -7.0 0M182.5 143.5m-3.7 0a3.7 3.7 0 1 0 7.4 0a3.7 3.7 0 1 0 -7.4 0M123.9 79.6m-3.1 0a3.1 3.1 0 1 0 6.3 0a3.1 3.1 0 1 0 -6.3 0M228.2 136.8m-3.2 0a3.2 3.2 0 1 0 6.4 0a3.2 3.2 0 1 0 -6.4 0M274.3 140.3m-3.5 0a3.5 3.5 0 1 0 6.9 0a3.5 3.5 0 1 0 -6.9 0M115.1 38.2m-3.3 0a3.3 3.3 0 1 0 6.6 0a3.3 3.3 0 1 0 -6.6 0M56.8 82.4m-2.8 0a2.8 2.8 0 1 0 5.7 0a2.8 2.8 0 1 0 -5.7 0M143.4 32.2m-3.1 0a3.1 3.1 0 1 0 6.3 0a3.1 3.1 0 1 0 -6.3 0M239.2 70.9m-3.5 0a3.5 3.5 0 1 0 6.9 0a3.5 3.5 0 1 0 -6.9 0M260.4 29.2m-3.7 0a3.7 3.7 0 1 0 7.4 0a3.7 3.7 0 1 0 -7.4 0M123.2 187.9m-2.9 0a2.9 2.9 0 1 0 5.8 0a2.9 2.9 0 1 0 -5.8 0M57.3 18.2m-3.4 0a3.4 3.4 0 1 0 6.9 0a3.4 3.4 0 1 0 -6.9 0M143.8 37.0m-3.4 0a3.4 3.4 0 1 0 6.7 0a3.4 3.4 0 1 0 -6.7 0M108.3 165.7m-3.1 0a3.1 3.1 0 1 0 6.3 0a3.1 3.1 0 1 0 -6.3 0M288.1 107.9m-3.4 0a3.4 3.4 0 1 0 6.7 0a3.4 3.4 0 1 0 -6.7 0M54.4 88.4m-3.6 0a3.6 3.6 0 1 0 7.1 0a3.6 3.6 0 1 0 -7.1 0M138.6 9.4m-3.8 0a3.8 3.8 0 1 0 7.6 0a3.8 3.8 0 1 0 -7.6 0M151.4 137.0m-3.1 0a3.1 3.1 0 1 0 6.3 0a3.1 3.1 0 1 0 -6.3 0M48.9 190.3m-3.2 0a3.2 3.2 0 1 0 6.5 0a3.2 3.2 0 1 0 -6.5 0M247.6 66.2m-2.9 0a2.9 2.9 0 1 0 5.9 0a2.9 2.9 0 1 0 -5.9 0M101.5 173.2m-3.7 0a3.7 3.7 0 1 0 7.4 0a3.7 3.7 0 1 0 -7.4 0M50.0 133.4m-3.3 0a3.3 3.3 0 1 0 6.6 0a3.3 3.3 0 1 0 -6.6 0M78.1 120.2m-3.8 0a3.8 3.8 0 1 0 7.6 0a3.8 3.8 0 1 0 -7.6 0M195.7 43.1m-3.2 0a3.2 3.2 0 1 0 6.5 0a3.2 3.2 0 1 0 -6.5 0M47.9 76.3m-3.6 0a3.6 3.6 0 1 0 7.3 0a3.6 3.6 0 1 0 -7.3 0M76.7 97.4m-3.3 0a3.3 3.3 0 1 0 6.6 0a3.3 3.3 0 1 0 -6.6 0M42.5 101.9m-3.1 0a3.1 3.1 0 1 0 6.3 0a3.1 3.1 0 1 0 -6.3 0M283.1 29.2m-3.7 0a3.7 3.7 0 1 0 7.4 0a3.7 3.7 0 1 0 -7.4 0M294.7 102.0m-3.4 0a3.4 3.4 0 1 0 6.9 0a3.4 3.4 0 1 0 -6.9 0M40.0 174.6m-3.3 0a3.3 3.3 0 1 0 6.7 0a3.3 3.3 0 1 0 -6.7 0M109.4 86.6m-3.0 0a3.0 3.0 0 1 0 6.1 0a3.0 3.0 0 1 0 -6.1 0M101.3 54.7m-3.2 0a3.2 3.2 0 1 0 6.4 0a3.2 3.2 0 1 0 -6.4 0M212.7 40.2m-3.6 0a3.6 3.6 0 1 0 7.1 0a3.6 3.6 0 1 0 -7.1 0M146.4 120.7m-3.6 0a3.6 3.6 0 1 0 7.3 0a3.6 3.6 0 1 0 -7.3 0M179.5 52.3m-3.8 0a3.8 3.8 0 1 0 7.6 0a3.8 3.8 0 1 0 -7.6 0M61.8 116.0m-3.0 0a3.0 3.0 0 1 0 6.1 0a3.0 3.0 0 1 0 -6.1 0M245.4 129.3m-3.6 0a3.6 3.6 0 1 0 7.1 0a3.6 3.6 0 1 0 -7.1 0M82.5 146.4m-3.7 0a3.7 3.7 0 1 0 7.4 0a3.7 3.7 0 1 0 -7.4 0M89.5 158.0m-3.8 0a3.8 3.8 0 1 0 7.6 0a3.8 3.8 0 1 0 -7.6 0M226.0 33.2m-3.8 0a3.8 3.8 0 1 0 7.6 0a3.8 3.8 0 1 0 -7.6 0M268.8 11.3m-3.6 0a3.6 3.6 0 1 0 7.1 0a3.6 3.6 0 1 0 -7.1 0M206.9 189.4m-3.2 0a3.2 3.2 0 1 0 6.3 0a3.2 3.2 0 1 0 -6.3 0M145.1 162.2m-3.4 0a3.4 3.4 0 1 0 6.8 0a3.4 3.4 0 1 0 -6.8 0M8.8 73.5m-2.9 0a2.9 2.9 0 1 0 5.9 0a2.9 2.9 0 1 0 -5.9 0M108.4 16.8m-3.8 0a3.8 3.8 0 1 0 7.7 0a3.8 3.8 0 1 0 -7.7 0M163.9 184.6m-3.1 0a3.1 3.1 0 1 0 6.2 0a3.1 3.1 0 1 0 -6.2 0M132.4 182.4m-3.0 0a3.0 3.0 0 1 0 6.0 0a3.0 3.0 0 1 0 -6.0 0M214.2 12.1m-2.8 0a2.8 2.8 0 1 0 5.6 0a2.8 2.8 0 1 0 -5.6 0M138.8 99.7m-3.4 0a3.4 3.4 0 1 0 6.8 0a3.4 3.4 0 1 0 -6.8 0M33.2 37.4m-3.2 0a3.2 3.2 0 1 0 6.4 0a3.2 3.2 0 1 0 -6.4 0M155.1 73.0m-3.8 0a3.8 3.8 0 1 0 7.6 0a3.8 3.8 0 1 0 -7.6 0M169.5 52.7m-3.0 0a3.0 3.0 0 1 0 6.1 0a3.0 3.0 0 1 0 -6.1 0M273.2 42.4m-3.3 0a3.3 3.3 0 1 0 6.5 0a3.3 3.3 0 1 0 -6.5 0M260.3 132.7m-2.8 0a2.8 2.8 0 1 0 5.7 0a2.8 2.8 0 1 0 -5.7 0M210.1 26.0m-3.5 0a3.5 3.5 0 1 0 7.1 0a3.5 3.5 0 1 0 -7.1 0M204.5 98.3m-3.3 0a3.3 3.3 0 1 0 6.6 0a3.3 3.3 0 1 0 -6.6 0M135.9 17.3m-2.9 0a2.9 2.9 0 1 0 5.9 0a2.9 2.9 0 1 0 -5.9 0M169.0 158.8m-3.1 0a3.1 3.1 0 1 0 6.2 0a3.1 3.1 0 1 0 -6.2 0M26.3 136.8m-3.4 0a3.4 3.4 0 1 0 6.8 0a3.4 3.4 0 1 0 -6.8 0M104.8 70.3m-3.6 0a3.6 3.6 0 1 0 7.2 0a3.6 3.6 0 1 0 -7.2 0M225.0 124.4m-3.9 0a3.9 3.9 0 1 0 7.7 0a3.9 3.9 0 1 0 -7.7 0M96.1 31.3m-3.8 0a3.8 3.8 0 1 0 7.7 0a3.8 3.8 0 1 0 -7.7 0M103.3 161.5m-3.7 0a3.7 3.7 0 1 0 7.5 0a3.7 3.7 0 1 0 -7.5 0M133.7 141.3m-3.8 0a3.8 3.8 0 1 0 7.6 0a3.8 3.8 0 1 0 -7.6 0M75.1 54.5m-3.0 0a3.0 3.0 0 1 0 6.0 0a3.0 3.0 0 1 0 -6.0 0M279.9 71.2m-3.2 0a3.2 3.2 0 1 0 6.4 0a3.2 3.2 0 1 0 -6.4 0M287.0 64.4m-3.7 0a3.7 3.7 0 1 0 7.4 0a3.7 3.7 0 1 0 -7.4 0M67.2 181.5m-3.8 0a3.8 3.8 0 1 0 7.6 0a3.8 3.8 0 1 0 -7.6 0M161.4 162.0m-3.6 0a3.6 3.6 0 1 0 7.2 0a3.6 3.6 0 1 0 -7.2 0M82.6 161.8m-3.4 0a3.4 3.4 0 1 0 6.8 0a3.4 3.4 0 1 0 -6.8 0M167.9 126.4m-3.1 0a3.1 3.1 0 1 0 6.1 0a3.1 3.1 0 1 0 -6.1 0M128.7 87.6m-3.5 0a3.5 3.5 0 1 0 7.0 0a3.5 3.5 0 1 0 -7.0 0M106.9 10.9m-3.5 0a3.5 3.5 0 1 0 7.0 0a3.5 3.5 0 1 0 -7.0 0M64.7 159.2m-3.5 0a3.5 3.5 0 1 0 6.9 0a3.5 3.5 0 1 0 -6.9 0M230.6 119.1m-3.6 0a3.6 3.6 0 1 0 7.3 0a3.6 3.6 0 1 0 -7.3 0M131.5 12.9m-3.2 0a3.2 3.2 0 1 0 6.5 0a3.2 3.2 0 1 0 -6.5 0M274.6 129.1m-3.3 0a3.3 3.3 0 1 0 6.6 0a3.3 3.3 0 1 0 -6.6 0M69.0 128.1m-3.6 0a3.6 3.6 0 1 0 7.3 0a3.6 3.6 0 1 0 -7.3 0M241.8 125.4m-3.8 0a3.8 3.8 0 1 0 7.6 0a3.8 3.8 0 1 0 -7.6 0M25.9 97.7m-3.3 0a3.3 3.3 0 1 0 6.7 0a3.3 3.3 0 1 0 -6.7 0M276.6 88.9m-3.4 0a3.4 3.4 0 1 0 6.9 0a3.4 3.4 0 1 0 -6.9 0M94.7 143.3m-3.2 0a3.2 3.2 0 1 0 6.4 0a3.2 3.2 0 1 0 -6.4 0M128.9 113.4m-2.9 0a2.9 2.9 0 1 0 5.9 0a2.9 2.9 0 1 0 -5.9 0M272.1 59.2m-3.8 0a3.8 3.8 0 1 0 7.6 0a3.8 3.8 0 1 0 -7.6 0M272.5 19.4m-3.7 0a3.7 3.7 0 1 0 7.4 0a3.7 3.7 0 1 0 -7.4 0M225.2 47.1m-3.9 0a3.9 3.9 0 1 0 7.7 0a3.9 3.9 0 1 0 -7.7 0M281.4 114.5m-2.9 0a2.9 2.9 0 1 0 5.8 0a2.9 2.9 0 1 0 -5.8 0M207.0 99.8m-3.1 0a3.1 3.1 0 1 0 6.2 0a3.1 3.1 0 1 0 -6.2 0M12.2 45.1m-3.2 0a3.2 3.2 0 1 0 6.4 0a3.2 3.2 0 1 0 -6.4 0M9.2 19.3m-3.4 0a3.4 3.4 0 1 0 6.9 0a3.4 3.4 0 1 0 -6.9 0M280.0 184.1m-3.1 0a3.1 3.1 0 1 0 6.2 0a3.1 3.1 0 1 0 -6.2 0M54.0 8.2m-3.0 0a3.0 3.0 0 1 0 5.9 0a3.0 3.0 0 1 0 -5.9 0" fill="#2c1a6a"/></svg>
<svg x="1086.70" y="1062.50" width="299.80" height="195.50" viewBox="0 0 299.80 195.50" preserveAspectRatio="none"><rect width="299.80" height="195.50" fill="#bfb6de"/><filter id="oB8" filterUnits="userSpaceOnUse" x="-30" y="-30" width="359.8" height="255.5" color-interpolation-filters="sRGB"><feGaussianBlur in="SourceGraphic" stdDeviation="7" edgeMode="duplicate" result="c"/><feTurbulence type="fractalNoise" baseFrequency="0.045" numOctaves="2" seed="122"/><feColorMatrix type="matrix" values="-1.600 0 0 0 1.300 -1.600 0 0 0 1.300 -1.600 0 0 0 1.300 0 0 0 0 1" result="n"/><feComposite in="c" in2="n" operator="arithmetic" k2="1" k3="1" k4="-0.5" result="s"/><feComponentTransfer in="s"><feFuncR type="table" tableValues="0 0 0.05 0.95 1 1"/><feFuncG type="table" tableValues="0 0 0.05 0.95 1 1"/><feFuncB type="table" tableValues="0 0 0.05 0.95 1 1"/></feComponentTransfer><feColorMatrix type="matrix" values="-0.4000 0 0 0 0.7922 -0.5255 0 0 0 0.7686 -0.1961 0 0 0 0.8941 0 0 0 0 1"/></filter><g filter="url(#oB8)"><rect x="-30.3" y="-30.3" width="55.6" height="55.0" fill="#666666"/><rect x="24.7" y="-30.3" width="25.6" height="55.0" fill="#666666"/><rect x="49.7" y="-30.3" width="25.6" height="55.0" fill="#242424"/><rect x="74.6" y="-30.3" width="25.6" height="55.0" fill="#666666"/><rect x="99.6" y="-30.3" width="25.6" height="55.0" fill="#666666"/><rect x="124.6" y="-30.3" width="25.6" height="55.0" fill="#242424"/><rect x="149.6" y="-30.3" width="25.6" height="55.0" fill="#242424"/><rect x="174.6" y="-30.3" width="25.6" height="55.0" fill="#242424"/><rect x="199.6" y="-30.3" width="25.6" height="55.0" fill="#242424"/><rect x="224.5" y="-30.3" width="25.6" height="55.0" fill="#242424"/><rect x="249.5" y="-30.3" width="25.6" height="55.0" fill="#242424"/><rect x="274.5" y="-30.3" width="55.6" height="55.0" fill="#666666"/><rect x="-30.3" y="24.1" width="55.6" height="25.0" fill="#666666"/><rect x="24.7" y="24.1" width="25.6" height="25.0" fill="#242424"/><rect x="49.7" y="24.1" width="25.6" height="25.0" fill="#242424"/><rect x="74.6" y="24.1" width="25.6" height="25.0" fill="#666666"/><rect x="99.6" y="24.1" width="25.6" height="25.0" fill="#242424"/><rect x="124.6" y="24.1" width="25.6" height="25.0" fill="#242424"/><rect x="149.6" y="24.1" width="25.6" height="25.0" fill="#242424"/><rect x="174.6" y="24.1" width="25.6" height="25.0" fill="#242424"/><rect x="199.6" y="24.1" width="25.6" height="25.0" fill="#666666"/><rect x="224.5" y="24.1" width="25.6" height="25.0" fill="#666666"/><rect x="249.5" y="24.1" width="25.6" height="25.0" fill="#666666"/><rect x="274.5" y="24.1" width="55.6" height="25.0" fill="#242424"/><rect x="-30.3" y="48.6" width="55.6" height="25.0" fill="#242424"/><rect x="24.7" y="48.6" width="25.6" height="25.0" fill="#242424"/><rect x="49.7" y="48.6" width="25.6" height="25.0" fill="#666666"/><rect x="74.6" y="48.6" width="25.6" height="25.0" fill="#242424"/><rect x="99.6" y="48.6" width="25.6" height="25.0" fill="#242424"/><rect x="124.6" y="48.6" width="25.6" height="25.0" fill="#242424"/><rect x="149.6" y="48.6" width="25.6" height="25.0" fill="#666666"/><rect x="174.6" y="48.6" width="25.6" height="25.0" fill="#242424"/><rect x="199.6" y="48.6" width="25.6" height="25.0" fill="#242424"/><rect x="224.5" y="48.6" width="25.6" height="25.0" fill="#242424"/><rect x="249.5" y="48.6" width="25.6" height="25.0" fill="#242424"/><rect x="274.5" y="48.6" width="55.6" height="25.0" fill="#242424"/><rect x="-30.3" y="73.0" width="55.6" height="25.0" fill="#242424"/><rect x="24.7" y="73.0" width="25.6" height="25.0" fill="#242424"/><rect x="49.7" y="73.0" width="25.6" height="25.0" fill="#242424"/><rect x="74.6" y="73.0" width="25.6" height="25.0" fill="#242424"/><rect x="99.6" y="73.0" width="25.6" height="25.0" fill="#666666"/><rect x="124.6" y="73.0" width="25.6" height="25.0" fill="#666666"/><rect x="149.6" y="73.0" width="25.6" height="25.0" fill="#242424"/><rect x="174.6" y="73.0" width="25.6" height="25.0" fill="#666666"/><rect x="199.6" y="73.0" width="25.6" height="25.0" fill="#242424"/><rect x="224.5" y="73.0" width="25.6" height="25.0" fill="#242424"/><rect x="249.5" y="73.0" width="25.6" height="25.0" fill="#242424"/><rect x="274.5" y="73.0" width="55.6" height="25.0" fill="#242424"/><rect x="-30.3" y="97.5" width="55.6" height="25.0" fill="#242424"/><rect x="24.7" y="97.5" width="25.6" height="25.0" fill="#242424"/><rect x="49.7" y="97.5" width="25.6" height="25.0" fill="#242424"/><rect x="74.6" y="97.5" width="25.6" height="25.0" fill="#242424"/><rect x="99.6" y="97.5" width="25.6" height="25.0" fill="#242424"/><rect x="124.6" y="97.5" width="25.6" height="25.0" fill="#242424"/><rect x="149.6" y="97.5" width="25.6" height="25.0" fill="#242424"/><rect x="174.6" y="97.5" width="25.6" height="25.0" fill="#242424"/><rect x="199.6" y="97.5" width="25.6" height="25.0" fill="#666666"/><rect x="224.5" y="97.5" width="25.6" height="25.0" fill="#242424"/><rect x="249.5" y="97.5" width="25.6" height="25.0" fill="#242424"/><rect x="274.5" y="97.5" width="55.6" height="25.0" fill="#242424"/><rect x="-30.3" y="121.9" width="55.6" height="25.0" fill="#666666"/><rect x="24.7" y="121.9" width="25.6" height="25.0" fill="#666666"/><rect x="49.7" y="121.9" width="25.6" height="25.0" fill="#242424"/><rect x="74.6" y="121.9" width="25.6" height="25.0" fill="#666666"/><rect x="99.6" y="121.9" width="25.6" height="25.0" fill="#666666"/><rect x="124.6" y="121.9" width="25.6" height="25.0" fill="#242424"/><rect x="149.6" y="121.9" width="25.6" height="25.0" fill="#242424"/><rect x="174.6" y="121.9" width="25.6" height="25.0" fill="#666666"/><rect x="199.6" y="121.9" width="25.6" height="25.0" fill="#242424"/><rect x="224.5" y="121.9" width="25.6" height="25.0" fill="#242424"/><rect x="249.5" y="121.9" width="25.6" height="25.0" fill="#242424"/><rect x="274.5" y="121.9" width="55.6" height="25.0" fill="#242424"/><rect x="-30.3" y="146.3" width="55.6" height="25.0" fill="#242424"/><rect x="24.7" y="146.3" width="25.6" height="25.0" fill="#666666"/><rect x="49.7" y="146.3" width="25.6" height="25.0" fill="#242424"/><rect x="74.6" y="146.3" width="25.6" height="25.0" fill="#666666"/><rect x="99.6" y="146.3" width="25.6" height="25.0" fill="#666666"/><rect x="124.6" y="146.3" width="25.6" height="25.0" fill="#242424"/><rect x="149.6" y="146.3" width="25.6" height="25.0" fill="#242424"/><rect x="174.6" y="146.3" width="25.6" height="25.0" fill="#666666"/><rect x="199.6" y="146.3" width="25.6" height="25.0" fill="#242424"/><rect x="224.5" y="146.3" width="25.6" height="25.0" fill="#242424"/><rect x="249.5" y="146.3" width="25.6" height="25.0" fill="#242424"/><rect x="274.5" y="146.3" width="55.6" height="25.0" fill="#242424"/><rect x="-30.3" y="170.8" width="55.6" height="55.0" fill="#242424"/><rect x="24.7" y="170.8" width="25.6" height="55.0" fill="#242424"/><rect x="49.7" y="170.8" width="25.6" height="55.0" fill="#242424"/><rect x="74.6" y="170.8" width="25.6" height="55.0" fill="#242424"/><rect x="99.6" y="170.8" width="25.6" height="55.0" fill="#666666"/><rect x="124.6" y="170.8" width="25.6" height="55.0" fill="#242424"/><rect x="149.6" y="170.8" width="25.6" height="55.0" fill="#242424"/><rect x="174.6" y="170.8" width="25.6" height="55.0" fill="#242424"/><rect x="199.6" y="170.8" width="25.6" height="55.0" fill="#242424"/><rect x="224.5" y="170.8" width="25.6" height="55.0" fill="#242424"/><rect x="249.5" y="170.8" width="25.6" height="55.0" fill="#242424"/><rect x="274.5" y="170.8" width="55.6" height="55.0" fill="#242424"/></g><path d="M198.5 126.6m-3.0 0a3.0 3.0 0 1 0 6.0 0a3.0 3.0 0 1 0 -6.0 0M211.0 77.2m-3.0 0a3.0 3.0 0 1 0 6.0 0a3.0 3.0 0 1 0 -6.0 0M185.9 103.6m-3.0 0a3.0 3.0 0 1 0 6.0 0a3.0 3.0 0 1 0 -6.0 0M113.8 49.8m-3.0 0a3.0 3.0 0 1 0 6.0 0a3.0 3.0 0 1 0 -6.0 0M16.8 140.1m-3.0 0a3.0 3.0 0 1 0 6.0 0a3.0 3.0 0 1 0 -6.0 0M274.1 103.6m-3.0 0a3.0 3.0 0 1 0 6.0 0a3.0 3.0 0 1 0 -6.0 0M159.1 17.5m-3.0 0a3.0 3.0 0 1 0 6.0 0a3.0 3.0 0 1 0 -6.0 0M60.4 107.3m-3.0 0a3.0 3.0 0 1 0 6.0 0a3.0 3.0 0 1 0 -6.0 0M10.2 13.3m-3.0 0a3.0 3.0 0 1 0 6.0 0a3.0 3.0 0 1 0 -6.0 0M114.4 157.0m-3.0 0a3.0 3.0 0 1 0 6.0 0a3.0 3.0 0 1 0 -6.0 0M64.5 96.1m-3.0 0a3.0 3.0 0 1 0 6.0 0a3.0 3.0 0 1 0 -6.0 0M176.1 28.9m-3.0 0a3.0 3.0 0 1 0 6.0 0a3.0 3.0 0 1 0 -6.0 0M286.5 139.8m-3.0 0a3.0 3.0 0 1 0 6.0 0a3.0 3.0 0 1 0 -6.0 0M189.9 181.1m-3.0 0a3.0 3.0 0 1 0 6.0 0a3.0 3.0 0 1 0 -6.0 0M222.2 22.8m-3.0 0a3.0 3.0 0 1 0 6.0 0a3.0 3.0 0 1 0 -6.0 0M30.4 188.3m-3.0 0a3.0 3.0 0 1 0 6.0 0a3.0 3.0 0 1 0 -6.0 0M158.3 175.3m-3.0 0a3.0 3.0 0 1 0 6.0 0a3.0 3.0 0 1 0 -6.0 0M250.7 28.2m-3.0 0a3.0 3.0 0 1 0 6.0 0a3.0 3.0 0 1 0 -6.0 0M78.2 157.0m-3.0 0a3.0 3.0 0 1 0 6.0 0a3.0 3.0 0 1 0 -6.0 0M270.5 166.0m-3.0 0a3.0 3.0 0 1 0 6.0 0a3.0 3.0 0 1 0 -6.0 0M8.2 18.3m-3.0 0a3.0 3.0 0 1 0 6.0 0a3.0 3.0 0 1 0 -6.0 0M121.6 120.8m-3.0 0a3.0 3.0 0 1 0 6.0 0a3.0 3.0 0 1 0 -6.0 0M215.7 118.5m-3.0 0a3.0 3.0 0 1 0 6.0 0a3.0 3.0 0 1 0 -6.0 0M274.1 57.6m-3.0 0a3.0 3.0 0 1 0 6.0 0a3.0 3.0 0 1 0 -6.0 0M88.9 89.7m-3.0 0a3.0 3.0 0 1 0 6.0 0a3.0 3.0 0 1 0 -6.0 0" fill="#e8e2f4" stroke="#6a6488" stroke-width="1.2" opacity="0.85"/><path d="M128.6 188.9m-3.6 0a3.6 3.6 0 1 0 7.3 0a3.6 3.6 0 1 0 -7.3 0M10.6 35.0m-3.5 0a3.5 3.5 0 1 0 7.0 0a3.5 3.5 0 1 0 -7.0 0M293.2 187.9m-2.9 0a2.9 2.9 0 1 0 5.8 0a2.9 2.9 0 1 0 -5.8 0M95.1 124.4m-2.9 0a2.9 2.9 0 1 0 5.7 0a2.9 2.9 0 1 0 -5.7 0M193.7 159.2m-2.9 0a2.9 2.9 0 1 0 5.9 0a2.9 2.9 0 1 0 -5.9 0M126.2 34.6m-3.3 0a3.3 3.3 0 1 0 6.6 0a3.3 3.3 0 1 0 -6.6 0M158.2 170.7m-3.1 0a3.1 3.1 0 1 0 6.2 0a3.1 3.1 0 1 0 -6.2 0M86.4 140.2m-3.4 0a3.4 3.4 0 1 0 6.7 0a3.4 3.4 0 1 0 -6.7 0M28.3 14.3m-3.9 0a3.9 3.9 0 1 0 7.8 0a3.9 3.9 0 1 0 -7.8 0M5.1 160.1m-3.4 0a3.4 3.4 0 1 0 6.8 0a3.4 3.4 0 1 0 -6.8 0M252.3 163.3m-3.8 0a3.8 3.8 0 1 0 7.7 0a3.8 3.8 0 1 0 -7.7 0M167.5 70.1m-2.8 0a2.8 2.8 0 1 0 5.6 0a2.8 2.8 0 1 0 -5.6 0M228.8 168.2m-3.2 0a3.2 3.2 0 1 0 6.4 0a3.2 3.2 0 1 0 -6.4 0M36.6 156.8m-3.5 0a3.5 3.5 0 1 0 7.0 0a3.5 3.5 0 1 0 -7.0 0M10.0 99.1m-3.2 0a3.2 3.2 0 1 0 6.4 0a3.2 3.2 0 1 0 -6.4 0M164.8 58.5m-3.4 0a3.4 3.4 0 1 0 6.8 0a3.4 3.4 0 1 0 -6.8 0M10.7 144.5m-3.0 0a3.0 3.0 0 1 0 6.0 0a3.0 3.0 0 1 0 -6.0 0M66.6 135.1m-3.9 0a3.9 3.9 0 1 0 7.7 0a3.9 3.9 0 1 0 -7.7 0M198.5 80.6m-3.1 0a3.1 3.1 0 1 0 6.1 0a3.1 3.1 0 1 0 -6.1 0M227.2 40.3m-3.2 0a3.2 3.2 0 1 0 6.5 0a3.2 3.2 0 1 0 -6.5 0M290.7 101.7m-3.7 0a3.7 3.7 0 1 0 7.4 0a3.7 3.7 0 1 0 -7.4 0M72.6 6.7m-3.0 0a3.0 3.0 0 1 0 6.1 0a3.0 3.0 0 1 0 -6.1 0M55.7 79.9m-3.0 0a3.0 3.0 0 1 0 5.9 0a3.0 3.0 0 1 0 -5.9 0M145.4 97.1m-3.0 0a3.0 3.0 0 1 0 6.0 0a3.0 3.0 0 1 0 -6.0 0M277.3 58.7m-3.5 0a3.5 3.5 0 1 0 7.1 0a3.5 3.5 0 1 0 -7.1 0M91.1 30.1m-2.8 0a2.8 2.8 0 1 0 5.7 0a2.8 2.8 0 1 0 -5.7 0M43.8 173.8m-3.6 0a3.6 3.6 0 1 0 7.3 0a3.6 3.6 0 1 0 -7.3 0M280.8 89.4m-3.3 0a3.3 3.3 0 1 0 6.6 0a3.3 3.3 0 1 0 -6.6 0M12.0 180.9m-3.0 0a3.0 3.0 0 1 0 6.0 0a3.0 3.0 0 1 0 -6.0 0M217.6 109.1m-3.5 0a3.5 3.5 0 1 0 7.1 0a3.5 3.5 0 1 0 -7.1 0M268.5 177.1m-3.6 0a3.6 3.6 0 1 0 7.2 0a3.6 3.6 0 1 0 -7.2 0M18.6 89.9m-3.9 0a3.9 3.9 0 1 0 7.7 0a3.9 3.9 0 1 0 -7.7 0M110.7 104.6m-2.8 0a2.8 2.8 0 1 0 5.7 0a2.8 2.8 0 1 0 -5.7 0M111.6 108.5m-3.4 0a3.4 3.4 0 1 0 6.8 0a3.4 3.4 0 1 0 -6.8 0M70.6 55.8m-3.9 0a3.9 3.9 0 1 0 7.7 0a3.9 3.9 0 1 0 -7.7 0M241.5 19.0m-2.9 0a2.9 2.9 0 1 0 5.7 0a2.9 2.9 0 1 0 -5.7 0M155.2 150.4m-3.4 0a3.4 3.4 0 1 0 6.8 0a3.4 3.4 0 1 0 -6.8 0M189.3 160.5m-3.6 0a3.6 3.6 0 1 0 7.2 0a3.6 3.6 0 1 0 -7.2 0M291.1 156.1m-3.1 0a3.1 3.1 0 1 0 6.2 0a3.1 3.1 0 1 0 -6.2 0M274.8 30.7m-3.3 0a3.3 3.3 0 1 0 6.7 0a3.3 3.3 0 1 0 -6.7 0M178.8 147.1m-3.6 0a3.6 3.6 0 1 0 7.3 0a3.6 3.6 0 1 0 -7.3 0M225.2 51.7m-3.2 0a3.2 3.2 0 1 0 6.4 0a3.2 3.2 0 1 0 -6.4 0M189.8 134.6m-3.4 0a3.4 3.4 0 1 0 6.8 0a3.4 3.4 0 1 0 -6.8 0M233.4 28.1m-3.7 0a3.7 3.7 0 1 0 7.5 0a3.7 3.7 0 1 0 -7.5 0M26.9 190.2m-3.1 0a3.1 3.1 0 1 0 6.3 0a3.1 3.1 0 1 0 -6.3 0M101.3 129.0m-2.8 0a2.8 2.8 0 1 0 5.6 0a2.8 2.8 0 1 0 -5.6 0M269.4 158.8m-3.0 0a3.0 3.0 0 1 0 6.0 0a3.0 3.0 0 1 0 -6.0 0M55.9 118.0m-3.7 0a3.7 3.7 0 1 0 7.5 0a3.7 3.7 0 1 0 -7.5 0M98.3 41.0m-3.8 0a3.8 3.8 0 1 0 7.7 0a3.8 3.8 0 1 0 -7.7 0M211.6 89.0m-2.9 0a2.9 2.9 0 1 0 5.9 0a2.9 2.9 0 1 0 -5.9 0M131.1 88.6m-3.5 0a3.5 3.5 0 1 0 7.0 0a3.5 3.5 0 1 0 -7.0 0M197.6 135.2m-3.9 0a3.9 3.9 0 1 0 7.8 0a3.9 3.9 0 1 0 -7.8 0M294.9 156.7m-3.2 0a3.2 3.2 0 1 0 6.3 0a3.2 3.2 0 1 0 -6.3 0M55.8 14.5m-3.5 0a3.5 3.5 0 1 0 6.9 0a3.5 3.5 0 1 0 -6.9 0M268.6 181.9m-3.4 0a3.4 3.4 0 1 0 6.9 0a3.4 3.4 0 1 0 -6.9 0M151.9 168.4m-3.4 0a3.4 3.4 0 1 0 6.7 0a3.4 3.4 0 1 0 -6.7 0M240.7 186.5m-3.1 0a3.1 3.1 0 1 0 6.1 0a3.1 3.1 0 1 0 -6.1 0M273.7 33.8m-3.7 0a3.7 3.7 0 1 0 7.4 0a3.7 3.7 0 1 0 -7.4 0M127.8 40.4m-2.8 0a2.8 2.8 0 1 0 5.6 0a2.8 2.8 0 1 0 -5.6 0M272.6 167.6m-3.7 0a3.7 3.7 0 1 0 7.4 0a3.7 3.7 0 1 0 -7.4 0M231.0 63.8m-2.9 0a2.9 2.9 0 1 0 5.7 0a2.9 2.9 0 1 0 -5.7 0M95.5 180.0m-3.8 0a3.8 3.8 0 1 0 7.5 0a3.8 3.8 0 1 0 -7.5 0M145.8 91.1m-3.2 0a3.2 3.2 0 1 0 6.3 0a3.2 3.2 0 1 0 -6.3 0M291.9 8.3m-3.4 0a3.4 3.4 0 1 0 6.8 0a3.4 3.4 0 1 0 -6.8 0M206.4 109.0m-3.6 0a3.6 3.6 0 1 0 7.3 0a3.6 3.6 0 1 0 -7.3 0M206.2 27.5m-3.0 0a3.0 3.0 0 1 0 6.1 0a3.0 3.0 0 1 0 -6.1 0M153.4 77.6m-3.5 0a3.5 3.5 0 1 0 7.0 0a3.5 3.5 0 1 0 -7.0 0M217.7 156.9m-3.6 0a3.6 3.6 0 1 0 7.2 0a3.6 3.6 0 1 0 -7.2 0M17.7 91.4m-3.6 0a3.6 3.6 0 1 0 7.3 0a3.6 3.6 0 1 0 -7.3 0M69.4 55.0m-3.3 0a3.3 3.3 0 1 0 6.6 0a3.3 3.3 0 1 0 -6.6 0M166.0 144.2m-3.5 0a3.5 3.5 0 1 0 7.1 0a3.5 3.5 0 1 0 -7.1 0M249.3 34.7m-3.2 0a3.2 3.2 0 1 0 6.4 0a3.2 3.2 0 1 0 -6.4 0M61.2 42.2m-3.5 0a3.5 3.5 0 1 0 7.0 0a3.5 3.5 0 1 0 -7.0 0M200.9 132.7m-3.7 0a3.7 3.7 0 1 0 7.4 0a3.7 3.7 0 1 0 -7.4 0M151.4 68.0m-3.4 0a3.4 3.4 0 1 0 6.8 0a3.4 3.4 0 1 0 -6.8 0M234.3 80.4m-2.9 0a2.9 2.9 0 1 0 5.8 0a2.9 2.9 0 1 0 -5.8 0M150.9 112.0m-3.7 0a3.7 3.7 0 1 0 7.4 0a3.7 3.7 0 1 0 -7.4 0M140.3 61.7m-3.8 0a3.8 3.8 0 1 0 7.5 0a3.8 3.8 0 1 0 -7.5 0M112.1 162.7m-3.0 0a3.0 3.0 0 1 0 6.0 0a3.0 3.0 0 1 0 -6.0 0M295.1 138.5m-3.4 0a3.4 3.4 0 1 0 6.7 0a3.4 3.4 0 1 0 -6.7 0M268.4 43.4m-3.1 0a3.1 3.1 0 1 0 6.3 0a3.1 3.1 0 1 0 -6.3 0M201.9 188.5m-3.5 0a3.5 3.5 0 1 0 7.0 0a3.5 3.5 0 1 0 -7.0 0M111.2 120.0m-3.1 0a3.1 3.1 0 1 0 6.1 0a3.1 3.1 0 1 0 -6.1 0M280.7 131.8m-3.0 0a3.0 3.0 0 1 0 6.1 0a3.0 3.0 0 1 0 -6.1 0M166.8 125.8m-3.6 0a3.6 3.6 0 1 0 7.1 0a3.6 3.6 0 1 0 -7.1 0M171.0 62.7m-3.0 0a3.0 3.0 0 1 0 6.0 0a3.0 3.0 0 1 0 -6.0 0M61.8 101.1m-3.3 0a3.3 3.3 0 1 0 6.6 0a3.3 3.3 0 1 0 -6.6 0M99.3 14.5m-3.6 0a3.6 3.6 0 1 0 7.3 0a3.6 3.6 0 1 0 -7.3 0M27.9 162.9m-2.8 0a2.8 2.8 0 1 0 5.7 0a2.8 2.8 0 1 0 -5.7 0M154.3 164.3m-2.9 0a2.9 2.9 0 1 0 5.8 0a2.9 2.9 0 1 0 -5.8 0M48.5 30.0m-3.0 0a3.0 3.0 0 1 0 6.0 0a3.0 3.0 0 1 0 -6.0 0M139.9 66.7m-3.0 0a3.0 3.0 0 1 0 6.0 0a3.0 3.0 0 1 0 -6.0 0M235.2 49.8m-2.9 0a2.9 2.9 0 1 0 5.8 0a2.9 2.9 0 1 0 -5.8 0M158.9 14.9m-3.3 0a3.3 3.3 0 1 0 6.5 0a3.3 3.3 0 1 0 -6.5 0M79.3 157.5m-3.7 0a3.7 3.7 0 1 0 7.4 0a3.7 3.7 0 1 0 -7.4 0M142.3 62.7m-3.5 0a3.5 3.5 0 1 0 6.9 0a3.5 3.5 0 1 0 -6.9 0M243.8 37.6m-3.9 0a3.9 3.9 0 1 0 7.8 0a3.9 3.9 0 1 0 -7.8 0M81.9 14.7m-3.4 0a3.4 3.4 0 1 0 6.7 0a3.4 3.4 0 1 0 -6.7 0M218.2 130.4m-3.3 0a3.3 3.3 0 1 0 6.5 0a3.3 3.3 0 1 0 -6.5 0M234.3 25.5m-2.9 0a2.9 2.9 0 1 0 5.7 0a2.9 2.9 0 1 0 -5.7 0M9.4 8.4m-2.8 0a2.8 2.8 0 1 0 5.7 0a2.8 2.8 0 1 0 -5.7 0M154.7 68.1m-3.8 0a3.8 3.8 0 1 0 7.6 0a3.8 3.8 0 1 0 -7.6 0M269.6 155.0m-3.0 0a3.0 3.0 0 1 0 5.9 0a3.0 3.0 0 1 0 -5.9 0M201.1 102.2m-3.8 0a3.8 3.8 0 1 0 7.6 0a3.8 3.8 0 1 0 -7.6 0M228.2 189.9m-3.5 0a3.5 3.5 0 1 0 7.1 0a3.5 3.5 0 1 0 -7.1 0M12.4 36.3m-3.7 0a3.7 3.7 0 1 0 7.3 0a3.7 3.7 0 1 0 -7.3 0M99.7 138.1m-3.2 0a3.2 3.2 0 1 0 6.3 0a3.2 3.2 0 1 0 -6.3 0M94.6 24.7m-3.1 0a3.1 3.1 0 1 0 6.1 0a3.1 3.1 0 1 0 -6.1 0M179.1 51.0m-3.3 0a3.3 3.3 0 1 0 6.5 0a3.3 3.3 0 1 0 -6.5 0M215.3 104.5m-3.2 0a3.2 3.2 0 1 0 6.3 0a3.2 3.2 0 1 0 -6.3 0M23.1 91.3m-3.3 0a3.3 3.3 0 1 0 6.6 0a3.3 3.3 0 1 0 -6.6 0M161.0 15.3m-3.5 0a3.5 3.5 0 1 0 7.0 0a3.5 3.5 0 1 0 -7.0 0M78.2 168.8m-3.0 0a3.0 3.0 0 1 0 6.0 0a3.0 3.0 0 1 0 -6.0 0M238.8 14.8m-3.9 0a3.9 3.9 0 1 0 7.8 0a3.9 3.9 0 1 0 -7.8 0M140.6 88.9m-2.9 0a2.9 2.9 0 1 0 5.8 0a2.9 2.9 0 1 0 -5.8 0M60.5 136.5m-3.5 0a3.5 3.5 0 1 0 6.9 0a3.5 3.5 0 1 0 -6.9 0M47.8 184.6m-3.1 0a3.1 3.1 0 1 0 6.2 0a3.1 3.1 0 1 0 -6.2 0M113.2 7.2m-3.7 0a3.7 3.7 0 1 0 7.5 0a3.7 3.7 0 1 0 -7.5 0M132.2 24.3m-2.9 0a2.9 2.9 0 1 0 5.8 0a2.9 2.9 0 1 0 -5.8 0M16.8 141.3m-3.0 0a3.0 3.0 0 1 0 6.0 0a3.0 3.0 0 1 0 -6.0 0M107.7 169.9m-3.5 0a3.5 3.5 0 1 0 7.0 0a3.5 3.5 0 1 0 -7.0 0M241.4 22.1m-2.9 0a2.9 2.9 0 1 0 5.8 0a2.9 2.9 0 1 0 -5.8 0M114.7 91.3m-3.3 0a3.3 3.3 0 1 0 6.7 0a3.3 3.3 0 1 0 -6.7 0M130.1 184.6m-3.1 0a3.1 3.1 0 1 0 6.2 0a3.1 3.1 0 1 0 -6.2 0M71.8 8.0m-2.9 0a2.9 2.9 0 1 0 5.9 0a2.9 2.9 0 1 0 -5.9 0M204.1 24.5m-3.9 0a3.9 3.9 0 1 0 7.8 0a3.9 3.9 0 1 0 -7.8 0M126.3 72.5m-3.7 0a3.7 3.7 0 1 0 7.5 0a3.7 3.7 0 1 0 -7.5 0M10.5 98.4m-3.8 0a3.8 3.8 0 1 0 7.5 0a3.8 3.8 0 1 0 -7.5 0M13.6 19.3m-3.4 0a3.4 3.4 0 1 0 6.8 0a3.4 3.4 0 1 0 -6.8 0M85.8 190.1m-2.8 0a2.8 2.8 0 1 0 5.6 0a2.8 2.8 0 1 0 -5.6 0M173.6 70.8m-3.3 0a3.3 3.3 0 1 0 6.6 0a3.3 3.3 0 1 0 -6.6 0M131.0 184.7m-3.5 0a3.5 3.5 0 1 0 7.0 0a3.5 3.5 0 1 0 -7.0 0M9.0 124.8m-2.9 0a2.9 2.9 0 1 0 5.8 0a2.9 2.9 0 1 0 -5.8 0M91.8 41.2m-3.7 0a3.7 3.7 0 1 0 7.4 0a3.7 3.7 0 1 0 -7.4 0M142.1 97.2m-3.6 0a3.6 3.6 0 1 0 7.1 0a3.6 3.6 0 1 0 -7.1 0M95.2 126.1m-3.3 0a3.3 3.3 0 1 0 6.6 0a3.3 3.3 0 1 0 -6.6 0M255.8 109.9m-2.8 0a2.8 2.8 0 1 0 5.7 0a2.8 2.8 0 1 0 -5.7 0M42.7 23.6m-3.3 0a3.3 3.3 0 1 0 6.5 0a3.3 3.3 0 1 0 -6.5 0M122.8 171.1m-3.6 0a3.6 3.6 0 1 0 7.2 0a3.6 3.6 0 1 0 -7.2 0M183.3 100.1m-3.7 0a3.7 3.7 0 1 0 7.4 0a3.7 3.7 0 1 0 -7.4 0M276.6 17.5m-3.6 0a3.6 3.6 0 1 0 7.2 0a3.6 3.6 0 1 0 -7.2 0M4.0 121.9m-3.6 0a3.6 3.6 0 1 0 7.3 0a3.6 3.6 0 1 0 -7.3 0M71.2 159.3m-3.4 0a3.4 3.4 0 1 0 6.7 0a3.4 3.4 0 1 0 -6.7 0M25.9 34.7m-3.1 0a3.1 3.1 0 1 0 6.1 0a3.1 3.1 0 1 0 -6.1 0M35.3 144.4m-3.3 0a3.3 3.3 0 1 0 6.6 0a3.3 3.3 0 1 0 -6.6 0M250.5 128.0m-3.5 0a3.5 3.5 0 1 0 7.1 0a3.5 3.5 0 1 0 -7.1 0M202.1 34.8m-3.4 0a3.4 3.4 0 1 0 6.7 0a3.4 3.4 0 1 0 -6.7 0M110.4 15.8m-3.8 0a3.8 3.8 0 1 0 7.7 0a3.8 3.8 0 1 0 -7.7 0M219.3 142.1m-3.3 0a3.3 3.3 0 1 0 6.7 0a3.3 3.3 0 1 0 -6.7 0M81.9 32.4m-3.2 0a3.2 3.2 0 1 0 6.4 0a3.2 3.2 0 1 0 -6.4 0M113.1 130.9m-3.0 0a3.0 3.0 0 1 0 6.1 0a3.0 3.0 0 1 0 -6.1 0M84.4 80.5m-2.9 0a2.9 2.9 0 1 0 5.8 0a2.9 2.9 0 1 0 -5.8 0M170.7 164.2m-3.2 0a3.2 3.2 0 1 0 6.4 0a3.2 3.2 0 1 0 -6.4 0M293.3 112.4m-3.5 0a3.5 3.5 0 1 0 7.0 0a3.5 3.5 0 1 0 -7.0 0M162.3 19.3m-3.4 0a3.4 3.4 0 1 0 6.8 0a3.4 3.4 0 1 0 -6.8 0M192.6 11.4m-3.2 0a3.2 3.2 0 1 0 6.4 0a3.2 3.2 0 1 0 -6.4 0M281.0 47.6m-3.3 0a3.3 3.3 0 1 0 6.6 0a3.3 3.3 0 1 0 -6.6 0M103.3 147.3m-3.3 0a3.3 3.3 0 1 0 6.6 0a3.3 3.3 0 1 0 -6.6 0M201.0 44.7m-3.7 0a3.7 3.7 0 1 0 7.4 0a3.7 3.7 0 1 0 -7.4 0M209.3 125.2m-3.5 0a3.5 3.5 0 1 0 6.9 0a3.5 3.5 0 1 0 -6.9 0M225.1 68.1m-2.8 0a2.8 2.8 0 1 0 5.6 0a2.8 2.8 0 1 0 -5.6 0M192.7 12.8m-3.2 0a3.2 3.2 0 1 0 6.4 0a3.2 3.2 0 1 0 -6.4 0M44.5 157.1m-3.0 0a3.0 3.0 0 1 0 6.0 0a3.0 3.0 0 1 0 -6.0 0M172.1 107.3m-3.8 0a3.8 3.8 0 1 0 7.7 0a3.8 3.8 0 1 0 -7.7 0M255.7 44.5m-3.9 0a3.9 3.9 0 1 0 7.8 0a3.9 3.9 0 1 0 -7.8 0M233.4 33.2m-3.1 0a3.1 3.1 0 1 0 6.2 0a3.1 3.1 0 1 0 -6.2 0M188.5 185.8m-3.6 0a3.6 3.6 0 1 0 7.1 0a3.6 3.6 0 1 0 -7.1 0M176.3 125.2m-3.3 0a3.3 3.3 0 1 0 6.7 0a3.3 3.3 0 1 0 -6.7 0M219.3 153.9m-2.9 0a2.9 2.9 0 1 0 5.8 0a2.9 2.9 0 1 0 -5.8 0M104.7 144.7m-3.2 0a3.2 3.2 0 1 0 6.4 0a3.2 3.2 0 1 0 -6.4 0M78.5 30.4m-3.6 0a3.6 3.6 0 1 0 7.2 0a3.6 3.6 0 1 0 -7.2 0M199.6 126.5m-3.7 0a3.7 3.7 0 1 0 7.4 0a3.7 3.7 0 1 0 -7.4 0M40.0 174.5m-3.2 0a3.2 3.2 0 1 0 6.4 0a3.2 3.2 0 1 0 -6.4 0M27.7 165.9m-3.9 0a3.9 3.9 0 1 0 7.8 0a3.9 3.9 0 1 0 -7.8 0M202.9 80.4m-3.2 0a3.2 3.2 0 1 0 6.4 0a3.2 3.2 0 1 0 -6.4 0M209.3 131.5m-3.2 0a3.2 3.2 0 1 0 6.4 0a3.2 3.2 0 1 0 -6.4 0M71.0 11.3m-3.5 0a3.5 3.5 0 1 0 7.0 0a3.5 3.5 0 1 0 -7.0 0M158.9 56.4m-2.9 0a2.9 2.9 0 1 0 5.9 0a2.9 2.9 0 1 0 -5.9 0M43.4 134.6m-3.2 0a3.2 3.2 0 1 0 6.4 0a3.2 3.2 0 1 0 -6.4 0M52.2 167.8m-3.4 0a3.4 3.4 0 1 0 6.7 0a3.4 3.4 0 1 0 -6.7 0M47.4 158.6m-2.9 0a2.9 2.9 0 1 0 5.7 0a2.9 2.9 0 1 0 -5.7 0M22.1 19.4m-3.0 0a3.0 3.0 0 1 0 6.0 0a3.0 3.0 0 1 0 -6.0 0M6.4 112.8m-3.1 0a3.1 3.1 0 1 0 6.3 0a3.1 3.1 0 1 0 -6.3 0M101.7 124.0m-3.7 0a3.7 3.7 0 1 0 7.3 0a3.7 3.7 0 1 0 -7.3 0M278.4 23.4m-3.0 0a3.0 3.0 0 1 0 6.1 0a3.0 3.0 0 1 0 -6.1 0M137.9 141.0m-3.2 0a3.2 3.2 0 1 0 6.4 0a3.2 3.2 0 1 0 -6.4 0M102.0 175.8m-3.1 0a3.1 3.1 0 1 0 6.2 0a3.1 3.1 0 1 0 -6.2 0M158.7 62.9m-3.7 0a3.7 3.7 0 1 0 7.4 0a3.7 3.7 0 1 0 -7.4 0M102.0 86.5m-3.6 0a3.6 3.6 0 1 0 7.3 0a3.6 3.6 0 1 0 -7.3 0M173.7 11.9m-3.5 0a3.5 3.5 0 1 0 7.0 0a3.5 3.5 0 1 0 -7.0 0M206.7 80.9m-3.0 0a3.0 3.0 0 1 0 5.9 0a3.0 3.0 0 1 0 -5.9 0M283.7 8.1m-3.4 0a3.4 3.4 0 1 0 6.9 0a3.4 3.4 0 1 0 -6.9 0M256.9 27.8m-3.2 0a3.2 3.2 0 1 0 6.4 0a3.2 3.2 0 1 0 -6.4 0M89.0 67.9m-3.4 0a3.4 3.4 0 1 0 6.8 0a3.4 3.4 0 1 0 -6.8 0M181.1 49.0m-2.8 0a2.8 2.8 0 1 0 5.6 0a2.8 2.8 0 1 0 -5.6 0M109.0 44.1m-3.3 0a3.3 3.3 0 1 0 6.6 0a3.3 3.3 0 1 0 -6.6 0M258.4 98.2m-3.7 0a3.7 3.7 0 1 0 7.3 0a3.7 3.7 0 1 0 -7.3 0M239.7 28.5m-3.8 0a3.8 3.8 0 1 0 7.7 0a3.8 3.8 0 1 0 -7.7 0M98.8 96.3m-3.3 0a3.3 3.3 0 1 0 6.6 0a3.3 3.3 0 1 0 -6.6 0M122.6 157.0m-3.6 0a3.6 3.6 0 1 0 7.2 0a3.6 3.6 0 1 0 -7.2 0M180.1 150.2m-3.2 0a3.2 3.2 0 1 0 6.3 0a3.2 3.2 0 1 0 -6.3 0M27.8 138.8m-3.8 0a3.8 3.8 0 1 0 7.5 0a3.8 3.8 0 1 0 -7.5 0M274.9 187.1m-3.7 0a3.7 3.7 0 1 0 7.5 0a3.7 3.7 0 1 0 -7.5 0M218.5 148.5m-3.1 0a3.1 3.1 0 1 0 6.2 0a3.1 3.1 0 1 0 -6.2 0M144.9 57.9m-3.9 0a3.9 3.9 0 1 0 7.8 0a3.9 3.9 0 1 0 -7.8 0M131.2 94.6m-3.0 0a3.0 3.0 0 1 0 6.0 0a3.0 3.0 0 1 0 -6.0 0M82.0 149.7m-3.3 0a3.3 3.3 0 1 0 6.7 0a3.3 3.3 0 1 0 -6.7 0M215.3 182.8m-2.9 0a2.9 2.9 0 1 0 5.9 0a2.9 2.9 0 1 0 -5.9 0M274.1 12.8m-3.7 0a3.7 3.7 0 1 0 7.5 0a3.7 3.7 0 1 0 -7.5 0M290.0 179.1m-3.8 0a3.8 3.8 0 1 0 7.6 0a3.8 3.8 0 1 0 -7.6 0M223.6 136.2m-3.2 0a3.2 3.2 0 1 0 6.3 0a3.2 3.2 0 1 0 -6.3 0M108.6 139.7m-3.2 0a3.2 3.2 0 1 0 6.5 0a3.2 3.2 0 1 0 -6.5 0M132.4 147.1m-3.8 0a3.8 3.8 0 1 0 7.6 0a3.8 3.8 0 1 0 -7.6 0M247.1 60.3m-3.8 0a3.8 3.8 0 1 0 7.6 0a3.8 3.8 0 1 0 -7.6 0M49.2 14.5m-3.6 0a3.6 3.6 0 1 0 7.2 0a3.6 3.6 0 1 0 -7.2 0M175.8 152.2m-3.3 0a3.3 3.3 0 1 0 6.7 0a3.3 3.3 0 1 0 -6.7 0M102.1 94.5m-3.1 0a3.1 3.1 0 1 0 6.1 0a3.1 3.1 0 1 0 -6.1 0M151.1 101.6m-3.8 0a3.8 3.8 0 1 0 7.7 0a3.8 3.8 0 1 0 -7.7 0M118.0 47.4m-3.1 0a3.1 3.1 0 1 0 6.1 0a3.1 3.1 0 1 0 -6.1 0M13.8 123.8m-3.3 0a3.3 3.3 0 1 0 6.6 0a3.3 3.3 0 1 0 -6.6 0M104.8 147.9m-3.7 0a3.7 3.7 0 1 0 7.5 0a3.7 3.7 0 1 0 -7.5 0M230.4 108.4m-3.5 0a3.5 3.5 0 1 0 7.0 0a3.5 3.5 0 1 0 -7.0 0M44.4 175.0m-3.4 0a3.4 3.4 0 1 0 6.7 0a3.4 3.4 0 1 0 -6.7 0M82.6 13.7m-3.2 0a3.2 3.2 0 1 0 6.5 0a3.2 3.2 0 1 0 -6.5 0M252.5 145.7m-3.3 0a3.3 3.3 0 1 0 6.6 0a3.3 3.3 0 1 0 -6.6 0M104.2 15.6m-2.9 0a2.9 2.9 0 1 0 5.8 0a2.9 2.9 0 1 0 -5.8 0M46.1 11.8m-3.7 0a3.7 3.7 0 1 0 7.5 0a3.7 3.7 0 1 0 -7.5 0M29.5 83.9m-2.8 0a2.8 2.8 0 1 0 5.7 0a2.8 2.8 0 1 0 -5.7 0M148.1 27.0m-2.9 0a2.9 2.9 0 1 0 5.9 0a2.9 2.9 0 1 0 -5.9 0M228.2 12.8m-3.7 0a3.7 3.7 0 1 0 7.5 0a3.7 3.7 0 1 0 -7.5 0" fill="#2c1a6a"/></svg>
<g fill="none" stroke="#1a1420" stroke-width="1.3"><path d="M320.0 239.8v3h37.5v-3"/><path d="M639.2 239.7v3h37.0v-3"/><path d="M313.7 443.4v3h36.9v-3"/><path d="M635.4 446.0v3h36.7v-3"/><path d="M1029.4 240.2v3h36.7v-3"/><path d="M1339.6 240.9v3h36.7v-3"/><path d="M1029.9 450.0v3h36.7v-3"/><path d="M1328.8 441.3v3h37.8v-3"/><path d="M320.5 1032.1v3h36.6v-3"/><path d="M625.7 1034.1v3h36.7v-3"/><path d="M321.5 1241.3v3h36.7v-3"/><path d="M627.2 1245.2v3h36.2v-3"/><path d="M1026.7 1035.0v3h36.7v-3"/><path d="M1333.1 1033.5v3h36.7v-3"/><path d="M1025.0 1239.2v3h36.2v-3"/><path d="M1336.4 1242.0v3h36.7v-3"/></g><g font-size="7.5" fill="#1a1420" text-anchor="middle"><text x="338.8" y="239.3">100μm</text><text x="657.7" y="239.2">100μm</text><text x="332.1" y="442.9">100μm</text><text x="653.8" y="445.5">100μm</text><text x="1047.8" y="239.7">100μm</text><text x="1357.9" y="240.4">100μm</text><text x="1048.2" y="449.5">100μm</text><text x="1347.7" y="440.8">100μm</text><text x="338.8" y="1031.6">100μm</text><text x="644.0" y="1033.6">100μm</text><text x="339.9" y="1240.8">100μm</text><text x="645.3" y="1244.7">100μm</text><text x="1045.1" y="1034.5">100μm</text><text x="1351.4" y="1033.0">100μm</text><text x="1043.1" y="1238.7">100μm</text><text x="1354.8" y="1241.5">100μm</text></g>
<line x1="126.50" y1="487.70" x2="126.50" y2="751.00" stroke="#000" stroke-width="2.20"/>
<line x1="125.50" y1="750.00" x2="347.20" y2="750.00" stroke="#000" stroke-width="2.20"/>
<line x1="121.50" y1="488.70" x2="126.50" y2="488.70" stroke="#000" stroke-width="2.20"/>
<text transform="translate(77.31,498.79)" font-size="23.50" fill="#000">150</text>
<line x1="121.50" y1="575.80" x2="126.50" y2="575.80" stroke="#000" stroke-width="2.20"/>
<text transform="translate(77.31,585.89)" font-size="23.50" fill="#000">100</text>
<line x1="121.50" y1="662.90" x2="126.50" y2="662.90" stroke="#000" stroke-width="2.20"/>
<text transform="translate(90.38,672.99)" font-size="23.50" fill="#000">50</text>
<line x1="121.50" y1="750.00" x2="126.50" y2="750.00" stroke="#000" stroke-width="2.20"/>
<text transform="translate(103.45,760.09)" font-size="23.50" fill="#000">0</text>
<rect x="145.70" y="639.60" width="73.00" height="110.40" fill="#000"/>
<line x1="182.35" y1="639.60" x2="182.35" y2="633.00" stroke="#000" stroke-width="2.20"/>
<line x1="163.20" y1="633.00" x2="201.50" y2="633.00" stroke="#000" stroke-width="2.20"/>
<rect x="255.60" y="524.20" width="73.80" height="225.80" fill="#808080"/>
<line x1="292.50" y1="524.20" x2="292.50" y2="512.80" stroke="#000" stroke-width="2.20"/>
<line x1="273.40" y1="512.80" x2="311.60" y2="512.80" stroke="#000" stroke-width="2.20"/>
<line x1="181.90" y1="494.50" x2="295.80" y2="494.50" stroke="#000" stroke-width="2.20"/>
<text transform="translate(222.67,487.56)" font-size="17.00" fill="#555">***</text>
<text transform="translate(157.97,774.29) scale(1.0508,1)" font-size="23.50" fill="#000">NC</text>
<text transform="translate(260.04,774.29) scale(1.0177,1)" font-size="23.50" fill="#000">ENO1</text>
<text transform="translate(177.03,804.59) scale(1.0228,1)" font-size="23.50" fill="#000">PAMC-82</text>
<text transform="translate(65.11,694.86) rotate(-90) scale(1.0173,1)" font-size="24.00" fill="#000">Quantity of cell</text>
<line x1="457.00" y1="487.70" x2="457.00" y2="752.00" stroke="#000" stroke-width="2.20"/>
<line x1="456.00" y1="751.00" x2="691.30" y2="751.00" stroke="#000" stroke-width="2.20"/>
<line x1="452.00" y1="488.70" x2="457.00" y2="488.70" stroke="#000" stroke-width="2.20"/>
<text transform="translate(407.21,498.79)" font-size="23.50" fill="#000">150</text>
<line x1="452.00" y1="576.13" x2="457.00" y2="576.13" stroke="#000" stroke-width="2.20"/>
<text transform="translate(407.21,586.22)" font-size="23.50" fill="#000">100</text>
<line x1="452.00" y1="663.57" x2="457.00" y2="663.57" stroke="#000" stroke-width="2.20"/>
<text transform="translate(420.28,673.66)" font-size="23.50" fill="#000">50</text>
<line x1="452.00" y1="751.00" x2="457.00" y2="751.00" stroke="#000" stroke-width="2.20"/>
<text transform="translate(433.35,761.09)" font-size="23.50" fill="#000">0</text>
<rect x="477.50" y="604.30" width="77.10" height="146.70" fill="#000"/>
<line x1="516.50" y1="604.30" x2="516.50" y2="598.90" stroke="#000" stroke-width="2.20"/>
<line x1="496.70" y1="598.90" x2="536.30" y2="598.90" stroke="#000" stroke-width="2.20"/>
<rect x="594.30" y="510.00" width="77.30" height="241.00" fill="#808080"/>
<line x1="632.95" y1="510.00" x2="632.95" y2="504.60" stroke="#000" stroke-width="2.20"/>
<line x1="612.90" y1="504.60" x2="653.00" y2="504.60" stroke="#000" stroke-width="2.20"/>
<line x1="509.80" y1="491.40" x2="632.00" y2="491.40" stroke="#000" stroke-width="2.20"/>
<text transform="translate(559.92,487.71)" font-size="17.00" fill="#555">***</text>
<text transform="translate(496.92,774.79) scale(1.0283,1)" font-size="23.50" fill="#000">NC</text>
<text transform="translate(604.95,774.79) scale(1.0095,1)" font-size="23.50" fill="#000">ENO1</text>
<text transform="translate(519.60,804.59) scale(1.0309,1)" font-size="23.50" fill="#000">SNU-16</text>
<text transform="translate(393.31,696.14) rotate(-90) scale(1.0064,1)" font-size="24.00" fill="#000">Quantity of cell</text>
<line x1="831.00" y1="483.50" x2="831.00" y2="749.20" stroke="#000" stroke-width="2.20"/>
<line x1="830.00" y1="748.20" x2="1067.30" y2="748.20" stroke="#000" stroke-width="2.20"/>
<line x1="826.00" y1="484.50" x2="831.00" y2="484.50" stroke="#000" stroke-width="2.20"/>
<text transform="translate(778.71,494.59)" font-size="23.50" fill="#000">100</text>
<line x1="826.00" y1="616.35" x2="831.00" y2="616.35" stroke="#000" stroke-width="2.20"/>
<text transform="translate(791.78,626.44)" font-size="23.50" fill="#000">50</text>
<line x1="826.00" y1="748.20" x2="831.00" y2="748.20" stroke="#000" stroke-width="2.20"/>
<text transform="translate(804.85,758.29)" font-size="23.50" fill="#000">0</text>
<rect x="851.80" y="582.30" width="77.80" height="165.90" fill="#000"/>
<line x1="890.80" y1="582.30" x2="890.80" y2="574.50" stroke="#000" stroke-width="2.20"/>
<line x1="870.40" y1="574.50" x2="911.20" y2="574.50" stroke="#000" stroke-width="2.20"/>
<rect x="969.20" y="715.10" width="78.50" height="33.10" fill="#808080"/>
<line x1="1008.70" y1="715.10" x2="1008.70" y2="711.50" stroke="#000" stroke-width="2.20"/>
<line x1="988.30" y1="711.50" x2="1029.10" y2="711.50" stroke="#000" stroke-width="2.20"/>
<line x1="893.60" y1="559.80" x2="1005.90" y2="559.80" stroke="#000" stroke-width="2.20"/>
<text transform="translate(949.62,555.21)" font-size="17.00" fill="#555">***</text>
<text transform="translate(861.63,774.40) scale(1.0309,1)" font-size="23.50" fill="#000">shcon</text>
<text transform="translate(972.45,774.40)" font-size="23.50" fill="#000">shENO1</text>
<text transform="translate(877.44,805.09) scale(1.0157,1)" font-size="23.50" fill="#000">PAMC-82</text>
<text transform="translate(775.36,697.15) rotate(-90) scale(1.0109,1)" font-size="24.00" fill="#000">Quantity of cell</text>
<line x1="1145.40" y1="479.80" x2="1145.40" y2="746.00" stroke="#000" stroke-width="2.20"/>
<line x1="1144.40" y1="745.00" x2="1380.20" y2="745.00" stroke="#000" stroke-width="2.20"/>
<line x1="1140.40" y1="480.80" x2="1145.40" y2="480.80" stroke="#000" stroke-width="2.20"/>
<text transform="translate(1096.11,490.89)" font-size="23.50" fill="#000">100</text>
<line x1="1140.40" y1="612.90" x2="1145.40" y2="612.90" stroke="#000" stroke-width="2.20"/>
<text transform="translate(1109.18,622.99)" font-size="23.50" fill="#000">50</text>
<line x1="1140.40" y1="745.00" x2="1145.40" y2="745.00" stroke="#000" stroke-width="2.20"/>
<text transform="translate(1122.25,755.09)" font-size="23.50" fill="#000">0</text>
<rect x="1166.20" y="523.60" width="77.50" height="221.40" fill="#000"/>
<line x1="1205.20" y1="523.60" x2="1205.20" y2="517.50" stroke="#000" stroke-width="2.20"/>
<line x1="1185.00" y1="517.50" x2="1225.40" y2="517.50" stroke="#000" stroke-width="2.20"/>
<rect x="1282.90" y="667.20" width="77.80" height="77.80" fill="#808080"/>
<line x1="1321.90" y1="667.20" x2="1321.90" y2="660.60" stroke="#000" stroke-width="2.20"/>
<line x1="1302.00" y1="660.60" x2="1341.80" y2="660.60" stroke="#000" stroke-width="2.20"/>
<line x1="1203.40" y1="506.00" x2="1319.60" y2="506.00" stroke="#000" stroke-width="2.20"/>
<text transform="translate(1247.32,504.51)" font-size="17.00" fill="#555">***</text>
<text transform="translate(1174.53,773.50) scale(1.0227,1)" font-size="23.50" fill="#000">shcon</text>
<text transform="translate(1284.94,773.50) scale(1.0091,1)" font-size="23.50" fill="#000">shENO1</text>
<text transform="translate(1220.11,805.69) scale(1.0211,1)" font-size="23.50" fill="#000">SNU-16</text>
<text transform="translate(1090.01,693.54) rotate(-90)" font-size="24.00" fill="#000">Quantity of cell</text>
<line x1="123.80" y1="1274.50" x2="123.80" y2="1540.30" stroke="#000" stroke-width="2.20"/>
<line x1="122.80" y1="1539.30" x2="347.20" y2="1539.30" stroke="#000" stroke-width="2.20"/>
<line x1="118.80" y1="1275.50" x2="123.80" y2="1275.50" stroke="#000" stroke-width="2.20"/>
<text transform="translate(72.41,1285.59)" font-size="23.50" fill="#000">100</text>
<line x1="118.80" y1="1407.40" x2="123.80" y2="1407.40" stroke="#000" stroke-width="2.20"/>
<text transform="translate(85.48,1417.49)" font-size="23.50" fill="#000">50</text>
<line x1="118.80" y1="1539.30" x2="123.80" y2="1539.30" stroke="#000" stroke-width="2.20"/>
<text transform="translate(98.55,1549.39)" font-size="23.50" fill="#000">0</text>
<rect x="142.70" y="1416.80" width="74.60" height="122.50" fill="#000"/>
<line x1="180.15" y1="1416.80" x2="180.15" y2="1410.80" stroke="#000" stroke-width="2.20"/>
<line x1="160.70" y1="1410.80" x2="199.60" y2="1410.80" stroke="#000" stroke-width="2.20"/>
<rect x="254.80" y="1324.20" width="74.10" height="215.10" fill="#808080"/>
<line x1="291.95" y1="1324.20" x2="291.95" y2="1318.70" stroke="#000" stroke-width="2.20"/>
<line x1="272.80" y1="1318.70" x2="311.10" y2="1318.70" stroke="#000" stroke-width="2.20"/>
<line x1="178.50" y1="1305.60" x2="289.80" y2="1305.60" stroke="#000" stroke-width="2.20"/>
<text transform="translate(220.77,1297.91)" font-size="17.00" fill="#555">***</text>
<text transform="translate(154.41,1566.49) scale(1.0347,1)" font-size="23.50" fill="#000">NC</text>
<text transform="translate(256.33,1566.49) scale(1.0194,1)" font-size="23.50" fill="#000">ENO1</text>
<text transform="translate(175.14,1596.59) scale(1.0167,1)" font-size="23.50" fill="#000">PAMC-82</text>
<text transform="translate(65.01,1487.16) rotate(-90) scale(1.0167,1)" font-size="24.00" fill="#000">Quantity of cell</text>
<line x1="455.70" y1="1275.30" x2="455.70" y2="1541.10" stroke="#000" stroke-width="2.20"/>
<line x1="454.70" y1="1540.10" x2="682.60" y2="1540.10" stroke="#000" stroke-width="2.20"/>
<line x1="450.70" y1="1276.30" x2="455.70" y2="1276.30" stroke="#000" stroke-width="2.20"/>
<text transform="translate(411.41,1286.39)" font-size="23.50" fill="#000">200</text>
<line x1="450.70" y1="1342.25" x2="455.70" y2="1342.25" stroke="#000" stroke-width="2.20"/>
<text transform="translate(411.41,1352.34)" font-size="23.50" fill="#000">150</text>
<line x1="450.70" y1="1408.20" x2="455.70" y2="1408.20" stroke="#000" stroke-width="2.20"/>
<text transform="translate(411.41,1418.29)" font-size="23.50" fill="#000">100</text>
<line x1="450.70" y1="1474.15" x2="455.70" y2="1474.15" stroke="#000" stroke-width="2.20"/>
<text transform="translate(424.48,1484.24)" font-size="23.50" fill="#000">50</text>
<line x1="450.70" y1="1540.10" x2="455.70" y2="1540.10" stroke="#000" stroke-width="2.20"/>
<text transform="translate(437.55,1550.19)" font-size="23.50" fill="#000">0</text>
<rect x="476.20" y="1434.60" width="74.30" height="105.50" fill="#000"/>
<line x1="513.80" y1="1434.60" x2="513.80" y2="1431.90" stroke="#000" stroke-width="2.20"/>
<line x1="494.80" y1="1431.90" x2="532.80" y2="1431.90" stroke="#000" stroke-width="2.20"/>
<rect x="589.10" y="1328.30" width="74.90" height="211.80" fill="#808080"/>
<line x1="626.30" y1="1328.30" x2="626.30" y2="1325.50" stroke="#000" stroke-width="2.20"/>
<line x1="606.90" y1="1325.50" x2="645.70" y2="1325.50" stroke="#000" stroke-width="2.20"/>
<line x1="511.20" y1="1311.00" x2="628.50" y2="1311.00" stroke="#000" stroke-width="2.20"/>
<text transform="translate(551.92,1307.46)" font-size="17.00" fill="#555">***</text>
<text transform="translate(493.30,1566.49) scale(1.0379,1)" font-size="23.50" fill="#000">NC</text>
<text transform="translate(601.35,1566.49) scale(1.0095,1)" font-size="23.50" fill="#000">ENO1</text>
<text transform="translate(522.89,1597.29) scale(1.0407,1)" font-size="23.50" fill="#000">SNU-16</text>
<text transform="translate(399.06,1487.15) rotate(-90) scale(1.0109,1)" font-size="24.00" fill="#000">Quantity of cell</text>
<line x1="830.00" y1="1273.10" x2="830.00" y2="1541.50" stroke="#000" stroke-width="2.20"/>
<line x1="829.00" y1="1540.50" x2="1056.00" y2="1540.50" stroke="#000" stroke-width="2.20"/>
<line x1="825.00" y1="1274.10" x2="830.00" y2="1274.10" stroke="#000" stroke-width="2.20"/>
<text transform="translate(776.31,1284.19)" font-size="23.50" fill="#000">100</text>
<line x1="825.00" y1="1407.30" x2="830.00" y2="1407.30" stroke="#000" stroke-width="2.20"/>
<text transform="translate(789.38,1417.39)" font-size="23.50" fill="#000">50</text>
<line x1="825.00" y1="1540.50" x2="830.00" y2="1540.50" stroke="#000" stroke-width="2.20"/>
<text transform="translate(802.45,1550.59)" font-size="23.50" fill="#000">0</text>
<rect x="849.60" y="1418.40" width="75.10" height="122.10" fill="#000"/>
<line x1="886.75" y1="1418.40" x2="886.75" y2="1412.80" stroke="#000" stroke-width="2.20"/>
<line x1="867.20" y1="1412.80" x2="906.30" y2="1412.80" stroke="#000" stroke-width="2.20"/>
<rect x="962.60" y="1505.00" width="74.60" height="35.50" fill="#808080"/>
<line x1="999.95" y1="1505.00" x2="999.95" y2="1502.00" stroke="#000" stroke-width="2.20"/>
<line x1="980.50" y1="1502.00" x2="1019.40" y2="1502.00" stroke="#000" stroke-width="2.20"/>
<line x1="890.00" y1="1398.80" x2="1008.60" y2="1398.80" stroke="#000" stroke-width="2.20"/>
<text transform="translate(935.67,1395.16)" font-size="17.00" fill="#555">***</text>
<text transform="translate(858.43,1565.50) scale(1.0227,1)" font-size="23.50" fill="#000">shcon</text>
<text transform="translate(968.84,1565.50)" font-size="23.50" fill="#000">shENO1</text>
<text transform="translate(877.06,1596.99) scale(1.0076,1)" font-size="23.50" fill="#000">PAMC-82</text>
<text transform="translate(770.26,1486.14) rotate(-90)" font-size="24.00" fill="#000">Quantity of cell</text>
<line x1="1159.30" y1="1273.60" x2="1159.30" y2="1541.00" stroke="#000" stroke-width="2.20"/>
<line x1="1158.30" y1="1540.00" x2="1388.80" y2="1540.00" stroke="#000" stroke-width="2.20"/>
<line x1="1154.30" y1="1274.60" x2="1159.30" y2="1274.60" stroke="#000" stroke-width="2.20"/>
<text transform="translate(1108.31,1284.69)" font-size="23.50" fill="#000">100</text>
<line x1="1154.30" y1="1407.30" x2="1159.30" y2="1407.30" stroke="#000" stroke-width="2.20"/>
<text transform="translate(1121.38,1417.39)" font-size="23.50" fill="#000">50</text>
<line x1="1154.30" y1="1540.00" x2="1159.30" y2="1540.00" stroke="#000" stroke-width="2.20"/>
<text transform="translate(1134.45,1550.09)" font-size="23.50" fill="#000">0</text>
<rect x="1179.20" y="1327.90" width="76.30" height="212.10" fill="#000"/>
<line x1="1217.30" y1="1327.90" x2="1217.30" y2="1322.80" stroke="#000" stroke-width="2.20"/>
<line x1="1197.50" y1="1322.80" x2="1237.10" y2="1322.80" stroke="#000" stroke-width="2.20"/>
<rect x="1294.10" y="1483.70" width="75.90" height="56.30" fill="#808080"/>
<line x1="1331.90" y1="1483.70" x2="1331.90" y2="1475.90" stroke="#000" stroke-width="2.20"/>
<line x1="1312.20" y1="1475.90" x2="1351.60" y2="1475.90" stroke="#000" stroke-width="2.20"/>
<line x1="1219.50" y1="1307.60" x2="1337.90" y2="1307.60" stroke="#000" stroke-width="2.20"/>
<text transform="translate(1266.47,1302.51)" font-size="17.00" fill="#555">***</text>
<text transform="translate(1170.93,1565.50) scale(1.0309,1)" font-size="23.50" fill="#000">shcon</text>
<text transform="translate(1281.75,1565.50)" font-size="23.50" fill="#000">shENO1</text>
<text transform="translate(1219.40,1596.99) scale(1.0297,1)" font-size="23.50" fill="#000">SNU-16</text>
<text transform="translate(1102.01,1486.14) rotate(-90)" font-size="24.00" fill="#000">Quantity of cell</text>
<line x1="107.30" y1="1639.40" x2="107.30" y2="1947.60" stroke="#000" stroke-width="2.20"/>
<line x1="98.30" y1="1939.20" x2="557.20" y2="1939.20" stroke="#000" stroke-width="2.20"/>
<line x1="98.20" y1="1689.40" x2="107.30" y2="1689.40" stroke="#000" stroke-width="2.20"/>
<line x1="98.20" y1="1813.00" x2="107.30" y2="1813.00" stroke="#000" stroke-width="2.20"/>
<line x1="98.20" y1="1939.20" x2="107.30" y2="1939.20" stroke="#000" stroke-width="2.20"/>
<text transform="translate(55.06,1689.37) scale(0.9575,1)" font-size="23.87" fill="#000">100</text>
<text transform="translate(67.37,1814.38) scale(1.0090,1)" font-size="23.02" fill="#000">50</text>
<text transform="translate(80.31,1939.57) scale(0.9553,1)" font-size="23.87" fill="#000">0</text>
<line x1="106.80" y1="1939.20" x2="106.80" y2="1947.20" stroke="#000" stroke-width="2.20"/>
<text transform="translate(95.99,1970.88)" font-size="25.00" fill="#000">-2</text>
<line x1="196.85" y1="1939.20" x2="196.85" y2="1947.20" stroke="#000" stroke-width="2.20"/>
<text transform="translate(186.04,1970.75)" font-size="25.00" fill="#000">-1</text>
<line x1="286.90" y1="1939.20" x2="286.90" y2="1947.20" stroke="#000" stroke-width="2.20"/>
<text transform="translate(280.25,1970.76)" font-size="25.00" fill="#000">0</text>
<line x1="376.95" y1="1939.20" x2="376.95" y2="1947.20" stroke="#000" stroke-width="2.20"/>
<text transform="translate(370.30,1970.75)" font-size="25.00" fill="#000">1</text>
<line x1="467.00" y1="1939.20" x2="467.00" y2="1947.20" stroke="#000" stroke-width="2.20"/>
<text transform="translate(460.35,1970.88)" font-size="25.00" fill="#000">2</text>
<line x1="557.05" y1="1939.20" x2="557.05" y2="1947.20" stroke="#000" stroke-width="2.20"/>
<text transform="translate(550.40,1970.76)" font-size="25.00" fill="#000">3</text>
<line x1="108.30" y1="1812.80" x2="525.00" y2="1812.80" stroke="#000" stroke-width="2.40" stroke-dasharray="6.6,4.2" stroke-linecap="round"/>
<text transform="translate(167.41,2004.12) scale(1.0411,1)" font-size="22.53" fill="#000">Cisplatin concentration(Log)</text>
<text transform="translate(39.64,1883.89) rotate(-90) scale(0.9758,1)" font-size="23.92" fill="#000">Cell Viability (%)</text>
<text transform="translate(226.58,2051.96) scale(0.9445,1)" font-size="24.72" fill="#000">PAMC-82</text>
<polyline points="151.82,1689.51 153.58,1689.52 155.34,1689.54 157.09,1689.55 158.85,1689.56 160.60,1689.57 162.36,1689.59 164.12,1689.60 165.87,1689.62 167.63,1689.64 169.38,1689.66 171.14,1689.68 172.90,1689.71 174.65,1689.73 176.41,1689.76 178.16,1689.79 179.92,1689.83 181.68,1689.87 183.43,1689.91 185.19,1689.95 186.94,1690.00 188.70,1690.05 190.46,1690.10 192.21,1690.16 193.97,1690.23 195.72,1690.30 197.48,1690.38 199.24,1690.46 200.99,1690.55 202.75,1690.65 204.50,1690.76 206.26,1690.87 208.02,1691.00 209.77,1691.14 211.53,1691.29 213.28,1691.45 215.04,1691.62 216.80,1691.81 218.55,1692.02 220.31,1692.24 222.06,1692.48 223.82,1692.74 225.58,1693.03 227.33,1693.33 229.09,1693.67 230.84,1694.03 232.60,1694.42 234.36,1694.84 236.11,1695.30 237.87,1695.79 239.62,1696.33 241.38,1696.91 243.14,1697.53 244.89,1698.21 246.65,1698.94 248.40,1699.72 250.16,1700.57 251.92,1701.49 253.67,1702.47 255.43,1703.54 257.18,1704.68 258.94,1705.91 260.70,1707.23 262.45,1708.64 264.21,1710.16 265.96,1711.79 267.72,1713.53 269.48,1715.39 271.23,1717.37 272.99,1719.49 274.74,1721.74 276.50,1724.14 278.26,1726.68 280.01,1729.37 281.77,1732.22 283.52,1735.22 285.28,1738.39 287.04,1741.71 288.79,1745.20 290.55,1748.86 292.30,1752.67 294.06,1756.64 295.81,1760.76 297.57,1765.03 299.33,1769.44 301.08,1773.97 302.84,1778.63 304.59,1783.40 306.35,1788.26 308.11,1793.21 309.86,1798.22 311.62,1803.28 313.37,1808.38 315.13,1813.49 316.89,1818.60 318.64,1823.69 320.40,1828.75 322.15,1833.75 323.91,1838.69 325.67,1843.54 327.42,1848.30 329.18,1852.94 330.93,1857.47 332.69,1861.86 334.45,1866.11 336.20,1870.22 337.96,1874.17 339.71,1877.96 341.47,1881.60 343.23,1885.07 344.98,1888.38 346.74,1891.53 348.49,1894.51 350.25,1897.34 352.01,1900.02 353.76,1902.54 355.52,1904.92 357.27,1907.16 359.03,1909.26 360.79,1911.23 362.54,1913.08 364.30,1914.80 366.05,1916.42 367.81,1917.92 369.57,1919.33 371.32,1920.64 373.08,1921.85 374.83,1922.99 376.59,1924.04 378.35,1925.02 380.10,1925.93 381.86,1926.77 383.61,1927.55 385.37,1928.27 387.13,1928.94 388.88,1929.56 390.64,1930.13 392.39,1930.66 394.15,1931.16 395.91,1931.61 397.66,1932.03 399.42,1932.41 401.17,1932.77 402.93,1933.10 404.69,1933.41 406.44,1933.69 408.20,1933.95 409.95,1934.19 411.71,1934.41 413.47,1934.61 415.22,1934.80 416.98,1934.97 418.73,1935.13 420.49,1935.28 422.25,1935.41 424.00,1935.54 425.76,1935.65 427.51,1935.76 429.27,1935.86 431.03,1935.95 432.78,1936.03 434.54,1936.11 436.29,1936.18 438.05,1936.24 439.80,1936.30 441.56,1936.36 443.32,1936.41 445.07,1936.46 446.83,1936.50 448.58,1936.54 450.34,1936.58 452.10,1936.61 453.85,1936.64 455.61,1936.67 457.36,1936.69 459.12,1936.72 460.88,1936.74 462.63,1936.76 464.39,1936.78 466.14,1936.80 467.90,1936.81 469.66,1936.83 471.41,1936.84 473.17,1936.85 474.92,1936.87 476.68,1936.88 478.44,1936.89 480.19,1936.90 481.95,1936.90 483.70,1936.91 485.46,1936.92 487.22,1936.92 488.97,1936.93 490.73,1936.94 492.48,1936.94 494.24,1936.95 496.00,1936.95 497.75,1936.95 499.51,1936.96 501.26,1936.96 503.02,1936.96" fill="none" stroke="#0014c8" stroke-width="2.3"/>
<polyline points="151.82,1689.40 153.58,1689.40 155.34,1689.40 157.09,1689.40 158.85,1689.41 160.60,1689.41 162.36,1689.41 164.12,1689.41 165.87,1689.41 167.63,1689.41 169.38,1689.41 171.14,1689.41 172.90,1689.41 174.65,1689.41 176.41,1689.41 178.16,1689.42 179.92,1689.42 181.68,1689.42 183.43,1689.42 185.19,1689.42 186.94,1689.43 188.70,1689.43 190.46,1689.43 192.21,1689.44 193.97,1689.44 195.72,1689.44 197.48,1689.45 199.24,1689.45 200.99,1689.46 202.75,1689.46 204.50,1689.47 206.26,1689.48 208.02,1689.49 209.77,1689.50 211.53,1689.51 213.28,1689.52 215.04,1689.53 216.80,1689.55 218.55,1689.56 220.31,1689.58 222.06,1689.60 223.82,1689.62 225.58,1689.64 227.33,1689.67 229.09,1689.70 230.84,1689.73 232.60,1689.76 234.36,1689.80 236.11,1689.84 237.87,1689.89 239.62,1689.94 241.38,1690.00 243.14,1690.06 244.89,1690.13 246.65,1690.21 248.40,1690.29 250.16,1690.39 251.92,1690.49 253.67,1690.61 255.43,1690.74 257.18,1690.88 258.94,1691.04 260.70,1691.21 262.45,1691.40 264.21,1691.61 265.96,1691.84 267.72,1692.10 269.48,1692.38 271.23,1692.69 272.99,1693.04 274.74,1693.42 276.50,1693.84 278.26,1694.30 280.01,1694.81 281.77,1695.37 283.52,1695.99 285.28,1696.67 287.04,1697.42 288.79,1698.24 290.55,1699.14 292.30,1700.13 294.06,1701.22 295.81,1702.41 297.57,1703.72 299.33,1705.14 301.08,1706.70 302.84,1708.39 304.59,1710.24 306.35,1712.26 308.11,1714.44 309.86,1716.81 311.62,1719.37 313.37,1722.13 315.13,1725.11 316.89,1728.31 318.64,1731.74 320.40,1735.40 322.15,1739.31 323.91,1743.45 325.67,1747.84 327.42,1752.47 329.18,1757.34 330.93,1762.43 332.69,1767.74 334.45,1773.25 336.20,1778.94 337.96,1784.79 339.71,1790.78 341.47,1796.88 343.23,1803.06 344.98,1809.29 346.74,1815.54 348.49,1821.78 350.25,1827.98 352.01,1834.10 353.76,1840.12 355.52,1846.01 357.27,1851.74 359.03,1857.29 360.79,1862.65 362.54,1867.80 364.30,1872.72 366.05,1877.41 367.81,1881.87 369.57,1886.07 371.32,1890.04 373.08,1893.76 374.83,1897.25 376.59,1900.51 378.35,1903.54 380.10,1906.36 381.86,1908.97 383.61,1911.38 385.37,1913.61 387.13,1915.67 388.88,1917.56 390.64,1919.29 392.39,1920.88 394.15,1922.34 395.91,1923.67 397.66,1924.89 399.42,1926.00 401.17,1927.02 402.93,1927.94 404.69,1928.78 406.44,1929.55 408.20,1930.24 409.95,1930.88 411.71,1931.45 413.47,1931.97 415.22,1932.45 416.98,1932.88 418.73,1933.27 420.49,1933.62 422.25,1933.94 424.00,1934.23 425.76,1934.50 427.51,1934.73 429.27,1934.95 431.03,1935.15 432.78,1935.32 434.54,1935.48 436.29,1935.63 438.05,1935.76 439.80,1935.88 441.56,1935.99 443.32,1936.08 445.07,1936.17 446.83,1936.25 448.58,1936.32 450.34,1936.39 452.10,1936.45 453.85,1936.50 455.61,1936.55 457.36,1936.59 459.12,1936.63 460.88,1936.67 462.63,1936.70 464.39,1936.73 466.14,1936.75 467.90,1936.78 469.66,1936.80 471.41,1936.82 473.17,1936.83 474.92,1936.85 476.68,1936.86 478.44,1936.88 480.19,1936.89 481.95,1936.90 483.70,1936.91 485.46,1936.92 487.22,1936.93 488.97,1936.93 490.73,1936.94 492.48,1936.95 494.24,1936.95 496.00,1936.96 497.75,1936.96 499.51,1936.96 501.26,1936.97 503.02,1936.97" fill="none" stroke="#ff1a00" stroke-width="2.3"/>
<circle cx="151.40" cy="1683.00" r="5.9" fill="#0528c8"/>
<circle cx="178.40" cy="1695.50" r="5.9" fill="#0528c8"/>
<circle cx="205.30" cy="1685.80" r="5.9" fill="#0528c8"/>
<circle cx="214.00" cy="1707.00" r="5.9" fill="#0528c8"/>
<circle cx="232.70" cy="1725.80" r="5.9" fill="#0528c8"/>
<circle cx="259.70" cy="1723.60" r="5.9" fill="#0528c8"/>
<circle cx="286.90" cy="1754.30" r="5.9" fill="#0528c8"/>
<circle cx="314.10" cy="1768.50" r="5.9" fill="#0528c8"/>
<circle cx="322.60" cy="1823.80" r="5.9" fill="#0528c8"/>
<circle cx="341.00" cy="1869.60" r="5.9" fill="#0528c8"/>
<circle cx="329.70" cy="1883.20" r="5.9" fill="#0528c8"/>
<circle cx="349.60" cy="1905.60" r="5.9" fill="#0528c8"/>
<circle cx="357.10" cy="1925.70" r="5.9" fill="#0528c8"/>
<circle cx="367.90" cy="1925.70" r="5.9" fill="#0528c8"/>
<circle cx="395.30" cy="1930.70" r="5.9" fill="#0528c8"/>
<circle cx="422.30" cy="1933.20" r="5.9" fill="#0528c8"/>
<circle cx="476.50" cy="1929.00" r="5.9" fill="#0528c8"/>
<circle cx="503.50" cy="1931.70" r="5.9" fill="#0528c8"/>
<rect x="145.40" y="1670.50" width="12" height="12" fill="#ff2300"/>
<rect x="172.40" y="1669.00" width="12" height="12" fill="#ff2300"/>
<rect x="199.30" y="1682.60" width="12" height="12" fill="#ff2300"/>
<rect x="208.00" y="1672.30" width="12" height="12" fill="#ff2300"/>
<rect x="226.70" y="1669.00" width="12" height="12" fill="#ff2300"/>
<rect x="253.70" y="1692.80" width="12" height="12" fill="#ff2300"/>
<rect x="280.90" y="1699.30" width="12" height="12" fill="#ff2300"/>
<rect x="307.70" y="1718.70" width="12" height="12" fill="#ff2300"/>
<rect x="317.40" y="1718.70" width="12" height="12" fill="#ff2300"/>
<rect x="323.40" y="1760.30" width="12" height="12" fill="#ff2300"/>
<rect x="335.40" y="1783.70" width="12" height="12" fill="#ff2300"/>
<rect x="343.80" y="1816.70" width="12" height="12" fill="#ff2300"/>
<rect x="362.40" y="1865.70" width="12" height="12" fill="#ff2300"/>
<rect x="351.10" y="1879.30" width="12" height="12" fill="#ff2300"/>
<rect x="389.30" y="1898.50" width="12" height="12" fill="#ff2300"/>
<rect x="416.30" y="1916.90" width="12" height="12" fill="#ff2300"/>
<rect x="443.50" y="1927.70" width="12" height="12" fill="#ff2300"/>
<rect x="470.50" y="1927.70" width="12" height="12" fill="#ff2300"/>
<rect x="497.50" y="1929.00" width="12" height="12" fill="#ff2300"/>
<line x1="379.40" y1="1659.80" x2="413.50" y2="1659.80" stroke="#0528c8" stroke-width="2.20"/>
<circle cx="396.60" cy="1659.80" r="5.9" fill="#0528c8"/>
<text transform="translate(418.45,1667.97) scale(0.9875,1)" font-size="24.01" fill="#000">NC</text>
<text transform="translate(483.83,1667.97) scale(0.9814,1)" font-size="24.01" fill="#000">IC50=2.053</text>
<line x1="379.40" y1="1694.20" x2="413.50" y2="1694.20" stroke="#ff2300" stroke-width="2.20"/>
<rect x="390.60" y="1688.20" width="12" height="12" fill="#ff2300"/>
<text transform="translate(418.07,1702.77) scale(0.9814,1)" font-size="24.01" fill="#000">ENO1 IC50=4.542</text>
<line x1="771.20" y1="1629.10" x2="771.20" y2="1947.20" stroke="#000" stroke-width="2.20"/>
<line x1="762.30" y1="1938.80" x2="1234.60" y2="1938.80" stroke="#000" stroke-width="2.20"/>
<line x1="762.60" y1="1680.90" x2="771.20" y2="1680.90" stroke="#000" stroke-width="2.20"/>
<line x1="762.60" y1="1808.80" x2="771.20" y2="1808.80" stroke="#000" stroke-width="2.20"/>
<line x1="762.60" y1="1938.80" x2="771.20" y2="1938.80" stroke="#000" stroke-width="2.20"/>
<text transform="translate(718.27,1685.96) scale(0.9854,1)" font-size="24.43" fill="#000">100</text>
<text transform="translate(727.72,1814.76) scale(1.0139,1)" font-size="24.15" fill="#000">50</text>
<text transform="translate(737.16,1943.57)" font-size="24.01" fill="#000">0</text>
<line x1="771.60" y1="1938.80" x2="771.60" y2="1946.80" stroke="#000" stroke-width="2.20"/>
<text transform="translate(762.93,1972.28)" font-size="24.00" fill="#000">-2</text>
<line x1="864.20" y1="1938.80" x2="864.20" y2="1946.80" stroke="#000" stroke-width="2.20"/>
<text transform="translate(855.53,1972.16)" font-size="24.00" fill="#000">-1</text>
<line x1="956.80" y1="1938.80" x2="956.80" y2="1946.80" stroke="#000" stroke-width="2.20"/>
<text transform="translate(952.13,1972.16)" font-size="24.00" fill="#000">0</text>
<line x1="1049.40" y1="1938.80" x2="1049.40" y2="1946.80" stroke="#000" stroke-width="2.20"/>
<text transform="translate(1044.73,1972.16)" font-size="24.00" fill="#000">1</text>
<line x1="1142.00" y1="1938.80" x2="1142.00" y2="1946.80" stroke="#000" stroke-width="2.20"/>
<text transform="translate(1137.33,1972.28)" font-size="24.00" fill="#000">2</text>
<line x1="1234.60" y1="1938.80" x2="1234.60" y2="1946.80" stroke="#000" stroke-width="2.20"/>
<text transform="translate(1229.93,1972.16)" font-size="24.00" fill="#000">3</text>
<line x1="772.20" y1="1807.50" x2="1235.00" y2="1807.50" stroke="#000" stroke-width="2.40" stroke-dasharray="6.6,4.2" stroke-linecap="round"/>
<text transform="translate(866.31,2005.08) scale(0.9872,1)" font-size="23.71" fill="#000">Cisplatin concentration(Log)</text>
<text transform="translate(703.16,1886.09) rotate(-90) scale(0.9465,1)" font-size="24.78" fill="#000">Cell Viability (%)</text>
<text transform="translate(951.29,2051.96) scale(0.9416,1)" font-size="24.72" fill="#000">PAMC-82</text>
<polyline points="817.90,1681.69 819.71,1681.73 821.51,1681.79 823.32,1681.84 825.12,1681.90 826.93,1681.96 828.73,1682.03 830.54,1682.10 832.35,1682.17 834.15,1682.25 835.96,1682.34 837.76,1682.43 839.57,1682.52 841.37,1682.62 843.18,1682.73 844.99,1682.84 846.79,1682.96 848.60,1683.09 850.40,1683.23 852.21,1683.37 854.01,1683.52 855.82,1683.68 857.63,1683.86 859.43,1684.04 861.24,1684.23 863.04,1684.44 864.85,1684.65 866.65,1684.89 868.46,1685.13 870.27,1685.39 872.07,1685.67 873.88,1685.96 875.68,1686.27 877.49,1686.60 879.29,1686.94 881.10,1687.31 882.91,1687.70 884.71,1688.11 886.52,1688.55 888.32,1689.01 890.13,1689.51 891.93,1690.02 893.74,1690.57 895.55,1691.15 897.35,1691.77 899.16,1692.41 900.96,1693.10 902.77,1693.82 904.57,1694.59 906.38,1695.40 908.18,1696.25 909.99,1697.15 911.80,1698.09 913.60,1699.09 915.41,1700.14 917.21,1701.25 919.02,1702.42 920.82,1703.64 922.63,1704.93 924.44,1706.28 926.24,1707.71 928.05,1709.20 929.85,1710.76 931.66,1712.40 933.46,1714.11 935.27,1715.90 937.08,1717.78 938.88,1719.73 940.69,1721.77 942.49,1723.90 944.30,1726.12 946.10,1728.42 947.91,1730.81 949.72,1733.29 951.52,1735.87 953.33,1738.53 955.13,1741.29 956.94,1744.14 958.74,1747.07 960.55,1750.09 962.36,1753.20 964.16,1756.39 965.97,1759.66 967.77,1763.01 969.58,1766.44 971.38,1769.93 973.19,1773.49 975.00,1777.11 976.80,1780.79 978.61,1784.52 980.41,1788.29 982.22,1792.09 984.02,1795.93 985.83,1799.80 987.64,1803.68 989.44,1807.57 991.25,1811.47 993.05,1815.36 994.86,1819.24 996.66,1823.10 998.47,1826.94 1000.28,1830.75 1002.08,1834.52 1003.89,1838.24 1005.69,1841.92 1007.50,1845.54 1009.30,1849.09 1011.11,1852.59 1012.92,1856.01 1014.72,1859.36 1016.53,1862.62 1018.33,1865.81 1020.14,1868.92 1021.94,1871.94 1023.75,1874.87 1025.56,1877.71 1027.36,1880.46 1029.17,1883.12 1030.97,1885.70 1032.78,1888.18 1034.58,1890.57 1036.39,1892.87 1038.20,1895.08 1040.00,1897.20 1041.81,1899.24 1043.61,1901.19 1045.42,1903.06 1047.22,1904.85 1049.03,1906.56 1050.84,1908.20 1052.64,1909.76 1054.45,1911.25 1056.25,1912.67 1058.06,1914.02 1059.86,1915.30 1061.67,1916.53 1063.48,1917.69 1065.28,1918.79 1067.09,1919.84 1068.89,1920.84 1070.70,1921.79 1072.50,1922.68 1074.31,1923.53 1076.12,1924.34 1077.92,1925.10 1079.73,1925.82 1081.53,1926.51 1083.34,1927.16 1085.14,1927.77 1086.95,1928.35 1088.75,1928.90 1090.56,1929.41 1092.37,1929.90 1094.17,1930.36 1095.98,1930.80 1097.78,1931.21 1099.59,1931.60 1101.39,1931.97 1103.20,1932.32 1105.01,1932.64 1106.81,1932.95 1108.62,1933.24 1110.42,1933.52 1112.23,1933.78 1114.03,1934.02 1115.84,1934.25 1117.65,1934.47 1119.45,1934.68 1121.26,1934.87 1123.06,1935.05 1124.87,1935.22 1126.67,1935.38 1128.48,1935.54 1130.29,1935.68 1132.09,1935.82 1133.90,1935.94 1135.70,1936.06 1137.51,1936.18 1139.31,1936.28 1141.12,1936.38 1142.93,1936.48 1144.73,1936.57 1146.54,1936.65 1148.34,1936.73 1150.15,1936.80 1151.95,1936.87 1153.76,1936.94 1155.57,1937.00 1157.37,1937.06 1159.18,1937.12 1160.98,1937.17 1162.79,1937.22 1164.59,1937.26 1166.40,1937.31 1168.21,1937.35 1170.01,1937.38 1171.82,1937.42 1173.62,1937.45 1175.43,1937.49 1177.23,1937.52 1179.04,1937.55" fill="none" stroke="#0014c8" stroke-width="2.3"/>
<polyline points="817.90,1682.97 819.71,1683.10 821.51,1683.24 823.32,1683.39 825.12,1683.55 826.93,1683.72 828.73,1683.90 830.54,1684.09 832.35,1684.30 834.15,1684.52 835.96,1684.75 837.76,1684.99 839.57,1685.25 841.37,1685.53 843.18,1685.83 844.99,1686.14 846.79,1686.47 848.60,1686.83 850.40,1687.20 852.21,1687.60 854.01,1688.02 855.82,1688.47 857.63,1688.95 859.43,1689.45 861.24,1689.99 863.04,1690.55 864.85,1691.15 866.65,1691.79 868.46,1692.47 870.27,1693.18 872.07,1693.94 873.88,1694.74 875.68,1695.58 877.49,1696.48 879.29,1697.42 881.10,1698.42 882.91,1699.48 884.71,1700.59 886.52,1701.77 888.32,1703.00 890.13,1704.31 891.93,1705.68 893.74,1707.12 895.55,1708.64 897.35,1710.23 899.16,1711.91 900.96,1713.66 902.77,1715.50 904.57,1717.43 906.38,1719.44 908.18,1721.55 909.99,1723.75 911.80,1726.04 913.60,1728.42 915.41,1730.91 917.21,1733.49 919.02,1736.17 920.82,1738.94 922.63,1741.82 924.44,1744.79 926.24,1747.85 928.05,1751.01 929.85,1754.26 931.66,1757.60 933.46,1761.03 935.27,1764.54 937.08,1768.12 938.88,1771.78 940.69,1775.51 942.49,1779.29 944.30,1783.14 946.10,1787.03 947.91,1790.97 949.72,1794.95 951.52,1798.95 953.33,1802.97 955.13,1807.01 956.94,1811.05 958.74,1815.08 960.55,1819.11 962.36,1823.11 964.16,1827.09 965.97,1831.04 967.77,1834.95 969.58,1838.80 971.38,1842.60 973.19,1846.34 975.00,1850.02 976.80,1853.62 978.61,1857.14 980.41,1860.58 982.22,1863.94 984.02,1867.21 985.83,1870.39 987.64,1873.48 989.44,1876.47 991.25,1879.36 993.05,1882.16 994.86,1884.86 996.66,1887.46 998.47,1889.96 1000.28,1892.37 1002.08,1894.68 1003.89,1896.90 1005.69,1899.02 1007.50,1901.06 1009.30,1903.00 1011.11,1904.86 1012.92,1906.63 1014.72,1908.32 1016.53,1909.93 1018.33,1911.47 1020.14,1912.92 1021.94,1914.31 1023.75,1915.63 1025.56,1916.88 1027.36,1918.07 1029.17,1919.19 1030.97,1920.26 1032.78,1921.27 1034.58,1922.23 1036.39,1923.13 1038.20,1923.99 1040.00,1924.80 1041.81,1925.56 1043.61,1926.29 1045.42,1926.97 1047.22,1927.61 1049.03,1928.22 1050.84,1928.80 1052.64,1929.34 1054.45,1929.85 1056.25,1930.33 1058.06,1930.79 1059.86,1931.21 1061.67,1931.62 1063.48,1932.00 1065.28,1932.35 1067.09,1932.69 1068.89,1933.01 1070.70,1933.31 1072.50,1933.59 1074.31,1933.85 1076.12,1934.10 1077.92,1934.34 1079.73,1934.56 1081.53,1934.76 1083.34,1934.96 1085.14,1935.14 1086.95,1935.31 1088.75,1935.48 1090.56,1935.63 1092.37,1935.77 1094.17,1935.91 1095.98,1936.03 1097.78,1936.15 1099.59,1936.26 1101.39,1936.37 1103.20,1936.47 1105.01,1936.56 1106.81,1936.65 1108.62,1936.73 1110.42,1936.81 1112.23,1936.88 1114.03,1936.95 1115.84,1937.01 1117.65,1937.07 1119.45,1937.13 1121.26,1937.18 1123.06,1937.23 1124.87,1937.28 1126.67,1937.32 1128.48,1937.36 1130.29,1937.40 1132.09,1937.44 1133.90,1937.47 1135.70,1937.50 1137.51,1937.53 1139.31,1937.56 1141.12,1937.59 1142.93,1937.61 1144.73,1937.64 1146.54,1937.66 1148.34,1937.68 1150.15,1937.70 1151.95,1937.72 1153.76,1937.74 1155.57,1937.75 1157.37,1937.77 1159.18,1937.78 1160.98,1937.79 1162.79,1937.81 1164.59,1937.82 1166.40,1937.83 1168.21,1937.84 1170.01,1937.85 1171.82,1937.86 1173.62,1937.87 1175.43,1937.88 1177.23,1937.88 1179.04,1937.89" fill="none" stroke="#ff1a00" stroke-width="2.3"/>
<circle cx="817.40" cy="1680.00" r="5.9" fill="#0528c8"/>
<circle cx="844.60" cy="1691.70" r="5.9" fill="#0528c8"/>
<circle cx="872.70" cy="1665.80" r="5.9" fill="#0528c8"/>
<circle cx="900.70" cy="1697.10" r="5.9" fill="#0528c8"/>
<circle cx="928.80" cy="1717.20" r="5.9" fill="#0528c8"/>
<circle cx="956.80" cy="1760.20" r="5.9" fill="#0528c8"/>
<circle cx="983.90" cy="1783.00" r="5.9" fill="#0528c8"/>
<circle cx="1000.80" cy="1818.40" r="5.9" fill="#0528c8"/>
<circle cx="1012.50" cy="1845.60" r="5.9" fill="#0528c8"/>
<circle cx="1021.60" cy="1874.70" r="5.9" fill="#0528c8"/>
<circle cx="1029.20" cy="1897.40" r="5.9" fill="#0528c8"/>
<circle cx="1040.70" cy="1912.80" r="5.9" fill="#0528c8"/>
<circle cx="1068.30" cy="1923.80" r="5.9" fill="#0528c8"/>
<circle cx="1095.70" cy="1929.70" r="5.9" fill="#0528c8"/>
<circle cx="1124.60" cy="1925.50" r="5.9" fill="#0528c8"/>
<circle cx="1152.00" cy="1923.10" r="5.9" fill="#0528c8"/>
<circle cx="1180.10" cy="1925.50" r="5.9" fill="#0528c8"/>
<rect x="811.40" y="1672.80" width="12" height="12" fill="#ff2300"/>
<rect x="838.60" y="1681.40" width="12" height="12" fill="#ff2300"/>
<rect x="866.70" y="1674.30" width="12" height="12" fill="#ff2300"/>
<rect x="875.30" y="1689.00" width="12" height="12" fill="#ff2300"/>
<rect x="894.70" y="1710.10" width="12" height="12" fill="#ff2300"/>
<rect x="922.80" y="1756.30" width="12" height="12" fill="#ff2300"/>
<rect x="950.80" y="1810.70" width="12" height="12" fill="#ff2300"/>
<rect x="978.40" y="1844.40" width="12" height="12" fill="#ff2300"/>
<rect x="994.80" y="1886.00" width="12" height="12" fill="#ff2300"/>
<rect x="1007.00" y="1913.40" width="12" height="12" fill="#ff2300"/>
<rect x="1015.60" y="1908.00" width="12" height="12" fill="#ff2300"/>
<rect x="1023.20" y="1917.80" width="12" height="12" fill="#ff2300"/>
<rect x="1034.70" y="1923.20" width="12" height="12" fill="#ff2300"/>
<rect x="1062.30" y="1926.90" width="12" height="12" fill="#ff2300"/>
<rect x="1089.70" y="1926.90" width="12" height="12" fill="#ff2300"/>
<rect x="1118.60" y="1923.70" width="12" height="12" fill="#ff2300"/>
<rect x="1146.00" y="1924.40" width="12" height="12" fill="#ff2300"/>
<rect x="1174.10" y="1925.70" width="12" height="12" fill="#ff2300"/>
<line x1="817.40" y1="1670.00" x2="817.40" y2="1687.40" stroke="#ff2300" stroke-width="2.60"/>
<line x1="808.40" y1="1670.00" x2="826.40" y2="1670.00" stroke="#ff2300" stroke-width="3.00"/>
<line x1="808.40" y1="1687.40" x2="826.40" y2="1687.40" stroke="#ff2300" stroke-width="3.00"/>
<line x1="984.40" y1="1844.00" x2="984.40" y2="1857.80" stroke="#ff2300" stroke-width="2.60"/>
<line x1="975.40" y1="1844.00" x2="993.40" y2="1844.00" stroke="#ff2300" stroke-width="3.00"/>
<line x1="975.40" y1="1857.80" x2="993.40" y2="1857.80" stroke="#ff2300" stroke-width="3.00"/>
<line x1="872.70" y1="1673.00" x2="872.70" y2="1688.00" stroke="#ff2300" stroke-width="2.60"/>
<line x1="1063.80" y1="1645.00" x2="1098.60" y2="1645.00" stroke="#0528c8" stroke-width="2.20"/>
<circle cx="1081.20" cy="1645.00" r="5.9" fill="#0528c8"/>
<text transform="translate(1107.75,1650.57)" font-size="23.15" fill="#000">shcon</text>
<text transform="translate(1205.10,1650.58) scale(1.0347,1)" font-size="22.03" fill="#000">IC50=2.301</text>
<line x1="1066.70" y1="1680.20" x2="1101.70" y2="1680.20" stroke="#ff2300" stroke-width="2.20"/>
<rect x="1078.50" y="1674.20" width="12" height="12" fill="#ff2300"/>
<text transform="translate(1107.77,1686.27) scale(0.9609,1)" font-size="23.69" fill="#000">shENO1</text>
<text transform="translate(1212.86,1686.28) scale(1.0277,1)" font-size="22.60" fill="#000">IC50=0.9858</text>
<line x1="110.90" y1="2082.50" x2="110.90" y2="2403.00" stroke="#000" stroke-width="2.20"/>
<line x1="101.50" y1="2394.80" x2="611.60" y2="2394.80" stroke="#000" stroke-width="2.20"/>
<line x1="101.30" y1="2134.00" x2="110.90" y2="2134.00" stroke="#000" stroke-width="2.20"/>
<line x1="101.30" y1="2263.40" x2="110.90" y2="2263.40" stroke="#000" stroke-width="2.20"/>
<line x1="101.30" y1="2394.80" x2="110.90" y2="2394.80" stroke="#000" stroke-width="2.20"/>
<text transform="translate(51.36,2145.98) scale(1.0213,1)" font-size="22.32" fill="#000">100</text>
<text transform="translate(63.67,2265.68) scale(1.0366,1)" font-size="22.32" fill="#000">50</text>
<text transform="translate(76.37,2385.49) scale(1.1256,1)" font-size="21.19" fill="#000">0</text>
<line x1="111.20" y1="2394.80" x2="111.20" y2="2399.80" stroke="#000" stroke-width="2.20"/>
<text transform="translate(100.00,2427.38) scale(1.0500,1)" font-size="24.00" fill="#000">-2</text>
<line x1="211.10" y1="2394.80" x2="211.10" y2="2399.80" stroke="#000" stroke-width="2.20"/>
<text transform="translate(199.90,2427.26) scale(1.0500,1)" font-size="24.00" fill="#000">-1</text>
<line x1="311.00" y1="2394.80" x2="311.00" y2="2399.80" stroke="#000" stroke-width="2.20"/>
<text transform="translate(303.99,2427.26) scale(1.0500,1)" font-size="24.00" fill="#000">0</text>
<line x1="410.90" y1="2394.80" x2="410.90" y2="2399.80" stroke="#000" stroke-width="2.20"/>
<text transform="translate(403.89,2427.26) scale(1.0500,1)" font-size="24.00" fill="#000">1</text>
<line x1="510.80" y1="2394.80" x2="510.80" y2="2399.80" stroke="#000" stroke-width="2.20"/>
<text transform="translate(503.79,2427.38) scale(1.0500,1)" font-size="24.00" fill="#000">2</text>
<line x1="610.70" y1="2394.80" x2="610.70" y2="2399.80" stroke="#000" stroke-width="2.20"/>
<text transform="translate(603.69,2427.26) scale(1.0500,1)" font-size="24.00" fill="#000">3</text>
<line x1="112.00" y1="2262.70" x2="594.60" y2="2262.70" stroke="#000" stroke-width="2.40" stroke-dasharray="6.6,4.2" stroke-linecap="round"/>
<text transform="translate(178.13,2455.20) scale(1.0583,1)" font-size="23.60" fill="#000">Cisplatin concentration(Log)</text>
<text transform="translate(43.03,2368.84) rotate(-90) scale(0.8993,1)" font-size="24.89" fill="#000">Cell Viability (%)</text>
<text transform="translate(226.82,2494.88) scale(1.0467,1)" font-size="22.74" fill="#000">SNU16</text>
<polyline points="131.18,2134.28 133.28,2134.30 135.38,2134.32 137.47,2134.34 139.57,2134.37 141.67,2134.39 143.77,2134.42 145.87,2134.45 147.96,2134.48 150.06,2134.52 152.16,2134.55 154.26,2134.59 156.35,2134.63 158.45,2134.68 160.55,2134.73 162.65,2134.78 164.75,2134.83 166.84,2134.89 168.94,2134.95 171.04,2135.02 173.14,2135.09 175.24,2135.16 177.33,2135.24 179.43,2135.33 181.53,2135.42 183.63,2135.52 185.73,2135.63 187.82,2135.74 189.92,2135.86 192.02,2135.99 194.12,2136.13 196.21,2136.28 198.31,2136.44 200.41,2136.61 202.51,2136.79 204.61,2136.98 206.70,2137.18 208.80,2137.40 210.90,2137.64 213.00,2137.89 215.10,2138.16 217.19,2138.45 219.29,2138.75 221.39,2139.08 223.49,2139.43 225.59,2139.80 227.68,2140.19 229.78,2140.62 231.88,2141.07 233.98,2141.55 236.07,2142.06 238.17,2142.60 240.27,2143.19 242.37,2143.80 244.47,2144.46 246.56,2145.16 248.66,2145.91 250.76,2146.70 252.86,2147.55 254.96,2148.44 257.05,2149.39 259.15,2150.40 261.25,2151.48 263.35,2152.61 265.45,2153.82 267.54,2155.09 269.64,2156.44 271.74,2157.87 273.84,2159.37 275.94,2160.97 278.03,2162.65 280.13,2164.42 282.23,2166.28 284.33,2168.24 286.42,2170.30 288.52,2172.47 290.62,2174.74 292.72,2177.12 294.82,2179.61 296.91,2182.20 299.01,2184.92 301.11,2187.74 303.21,2190.68 305.31,2193.74 307.40,2196.90 309.50,2200.18 311.60,2203.57 313.70,2207.07 315.80,2210.67 317.89,2214.37 319.99,2218.17 322.09,2222.06 324.19,2226.03 326.28,2230.09 328.38,2234.21 330.48,2238.40 332.58,2242.64 334.68,2246.93 336.77,2251.26 338.87,2255.61 340.97,2259.98 343.07,2264.36 345.17,2268.74 347.26,2273.10 349.36,2277.44 351.46,2281.75 353.56,2286.02 355.66,2290.24 357.75,2294.40 359.85,2298.50 361.95,2302.52 364.05,2306.46 366.14,2310.31 368.24,2314.06 370.34,2317.72 372.44,2321.28 374.54,2324.73 376.63,2328.07 378.73,2331.30 380.83,2334.42 382.93,2337.42 385.03,2340.31 387.12,2343.09 389.22,2345.75 391.32,2348.30 393.42,2350.74 395.52,2353.07 397.61,2355.29 399.71,2357.41 401.81,2359.43 403.91,2361.35 406.00,2363.17 408.10,2364.90 410.20,2366.54 412.30,2368.10 414.40,2369.57 416.49,2370.96 418.59,2372.28 420.69,2373.52 422.79,2374.69 424.89,2375.80 426.98,2376.85 429.08,2377.83 431.18,2378.76 433.28,2379.63 435.38,2380.45 437.47,2381.22 439.57,2381.95 441.67,2382.63 443.77,2383.27 445.87,2383.87 447.96,2384.44 450.06,2384.97 452.16,2385.47 454.26,2385.93 456.35,2386.37 458.45,2386.78 460.55,2387.17 462.65,2387.53 464.75,2387.87 466.84,2388.19 468.94,2388.48 471.04,2388.76 473.14,2389.02 475.24,2389.27 477.33,2389.49 479.43,2389.71 481.53,2389.91 483.63,2390.10 485.73,2390.27 487.82,2390.43 489.92,2390.59 492.02,2390.73 494.12,2390.87 496.21,2390.99 498.31,2391.11 500.41,2391.22 502.51,2391.32 504.61,2391.42 506.70,2391.51 508.80,2391.59 510.90,2391.67 513.00,2391.74 515.10,2391.81 517.19,2391.88 519.29,2391.94 521.39,2391.99 523.49,2392.05 525.59,2392.10 527.68,2392.14 529.78,2392.18 531.88,2392.23 533.98,2392.26 536.07,2392.30 538.17,2392.33 540.27,2392.36 542.37,2392.39 544.47,2392.42 546.56,2392.44 548.66,2392.47 550.76,2392.49" fill="none" stroke="#0014c8" stroke-width="2.3"/>
<polyline points="131.18,2134.15 133.28,2134.16 135.38,2134.17 137.47,2134.18 139.57,2134.19 141.67,2134.20 143.77,2134.22 145.87,2134.23 147.96,2134.24 150.06,2134.26 152.16,2134.28 154.26,2134.29 156.35,2134.31 158.45,2134.33 160.55,2134.35 162.65,2134.38 164.75,2134.40 166.84,2134.43 168.94,2134.45 171.04,2134.48 173.14,2134.51 175.24,2134.55 177.33,2134.58 179.43,2134.62 181.53,2134.66 183.63,2134.70 185.73,2134.75 187.82,2134.80 189.92,2134.85 192.02,2134.90 194.12,2134.96 196.21,2135.02 198.31,2135.09 200.41,2135.15 202.51,2135.23 204.61,2135.31 206.70,2135.39 208.80,2135.48 210.90,2135.57 213.00,2135.68 215.10,2135.78 217.19,2135.90 219.29,2136.02 221.39,2136.15 223.49,2136.28 225.59,2136.43 227.68,2136.58 229.78,2136.75 231.88,2136.92 233.98,2137.11 236.07,2137.31 238.17,2137.52 240.27,2137.74 242.37,2137.98 244.47,2138.23 246.56,2138.50 248.66,2138.78 250.76,2139.08 252.86,2139.40 254.96,2139.74 257.05,2140.10 259.15,2140.48 261.25,2140.89 263.35,2141.32 265.45,2141.78 267.54,2142.26 269.64,2142.78 271.74,2143.32 273.84,2143.90 275.94,2144.51 278.03,2145.16 280.13,2145.84 282.23,2146.57 284.33,2147.34 286.42,2148.15 288.52,2149.00 290.62,2149.91 292.72,2150.87 294.82,2151.88 296.91,2152.95 299.01,2154.07 301.11,2155.26 303.21,2156.51 305.31,2157.82 307.40,2159.20 309.50,2160.66 311.60,2162.19 313.70,2163.79 315.80,2165.48 317.89,2167.24 319.99,2169.09 322.09,2171.03 324.19,2173.05 326.28,2175.17 328.38,2177.37 330.48,2179.67 332.58,2182.07 334.68,2184.55 336.77,2187.14 338.87,2189.82 340.97,2192.60 343.07,2195.48 345.17,2198.45 347.26,2201.52 349.36,2204.67 351.46,2207.92 353.56,2211.26 355.66,2214.68 357.75,2218.19 359.85,2221.77 361.95,2225.42 364.05,2229.14 366.14,2232.93 368.24,2236.77 370.34,2240.65 372.44,2244.59 374.54,2248.55 376.63,2252.55 378.73,2256.56 380.83,2260.59 382.93,2264.63 385.03,2268.66 387.12,2272.69 389.22,2276.69 391.32,2280.67 393.42,2284.62 395.52,2288.52 397.61,2292.38 399.71,2296.19 401.81,2299.93 403.91,2303.61 406.00,2307.22 408.10,2310.76 410.20,2314.21 412.30,2317.58 414.40,2320.87 416.49,2324.06 418.59,2327.16 420.69,2330.17 422.79,2333.09 424.89,2335.90 426.98,2338.62 429.08,2341.25 431.18,2343.77 433.28,2346.20 435.38,2348.54 437.47,2350.78 439.57,2352.93 441.67,2354.99 443.77,2356.96 445.87,2358.84 447.96,2360.64 450.06,2362.36 452.16,2363.99 454.26,2365.55 456.35,2367.04 458.45,2368.45 460.55,2369.79 462.65,2371.06 464.75,2372.27 466.84,2373.42 468.94,2374.51 471.04,2375.54 473.14,2376.52 475.24,2377.45 477.33,2378.32 479.43,2379.15 481.53,2379.94 483.63,2380.68 485.73,2381.38 487.82,2382.04 489.92,2382.67 492.02,2383.26 494.12,2383.81 496.21,2384.34 498.31,2384.84 500.41,2385.30 502.51,2385.74 504.61,2386.16 506.70,2386.55 508.80,2386.92 510.90,2387.27 513.00,2387.60 515.10,2387.91 517.19,2388.20 519.29,2388.47 521.39,2388.73 523.49,2388.97 525.59,2389.20 527.68,2389.41 529.78,2389.62 531.88,2389.81 533.98,2389.98 536.07,2390.15 538.17,2390.31 540.27,2390.46 542.37,2390.60 544.47,2390.73 546.56,2390.86 548.66,2390.97 550.76,2391.08" fill="none" stroke="#ff1a00" stroke-width="2.3"/>
<circle cx="129.60" cy="2124.00" r="5.9" fill="#0528c8"/>
<circle cx="160.20" cy="2134.30" r="5.9" fill="#0528c8"/>
<circle cx="190.00" cy="2129.80" r="5.9" fill="#0528c8"/>
<circle cx="219.80" cy="2140.10" r="5.9" fill="#0528c8"/>
<circle cx="250.40" cy="2151.00" r="5.9" fill="#0528c8"/>
<circle cx="280.20" cy="2184.40" r="5.9" fill="#0528c8"/>
<circle cx="310.80" cy="2200.00" r="5.9" fill="#0528c8"/>
<circle cx="340.60" cy="2240.00" r="5.9" fill="#0528c8"/>
<circle cx="349.90" cy="2286.40" r="5.9" fill="#0528c8"/>
<circle cx="358.00" cy="2304.80" r="5.9" fill="#0528c8"/>
<circle cx="370.20" cy="2317.00" r="5.9" fill="#0528c8"/>
<circle cx="380.50" cy="2326.80" r="5.9" fill="#0528c8"/>
<circle cx="388.60" cy="2361.80" r="5.9" fill="#0528c8"/>
<circle cx="401.30" cy="2363.00" r="5.9" fill="#0528c8"/>
<circle cx="431.10" cy="2373.70" r="5.9" fill="#0528c8"/>
<circle cx="461.20" cy="2387.40" r="5.9" fill="#0528c8"/>
<circle cx="491.10" cy="2392.30" r="5.9" fill="#0528c8"/>
<circle cx="521.20" cy="2392.80" r="5.9" fill="#0528c8"/>
<circle cx="551.30" cy="2394.00" r="5.9" fill="#0528c8"/>
<line x1="129.60" y1="2116.40" x2="129.60" y2="2131.00" stroke="#0528c8" stroke-width="2.20"/>
<line x1="122.60" y1="2116.40" x2="136.60" y2="2116.40" stroke="#0528c8" stroke-width="2.20"/>
<line x1="122.60" y1="2131.00" x2="136.60" y2="2131.00" stroke="#0528c8" stroke-width="2.20"/>
<line x1="250.40" y1="2145.50" x2="250.40" y2="2159.60" stroke="#0528c8" stroke-width="2.20"/>
<line x1="243.40" y1="2145.50" x2="257.40" y2="2145.50" stroke="#0528c8" stroke-width="2.20"/>
<line x1="243.40" y1="2159.60" x2="257.40" y2="2159.60" stroke="#0528c8" stroke-width="2.20"/>
<rect x="123.60" y="2148.20" width="12" height="12" fill="#ff2300"/>
<rect x="154.20" y="2139.50" width="12" height="12" fill="#ff2300"/>
<rect x="184.00" y="2152.90" width="12" height="12" fill="#ff2300"/>
<rect x="213.80" y="2149.30" width="12" height="12" fill="#ff2300"/>
<rect x="244.40" y="2153.60" width="12" height="12" fill="#ff2300"/>
<rect x="274.20" y="2157.20" width="12" height="12" fill="#ff2300"/>
<rect x="304.50" y="2164.40" width="12" height="12" fill="#ff2300"/>
<rect x="334.10" y="2176.40" width="12" height="12" fill="#ff2300"/>
<rect x="343.90" y="2201.60" width="12" height="12" fill="#ff2300"/>
<rect x="352.00" y="2209.50" width="12" height="12" fill="#ff2300"/>
<rect x="364.70" y="2222.40" width="12" height="12" fill="#ff2300"/>
<rect x="374.00" y="2244.20" width="12" height="12" fill="#ff2300"/>
<rect x="382.30" y="2279.20" width="12" height="12" fill="#ff2300"/>
<rect x="395.30" y="2320.80" width="12" height="12" fill="#ff2300"/>
<rect x="425.10" y="2334.70" width="12" height="12" fill="#ff2300"/>
<rect x="455.20" y="2369.70" width="12" height="12" fill="#ff2300"/>
<rect x="485.10" y="2370.90" width="12" height="12" fill="#ff2300"/>
<rect x="515.20" y="2380.20" width="12" height="12" fill="#ff2300"/>
<rect x="545.30" y="2384.90" width="12" height="12" fill="#ff2300"/>
<line x1="310.50" y1="2162.80" x2="310.50" y2="2179.00" stroke="#ff2300" stroke-width="2.60"/>
<line x1="303.50" y1="2162.80" x2="317.50" y2="2162.80" stroke="#ff2300" stroke-width="3.00"/>
<line x1="303.50" y1="2179.00" x2="317.50" y2="2179.00" stroke="#ff2300" stroke-width="3.00"/>
<line x1="376.20" y1="2103.70" x2="413.40" y2="2103.70" stroke="#0528c8" stroke-width="2.20"/>
<circle cx="394.90" cy="2103.70" r="5.9" fill="#0528c8"/>
<text transform="translate(417.48,2111.87) scale(1.0884,1)" font-size="23.73" fill="#000">NC</text>
<text transform="translate(487.37,2111.87) scale(1.0636,1)" font-size="23.73" fill="#000">IC50=2.072</text>
<line x1="376.20" y1="2139.60" x2="413.40" y2="2139.60" stroke="#ff2300" stroke-width="2.20"/>
<rect x="388.90" y="2133.60" width="12" height="12" fill="#ff2300"/>
<text transform="translate(417.57,2147.47) scale(1.0389,1)" font-size="23.87" fill="#000">ENO1 IC50=5.171</text>
<line x1="764.30" y1="2079.00" x2="764.30" y2="2403.50" stroke="#000" stroke-width="2.20"/>
<line x1="755.00" y1="2394.50" x2="1254.10" y2="2394.50" stroke="#000" stroke-width="2.20"/>
<line x1="755.00" y1="2131.50" x2="764.30" y2="2131.50" stroke="#000" stroke-width="2.20"/>
<line x1="755.00" y1="2263.20" x2="764.30" y2="2263.20" stroke="#000" stroke-width="2.20"/>
<line x1="755.00" y1="2394.50" x2="764.30" y2="2394.50" stroke="#000" stroke-width="2.20"/>
<text transform="translate(705.73,2136.68) scale(1.0749,1)" font-size="22.88" fill="#000">100</text>
<text transform="translate(716.00,2268.36)" font-size="25.00" fill="#000">50</text>
<text transform="translate(725.90,2399.76) scale(1.0209,1)" font-size="25.00" fill="#000">0</text>
<line x1="763.80" y1="2394.50" x2="763.80" y2="2402.50" stroke="#000" stroke-width="2.20"/>
<text transform="translate(754.60,2425.56) scale(1.1200,1)" font-size="22.50" fill="#000">-2</text>
<line x1="861.80" y1="2394.50" x2="861.80" y2="2402.50" stroke="#000" stroke-width="2.20"/>
<text transform="translate(852.60,2425.44) scale(1.1200,1)" font-size="22.50" fill="#000">-1</text>
<line x1="959.80" y1="2394.50" x2="959.80" y2="2402.50" stroke="#000" stroke-width="2.20"/>
<text transform="translate(954.79,2425.45) scale(1.1200,1)" font-size="22.50" fill="#000">0</text>
<line x1="1057.80" y1="2394.50" x2="1057.80" y2="2402.50" stroke="#000" stroke-width="2.20"/>
<text transform="translate(1052.79,2425.44) scale(1.1200,1)" font-size="22.50" fill="#000">1</text>
<line x1="1155.80" y1="2394.50" x2="1155.80" y2="2402.50" stroke="#000" stroke-width="2.20"/>
<text transform="translate(1150.79,2425.56) scale(1.1200,1)" font-size="22.50" fill="#000">2</text>
<line x1="1253.80" y1="2394.50" x2="1253.80" y2="2402.50" stroke="#000" stroke-width="2.20"/>
<text transform="translate(1248.79,2425.45) scale(1.1200,1)" font-size="22.50" fill="#000">3</text>
<line x1="765.30" y1="2263.60" x2="1239.40" y2="2263.60" stroke="#000" stroke-width="2.40" stroke-dasharray="6.6,4.2" stroke-linecap="round"/>
<text transform="translate(866.29,2454.71) scale(1.0334,1)" font-size="23.07" fill="#000">Cisplatin concentration(Log)</text>
<text transform="translate(694.15,2298.54) rotate(-90) scale(0.8829,1)" font-size="25.32" fill="#000">Cell Viability (%)</text>
<text transform="translate(950.37,2495.27) scale(1.0386,1)" font-size="23.87" fill="#000">SNU16</text>
<polyline points="783.40,2132.08 785.31,2132.11 787.22,2132.14 789.13,2132.18 791.04,2132.22 792.95,2132.26 794.87,2132.30 796.78,2132.35 798.69,2132.40 800.60,2132.45 802.51,2132.50 804.42,2132.56 806.33,2132.62 808.24,2132.68 810.15,2132.75 812.06,2132.82 813.98,2132.90 815.89,2132.98 817.80,2133.06 819.71,2133.15 821.62,2133.24 823.53,2133.34 825.44,2133.45 827.35,2133.56 829.26,2133.68 831.17,2133.80 833.09,2133.93 835.00,2134.07 836.91,2134.21 838.82,2134.37 840.73,2134.53 842.64,2134.70 844.55,2134.88 846.46,2135.07 848.37,2135.27 850.28,2135.49 852.20,2135.71 854.11,2135.95 856.02,2136.20 857.93,2136.46 859.84,2136.74 861.75,2137.03 863.66,2137.34 865.57,2137.67 867.48,2138.02 869.39,2138.38 871.31,2138.76 873.22,2139.17 875.13,2139.59 877.04,2140.04 878.95,2140.51 880.86,2141.01 882.77,2141.53 884.68,2142.08 886.59,2142.66 888.50,2143.27 890.42,2143.92 892.33,2144.59 894.24,2145.30 896.15,2146.05 898.06,2146.83 899.97,2147.66 901.88,2148.52 903.79,2149.43 905.70,2150.38 907.62,2151.38 909.53,2152.43 911.44,2153.53 913.35,2154.68 915.26,2155.88 917.17,2157.14 919.08,2158.46 920.99,2159.84 922.90,2161.28 924.81,2162.78 926.72,2164.34 928.64,2165.98 930.55,2167.68 932.46,2169.45 934.37,2171.30 936.28,2173.22 938.19,2175.21 940.10,2177.27 942.01,2179.42 943.92,2181.64 945.83,2183.94 947.75,2186.31 949.66,2188.77 951.57,2191.30 953.48,2193.91 955.39,2196.60 957.30,2199.37 959.21,2202.21 961.12,2205.12 963.03,2208.11 964.94,2211.17 966.86,2214.29 968.77,2217.48 970.68,2220.74 972.59,2224.05 974.50,2227.41 976.41,2230.83 978.32,2234.30 980.23,2237.80 982.14,2241.35 984.05,2244.92 985.97,2248.53 987.88,2252.16 989.79,2255.80 991.70,2259.45 993.61,2263.11 995.52,2266.77 997.43,2270.43 999.34,2274.07 1001.25,2277.69 1003.16,2281.30 1005.08,2284.87 1006.99,2288.41 1008.90,2291.92 1010.81,2295.38 1012.72,2298.79 1014.63,2302.16 1016.54,2305.47 1018.45,2308.71 1020.36,2311.90 1022.27,2315.02 1024.19,2318.08 1026.10,2321.06 1028.01,2323.97 1029.92,2326.81 1031.83,2329.57 1033.74,2332.25 1035.65,2334.86 1037.56,2337.39 1039.47,2339.84 1041.38,2342.21 1043.30,2344.50 1045.21,2346.72 1047.12,2348.86 1049.03,2350.92 1050.94,2352.90 1052.85,2354.82 1054.76,2356.66 1056.67,2358.43 1058.58,2360.12 1060.49,2361.75 1062.41,2363.32 1064.32,2364.81 1066.23,2366.25 1068.14,2367.62 1070.05,2368.94 1071.96,2370.19 1073.87,2371.39 1075.78,2372.54 1077.69,2373.64 1079.61,2374.68 1081.52,2375.68 1083.43,2376.63 1085.34,2377.53 1087.25,2378.40 1089.16,2379.22 1091.07,2380.00 1092.98,2380.74 1094.89,2381.45 1096.80,2382.12 1098.72,2382.76 1100.63,2383.37 1102.54,2383.95 1104.45,2384.50 1106.36,2385.02 1108.27,2385.52 1110.18,2385.99 1112.09,2386.44 1114.00,2386.86 1115.91,2387.26 1117.83,2387.64 1119.74,2388.01 1121.65,2388.35 1123.56,2388.68 1125.47,2388.98 1127.38,2389.28 1129.29,2389.55 1131.20,2389.82 1133.11,2390.07 1135.02,2390.30 1136.93,2390.53 1138.85,2390.74 1140.76,2390.94 1142.67,2391.13 1144.58,2391.31 1146.49,2391.48 1148.40,2391.64 1150.31,2391.80 1152.22,2391.94 1154.13,2392.08 1156.05,2392.21 1157.96,2392.33 1159.87,2392.45 1161.78,2392.56 1163.69,2392.66 1165.60,2392.76" fill="none" stroke="#0014c8" stroke-width="2.3"/>
<polyline points="783.40,2133.66 785.31,2133.78 787.22,2133.91 789.13,2134.04 791.04,2134.18 792.95,2134.33 794.87,2134.49 796.78,2134.66 798.69,2134.84 800.60,2135.03 802.51,2135.22 804.42,2135.43 806.33,2135.65 808.24,2135.88 810.15,2136.13 812.06,2136.38 813.98,2136.66 815.89,2136.94 817.80,2137.25 819.71,2137.56 821.62,2137.90 823.53,2138.25 825.44,2138.63 827.35,2139.02 829.26,2139.43 831.17,2139.87 833.09,2140.33 835.00,2140.81 836.91,2141.32 838.82,2141.86 840.73,2142.42 842.64,2143.02 844.55,2143.64 846.46,2144.30 848.37,2144.98 850.28,2145.71 852.20,2146.47 854.11,2147.27 856.02,2148.11 857.93,2148.99 859.84,2149.91 861.75,2150.88 863.66,2151.89 865.57,2152.96 867.48,2154.07 869.39,2155.24 871.31,2156.46 873.22,2157.73 875.13,2159.07 877.04,2160.46 878.95,2161.91 880.86,2163.43 882.77,2165.01 884.68,2166.66 886.59,2168.38 888.50,2170.16 890.42,2172.02 892.33,2173.95 894.24,2175.95 896.15,2178.03 898.06,2180.18 899.97,2182.41 901.88,2184.72 903.79,2187.10 905.70,2189.56 907.62,2192.10 909.53,2194.71 911.44,2197.40 913.35,2200.17 915.26,2203.01 917.17,2205.92 919.08,2208.90 920.99,2211.95 922.90,2215.07 924.81,2218.25 926.72,2221.49 928.64,2224.79 930.55,2228.14 932.46,2231.54 934.37,2234.98 936.28,2238.47 938.19,2241.99 940.10,2245.54 942.01,2249.12 943.92,2252.72 945.83,2256.34 947.75,2259.97 949.66,2263.60 951.57,2267.23 953.48,2270.85 955.39,2274.46 957.30,2278.05 959.21,2281.63 961.12,2285.17 963.03,2288.68 964.94,2292.15 966.86,2295.58 968.77,2298.97 970.68,2302.30 972.59,2305.58 974.50,2308.80 976.41,2311.96 978.32,2315.06 980.23,2318.08 982.14,2321.04 984.05,2323.93 985.97,2326.75 987.88,2329.49 989.79,2332.15 991.70,2334.74 993.61,2337.25 995.52,2339.69 997.43,2342.05 999.34,2344.33 1001.25,2346.53 1003.16,2348.66 1005.08,2350.71 1006.99,2352.69 1008.90,2354.60 1010.81,2356.43 1012.72,2358.19 1014.63,2359.89 1016.54,2361.51 1018.45,2363.07 1020.36,2364.57 1022.27,2366.00 1024.19,2367.38 1026.10,2368.69 1028.01,2369.95 1029.92,2371.15 1031.83,2372.30 1033.74,2373.40 1035.65,2374.44 1037.56,2375.44 1039.47,2376.40 1041.38,2377.31 1043.30,2378.17 1045.21,2379.00 1047.12,2379.78 1049.03,2380.53 1050.94,2381.25 1052.85,2381.92 1054.76,2382.57 1056.67,2383.18 1058.58,2383.77 1060.49,2384.32 1062.41,2384.85 1064.32,2385.35 1066.23,2385.82 1068.14,2386.27 1070.05,2386.70 1071.96,2387.11 1073.87,2387.50 1075.78,2387.86 1077.69,2388.21 1079.61,2388.54 1081.52,2388.86 1083.43,2389.15 1085.34,2389.43 1087.25,2389.70 1089.16,2389.95 1091.07,2390.20 1092.98,2390.42 1094.89,2390.64 1096.80,2390.84 1098.72,2391.04 1100.63,2391.22 1102.54,2391.39 1104.45,2391.56 1106.36,2391.72 1108.27,2391.86 1110.18,2392.00 1112.09,2392.14 1114.00,2392.26 1115.91,2392.38 1117.83,2392.50 1119.74,2392.60 1121.65,2392.70 1123.56,2392.80 1125.47,2392.89 1127.38,2392.98 1129.29,2393.06 1131.20,2393.13 1133.11,2393.21 1135.02,2393.28 1136.93,2393.34 1138.85,2393.40 1140.76,2393.46 1142.67,2393.52 1144.58,2393.57 1146.49,2393.62 1148.40,2393.67 1150.31,2393.71 1152.22,2393.75 1154.13,2393.79 1156.05,2393.83 1157.96,2393.87 1159.87,2393.90 1161.78,2393.93 1163.69,2393.96 1165.60,2393.99" fill="none" stroke="#ff1a00" stroke-width="2.3"/>
<circle cx="783.10" cy="2128.70" r="5.9" fill="#0528c8"/>
<circle cx="812.70" cy="2134.80" r="5.9" fill="#0528c8"/>
<circle cx="841.80" cy="2134.30" r="5.9" fill="#0528c8"/>
<circle cx="870.50" cy="2158.00" r="5.9" fill="#0528c8"/>
<circle cx="900.70" cy="2160.70" r="5.9" fill="#0528c8"/>
<circle cx="930.30" cy="2186.60" r="5.9" fill="#0528c8"/>
<circle cx="959.80" cy="2206.10" r="5.9" fill="#0528c8"/>
<circle cx="989.20" cy="2238.40" r="5.9" fill="#0528c8"/>
<circle cx="999.20" cy="2248.40" r="5.9" fill="#0528c8"/>
<circle cx="1006.60" cy="2283.90" r="5.9" fill="#0528c8"/>
<circle cx="1018.60" cy="2317.40" r="5.9" fill="#0528c8"/>
<circle cx="1028.30" cy="2323.00" r="5.9" fill="#0528c8"/>
<circle cx="1036.40" cy="2346.30" r="5.9" fill="#0528c8"/>
<circle cx="1049.10" cy="2377.30" r="5.9" fill="#0528c8"/>
<circle cx="1078.00" cy="2375.40" r="5.9" fill="#0528c8"/>
<circle cx="1107.80" cy="2386.60" r="5.9" fill="#0528c8"/>
<circle cx="1137.20" cy="2387.10" r="5.9" fill="#0528c8"/>
<circle cx="1166.10" cy="2389.60" r="5.9" fill="#0528c8"/>
<line x1="930.30" y1="2178.00" x2="930.30" y2="2194.80" stroke="#0528c8" stroke-width="2.20"/>
<line x1="923.30" y1="2178.00" x2="937.30" y2="2178.00" stroke="#0528c8" stroke-width="2.20"/>
<line x1="923.30" y1="2194.80" x2="937.30" y2="2194.80" stroke="#0528c8" stroke-width="2.20"/>
<rect x="776.70" y="2142.80" width="12" height="12" fill="#ff2300"/>
<rect x="806.70" y="2139.10" width="12" height="12" fill="#ff2300"/>
<rect x="835.80" y="2139.50" width="12" height="12" fill="#ff2300"/>
<rect x="865.20" y="2146.70" width="12" height="12" fill="#ff2300"/>
<rect x="894.70" y="2176.20" width="12" height="12" fill="#ff2300"/>
<rect x="924.30" y="2220.90" width="12" height="12" fill="#ff2300"/>
<rect x="953.80" y="2282.10" width="12" height="12" fill="#ff2300"/>
<rect x="983.90" y="2309.50" width="12" height="12" fill="#ff2300"/>
<rect x="993.20" y="2338.30" width="12" height="12" fill="#ff2300"/>
<rect x="1000.60" y="2353.00" width="12" height="12" fill="#ff2300"/>
<rect x="1012.60" y="2362.30" width="12" height="12" fill="#ff2300"/>
<rect x="1022.30" y="2368.20" width="12" height="12" fill="#ff2300"/>
<rect x="1030.90" y="2367.70" width="12" height="12" fill="#ff2300"/>
<rect x="1043.10" y="2379.20" width="12" height="12" fill="#ff2300"/>
<rect x="1072.00" y="2383.60" width="12" height="12" fill="#ff2300"/>
<rect x="1101.30" y="2387.70" width="12" height="12" fill="#ff2300"/>
<rect x="1130.70" y="2387.70" width="12" height="12" fill="#ff2300"/>
<rect x="1160.50" y="2387.70" width="12" height="12" fill="#ff2300"/>
<line x1="782.70" y1="2142.30" x2="782.70" y2="2155.30" stroke="#ff2300" stroke-width="2.60"/>
<line x1="775.70" y1="2142.30" x2="789.70" y2="2142.30" stroke="#ff2300" stroke-width="3.00"/>
<line x1="775.70" y1="2155.30" x2="789.70" y2="2155.30" stroke="#ff2300" stroke-width="3.00"/>
<line x1="1076.70" y1="2095.10" x2="1113.50" y2="2095.10" stroke="#0528c8" stroke-width="2.20"/>
<circle cx="1095.00" cy="2095.10" r="5.9" fill="#0528c8"/>
<text transform="translate(1122.82,2100.87) scale(1.0360,1)" font-size="23.42" fill="#000">shcon</text>
<text transform="translate(1223.89,2100.88) scale(1.0553,1)" font-size="22.74" fill="#000">IC50=2.210</text>
<line x1="1079.40" y1="2131.20" x2="1116.40" y2="2131.20" stroke="#ff2300" stroke-width="2.20"/>
<rect x="1092.10" y="2125.20" width="12" height="12" fill="#ff2300"/>
<text transform="translate(1122.84,2136.57) scale(1.0090,1)" font-size="23.42" fill="#000">shENO1</text>
<text transform="translate(1232.41,2136.58) scale(1.0624,1)" font-size="22.32" fill="#000">IC50=0.7821</text>

</svg></body></html>
